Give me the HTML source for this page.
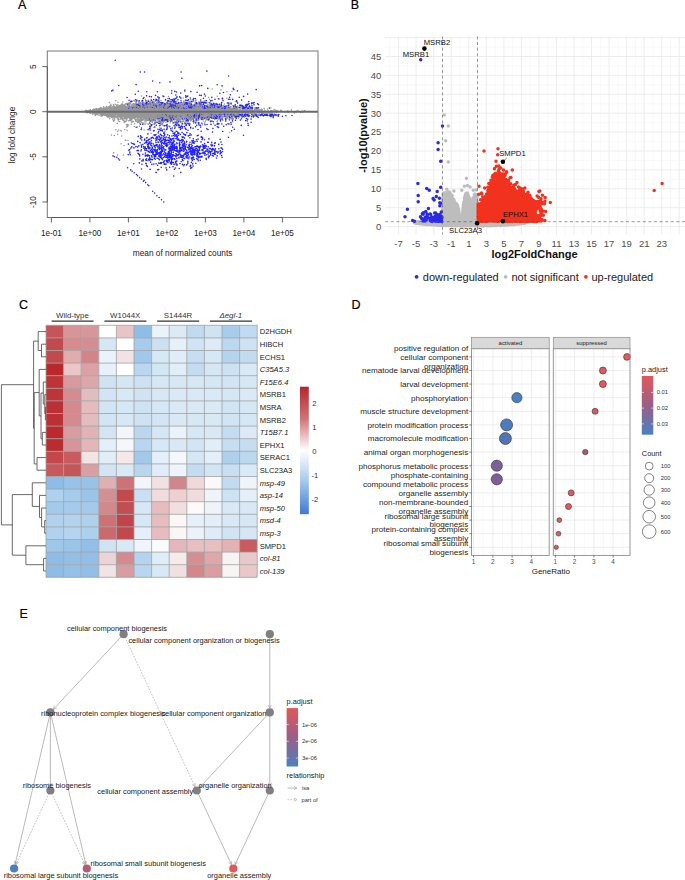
<!DOCTYPE html>
<html><head><meta charset="utf-8"><style>
html,body{margin:0;padding:0;background:#fff;}
svg{display:block;}
text{font-family:"Liberation Sans", sans-serif;}
</style></head><body>
<svg width="685" height="880" viewBox="0 0 685 880" font-family='"Liberation Sans", sans-serif'>
<rect width="685" height="880" fill="#fff"/>
<text x="18" y="9.4" font-size="12.5" fill="#000" stroke="#000" stroke-width="0.2">A</text>
<path d="M213.1 109.8h0M220.9 111.2h0M130.1 113.1h0M140.4 108.0h0M139.2 103.6h0M167.8 109.2h0M147.6 109.4h0M195.7 116.0h0M171.5 117.8h0M150.2 117.0h0M154.6 109.3h0M133.1 112.5h0M248.1 112.7h0M194.1 114.3h0M131.5 115.3h0M135.9 109.1h0M180.2 106.5h0M145.0 115.1h0M178.8 112.6h0M174.5 122.1h0M162.8 106.2h0M167.0 116.3h0M157.7 112.3h0M167.6 103.4h0M105.8 113.1h0M122.8 115.1h0M252.7 111.3h0M200.7 101.3h0M208.9 107.2h0M116.3 109.7h0M213.4 112.0h0M175.5 119.8h0M137.2 106.8h0M138.3 114.6h0M103.4 109.5h0M175.2 109.2h0M158.0 112.8h0M192.1 118.7h0M122.0 110.4h0M104.3 111.3h0M199.5 109.5h0M150.6 106.5h0M156.7 108.1h0M162.9 113.3h0M170.3 115.3h0M151.2 110.1h0M118.1 112.0h0M157.6 106.6h0M179.5 112.2h0M153.6 103.9h0M197.7 110.4h0M185.8 108.4h0M163.4 120.8h0M129.6 112.7h0M174.0 104.8h0M146.1 113.7h0M179.6 110.1h0M167.3 115.9h0M160.0 113.4h0M225.8 110.1h0M172.7 115.6h0M131.0 116.1h0M191.6 106.1h0M165.7 116.4h0M260.5 111.6h0M122.1 112.8h0M190.6 111.4h0M156.0 121.2h0M183.9 108.1h0M248.3 108.1h0M168.1 107.5h0M186.0 113.9h0M136.1 116.3h0M227.2 118.5h0M135.7 112.6h0M145.0 116.7h0M152.1 104.1h0M143.2 109.5h0M256.6 115.1h0M131.4 106.6h0M175.8 108.5h0M152.1 117.6h0M115.3 109.2h0M207.2 117.0h0M155.9 108.0h0M206.1 111.5h0M143.3 117.0h0M124.6 115.6h0M125.4 114.6h0M114.3 135.4h0M134.2 111.1h0M161.3 108.4h0M176.9 101.9h0M167.6 112.0h0M224.3 112.8h0M160.7 112.4h0M220.1 107.2h0M151.6 108.4h0M141.4 111.4h0M249.9 108.9h0M100.6 108.1h0M170.0 108.6h0M212.9 109.7h0M173.7 106.4h0M133.5 113.7h0M145.8 113.8h0M186.7 118.3h0M175.0 110.7h0M134.8 110.2h0M194.0 98.7h0M156.6 115.2h0M176.3 111.3h0M147.9 101.7h0M204.9 116.9h0M167.6 113.5h0M168.5 119.7h0M272.9 110.9h0M273.2 111.1h0M224.0 110.9h0M226.1 111.1h0M119.0 107.8h0M201.1 105.4h0M156.8 106.6h0M170.2 111.2h0M223.0 111.3h0M166.3 106.5h0M122.9 112.0h0M208.1 109.6h0M187.7 108.2h0M110.2 112.6h0M166.2 110.9h0M131.9 112.1h0M139.0 115.6h0M154.3 114.1h0M126.9 114.7h0M181.3 116.6h0M157.9 109.3h0M171.6 108.5h0M148.6 114.7h0M223.6 110.2h0M215.4 113.0h0M125.1 109.0h0M230.4 108.7h0M171.7 113.8h0M233.4 112.8h0M173.6 117.2h0M132.8 111.7h0M164.2 106.5h0M97.1 113.0h0M167.0 116.3h0M186.8 118.6h0M173.1 105.6h0M99.2 110.4h0M193.5 100.9h0M174.0 115.0h0M162.1 109.6h0M149.6 109.7h0M147.2 112.1h0M219.4 112.6h0M145.3 106.9h0M85.4 112.0h0M238.3 112.1h0M129.6 112.2h0M150.9 108.6h0M166.9 109.4h0M108.3 114.5h0M139.9 104.4h0M118.4 110.4h0M167.4 112.8h0M130.9 106.5h0M169.1 116.7h0M216.2 115.0h0M180.4 119.4h0M148.1 110.5h0M131.3 108.3h0M206.6 106.1h0M230.4 117.2h0M158.2 111.8h0M154.7 113.7h0M155.3 107.0h0M165.9 115.7h0M89.7 113.0h0M109.5 110.4h0M201.1 106.3h0M111.6 113.1h0M198.6 108.9h0M134.3 118.5h0M170.6 110.1h0M103.0 110.3h0M170.6 106.3h0M109.6 108.7h0M182.1 111.1h0M146.8 115.5h0M141.3 113.0h0M127.0 110.2h0M186.1 120.7h0M174.6 115.0h0M153.8 116.4h0M171.3 110.8h0M220.9 112.5h0M139.6 112.9h0M148.2 111.2h0M118.5 110.2h0M132.5 112.4h0M232.0 116.9h0M131.8 110.0h0M98.5 113.4h0M182.8 121.1h0M149.1 104.5h0M128.7 108.6h0M200.1 109.0h0M157.0 117.9h0M169.4 114.9h0M150.7 116.2h0M161.0 118.7h0M104.4 110.1h0M167.2 107.8h0M183.4 115.6h0M195.7 110.6h0M165.4 110.6h0M159.8 117.7h0M215.2 108.8h0M124.2 108.1h0M199.6 110.6h0M126.1 113.7h0M186.8 115.7h0M93.9 110.3h0M190.2 111.0h0M182.2 106.8h0M165.7 107.8h0M223.0 111.3h0M195.6 106.7h0M248.4 111.4h0M212.8 114.1h0M164.5 113.5h0M189.7 108.4h0M156.8 103.0h0M109.5 110.2h0M176.8 115.7h0M126.3 108.9h0M170.9 111.6h0M151.9 108.3h0M187.3 113.5h0M142.3 111.9h0M175.5 109.4h0M168.1 106.3h0M128.1 110.4h0M237.7 106.0h0M239.7 108.1h0M176.7 117.6h0M153.6 113.7h0M200.3 106.9h0M158.8 111.0h0M138.5 114.6h0M197.2 109.4h0M240.4 111.5h0M221.5 112.3h0M234.7 109.0h0M193.2 113.5h0M121.6 112.5h0M171.3 112.6h0M120.5 105.8h0M184.7 109.3h0M173.8 111.8h0M185.6 118.1h0M193.6 123.2h0M150.8 115.6h0M245.8 111.9h0M146.1 105.7h0M146.4 109.8h0M139.2 116.6h0M203.2 114.4h0M143.7 110.8h0M154.9 107.6h0M151.9 110.9h0M132.5 113.5h0M179.8 112.3h0M191.6 114.8h0M232.0 91.3h0M176.4 106.9h0M227.9 112.7h0M192.1 111.2h0M202.6 108.7h0M141.1 121.3h0M188.6 112.7h0M217.8 108.1h0M237.1 108.0h0M194.5 110.5h0M179.7 119.4h0M137.4 112.6h0M146.4 111.3h0M140.0 110.2h0M183.7 101.8h0M105.3 111.0h0M193.8 112.0h0M164.7 107.5h0M252.8 111.4h0M136.9 109.5h0M159.2 111.2h0M168.4 109.6h0M235.9 107.0h0M163.0 108.4h0M159.8 110.0h0M235.8 111.8h0M153.1 114.7h0M232.5 121.7h0M261.5 112.5h0M207.6 117.0h0M121.1 110.9h0M154.9 111.5h0M230.8 117.9h0M233.8 110.6h0M158.0 113.3h0M121.7 111.9h0M171.9 119.4h0M162.4 104.8h0M186.8 114.5h0M198.7 106.3h0M238.0 111.5h0M241.1 111.6h0M151.2 116.9h0M125.6 114.4h0M146.0 113.0h0M137.6 111.2h0M134.3 108.4h0M137.7 106.4h0M208.8 113.4h0M155.2 108.2h0M136.3 107.2h0M169.4 115.0h0M172.3 112.7h0M147.4 109.1h0M181.9 113.4h0M118.1 110.1h0M159.2 119.1h0M184.4 113.3h0M171.0 117.3h0M118.4 116.8h0M191.8 112.3h0M231.2 110.9h0M138.2 105.4h0M212.1 89.1h0M119.9 115.1h0M180.7 114.3h0M127.3 113.5h0M259.6 112.1h0M200.6 110.3h0M111.2 113.9h0M211.8 110.8h0M177.9 113.3h0M125.2 107.4h0M97.1 112.1h0M222.5 114.3h0M230.0 111.4h0M130.8 107.2h0M191.2 111.1h0M169.8 110.4h0M110.1 105.8h0M216.2 115.5h0M217.9 118.2h0M245.3 112.8h0M214.8 116.6h0M142.5 106.4h0M232.6 112.3h0M137.3 117.2h0M205.6 103.6h0M196.0 116.6h0M162.9 115.8h0M155.4 112.2h0M150.5 109.2h0M182.1 115.1h0M238.0 114.7h0M219.7 112.0h0M98.1 110.0h0M218.9 114.4h0M182.6 110.1h0M176.6 109.4h0M202.2 107.4h0M193.9 114.0h0M163.5 107.0h0M164.9 113.6h0M169.4 115.7h0M142.3 108.4h0M194.5 107.4h0M92.4 111.8h0M232.0 110.6h0M174.9 111.2h0M142.9 106.6h0M206.9 102.2h0M192.1 119.4h0M131.2 107.5h0M128.4 108.1h0M136.0 113.2h0M132.1 112.7h0M178.8 113.1h0M142.6 104.6h0M166.4 115.8h0M205.9 102.7h0M108.5 107.9h0M184.8 113.8h0M191.8 115.3h0M209.9 105.5h0M177.4 116.4h0M166.5 113.1h0M172.8 114.6h0M208.4 120.6h0M121.2 112.0h0M192.1 116.7h0M246.7 109.1h0M224.8 107.7h0M175.4 116.2h0M98.1 110.7h0M178.7 113.6h0M191.2 106.2h0M149.6 106.4h0M172.6 110.3h0M131.8 116.1h0M188.6 107.2h0M174.6 115.9h0M218.3 112.4h0M165.7 110.7h0M128.4 103.5h0M154.1 109.9h0M128.8 113.4h0M168.8 109.0h0M153.3 106.6h0M172.1 109.0h0M142.0 120.1h0M193.9 107.4h0M131.8 111.6h0M227.0 110.7h0M191.6 108.8h0M157.1 117.1h0M147.4 116.8h0M164.4 119.7h0M159.5 105.3h0M130.7 114.5h0M138.9 110.7h0M157.9 118.1h0M186.7 108.5h0M113.9 112.3h0M138.3 110.1h0M220.3 106.8h0M135.2 111.4h0M237.7 110.6h0M142.9 111.6h0M166.9 113.7h0M196.2 108.1h0M210.7 113.8h0M175.7 111.9h0M145.9 114.4h0M156.9 112.9h0M129.5 109.1h0M183.3 105.8h0M214.8 108.1h0M113.7 120.8h0M189.6 116.5h0M170.6 110.4h0M135.2 111.5h0M163.3 112.6h0M208.3 112.5h0M128.7 108.4h0M140.2 114.2h0M193.9 114.8h0M203.6 111.7h0M201.1 110.6h0M127.5 109.1h0M164.8 115.0h0M157.5 113.5h0M192.4 110.3h0M203.9 112.8h0M193.6 114.1h0M143.7 106.3h0M179.7 115.4h0M174.9 113.3h0M114.5 111.9h0M207.2 110.5h0M141.3 107.2h0M93.8 109.6h0M174.3 112.0h0M152.4 115.5h0M194.9 114.0h0M124.4 122.3h0M178.9 112.6h0M134.0 111.6h0M124.5 114.2h0M181.0 108.1h0M226.0 114.1h0M117.1 112.1h0M148.6 115.6h0M195.3 111.9h0M146.2 110.3h0M196.5 108.4h0M146.9 114.1h0M125.9 111.6h0M120.8 111.4h0M191.5 114.0h0M176.4 112.9h0M146.3 111.3h0M154.8 116.5h0M131.2 117.2h0M196.9 113.6h0M246.5 115.3h0M191.8 113.3h0M154.9 101.1h0M143.8 113.2h0M145.8 111.6h0M162.5 116.2h0M257.6 112.3h0M216.0 117.2h0M164.1 110.2h0M106.8 111.6h0M171.0 109.0h0M173.6 114.9h0M188.9 111.9h0M122.7 114.5h0M119.2 112.3h0M172.3 113.0h0M161.6 114.4h0M197.2 115.5h0M108.6 112.7h0M114.7 110.2h0M149.2 111.2h0M214.0 111.5h0M97.4 112.1h0M126.2 109.0h0M161.2 111.1h0M256.4 111.2h0M168.5 121.0h0M140.4 107.1h0M197.0 112.7h0M214.8 113.0h0M202.1 113.3h0M171.7 110.1h0M198.1 113.0h0M241.5 111.0h0M148.4 109.9h0M129.1 112.2h0M214.5 108.6h0M137.9 108.9h0M154.2 112.6h0M133.4 108.1h0M136.7 106.6h0M133.4 110.3h0M160.8 111.0h0M103.1 110.9h0M159.9 113.5h0M155.7 114.1h0M205.4 107.8h0M179.2 110.1h0M167.7 114.0h0M132.9 115.7h0M118.3 112.7h0M197.9 112.1h0M183.1 117.4h0M135.0 116.8h0M148.3 111.1h0M116.3 112.3h0M168.4 111.1h0M280.8 110.5h0M203.1 107.5h0M116.8 116.3h0M208.5 115.8h0M209.0 115.6h0M180.0 108.4h0M135.1 119.6h0M170.3 108.6h0M109.3 112.7h0M161.5 112.9h0M192.1 113.1h0M141.0 110.3h0M206.9 103.3h0M197.0 110.7h0M216.7 112.2h0M135.0 115.9h0M146.2 110.7h0M243.2 108.5h0M138.3 111.2h0M170.3 105.3h0M169.2 125.9h0M132.0 114.4h0M155.8 108.3h0M178.9 110.9h0M202.0 112.1h0M199.2 109.9h0M112.8 106.6h0M220.6 111.5h0M151.1 116.9h0M214.8 110.8h0M185.4 114.9h0M189.8 109.0h0M211.5 110.6h0M192.9 117.0h0M155.8 109.4h0M177.3 107.5h0M219.2 113.6h0M190.7 114.5h0M89.4 111.3h0M159.0 113.9h0M160.9 115.1h0M182.6 115.0h0M192.1 116.5h0M251.6 113.3h0M86.7 111.1h0M145.0 110.9h0M139.9 113.2h0M216.7 112.4h0M156.7 111.6h0M170.5 111.0h0M152.0 107.7h0M212.5 109.9h0M132.1 112.2h0M149.6 109.8h0M108.1 114.2h0M172.7 118.5h0M142.5 109.3h0M186.8 112.7h0M204.8 112.6h0M92.4 110.3h0M132.6 111.0h0M141.4 111.3h0M185.1 110.5h0M241.2 108.3h0M153.8 108.8h0M99.0 115.4h0M152.7 103.8h0M168.8 106.2h0M164.9 114.9h0M144.3 112.4h0M141.8 113.8h0M155.6 114.8h0M109.9 107.1h0M214.1 111.4h0M137.5 108.4h0M185.9 112.1h0M157.3 112.2h0M123.7 110.5h0M129.8 104.0h0M201.4 112.6h0M101.4 112.1h0M184.6 113.8h0M144.8 114.2h0M96.9 111.0h0M188.0 107.8h0M198.6 109.8h0M153.3 109.3h0M197.4 116.3h0M178.4 109.4h0M121.9 108.0h0M104.7 112.3h0M106.5 109.6h0M200.9 116.4h0M146.3 104.4h0M184.5 112.7h0M169.6 109.4h0M116.6 112.7h0M124.3 115.4h0M124.6 115.8h0M133.4 111.6h0M205.6 113.2h0M121.6 115.1h0M119.6 109.5h0M196.5 104.5h0M195.5 114.3h0M160.3 109.8h0M197.5 113.9h0M166.1 111.7h0M202.6 116.4h0M129.9 116.6h0M126.4 113.3h0M146.0 107.8h0M228.5 113.5h0M200.7 109.9h0M134.5 117.2h0M157.5 105.7h0M210.0 114.1h0M174.8 112.5h0M136.5 111.3h0M136.3 110.4h0M202.0 112.7h0M122.7 118.3h0M87.4 111.4h0M133.2 109.0h0M218.5 114.4h0M138.5 110.4h0M230.2 111.8h0M168.3 112.0h0M141.2 114.1h0M193.5 119.0h0M165.9 112.7h0M152.4 121.9h0M155.3 112.2h0M114.7 120.1h0M156.7 117.4h0M223.1 108.0h0M94.0 113.9h0M153.4 106.2h0M196.9 112.4h0M167.6 112.3h0M173.5 103.0h0M198.3 107.8h0M117.7 115.6h0M126.8 109.9h0M165.5 111.9h0M132.2 111.5h0M156.0 113.9h0M234.5 115.9h0M155.8 119.0h0M153.2 112.4h0M178.7 109.8h0M208.5 111.3h0M156.7 108.9h0M136.3 116.4h0M152.6 117.2h0M151.0 133.3h0M189.3 106.8h0M175.5 111.7h0M136.5 111.7h0M140.5 104.5h0M132.9 117.2h0M189.2 112.6h0M184.5 108.9h0M158.6 118.0h0M136.0 104.4h0M99.1 109.5h0M147.3 117.3h0M163.3 118.5h0M175.2 115.3h0M178.8 106.4h0M181.6 109.8h0M228.8 111.0h0M171.3 115.8h0M207.7 111.3h0M113.5 110.9h0M167.6 105.2h0M201.8 113.3h0M193.4 112.8h0M170.5 114.0h0M220.9 111.6h0M217.5 110.3h0M188.6 117.9h0M251.9 112.7h0M238.2 107.2h0M182.5 106.3h0M99.9 112.9h0M209.3 114.7h0M90.9 111.8h0M182.9 111.9h0M259.6 110.9h0M189.7 115.9h0M134.4 108.4h0M159.1 117.7h0M171.3 109.1h0M121.1 107.8h0M186.2 109.5h0M114.9 116.5h0M129.6 114.9h0M130.6 113.5h0M232.3 114.1h0M204.6 116.2h0M227.5 116.5h0M160.2 109.6h0M102.6 114.9h0M195.2 116.2h0M162.7 106.3h0M193.5 109.2h0M144.5 114.8h0M174.1 109.2h0M167.0 120.2h0M97.0 113.7h0M220.6 111.2h0M110.8 110.9h0M178.6 113.7h0M160.2 117.6h0M176.4 110.5h0M165.8 110.6h0M118.3 113.0h0M107.0 115.2h0M150.1 107.0h0M145.0 111.9h0M142.7 106.9h0M121.0 111.7h0M198.3 108.9h0M225.7 111.1h0M146.2 107.7h0M177.7 111.4h0M240.7 110.3h0M135.2 107.0h0M116.3 110.9h0M120.2 118.5h0M208.0 112.1h0M267.2 113.2h0M212.4 112.3h0M139.3 108.5h0M193.9 122.2h0M138.6 115.1h0M200.2 114.5h0M176.7 113.0h0M239.4 110.5h0M168.2 117.5h0M139.2 106.0h0M169.0 110.6h0M226.5 107.9h0M158.7 111.0h0M183.0 118.4h0M173.2 109.0h0M181.6 113.6h0M119.6 116.4h0M163.4 117.0h0M182.3 116.0h0M195.2 111.9h0M202.4 119.0h0M136.4 101.6h0M199.0 106.6h0M193.0 105.9h0M169.0 106.6h0M193.3 113.7h0M236.2 109.4h0M117.8 110.9h0M120.1 114.8h0M164.4 115.3h0M112.2 109.2h0M197.6 114.1h0M118.0 102.2h0M195.3 108.6h0M198.4 112.0h0M186.2 113.7h0M137.4 106.3h0M178.6 108.6h0M179.1 111.5h0M146.8 106.4h0M141.9 114.7h0M140.9 115.8h0M238.0 107.0h0M120.4 113.7h0M111.3 105.7h0M126.4 107.3h0M143.8 105.2h0M140.7 106.2h0M131.2 111.7h0M176.6 111.8h0M178.8 119.4h0M117.3 106.6h0M114.5 110.3h0M119.9 112.7h0M166.1 119.4h0M200.2 112.9h0M183.3 106.0h0M131.7 111.6h0M207.3 114.9h0M218.6 111.8h0M106.0 110.8h0M187.9 113.4h0M191.4 119.0h0M138.9 117.6h0M214.8 110.6h0M162.8 118.7h0M89.8 110.8h0M86.1 111.9h0M204.8 122.3h0M175.7 110.5h0M159.0 99.5h0M132.3 114.8h0M179.8 113.4h0M231.0 106.7h0M202.5 111.2h0M208.6 115.8h0M166.0 107.1h0M141.0 107.5h0M180.0 116.6h0M148.6 104.8h0M116.0 112.5h0M205.3 114.3h0M176.3 118.1h0M186.5 103.2h0M202.7 112.4h0M187.1 105.2h0M177.9 114.6h0M154.2 119.2h0M120.7 111.6h0M133.9 108.0h0M98.7 110.2h0M218.5 112.2h0M212.6 107.9h0M140.6 111.3h0M170.2 113.2h0M146.4 112.5h0M161.7 111.8h0M228.9 113.6h0M148.4 113.4h0M229.1 113.5h0M217.2 111.3h0M240.8 110.5h0M174.1 105.8h0M242.5 112.1h0M159.4 109.1h0M155.1 109.7h0M206.7 106.1h0M163.0 112.8h0M180.8 107.8h0M204.2 113.7h0M194.7 108.2h0M160.3 109.7h0M204.3 117.2h0M161.2 114.2h0M139.2 112.9h0M128.9 106.3h0M149.7 115.4h0M180.3 112.4h0M136.1 112.8h0M201.8 115.3h0M139.9 105.5h0M168.3 118.8h0M148.7 111.7h0M185.3 109.9h0M166.7 116.2h0M167.1 107.2h0M157.4 112.2h0M244.5 117.1h0M275.8 110.7h0M156.9 109.8h0M209.6 109.0h0M125.5 107.2h0M176.6 114.3h0M172.8 116.6h0M194.3 108.7h0M164.8 108.6h0M215.4 111.9h0M195.0 113.6h0M156.1 107.0h0M104.0 115.1h0M145.5 110.3h0M255.3 108.0h0M102.6 115.7h0M131.4 110.8h0M180.3 111.4h0M176.6 109.3h0M152.0 109.1h0M131.7 113.2h0M198.6 111.1h0M137.6 112.3h0M190.7 110.1h0M164.5 116.4h0M159.9 117.5h0M161.7 109.5h0M129.5 120.3h0M157.7 107.2h0M138.5 116.0h0M147.0 119.3h0M146.7 105.4h0M125.5 111.9h0M175.7 113.6h0M145.3 118.3h0M144.6 107.6h0M149.5 113.6h0M160.0 112.2h0M130.2 114.5h0M222.4 111.9h0M170.7 109.9h0M184.0 112.9h0M125.8 111.0h0M142.5 106.5h0M159.5 107.0h0M124.5 109.3h0M186.6 103.0h0M124.8 111.4h0M168.9 113.6h0M163.6 104.9h0M185.2 110.7h0M229.7 113.6h0M112.6 108.0h0M122.1 112.6h0M142.7 123.0h0M158.7 111.8h0M153.5 113.7h0M166.4 117.8h0M215.1 110.1h0M151.8 107.4h0M89.3 111.5h0M164.0 112.4h0M143.3 119.5h0M179.5 111.3h0M161.5 112.8h0M180.8 107.4h0M99.8 109.2h0M148.8 109.7h0M121.2 110.1h0M170.6 99.8h0M158.3 102.9h0M170.5 114.3h0M157.0 107.3h0M154.9 115.8h0M178.1 109.2h0M203.2 121.0h0M96.4 109.5h0M131.5 109.8h0M180.5 108.0h0M199.5 114.7h0M182.4 111.8h0M210.7 109.3h0M218.5 114.4h0M163.1 110.7h0M117.3 108.9h0M97.2 110.7h0M177.3 111.3h0M182.1 104.5h0M131.6 113.5h0M148.3 108.2h0M151.0 116.3h0M155.7 107.9h0M157.2 109.9h0M142.2 119.1h0M258.7 110.2h0M172.5 116.7h0M178.0 105.7h0M195.8 114.2h0M149.2 112.8h0M252.0 113.6h0M185.0 105.6h0M173.8 113.0h0M119.7 116.2h0M201.5 116.7h0M168.4 115.7h0M117.6 134.2h0M175.2 110.7h0M204.5 111.3h0M147.3 109.0h0M130.5 109.5h0M172.8 104.6h0M165.3 106.8h0M170.9 108.9h0M122.1 108.6h0M144.2 116.2h0M122.2 113.6h0M210.8 110.8h0M134.3 114.5h0M173.4 104.7h0M109.1 112.1h0M214.9 112.2h0M190.1 114.1h0M185.1 109.0h0M120.7 109.4h0M221.3 104.0h0M250.7 110.2h0M167.0 115.0h0M171.1 110.5h0M113.2 115.8h0M172.1 106.2h0M148.4 118.2h0M124.6 111.0h0M226.3 106.8h0M162.0 123.6h0M139.4 102.1h0M185.9 115.7h0M190.4 108.5h0M180.7 110.7h0M113.3 108.2h0M145.2 116.4h0M191.4 114.1h0M206.0 113.3h0M193.8 108.3h0M189.5 113.0h0M155.5 113.7h0M156.2 113.7h0M141.5 119.8h0M152.8 110.6h0M122.7 112.0h0M198.8 110.0h0M181.2 104.6h0M138.8 102.4h0M120.4 111.8h0M227.9 109.3h0M221.3 116.4h0M192.2 114.0h0M166.5 111.9h0M189.2 113.3h0M164.8 115.5h0M200.5 109.8h0M161.4 112.9h0M151.6 119.6h0M124.6 112.2h0M207.4 110.0h0M140.6 115.6h0M172.2 114.4h0M218.7 111.8h0M146.6 114.9h0M108.8 111.2h0M179.7 103.9h0M205.3 103.3h0M138.0 109.4h0M165.8 113.2h0M166.3 110.8h0M179.1 106.7h0M122.0 107.5h0M114.0 109.8h0M194.4 109.9h0M148.9 109.0h0M127.2 125.4h0M227.5 112.4h0M169.5 112.6h0M150.4 118.1h0M124.9 113.1h0M223.4 116.6h0M139.4 126.2h0M150.1 109.3h0M166.7 114.1h0M139.2 107.9h0M235.7 114.9h0M174.8 113.9h0M153.4 105.5h0M158.5 117.2h0M160.7 118.2h0M186.8 119.3h0M179.1 113.0h0M155.8 110.6h0M177.6 109.1h0M145.9 117.3h0M132.6 116.1h0M157.0 110.5h0M205.3 111.8h0M176.4 112.6h0M219.7 107.6h0M126.2 118.0h0M146.2 114.0h0M117.3 109.1h0M194.9 110.2h0M215.2 107.4h0M172.5 114.3h0M296.6 111.5h0M94.6 111.3h0M106.2 111.8h0M161.9 119.3h0M218.5 112.7h0M158.8 115.1h0M164.7 114.0h0M181.3 111.5h0M238.5 113.0h0M164.4 113.0h0M126.7 115.0h0M186.8 105.5h0M92.6 111.8h0M88.9 110.4h0M187.2 110.7h0M227.2 111.3h0M193.6 112.0h0M196.3 105.5h0M143.7 111.6h0M120.3 110.5h0M176.7 105.6h0M223.1 111.2h0M117.2 116.5h0M174.6 101.5h0M105.1 109.9h0M135.9 112.5h0M148.7 110.2h0M288.1 112.5h0M137.7 112.9h0M172.4 105.1h0M187.7 113.0h0M239.2 114.6h0M169.5 116.6h0M132.0 120.0h0M213.8 108.7h0M133.8 114.1h0M215.8 113.6h0M247.1 109.6h0M167.3 105.7h0M169.9 110.7h0M145.1 106.0h0M127.4 116.6h0M138.2 110.8h0M120.3 112.4h0M161.2 116.1h0M202.0 113.8h0M103.5 108.2h0M193.3 111.6h0M152.1 117.2h0M137.5 109.9h0M113.2 117.2h0M203.9 115.2h0M162.4 107.8h0M134.8 111.5h0M155.9 110.7h0M137.7 107.6h0M203.7 111.3h0M203.1 107.5h0M271.9 115.4h0M121.8 114.1h0M210.4 115.2h0M188.4 107.8h0M172.9 110.5h0M183.5 112.6h0M215.9 115.6h0M191.2 107.7h0M188.6 106.8h0M142.2 115.5h0M103.4 114.0h0M177.2 109.1h0M149.9 108.8h0M182.3 113.9h0M178.9 110.6h0M152.8 112.5h0M168.1 110.7h0M150.3 109.3h0M235.9 114.8h0M133.9 110.5h0M121.1 117.1h0M155.4 112.5h0M188.8 116.2h0M120.2 109.6h0M113.9 110.5h0M168.7 113.9h0M189.4 118.4h0M161.8 111.4h0M209.1 108.9h0M165.6 112.3h0M238.3 110.1h0M101.2 108.5h0M183.5 105.4h0M221.0 113.2h0M213.6 107.9h0M184.9 110.9h0M167.5 120.9h0M143.3 110.6h0M145.9 113.4h0M175.0 119.0h0M202.2 114.6h0M186.9 118.0h0M109.5 116.6h0M144.5 108.8h0M225.7 110.7h0M197.6 107.9h0M181.8 113.5h0M148.9 109.9h0M218.6 112.8h0M148.0 107.5h0M249.3 106.1h0M154.4 119.8h0M226.6 111.2h0M113.7 152.8h0M247.7 111.8h0M207.7 112.3h0M119.5 112.2h0M130.0 119.9h0M195.1 111.9h0M150.8 107.6h0M154.8 103.5h0M220.9 111.4h0M154.1 111.1h0M114.4 113.1h0M137.9 111.4h0M149.0 115.0h0M178.9 112.2h0M108.9 113.0h0M142.5 113.0h0M201.4 112.7h0M155.1 104.7h0M154.5 111.9h0M181.2 114.6h0M208.6 113.5h0M135.7 111.2h0M125.3 117.1h0M181.5 113.3h0M202.4 112.9h0M213.8 113.9h0M160.1 114.4h0M126.9 115.3h0M212.2 116.3h0M203.0 111.0h0M160.3 117.9h0M177.8 107.7h0M118.2 110.0h0M159.1 113.8h0M182.5 116.4h0M180.6 112.8h0M256.1 114.6h0M145.7 115.6h0M174.1 120.1h0M202.8 111.1h0M147.0 107.4h0M130.3 114.9h0M221.4 115.1h0M165.9 108.7h0M159.4 113.5h0M159.6 111.7h0M103.3 111.6h0M178.7 111.3h0M194.0 111.8h0M121.8 114.3h0M208.8 107.5h0M149.3 112.0h0M169.4 116.1h0M133.6 116.3h0M153.5 116.0h0M139.4 112.0h0M152.6 105.8h0M153.1 108.4h0M190.2 111.0h0M207.3 113.0h0M133.8 105.6h0M137.8 109.8h0M160.5 107.1h0M189.1 119.1h0M117.5 131.2h0M146.1 116.8h0M166.3 114.8h0M267.5 109.3h0M139.8 111.6h0M190.4 108.1h0M174.5 113.8h0M192.1 110.2h0M188.4 110.1h0M104.3 111.6h0M208.4 118.1h0M176.1 115.7h0M156.0 116.4h0M143.7 112.8h0M204.6 113.1h0M97.6 111.0h0M121.3 130.9h0M236.3 106.6h0M207.0 111.2h0M204.4 109.0h0M231.2 110.3h0M167.8 126.2h0M255.2 109.9h0M174.4 110.1h0M128.1 114.1h0M165.6 110.1h0M135.1 105.0h0M138.1 107.5h0M207.9 116.0h0M189.2 102.8h0M186.6 102.9h0M197.7 107.4h0M96.0 112.8h0M151.1 110.8h0M243.3 106.6h0M205.7 108.0h0M189.4 108.8h0M168.0 110.8h0M174.1 107.3h0M173.6 113.8h0M157.0 108.3h0M213.7 110.8h0M208.9 112.4h0M241.8 111.3h0M160.2 114.3h0M86.6 110.6h0M214.6 112.2h0M148.4 114.0h0M216.9 109.8h0M169.8 112.9h0M191.9 108.5h0M186.4 110.9h0M152.6 108.6h0M130.7 112.7h0M233.6 115.2h0M152.7 114.5h0M112.8 113.8h0M114.8 113.0h0M131.7 108.0h0M182.5 111.3h0M120.2 108.4h0M181.1 116.5h0M172.8 111.0h0M202.2 116.5h0M213.1 110.5h0M108.2 112.0h0M184.7 122.5h0M144.4 112.5h0M170.0 110.5h0M171.9 112.6h0M115.1 114.8h0M150.1 108.9h0M153.1 114.8h0M108.0 110.1h0M171.3 114.3h0M152.4 110.9h0M195.5 104.7h0M133.5 115.7h0M163.3 116.8h0M131.6 113.4h0M157.7 113.3h0M207.5 112.7h0M154.1 102.2h0M161.8 111.3h0M201.7 115.4h0M223.9 112.5h0M144.3 113.7h0M188.8 111.5h0M244.0 112.8h0M167.9 106.3h0M184.9 118.8h0M160.6 110.5h0M156.0 109.4h0M135.9 109.2h0M148.5 119.9h0M225.5 114.7h0M160.2 110.3h0M180.9 109.2h0M108.2 114.2h0M192.7 113.0h0M106.8 108.8h0M222.8 120.4h0M178.7 116.1h0M203.5 106.4h0M90.1 112.1h0M200.3 117.0h0M185.3 110.2h0M154.7 116.8h0M98.4 111.1h0M100.1 111.4h0M159.8 116.4h0M223.8 114.0h0M173.4 111.9h0M196.7 106.6h0M157.0 102.6h0M138.9 103.4h0M190.9 106.3h0M133.7 113.6h0M154.1 117.2h0M141.7 116.2h0M150.8 109.3h0M217.8 111.9h0M210.5 110.8h0M209.1 108.7h0M157.2 110.8h0M96.3 114.4h0M168.9 111.6h0M185.1 106.8h0M128.5 120.8h0M106.4 113.3h0M120.5 111.0h0M111.9 109.9h0M130.3 108.9h0M193.3 112.3h0M119.4 112.5h0M128.8 112.9h0M215.9 114.4h0M218.7 108.1h0M143.0 106.2h0M200.5 108.9h0M192.1 116.7h0M219.0 114.0h0M177.3 112.8h0M255.5 113.4h0M144.6 113.9h0M184.7 109.6h0M137.2 106.7h0M157.9 113.7h0M102.9 113.1h0M161.2 108.1h0M100.1 111.6h0M148.9 105.0h0M158.5 114.0h0M209.6 99.2h0M172.9 107.6h0M209.2 113.4h0M234.1 106.2h0M203.2 115.3h0M237.6 112.5h0M172.9 114.2h0M163.0 109.9h0M167.2 104.3h0M172.2 105.6h0M217.0 108.4h0M111.2 115.5h0M206.7 111.2h0M159.0 117.1h0M296.0 112.2h0M132.9 111.5h0M165.9 112.5h0M183.7 119.2h0M161.9 116.8h0M150.3 116.0h0M190.3 111.8h0M102.4 111.6h0M152.1 110.9h0M170.7 116.1h0M165.3 105.1h0M217.5 109.5h0M167.4 111.7h0M171.6 106.1h0M195.2 108.0h0M160.8 115.6h0M181.5 112.4h0M177.0 113.3h0M165.3 112.4h0M126.7 115.5h0M201.6 111.8h0M204.6 112.4h0M155.0 113.1h0M168.5 110.6h0M159.0 106.8h0M105.6 110.2h0M155.4 116.5h0M164.6 116.5h0M101.4 113.2h0M93.2 111.7h0M130.3 112.8h0M178.3 115.2h0M128.0 106.6h0M140.5 115.4h0M162.5 109.7h0M159.5 120.6h0M169.8 114.8h0M142.1 113.5h0M254.4 110.1h0M209.7 118.1h0M180.3 117.0h0M165.8 104.4h0M129.7 112.4h0M199.0 116.9h0M185.4 117.7h0M156.7 110.4h0M162.3 114.4h0M197.4 114.3h0M179.7 106.4h0M172.6 113.7h0M218.1 106.9h0M205.6 107.6h0M197.4 111.2h0M238.1 111.7h0M173.1 111.2h0M113.7 111.6h0M205.7 112.4h0M145.2 114.0h0M123.5 110.9h0M173.4 107.2h0M98.1 112.4h0M192.1 118.6h0M228.5 115.7h0M90.5 112.4h0M186.9 108.5h0M167.3 112.7h0M147.7 110.7h0M167.8 105.8h0M153.9 111.1h0M101.7 109.1h0M143.6 113.9h0M196.2 112.0h0M191.7 110.6h0M124.7 111.3h0M127.7 115.7h0M146.5 114.0h0M137.0 107.4h0M163.4 103.5h0M129.6 104.1h0M174.9 111.8h0M208.5 97.4h0M95.0 110.1h0M150.7 109.8h0M171.3 111.4h0M202.6 111.4h0M137.5 109.1h0M153.8 107.0h0M107.7 114.7h0M154.6 107.6h0M186.4 112.5h0M134.1 107.7h0M174.1 114.6h0M198.4 114.4h0M194.6 108.1h0M171.6 114.7h0M160.9 111.2h0M225.6 110.8h0M114.8 112.6h0M130.2 107.5h0M143.5 107.7h0M167.8 113.1h0M103.8 109.8h0M162.6 110.7h0M167.9 114.0h0M187.8 105.5h0M108.3 108.8h0M219.1 105.4h0M168.8 113.8h0M108.1 111.6h0M164.4 110.5h0M111.6 114.6h0M174.1 109.4h0M229.9 110.5h0M166.9 111.6h0M147.4 120.1h0M106.9 111.6h0M154.4 114.4h0M135.1 108.5h0M113.8 107.9h0M168.0 114.4h0M137.8 107.6h0M211.1 111.4h0M151.2 96.8h0M222.6 116.7h0M191.3 104.4h0M165.0 114.1h0M140.2 113.2h0M189.3 114.0h0M147.5 107.2h0M113.2 113.9h0M136.0 112.9h0M130.2 109.6h0M213.7 109.5h0M126.9 112.2h0M172.3 110.7h0M138.4 105.1h0M129.4 106.5h0M178.9 113.9h0M134.9 111.8h0M161.7 116.2h0M117.7 110.8h0M157.1 114.6h0M158.1 114.5h0M128.0 117.8h0M199.2 115.6h0M212.3 111.3h0M110.0 107.3h0M91.4 111.1h0M217.4 118.7h0M129.2 115.5h0M197.2 108.7h0M200.1 107.8h0M207.3 115.3h0M181.8 114.0h0M196.9 103.4h0M182.4 108.6h0M162.9 111.8h0M226.5 113.4h0M142.1 114.6h0M181.2 109.8h0M129.6 109.9h0M164.3 111.4h0M147.1 119.0h0M122.8 116.6h0M172.5 114.5h0M126.3 109.4h0M168.5 118.2h0M203.9 111.1h0M228.7 109.6h0M230.7 111.7h0M130.6 111.8h0M201.8 108.9h0M106.5 113.3h0M158.3 118.9h0M216.2 114.0h0M185.8 113.6h0M152.3 116.9h0M212.9 111.3h0M129.8 112.9h0M146.5 115.5h0M144.7 117.5h0M174.6 113.3h0M156.3 113.7h0M249.1 110.1h0M201.4 118.3h0M132.7 104.1h0M95.4 113.9h0M105.6 111.9h0M231.9 113.2h0M180.7 114.5h0M148.3 113.6h0M210.2 117.5h0M147.4 110.3h0M157.5 105.3h0M207.2 108.0h0M198.9 108.6h0M175.2 123.3h0M161.7 106.8h0M110.8 104.2h0M100.5 110.4h0M180.1 111.8h0M183.7 110.9h0M151.3 107.9h0M116.2 108.9h0M134.0 103.4h0M153.0 102.8h0M116.9 107.5h0M140.7 121.8h0M174.6 114.8h0M173.6 100.7h0M112.9 109.1h0M160.5 114.6h0M197.0 111.0h0M182.3 113.2h0M229.7 109.8h0M108.1 117.3h0M110.1 111.8h0M223.2 109.9h0M167.2 106.1h0M103.7 112.8h0M174.9 112.6h0M270.2 112.7h0M181.6 113.0h0M86.8 112.8h0M163.3 106.8h0M259.2 113.2h0M208.3 109.8h0M121.6 118.3h0M151.8 108.8h0M217.5 106.1h0M195.9 112.6h0M209.1 108.3h0M165.8 117.0h0M148.7 113.3h0M216.6 108.7h0M129.3 111.2h0M153.5 108.3h0M193.4 112.8h0M236.7 112.8h0M128.2 114.8h0M179.2 116.1h0M127.7 115.9h0M185.3 113.8h0M195.8 110.6h0M165.1 115.8h0M145.5 113.3h0M113.4 109.0h0M171.8 113.6h0M197.0 107.6h0M92.9 110.3h0M181.3 107.8h0M247.7 113.3h0M158.3 108.1h0M186.6 111.5h0M199.9 116.1h0M88.8 112.6h0M180.3 105.9h0M218.6 108.4h0M161.2 124.4h0M172.7 114.3h0M211.1 106.3h0M170.0 108.5h0M188.4 116.3h0M208.1 111.1h0M199.3 114.6h0M205.3 110.4h0M140.4 109.5h0M259.7 112.5h0M146.9 110.1h0M119.9 107.4h0M135.3 105.8h0M175.7 110.3h0M150.1 107.4h0M127.7 117.7h0M136.7 111.3h0M158.3 105.3h0M171.0 112.6h0M131.4 115.5h0M255.3 115.1h0M171.2 114.4h0M192.4 110.1h0M189.6 112.5h0M153.4 110.8h0M145.1 108.7h0M109.8 112.1h0M252.3 107.7h0M157.4 109.8h0M136.3 116.5h0M125.1 109.5h0M190.9 118.2h0M86.7 111.0h0M191.7 111.2h0M232.8 113.7h0M180.6 112.6h0M226.8 113.8h0M158.7 121.5h0M247.0 112.2h0M210.9 117.1h0M169.6 110.7h0M150.5 107.0h0M154.5 111.1h0M88.0 111.8h0M154.2 105.9h0M212.3 112.0h0M152.3 113.3h0M176.2 112.7h0M188.9 116.4h0M107.3 110.1h0M131.0 119.2h0M238.7 113.0h0M172.6 115.3h0M146.6 118.7h0M221.2 110.4h0M216.1 112.4h0M171.2 108.2h0M178.0 108.3h0M163.9 119.0h0M240.3 106.9h0M151.7 114.1h0M178.4 115.4h0M94.0 110.1h0M150.3 109.8h0M251.2 108.2h0M156.6 116.0h0M153.6 118.4h0M153.3 107.9h0M143.2 112.2h0M175.3 115.4h0M219.7 110.2h0M141.4 114.8h0M130.5 110.8h0M199.8 111.8h0M91.4 112.3h0M129.6 117.0h0M209.9 110.8h0M193.2 110.7h0M114.3 116.7h0M144.2 107.3h0M270.7 111.2h0M103.5 111.6h0M121.7 108.8h0M137.7 108.3h0M149.2 108.0h0M159.9 102.5h0M220.3 106.5h0M153.8 106.9h0M210.8 106.7h0M158.7 110.2h0M161.3 103.1h0M97.8 111.4h0M94.2 112.0h0M195.7 105.8h0M237.9 108.9h0M157.5 113.0h0M158.2 110.5h0M164.8 113.8h0M165.5 109.6h0M213.6 111.2h0M167.1 109.7h0M189.0 113.4h0M181.9 110.3h0M174.6 111.5h0M242.5 116.8h0M123.1 108.0h0M106.7 112.2h0M113.1 109.6h0M185.8 115.7h0M134.9 108.1h0M172.1 108.3h0M123.6 113.5h0M151.4 107.3h0M155.1 108.1h0M174.6 115.7h0M259.2 109.8h0M126.8 113.1h0M208.9 111.5h0M147.7 113.4h0M165.0 110.8h0M219.5 110.9h0M199.8 117.5h0M226.9 98.2h0M158.7 111.0h0M204.7 106.6h0M170.6 109.6h0M160.4 121.2h0M142.7 116.8h0M160.4 111.5h0M157.0 109.9h0M163.8 111.8h0M186.0 109.8h0M186.6 106.6h0M117.3 113.3h0M189.5 112.6h0M184.4 112.7h0M188.4 105.0h0M135.7 110.6h0M213.5 109.2h0M153.5 113.4h0M131.9 111.2h0M125.5 113.0h0M170.8 112.7h0M197.7 103.4h0M200.0 105.0h0M99.8 108.8h0M225.2 110.4h0M170.0 113.8h0M168.0 115.5h0M188.7 105.8h0M194.7 106.9h0M122.1 113.1h0M145.0 114.3h0M179.3 110.0h0M149.6 116.3h0M256.1 110.1h0M197.3 113.9h0M128.7 108.6h0M134.5 118.5h0M157.2 112.1h0M161.9 112.7h0M133.2 115.0h0M156.8 115.3h0M167.5 115.1h0M115.5 111.6h0M149.4 109.6h0M183.9 115.8h0M162.0 108.3h0M117.3 116.5h0M159.3 101.4h0M209.2 110.9h0M186.4 108.0h0M120.6 109.4h0M211.5 109.4h0M171.9 108.0h0M184.9 110.3h0M212.9 108.6h0M167.0 107.3h0M165.7 113.6h0M156.5 113.1h0M139.3 115.6h0M111.9 114.7h0M126.0 103.9h0M152.7 112.9h0M111.4 109.0h0M168.9 113.0h0M153.1 112.4h0M154.1 111.9h0M192.1 111.5h0M86.8 112.4h0M250.1 112.1h0M129.7 112.3h0M161.6 109.9h0M161.5 113.3h0M140.1 108.6h0M153.4 112.8h0M164.6 109.9h0M210.4 108.7h0M194.8 105.2h0M192.5 101.8h0M189.9 107.5h0M154.6 114.7h0M132.5 117.6h0M175.6 115.6h0M186.4 107.2h0M141.5 113.7h0M145.8 115.3h0M165.3 113.1h0M203.9 107.5h0M183.7 109.3h0M157.8 114.2h0M167.4 119.2h0M252.6 115.5h0M164.2 126.2h0M176.8 114.5h0M136.7 114.8h0M127.8 114.1h0M130.6 116.1h0M172.1 101.8h0M188.0 107.9h0M161.2 112.5h0M200.4 113.4h0M138.1 116.7h0M164.8 107.8h0M220.2 112.0h0M137.8 111.5h0M133.9 111.2h0M138.9 111.9h0M219.9 110.9h0M100.2 110.9h0M126.4 124.8h0M132.4 117.0h0M219.3 112.4h0M137.0 115.7h0M147.3 106.7h0M226.7 111.5h0M170.7 117.6h0M199.9 112.6h0M174.3 116.1h0M207.1 118.8h0M136.8 116.0h0M158.5 110.4h0M202.5 111.4h0M105.7 111.4h0M155.1 112.2h0M119.5 106.6h0M203.8 113.1h0M170.2 113.9h0M142.6 117.2h0M218.1 111.9h0M171.4 105.5h0M232.9 111.3h0M249.0 113.7h0M157.6 110.8h0M139.6 116.6h0M159.0 110.2h0M158.8 111.9h0M124.9 111.5h0M189.0 111.1h0M263.8 112.7h0M226.1 110.8h0M173.8 106.5h0M212.6 115.8h0M167.7 112.5h0M188.6 101.9h0M211.2 112.0h0M194.3 109.4h0M161.8 107.0h0M111.1 114.6h0M174.0 113.0h0M152.7 101.2h0M139.0 113.8h0M185.7 111.1h0M201.8 107.3h0M188.5 111.8h0M192.9 112.9h0M188.4 102.2h0M162.4 118.6h0M157.3 114.9h0M131.3 118.6h0M201.0 109.5h0M148.7 114.3h0M164.5 117.7h0M136.1 114.0h0M207.9 110.9h0M153.0 115.3h0M187.0 109.7h0M161.7 120.6h0M169.7 114.7h0M153.0 117.4h0M221.6 111.7h0M136.1 111.1h0M166.0 113.7h0M195.9 106.5h0M157.9 102.2h0M179.5 115.7h0M171.3 111.5h0M125.3 108.4h0M113.8 113.6h0M189.5 123.9h0M161.0 113.9h0M194.9 111.6h0M170.8 107.3h0M202.7 112.4h0M171.6 114.6h0M115.7 111.3h0M146.5 111.1h0M173.2 110.7h0M180.0 108.0h0M161.6 108.8h0M112.4 113.0h0M138.6 111.5h0M209.2 114.3h0M179.5 119.0h0M205.4 111.1h0M193.3 111.2h0M158.7 113.8h0M161.4 106.8h0M236.6 111.0h0M141.4 111.9h0M141.6 111.1h0M186.3 110.4h0M247.2 112.0h0M130.8 120.3h0M104.1 112.5h0M130.6 109.4h0M247.6 111.1h0M208.3 116.7h0M168.7 110.6h0M207.5 113.3h0M144.1 105.0h0M210.6 109.4h0M131.9 111.2h0M173.0 111.2h0M164.5 108.5h0M239.6 117.1h0M140.0 111.4h0M232.3 108.9h0M168.5 114.0h0M158.5 117.3h0M191.0 119.3h0M182.7 113.8h0M207.9 111.0h0M137.4 113.5h0M133.5 111.6h0M145.4 109.3h0M191.6 113.2h0M148.1 111.7h0M179.1 118.2h0M221.9 109.4h0M184.0 105.0h0M214.5 111.2h0M156.1 112.8h0M109.9 114.3h0M167.3 107.3h0M194.5 108.9h0M179.3 109.4h0M209.5 111.5h0M103.2 114.5h0M139.2 107.3h0M114.2 115.7h0M187.6 111.6h0M102.9 115.1h0M125.2 103.9h0M203.0 106.9h0M173.5 111.7h0M143.9 115.8h0M185.6 118.0h0M160.4 108.8h0M237.6 115.4h0M170.9 116.3h0M171.5 104.9h0M145.9 110.0h0M88.5 111.6h0M144.7 104.3h0M133.2 105.6h0M160.4 114.8h0M139.1 110.3h0M168.8 115.4h0M141.1 110.9h0M92.9 111.7h0M188.5 104.8h0M153.1 112.8h0M117.2 117.9h0M229.0 111.5h0M182.2 112.7h0M217.8 106.7h0M190.8 112.7h0M191.1 104.1h0M157.2 110.1h0M87.3 112.8h0M210.8 109.2h0M104.0 112.1h0M187.4 113.7h0M248.6 112.4h0M180.3 108.0h0M201.2 103.8h0M197.0 117.6h0M131.0 112.1h0M156.3 114.8h0M202.6 111.4h0M147.0 111.9h0M196.9 108.0h0M209.8 106.8h0M159.3 111.2h0M187.8 117.0h0M215.4 109.1h0M113.7 116.8h0M164.8 110.9h0M93.6 113.3h0M127.8 116.6h0M215.9 110.8h0M194.7 112.8h0M171.3 116.3h0M167.8 113.0h0M166.0 103.9h0M178.4 115.0h0M141.6 115.9h0M198.1 107.3h0M138.2 114.9h0M206.5 106.6h0M191.0 108.5h0M182.8 106.9h0M203.9 113.7h0M154.7 119.5h0M98.9 111.2h0M211.5 112.0h0M168.1 117.7h0M140.3 110.7h0M171.1 112.4h0M202.6 113.7h0M137.7 122.4h0M187.6 118.0h0M207.1 112.4h0M121.9 107.0h0M146.5 116.6h0M177.1 110.3h0M192.8 105.5h0M196.2 109.8h0M130.0 108.8h0M225.8 110.5h0M159.2 113.8h0M187.9 114.0h0M180.4 113.8h0M227.1 110.2h0M132.3 110.0h0M158.8 110.2h0M171.4 116.3h0M101.1 112.3h0M226.1 114.1h0M201.6 106.7h0M134.7 109.2h0M135.2 113.5h0M191.0 103.2h0M201.3 116.9h0M185.4 113.8h0M194.4 109.0h0M206.5 116.7h0M191.0 110.5h0M195.4 110.5h0M204.1 112.5h0M178.5 111.4h0M221.0 114.0h0M179.4 110.4h0M207.7 108.5h0M112.9 110.7h0M212.2 112.1h0M196.2 112.5h0M199.5 110.7h0M148.1 113.7h0M121.5 109.2h0M173.1 114.3h0M163.7 114.2h0M183.8 110.2h0M258.1 111.3h0M188.8 119.2h0M106.8 116.2h0M172.7 110.9h0M219.8 112.2h0M203.1 110.8h0M129.4 113.4h0M117.3 111.1h0M188.9 113.6h0M256.6 110.4h0M163.5 111.0h0M189.4 111.8h0M114.7 113.4h0M156.6 105.9h0M195.9 114.9h0M103.9 112.3h0M134.3 110.7h0M196.7 115.7h0M182.0 114.8h0M101.5 114.7h0M172.8 116.8h0M168.1 117.5h0M232.5 110.5h0M215.6 115.5h0M187.3 117.6h0M165.6 108.1h0M204.3 109.1h0M167.1 107.7h0M184.3 108.8h0M138.6 113.8h0M173.1 109.8h0M183.8 119.8h0M200.7 106.1h0M102.7 112.0h0M244.4 112.3h0M152.3 113.0h0M158.9 113.3h0M158.3 109.5h0M146.5 118.4h0M177.4 119.2h0M130.5 118.4h0M150.0 117.5h0M166.6 109.2h0M146.0 106.3h0M192.6 112.4h0M181.5 109.9h0M156.3 110.8h0M165.0 114.3h0M108.4 111.3h0M189.7 113.4h0M139.7 113.5h0M140.1 106.8h0M167.9 107.8h0M124.2 115.1h0M106.3 111.1h0M119.4 110.7h0M157.4 110.7h0M138.6 101.9h0M201.3 110.1h0M145.2 108.1h0M118.1 113.6h0M150.6 113.2h0M122.0 111.5h0M149.4 115.6h0M139.4 112.3h0M196.5 109.4h0M163.8 111.6h0M151.0 113.6h0M211.0 113.1h0M198.1 115.1h0M177.8 116.7h0M100.4 111.8h0M127.4 111.2h0M166.7 107.1h0M163.0 112.4h0M153.4 112.2h0M176.8 110.3h0M220.5 116.7h0M225.4 113.7h0M142.5 112.7h0M210.6 111.9h0M185.2 116.8h0M185.5 114.1h0M125.0 111.7h0M166.2 103.5h0M159.6 113.5h0M147.1 107.3h0M120.2 106.4h0M210.4 115.3h0M182.2 112.7h0M134.2 110.0h0M145.3 110.1h0M169.0 114.3h0M125.4 108.8h0M142.9 113.5h0M152.5 114.1h0M146.3 110.3h0M187.0 110.9h0M261.9 115.2h0M210.2 113.1h0M121.0 115.9h0M149.1 113.4h0M217.2 107.7h0M180.6 114.8h0M172.1 106.7h0M205.7 113.6h0M251.6 109.9h0M201.8 105.9h0M133.7 114.2h0M137.5 112.1h0M113.4 113.2h0M195.1 116.2h0M175.6 115.9h0M115.7 114.8h0M86.6 111.7h0M210.6 114.1h0M202.5 113.2h0M167.2 107.0h0M191.8 106.2h0M170.2 104.4h0M100.0 108.6h0M125.8 106.2h0M98.9 111.9h0M201.2 114.8h0M155.4 107.9h0M169.4 114.5h0M143.6 118.5h0M223.8 108.4h0M218.2 108.1h0M149.1 118.2h0M107.0 112.1h0M267.6 113.9h0M177.1 115.2h0M180.1 111.0h0M227.4 108.9h0M159.7 109.2h0M148.2 108.2h0M208.3 111.6h0M94.0 112.4h0M159.3 103.7h0M165.2 110.8h0M214.9 113.6h0M160.6 109.7h0M179.6 116.9h0M134.5 110.2h0M96.6 110.5h0M160.4 110.0h0M206.3 115.9h0M169.7 111.2h0M160.7 110.0h0M121.8 112.9h0M231.2 115.6h0M168.9 104.4h0M180.3 114.3h0M168.0 115.3h0M224.2 110.5h0M198.0 114.4h0M149.0 109.2h0M152.0 115.4h0M253.3 112.0h0M179.2 107.5h0M139.3 103.5h0M169.4 103.3h0M195.8 111.5h0M123.4 112.1h0M189.7 109.6h0M138.6 110.2h0M163.5 110.5h0M189.2 107.1h0M149.7 112.6h0M243.3 110.5h0M198.9 112.3h0M150.0 117.5h0M148.6 106.9h0M121.2 112.3h0M145.7 112.2h0M186.5 116.1h0M145.0 124.5h0M182.2 112.1h0M139.5 117.4h0M138.5 106.9h0M95.2 109.6h0M168.9 111.0h0M162.1 110.7h0M94.4 111.5h0M198.5 109.1h0M190.8 106.7h0M186.1 105.2h0M160.4 110.3h0M106.5 112.4h0M154.4 114.8h0M184.1 113.3h0M203.5 115.1h0M163.9 118.5h0M151.5 109.8h0M157.4 111.2h0M162.5 106.5h0M166.5 111.8h0M247.0 110.8h0M237.7 110.5h0M136.9 109.7h0M138.0 112.7h0M94.0 110.6h0M104.8 111.5h0M118.4 109.6h0M149.9 113.4h0M153.9 112.2h0M165.8 109.4h0M162.5 105.9h0M149.8 117.2h0M201.6 113.6h0M188.5 103.3h0M171.6 113.1h0M159.3 111.0h0M167.9 106.2h0M125.6 111.4h0M190.2 107.1h0M141.3 113.1h0M162.4 110.4h0M226.6 113.9h0M156.8 114.7h0M225.0 107.5h0M146.6 109.3h0M121.8 113.7h0M191.1 109.9h0M147.5 112.4h0M215.0 109.6h0M179.6 108.9h0M175.9 113.7h0M153.2 110.0h0M203.8 112.9h0M228.9 111.3h0M116.4 112.1h0M163.4 111.3h0M197.7 107.5h0M176.5 111.2h0M181.9 105.5h0M153.1 113.7h0M233.4 107.4h0M114.7 118.7h0M168.3 116.6h0M174.0 105.7h0M240.1 115.8h0M160.2 112.1h0M199.1 122.4h0M175.2 110.1h0M142.0 118.7h0M177.9 116.3h0M119.5 112.9h0M145.2 106.0h0M110.2 113.9h0M169.4 117.4h0M152.6 112.3h0M154.7 109.5h0M157.3 101.4h0M177.7 112.2h0M170.2 116.3h0M179.3 109.2h0M172.9 114.6h0M130.4 111.0h0M194.4 112.8h0M118.3 112.8h0M123.8 110.0h0M126.8 110.2h0M162.9 115.8h0M162.9 110.9h0M197.5 109.8h0M226.2 108.7h0M179.3 106.2h0M173.1 112.5h0M229.5 108.9h0M166.0 114.2h0M224.8 112.2h0M122.3 115.9h0M133.5 121.5h0M241.1 113.2h0M219.0 115.2h0M199.9 109.7h0M229.5 120.4h0M228.1 111.8h0M217.4 107.9h0M161.2 115.6h0M126.4 106.3h0M224.3 108.1h0M251.8 112.9h0M173.2 112.7h0M214.6 115.9h0M98.5 109.5h0M167.3 114.4h0M171.1 111.5h0M162.7 109.6h0M109.7 118.8h0M164.0 115.1h0M100.7 112.8h0M117.4 112.7h0M202.6 115.0h0M102.5 112.5h0M241.5 106.1h0M129.3 105.3h0M149.3 113.9h0M189.2 108.6h0M166.3 107.1h0M148.9 104.1h0M189.8 109.4h0M194.8 113.7h0M148.3 100.2h0M123.2 110.6h0M139.7 110.1h0M147.8 110.9h0M154.7 113.0h0M125.8 140.2h0M169.6 107.1h0M223.4 116.3h0M204.7 108.8h0M167.1 120.7h0M143.0 111.0h0M214.1 109.1h0M125.8 112.1h0M87.3 111.2h0M188.3 108.3h0M201.4 112.7h0M160.5 113.7h0M160.8 116.8h0M247.8 110.9h0M168.1 115.4h0M181.0 116.0h0M166.6 114.9h0M175.2 114.8h0M199.3 113.7h0M158.1 112.2h0M139.4 107.3h0M186.3 115.6h0M189.3 111.9h0M172.1 115.0h0M205.3 114.0h0M168.7 115.2h0M215.7 109.2h0M150.2 108.3h0M197.5 109.7h0M207.0 109.8h0M129.9 113.4h0M150.8 112.3h0M172.7 110.3h0M165.9 115.6h0M217.2 113.6h0M169.3 112.7h0M182.8 112.5h0M230.4 107.3h0M157.3 120.1h0M223.3 111.9h0M158.4 114.7h0M193.7 116.1h0M171.4 120.0h0M174.3 117.4h0M155.5 110.8h0M166.4 112.9h0M153.8 104.5h0M221.6 115.1h0M153.3 106.1h0M140.7 109.6h0M140.8 107.5h0M191.3 110.7h0M130.9 115.1h0M233.2 111.2h0M122.3 112.5h0M179.1 113.7h0M204.3 110.2h0M153.3 116.8h0M146.9 109.5h0M129.9 109.7h0M166.8 116.3h0M157.1 117.5h0M199.6 109.0h0M222.0 111.6h0M189.5 107.3h0M178.0 107.8h0M175.8 109.2h0M194.1 107.2h0M109.5 113.7h0M177.1 111.2h0M182.3 117.6h0M133.4 109.7h0M101.2 110.0h0M105.8 115.1h0M163.2 110.3h0M85.7 112.2h0M117.4 112.4h0M210.0 111.0h0M213.5 111.6h0M237.5 114.7h0M216.4 109.5h0M211.4 108.1h0M272.5 113.0h0M217.1 109.3h0M206.3 112.1h0M186.6 113.5h0M135.2 105.4h0M145.8 117.4h0M144.0 112.5h0M140.0 109.2h0M162.7 113.9h0M102.7 111.8h0M98.4 111.5h0M149.9 117.9h0M222.7 111.2h0M175.4 105.2h0M136.3 109.7h0M106.6 108.7h0M134.4 111.7h0M164.3 116.3h0M170.3 111.0h0M211.4 108.6h0M170.2 109.7h0M156.8 114.7h0M232.0 114.3h0M242.6 109.5h0M256.9 112.5h0M125.6 115.0h0M178.8 111.0h0M182.5 121.2h0M169.8 111.8h0M144.6 116.8h0M206.0 109.8h0M164.2 110.0h0M190.3 108.7h0M122.3 111.3h0M143.5 115.2h0M112.3 108.4h0M196.7 107.0h0M110.4 108.8h0M187.4 112.2h0M150.4 113.7h0M175.9 112.5h0M154.0 111.6h0M191.4 110.2h0M152.7 104.9h0M209.4 107.3h0M171.0 106.9h0M185.5 109.1h0M129.3 106.5h0M135.1 115.8h0M201.4 109.5h0M156.3 111.6h0M207.2 106.5h0M168.5 106.1h0M136.0 110.2h0M144.1 115.2h0M118.1 106.6h0M132.7 110.4h0M116.3 113.4h0M152.2 119.0h0M109.0 111.7h0M218.1 110.3h0M131.9 108.6h0M124.0 113.0h0M206.7 115.2h0M159.4 117.6h0M173.8 115.2h0M111.0 106.0h0M181.0 114.6h0M99.9 113.4h0M131.9 112.4h0M232.6 105.8h0M168.5 109.2h0M236.3 111.6h0M118.9 112.2h0M142.9 112.5h0M155.4 118.1h0M188.2 105.9h0M175.6 113.4h0M196.0 116.3h0M231.1 113.9h0M185.3 110.4h0M174.1 116.5h0M172.6 107.5h0M137.5 111.5h0M118.0 114.0h0M163.0 111.0h0M151.3 115.4h0M187.3 105.4h0M240.8 114.4h0M183.7 108.7h0M174.9 116.9h0M150.7 110.7h0M174.1 110.5h0M180.8 116.1h0M121.8 110.9h0M148.4 113.6h0M237.6 113.7h0M124.3 109.5h0M131.1 108.0h0M150.0 113.6h0M167.6 115.3h0M146.5 111.3h0M126.2 108.5h0M88.2 111.4h0M206.2 106.6h0M165.6 107.4h0M115.9 112.3h0M168.9 105.0h0M209.8 112.8h0M157.1 115.6h0M143.0 107.9h0M181.0 117.6h0M287.7 110.8h0M187.4 111.5h0M117.9 104.7h0M185.6 115.2h0M141.5 114.2h0M136.9 107.2h0M167.5 117.3h0M224.8 114.3h0M168.3 111.8h0M176.3 109.0h0M174.0 109.1h0M155.1 117.1h0M259.9 112.1h0M184.0 105.9h0M200.0 108.2h0M197.3 112.5h0M176.5 113.7h0M187.9 109.1h0M139.6 107.2h0M163.5 108.0h0M115.8 114.0h0M160.9 114.7h0M204.0 101.1h0M179.3 110.1h0M228.0 110.9h0M151.9 110.3h0M124.0 112.4h0M194.7 112.7h0M206.6 106.7h0M114.4 114.3h0M97.2 109.4h0M179.5 113.7h0M198.7 117.2h0M200.2 114.2h0M140.9 110.0h0M154.6 113.7h0M164.6 113.6h0M194.9 107.6h0M136.1 113.2h0M143.6 114.5h0M175.8 110.5h0M177.7 114.9h0M158.8 111.5h0M228.3 111.7h0M242.0 106.9h0M162.1 114.7h0M125.8 106.7h0M181.5 113.7h0M117.7 109.7h0M130.9 120.1h0M116.5 108.4h0M141.0 108.1h0M175.7 118.9h0M164.4 117.5h0M189.5 114.9h0M124.6 106.1h0M165.2 114.6h0M214.9 107.6h0M160.5 121.2h0M227.2 115.3h0M147.1 117.0h0M194.7 115.7h0M125.2 114.4h0M203.2 111.8h0M92.9 111.2h0M149.5 107.3h0M225.9 110.4h0M147.3 112.2h0M97.2 111.7h0M166.7 106.7h0M171.1 110.9h0M91.4 111.2h0M251.6 111.9h0M170.5 107.7h0M181.9 113.1h0M186.0 118.7h0M183.9 113.3h0M226.7 109.6h0M187.6 108.1h0M126.6 119.4h0M96.3 111.5h0M191.1 108.1h0M159.9 109.2h0M145.5 111.6h0M181.2 110.5h0M177.1 113.7h0M132.3 118.4h0M163.1 113.0h0M151.0 111.5h0M181.0 108.0h0M161.2 113.3h0M134.0 107.5h0M90.3 111.6h0M185.7 112.8h0M210.0 109.7h0M133.5 117.9h0M178.6 110.4h0M92.0 110.7h0M136.9 112.5h0M152.8 109.0h0M126.9 120.0h0M118.8 108.8h0M174.3 118.0h0M211.2 112.0h0M260.4 112.0h0M154.0 112.7h0M148.3 111.4h0M210.2 109.9h0M204.3 109.0h0M187.2 117.3h0M204.4 111.2h0M223.4 110.3h0M149.5 113.1h0M169.4 110.4h0M148.1 109.2h0M166.4 109.1h0M154.2 114.6h0M184.3 110.6h0M123.1 113.9h0M199.3 110.5h0M198.0 108.2h0M135.3 107.7h0M130.0 112.2h0M179.8 104.6h0M214.8 109.4h0M139.4 115.1h0M190.2 109.8h0M159.1 113.1h0M151.6 112.9h0M142.8 109.2h0M163.8 108.2h0M186.3 116.5h0M238.4 110.9h0M151.7 117.9h0M127.6 107.1h0M225.4 112.0h0M193.5 113.6h0M200.7 110.0h0M159.9 111.8h0M225.8 116.2h0M175.9 108.2h0M206.4 109.7h0M196.2 115.8h0M139.2 119.9h0M147.3 117.8h0M196.2 107.1h0M235.0 112.1h0M142.3 116.4h0M193.6 109.0h0M150.4 104.4h0M192.3 111.8h0M119.6 108.9h0M170.6 108.6h0M182.5 112.5h0M161.1 111.3h0M198.9 110.8h0M144.3 114.3h0M247.1 110.2h0M173.4 98.4h0M153.6 114.8h0M169.8 116.8h0M232.3 108.6h0M197.6 111.6h0M163.9 113.6h0M157.4 116.2h0M196.1 122.0h0M229.8 132.2h0M261.9 113.0h0M128.5 113.0h0M193.1 110.2h0M154.7 114.7h0M196.7 114.8h0M163.7 112.3h0M179.5 116.5h0M138.2 114.1h0M185.2 117.0h0M168.1 112.8h0M142.9 110.7h0M102.6 109.3h0M135.0 109.0h0M141.2 112.3h0M122.1 110.7h0M138.0 112.9h0M114.8 113.6h0M199.3 117.3h0M172.3 109.0h0M183.8 114.8h0M166.3 109.3h0M182.2 110.6h0M242.4 113.0h0M149.8 110.5h0M171.6 112.8h0M188.3 113.6h0M131.4 118.6h0M200.9 117.6h0M207.1 109.5h0M135.7 115.2h0M181.8 115.8h0M88.5 112.6h0M142.8 113.3h0M201.7 107.7h0M188.9 111.1h0M254.2 110.4h0M179.3 110.2h0M111.5 113.1h0M204.3 110.0h0M154.5 114.9h0M147.0 118.0h0M196.6 112.2h0M230.4 109.8h0M233.3 119.0h0M176.7 108.9h0M185.5 115.8h0M174.7 107.6h0M202.6 114.4h0M199.8 111.1h0M197.6 119.4h0M166.9 104.9h0M225.6 113.2h0M170.9 109.1h0M205.7 108.6h0M168.6 113.2h0M156.7 111.2h0M156.3 117.6h0M172.0 119.4h0M168.7 109.2h0M132.3 113.7h0M154.2 114.9h0M210.8 114.0h0M209.4 115.3h0M112.2 111.4h0M141.3 115.6h0M269.3 113.2h0M176.8 108.2h0M230.3 112.6h0M108.7 115.6h0M203.0 113.3h0M234.0 108.5h0M190.7 110.0h0M146.2 101.9h0M123.7 112.3h0M176.5 109.0h0M125.3 112.7h0M233.9 108.7h0M109.2 116.9h0M224.4 114.3h0M191.0 110.9h0M235.4 111.2h0M118.5 114.5h0M236.5 109.1h0M197.0 111.7h0M155.7 110.1h0M178.6 112.3h0M168.4 110.6h0M133.7 111.9h0M197.0 111.0h0M186.6 115.1h0M179.6 110.6h0M148.4 114.5h0M134.7 100.4h0M166.0 115.4h0M137.9 114.2h0M193.2 107.6h0M147.8 115.8h0M109.9 106.4h0M171.1 109.1h0M129.6 111.0h0M194.2 110.3h0M102.6 113.7h0M90.4 111.0h0M199.6 109.5h0M142.5 112.3h0M209.5 112.5h0M175.2 116.5h0M143.7 103.8h0M109.7 113.8h0M196.3 106.7h0M151.7 114.6h0M179.2 103.8h0M200.0 111.2h0M144.4 113.5h0M174.7 112.2h0M145.7 105.8h0M116.6 110.3h0M186.7 106.0h0M172.9 112.2h0M191.8 109.5h0M176.1 107.9h0M155.3 109.6h0M215.7 110.1h0M182.1 107.0h0M205.7 112.6h0M169.8 115.0h0M151.0 115.5h0M91.3 110.8h0M94.1 113.3h0M218.9 107.9h0M205.5 107.7h0M207.3 108.2h0M192.1 118.5h0M115.6 107.9h0M176.5 113.5h0M224.3 109.4h0M102.2 110.7h0M152.3 122.5h0M139.8 112.9h0M165.2 112.7h0M173.9 110.5h0M181.3 115.1h0M254.6 109.8h0M159.1 116.5h0M160.0 115.5h0M195.6 118.1h0M170.0 117.7h0M171.8 102.5h0M200.9 114.9h0M130.7 116.8h0M112.1 108.4h0M193.8 116.0h0M153.6 115.3h0M188.3 111.8h0M275.3 111.1h0M160.9 112.0h0M173.5 111.3h0M164.5 111.9h0M124.2 115.6h0M132.8 113.5h0M197.8 109.5h0M181.9 118.8h0M182.6 107.6h0M158.5 109.9h0M161.9 114.2h0M198.5 110.7h0M265.6 111.0h0M237.2 114.1h0M187.3 112.8h0M172.9 106.6h0M115.4 111.8h0M145.5 116.9h0M241.5 111.1h0M112.3 113.8h0M149.3 109.0h0M225.7 112.8h0M122.0 114.1h0M228.0 114.0h0M186.9 110.0h0M162.8 114.3h0M153.2 116.2h0M165.3 115.8h0M190.3 113.0h0M155.1 114.3h0M139.6 113.7h0M197.6 117.0h0M214.6 113.7h0M180.5 108.6h0M134.4 111.4h0M148.7 117.0h0M104.9 109.3h0M176.1 112.3h0M248.0 108.0h0M211.5 110.2h0M140.4 112.8h0M170.0 116.8h0M248.8 111.3h0M123.5 111.6h0M140.3 115.9h0M175.8 109.3h0M213.3 114.2h0M186.0 106.4h0M174.5 104.2h0M200.0 104.9h0M90.0 111.8h0M140.8 105.8h0M94.8 110.9h0M161.9 111.5h0M146.6 102.1h0M143.8 123.3h0M133.7 109.9h0M221.1 116.8h0M176.4 109.3h0M161.1 113.0h0M172.3 113.2h0M119.4 108.2h0M98.6 111.0h0M161.0 113.0h0M166.6 115.1h0M206.6 109.0h0M206.2 112.0h0M183.5 121.5h0M144.2 112.6h0M172.0 118.0h0M175.1 112.0h0M210.2 108.0h0M230.1 111.8h0M164.6 108.2h0M199.9 108.1h0M101.6 113.4h0M161.3 107.8h0M131.3 113.0h0M170.7 116.0h0M175.6 113.2h0M212.9 113.4h0M174.8 111.8h0M135.4 119.7h0M154.4 112.6h0M176.3 115.8h0M207.0 117.5h0M182.5 113.4h0M147.6 113.4h0M168.7 106.0h0M174.0 112.7h0M221.4 109.1h0M188.2 111.4h0M188.0 106.5h0M165.6 107.7h0M222.9 110.0h0M164.5 108.4h0M214.0 113.9h0M170.1 107.1h0M146.8 111.6h0M142.3 119.0h0M115.5 113.0h0M144.7 111.6h0M182.7 107.7h0M92.3 111.1h0M145.3 115.0h0M219.5 114.2h0M189.6 114.4h0M150.1 111.3h0M159.0 112.3h0M219.4 115.0h0M187.0 115.1h0M143.2 109.2h0M123.9 107.6h0M126.0 109.4h0M162.2 108.7h0M158.4 115.6h0M199.4 108.2h0M124.2 113.0h0M248.2 111.2h0M169.6 112.5h0M174.4 109.8h0M211.4 112.6h0M127.6 114.1h0M134.0 108.9h0M153.5 107.1h0M191.7 112.5h0M182.9 113.6h0M198.6 111.3h0M161.0 100.8h0M180.9 111.7h0M148.5 109.1h0M156.3 114.4h0M147.3 114.8h0M194.3 117.0h0M193.9 115.0h0M116.5 110.9h0M188.5 112.5h0M277.7 110.8h0M172.5 117.1h0M151.7 111.5h0M96.9 113.5h0M210.3 102.2h0M148.6 105.4h0M155.8 109.4h0M138.5 110.6h0M129.0 106.8h0M151.5 112.2h0M137.2 112.3h0M151.2 110.7h0M166.7 115.5h0M168.1 101.0h0M127.9 105.5h0M147.3 112.6h0M195.0 107.2h0M167.9 109.5h0M152.8 112.3h0M184.9 89.7h0M142.2 112.1h0M189.7 111.7h0M198.5 114.2h0M89.9 112.8h0M154.5 112.1h0M125.2 110.6h0M257.4 109.5h0M166.0 113.1h0M155.1 110.8h0M167.9 109.6h0M177.1 108.8h0M172.1 113.7h0M149.1 111.5h0M167.5 106.0h0M155.2 116.6h0M111.8 112.4h0M222.9 109.1h0M102.9 111.7h0M195.8 108.4h0M163.8 110.2h0M128.0 140.5h0M134.3 126.6h0M110.0 110.3h0M109.2 112.9h0M159.8 115.4h0M117.1 114.4h0M150.5 112.8h0M186.9 107.5h0M212.2 107.8h0M165.0 108.1h0M185.6 113.7h0M184.4 111.6h0M215.5 111.7h0M184.5 102.4h0M173.0 107.7h0M248.3 110.6h0M244.9 112.0h0M206.1 106.5h0M212.7 109.3h0M194.8 117.1h0M270.8 115.1h0M200.5 106.6h0M158.4 112.3h0M197.0 118.3h0M182.5 115.4h0M223.0 112.6h0M156.5 105.6h0M176.7 112.9h0M185.6 121.5h0M153.5 118.9h0M180.7 116.0h0M216.3 111.8h0M180.5 106.6h0M267.4 111.3h0M210.4 108.5h0M178.2 107.7h0M176.0 119.1h0M184.8 113.6h0M119.4 105.7h0M143.0 112.3h0M139.6 113.0h0M97.8 112.4h0M196.7 111.7h0M203.3 112.4h0M163.5 116.5h0M188.2 115.0h0M228.5 107.4h0M235.6 113.3h0M163.0 115.4h0M124.1 118.6h0M139.2 109.4h0M168.0 115.4h0M156.6 105.8h0M230.5 113.5h0M185.3 115.7h0M195.2 112.8h0M137.8 116.3h0M151.2 107.9h0M168.2 115.5h0M191.3 114.0h0M182.5 112.1h0M206.2 119.8h0M170.9 114.8h0M163.2 113.0h0M179.1 112.2h0M136.7 114.3h0M186.4 114.7h0M174.7 110.7h0M95.3 115.5h0M131.4 122.3h0M182.1 108.8h0M217.5 115.2h0M126.8 112.2h0M126.8 107.3h0M195.6 113.2h0M159.5 106.9h0M153.7 102.7h0M137.7 105.2h0M173.3 114.7h0M174.1 112.8h0M119.1 113.2h0M165.7 105.9h0M192.4 112.2h0M170.2 114.5h0M161.2 104.0h0M152.3 108.0h0M170.7 110.1h0M205.9 108.1h0M218.0 110.1h0M209.6 109.2h0M158.1 104.5h0M113.4 107.7h0M134.0 111.9h0M195.5 110.8h0M174.7 113.0h0M182.5 115.1h0M90.4 113.2h0M118.3 110.7h0M119.1 116.2h0M122.6 108.1h0M148.6 101.0h0M155.6 118.4h0M185.6 111.5h0M125.4 117.4h0M176.9 104.7h0M208.1 113.9h0M130.1 111.6h0M101.4 111.8h0M165.3 118.1h0M133.4 114.1h0M128.3 117.2h0M170.6 110.0h0M197.7 115.3h0M172.2 105.0h0M114.1 114.7h0M132.3 108.0h0M194.7 110.9h0M225.0 110.2h0M129.4 110.2h0M156.2 104.2h0M194.7 116.0h0M210.0 114.4h0M118.7 108.6h0M132.7 115.3h0M111.1 111.2h0M180.4 111.9h0M243.8 111.7h0M157.3 115.4h0M94.6 113.1h0M210.0 108.3h0M151.0 108.9h0M157.9 108.3h0M209.9 110.2h0M189.3 116.3h0M164.7 111.2h0M193.3 111.8h0M178.7 114.8h0M254.2 107.9h0M108.5 108.3h0M138.3 113.6h0M139.9 112.5h0M139.3 114.0h0M151.8 113.3h0M232.8 116.2h0M161.0 113.9h0M124.3 122.5h0M143.1 103.4h0M142.3 112.1h0M256.8 113.9h0M185.6 109.3h0M234.2 109.9h0M203.0 112.4h0M175.3 104.6h0M153.5 103.7h0M152.3 111.0h0M195.6 108.3h0M191.6 112.1h0M102.4 112.2h0M182.8 108.8h0M147.0 107.3h0M138.4 109.9h0M217.5 108.5h0M241.9 116.7h0M131.5 114.6h0M167.7 106.7h0M156.9 109.8h0M114.3 109.5h0M162.3 109.1h0M111.5 107.8h0M120.4 107.3h0M224.5 112.2h0M102.5 112.5h0M148.5 111.7h0M300.6 112.4h0M118.2 109.9h0M123.6 115.1h0M205.2 111.0h0M224.2 116.0h0M164.4 114.6h0M123.6 105.8h0M105.7 107.6h0M143.5 112.2h0M196.4 111.5h0M129.2 109.1h0M136.7 115.1h0M202.7 113.3h0M227.5 115.6h0M235.6 111.6h0M221.5 111.0h0M170.0 112.4h0M117.6 154.9h0M146.9 107.5h0M172.6 117.6h0M208.2 114.5h0M243.2 113.1h0M157.7 105.6h0M154.8 110.7h0M187.1 108.3h0M173.9 112.6h0M168.1 113.4h0M158.5 109.8h0M187.2 114.3h0M224.9 112.1h0M145.4 116.2h0M193.4 109.0h0M115.4 107.5h0M206.5 109.0h0M149.2 114.0h0M179.4 115.9h0M131.8 121.7h0M162.7 111.2h0M188.5 113.4h0M199.1 111.3h0M112.7 112.6h0M98.9 112.9h0M174.8 114.4h0M153.2 111.7h0M194.7 117.3h0M187.5 103.3h0M175.8 109.0h0M141.2 112.8h0M182.7 111.8h0M147.1 115.0h0M193.8 116.5h0M146.0 108.8h0M193.6 116.1h0M105.7 110.2h0M112.2 113.9h0M171.7 111.8h0M136.9 108.9h0M149.4 111.1h0M151.8 109.3h0M196.4 115.9h0M151.3 113.1h0M245.9 111.6h0M216.7 108.7h0M164.8 110.4h0M171.5 114.7h0M186.8 111.2h0M237.4 109.8h0M166.9 116.2h0M128.8 105.9h0M167.3 108.9h0M207.9 112.6h0M159.9 111.5h0M207.4 119.8h0M134.7 109.3h0M112.9 108.6h0M226.5 113.7h0M239.3 115.0h0M134.3 108.1h0M202.7 114.3h0M235.7 112.6h0M206.3 109.6h0M235.1 110.4h0M204.1 111.8h0M191.4 107.2h0M177.7 108.3h0M147.8 114.3h0M182.9 114.3h0M123.4 111.0h0M150.6 112.1h0M120.1 112.8h0M122.5 118.7h0M139.7 111.3h0M112.0 114.4h0M181.3 110.5h0M193.0 115.7h0M91.8 111.4h0M202.6 112.2h0M196.2 113.5h0M141.6 119.6h0M161.7 112.1h0M220.8 108.0h0M213.8 115.5h0M204.9 112.5h0M86.1 111.5h0M135.1 111.6h0M143.3 108.5h0M163.1 118.3h0M189.8 113.8h0M141.7 108.4h0M224.2 110.7h0M202.6 114.7h0M203.6 110.4h0M204.3 110.9h0M241.3 115.8h0M170.4 118.9h0M243.5 108.1h0M107.4 116.8h0M128.8 110.0h0M134.5 109.8h0M206.9 113.2h0M124.2 104.9h0M207.9 110.5h0M193.4 116.1h0M110.8 112.3h0M163.9 112.5h0M105.4 110.6h0M172.4 108.8h0M176.9 117.2h0M274.1 109.5h0M161.0 104.0h0M168.9 110.5h0M159.5 109.5h0M162.1 109.7h0M181.5 114.5h0M193.9 115.5h0M215.4 117.2h0M232.8 110.3h0M94.0 110.9h0M208.7 107.6h0M146.2 112.5h0M142.2 114.8h0M199.5 114.8h0M138.6 108.9h0M156.6 113.6h0M205.9 108.0h0M156.6 113.3h0M148.5 108.6h0M172.0 112.6h0M95.0 111.2h0M188.5 103.8h0M131.7 110.3h0M150.1 106.9h0M154.8 116.8h0M138.7 108.1h0M218.1 109.5h0M143.5 114.6h0M201.4 104.9h0M173.2 110.5h0M153.7 112.8h0M204.1 110.4h0M157.2 113.6h0M205.6 112.7h0M152.4 108.9h0M220.9 112.5h0M158.6 112.2h0M190.6 104.8h0M144.1 129.9h0M183.5 110.0h0M148.6 114.9h0M197.1 112.0h0M155.1 114.0h0M207.5 116.7h0M210.9 112.8h0M160.1 105.2h0M177.5 110.9h0M178.3 114.0h0M138.9 113.1h0M182.2 122.0h0M190.4 111.4h0M106.9 113.7h0M160.1 109.5h0M193.8 113.0h0M205.0 108.5h0M194.5 109.9h0M207.3 114.8h0M146.9 112.4h0M202.5 111.8h0M173.7 107.6h0M218.0 109.1h0M242.9 109.6h0M112.7 115.4h0M139.6 108.2h0M125.6 118.4h0M147.2 105.1h0M120.5 108.3h0M104.6 108.3h0M243.7 112.5h0M138.4 112.4h0M193.6 112.4h0M248.8 107.3h0M126.3 109.2h0M163.6 111.5h0M176.4 112.5h0M145.6 107.7h0M182.6 108.7h0M146.4 114.3h0M113.0 111.0h0M90.4 111.6h0M196.8 110.0h0M182.8 109.4h0M226.9 113.3h0M91.3 112.4h0M199.8 109.7h0M199.6 111.3h0M154.8 114.1h0M107.9 113.2h0M188.3 113.5h0M138.9 113.3h0M140.1 108.1h0M162.9 106.9h0M173.4 106.2h0M157.2 112.4h0M139.2 113.8h0M133.0 110.2h0M158.8 114.9h0M105.1 112.9h0M181.3 112.3h0M182.2 114.5h0M231.1 111.3h0M202.0 110.7h0M148.4 108.7h0M145.5 111.3h0M169.3 111.2h0M161.3 111.9h0M128.8 115.2h0M178.0 110.5h0M157.8 116.7h0M127.8 111.3h0M153.7 112.7h0M201.6 108.9h0M147.9 108.6h0M115.5 116.3h0M158.0 109.8h0M118.4 111.2h0M156.8 107.4h0M178.1 111.8h0M166.8 106.5h0M178.2 108.7h0M156.5 116.0h0M152.8 106.0h0M145.1 109.9h0M191.5 116.2h0M160.6 109.5h0M147.1 113.0h0M167.1 111.6h0M145.2 119.6h0M113.6 114.4h0M212.8 116.5h0M156.4 108.9h0M171.5 113.4h0M126.7 111.2h0M141.8 108.2h0M220.4 112.8h0M151.5 118.3h0M151.7 105.3h0M167.4 108.2h0M100.7 108.0h0M125.3 112.1h0M195.7 111.6h0M143.1 110.3h0M253.5 114.9h0M196.1 112.2h0M100.3 114.8h0M204.3 108.2h0M203.2 106.5h0M179.8 103.6h0M205.9 108.5h0M144.1 115.9h0M129.9 112.8h0M131.3 113.1h0M139.5 112.4h0M220.4 109.5h0M173.6 109.2h0M90.2 112.6h0M231.4 110.9h0M124.3 113.4h0M110.0 108.9h0M166.1 106.6h0M179.5 116.1h0M216.7 113.8h0M242.0 111.6h0M116.5 113.9h0M165.3 110.5h0M261.9 112.2h0M147.0 114.4h0M149.8 105.1h0M202.0 115.0h0M186.7 108.9h0M229.9 111.2h0M188.1 112.7h0M154.0 111.8h0M221.4 113.6h0M187.4 118.1h0M154.4 112.7h0M135.9 113.6h0M91.9 112.5h0M110.7 113.6h0M125.9 117.5h0M119.7 107.5h0M193.1 120.1h0M112.4 115.4h0M202.4 112.8h0M116.4 105.0h0M221.1 106.4h0M222.1 108.8h0M123.9 109.0h0M169.4 109.3h0M201.7 108.3h0M178.3 111.9h0M167.8 109.3h0M165.8 109.6h0M122.4 116.2h0M169.6 103.7h0M153.7 113.9h0M173.1 111.5h0M154.8 107.7h0M163.8 114.0h0M240.0 112.1h0M172.5 109.2h0M228.4 110.4h0M191.2 114.7h0M138.2 108.6h0M237.3 110.3h0M185.2 109.5h0M171.3 120.6h0M196.1 114.8h0M127.7 115.9h0M208.5 111.8h0M151.2 110.2h0M185.5 105.5h0M203.2 114.4h0M185.2 112.0h0M162.1 110.9h0M173.7 110.4h0M161.5 114.1h0M112.8 109.6h0M183.9 110.7h0M221.6 113.3h0M159.7 107.0h0M234.2 114.0h0M179.8 111.0h0M137.0 110.9h0M154.2 113.3h0M174.5 109.1h0M118.9 108.4h0M152.0 115.6h0M198.8 109.4h0M104.0 107.7h0M147.8 103.4h0M213.7 105.9h0M112.3 116.3h0M193.5 110.3h0M173.8 102.5h0M193.4 112.3h0M238.3 111.9h0M138.6 113.1h0M222.7 114.2h0M163.1 106.1h0M201.5 109.0h0M123.6 106.3h0M185.6 112.8h0M142.7 106.0h0M151.6 110.5h0M144.3 106.5h0M195.1 118.6h0M164.8 120.5h0M135.5 106.9h0M147.7 114.7h0M152.0 111.4h0M187.0 108.3h0M164.6 113.9h0M149.1 110.7h0M229.5 104.0h0M154.8 106.4h0M124.2 108.4h0M188.6 115.5h0M169.4 108.6h0M148.9 109.0h0M182.7 112.5h0M220.5 105.4h0M243.4 110.9h0M167.1 109.4h0M168.6 112.0h0M161.9 113.9h0M116.0 111.2h0M155.1 110.5h0M225.3 112.4h0M151.5 106.3h0M192.7 108.5h0M233.6 111.2h0M222.0 117.3h0M119.1 108.5h0M144.8 109.8h0M185.2 114.4h0M256.0 114.5h0M129.9 112.1h0M208.9 110.8h0M157.9 109.9h0M184.3 114.8h0M187.8 114.7h0M148.2 104.9h0M138.2 115.6h0M233.4 114.9h0M209.7 115.2h0M127.2 110.6h0M94.0 110.6h0M203.5 109.5h0M196.6 114.7h0M168.6 113.5h0M208.0 107.4h0M134.4 112.0h0M131.2 109.8h0M139.2 117.7h0M197.4 112.8h0M124.4 115.2h0M147.3 107.6h0M168.6 113.2h0M162.5 106.8h0M177.7 111.0h0M158.2 114.8h0M98.1 108.7h0M190.2 116.0h0M162.0 114.4h0M183.5 107.0h0M186.3 107.4h0M196.6 117.3h0M193.2 118.2h0M145.7 112.5h0M150.8 111.3h0M171.0 114.2h0M180.3 111.1h0M152.7 113.8h0M149.7 105.8h0M197.6 114.5h0M143.0 110.3h0M222.9 109.2h0M166.2 110.8h0M215.1 116.2h0M120.5 113.4h0M171.9 111.0h0M203.9 116.1h0M146.2 109.9h0M236.6 115.8h0M181.9 112.9h0M124.7 112.2h0M110.8 106.8h0M150.5 112.7h0M141.5 117.4h0M187.7 109.0h0M144.5 111.2h0M212.7 114.2h0M239.7 115.4h0M185.8 119.3h0M96.3 112.0h0M171.7 113.0h0M165.1 115.0h0M196.4 108.9h0M138.3 106.5h0M128.8 113.5h0M194.6 106.4h0M200.2 107.0h0M178.4 110.1h0M202.6 104.4h0M100.4 110.2h0M110.8 112.2h0M173.1 114.9h0M205.8 105.8h0M219.3 117.4h0M172.8 109.3h0M188.4 112.5h0M209.7 115.5h0M144.0 123.3h0M186.5 111.3h0M163.9 116.0h0M241.6 111.8h0M136.6 112.2h0M158.0 106.7h0M226.4 109.4h0M264.0 113.0h0M180.0 119.5h0M140.8 117.0h0M137.4 127.1h0M197.2 108.9h0M192.5 107.6h0M162.9 116.8h0M202.6 105.2h0M169.0 111.6h0M203.1 119.2h0M116.5 109.6h0M166.3 114.2h0M205.5 112.1h0M188.5 118.6h0M139.7 112.6h0M210.4 110.1h0M176.1 117.3h0M203.5 109.9h0M184.2 113.8h0M114.8 107.3h0M183.8 116.1h0M109.6 111.9h0M164.8 103.5h0M127.8 110.7h0M154.9 123.1h0M221.8 111.1h0M164.3 108.7h0M89.4 111.4h0M263.2 112.8h0M140.1 110.4h0M178.0 111.7h0M224.8 110.8h0M150.6 114.5h0M125.2 107.9h0M187.0 112.8h0M158.0 112.1h0M158.9 106.1h0M235.2 106.5h0M165.4 117.1h0M220.5 112.8h0M216.9 121.6h0M148.8 116.3h0M117.4 112.4h0M222.9 111.8h0M98.7 113.5h0M159.1 118.9h0M175.4 110.5h0M175.5 118.7h0M121.6 106.5h0M179.9 107.7h0M186.5 110.1h0M98.9 113.0h0M156.4 116.3h0M147.0 117.1h0M149.6 113.1h0M146.5 110.5h0M139.0 108.7h0M152.9 117.1h0M201.2 107.5h0M186.1 107.8h0M161.1 111.4h0M150.0 111.8h0M139.0 101.6h0M127.0 115.9h0M114.7 108.4h0M175.3 116.7h0M138.8 107.4h0M180.6 113.1h0M143.0 110.8h0M161.2 111.7h0M173.6 111.8h0M162.9 108.5h0M149.4 115.4h0M128.7 109.3h0M149.1 114.4h0M131.0 112.0h0M201.5 114.2h0M235.9 116.1h0M212.5 110.9h0M185.6 113.6h0M136.1 108.3h0M142.8 113.8h0M178.1 110.8h0M148.1 111.0h0M164.1 108.0h0M173.9 102.3h0M302.7 112.3h0M200.9 112.6h0M144.1 106.2h0M103.9 110.9h0M129.7 103.2h0M176.2 117.3h0M178.7 113.5h0M119.5 111.5h0M124.4 121.0h0M221.5 113.7h0M136.7 110.4h0M159.7 113.3h0M184.7 114.2h0M186.2 110.4h0M139.6 112.1h0M194.3 109.7h0M255.6 108.7h0M164.4 106.7h0M205.1 117.0h0M145.2 113.1h0M162.6 112.8h0M205.3 107.8h0M143.3 107.6h0M176.0 115.3h0M173.8 108.8h0M189.9 107.9h0M93.1 111.3h0M180.9 112.6h0M106.4 109.7h0M141.5 113.3h0M160.2 113.5h0M176.3 116.9h0M193.0 111.0h0M226.6 112.4h0M261.5 113.7h0M211.8 104.2h0M179.4 115.5h0M132.1 110.3h0M179.8 113.2h0M213.0 113.0h0M228.8 115.6h0M139.1 114.5h0M195.0 114.7h0M103.9 109.6h0M131.2 114.7h0M220.0 114.1h0M174.9 109.0h0M148.5 108.8h0M176.0 114.0h0M121.2 110.1h0M149.0 108.5h0M216.9 105.7h0M161.0 110.7h0M128.1 105.2h0M152.4 110.7h0M217.4 112.6h0M143.5 106.5h0M197.5 112.5h0M121.7 110.4h0M174.0 112.1h0M216.4 109.7h0M144.9 112.9h0M148.2 114.1h0M185.2 106.7h0M165.3 116.4h0M219.8 109.9h0M110.5 111.2h0M101.9 111.4h0M194.7 108.5h0M179.8 111.3h0M201.9 115.8h0M151.4 110.4h0M179.8 109.6h0M136.4 106.7h0M150.7 101.8h0M148.5 111.1h0M249.5 110.0h0M205.8 111.8h0M137.1 107.4h0M161.6 107.4h0M91.5 112.2h0M222.8 119.3h0M163.4 106.3h0M204.5 123.4h0M203.3 116.6h0M126.1 114.2h0M179.2 114.0h0M175.8 114.2h0M167.7 114.4h0M134.9 109.9h0M179.8 110.3h0M161.9 112.6h0M184.9 114.2h0M212.1 114.2h0M173.5 110.7h0M195.9 111.0h0M154.4 111.0h0M170.0 104.5h0M127.8 110.8h0M191.0 107.0h0M173.1 114.0h0M152.0 113.3h0M101.7 109.9h0M164.7 112.8h0M177.0 100.9h0M147.7 120.3h0M119.4 116.3h0M164.2 118.6h0M230.8 112.9h0M187.5 116.6h0M154.7 109.0h0M195.4 106.1h0M218.8 119.4h0M103.1 109.4h0M161.1 117.4h0M179.4 116.5h0M179.7 105.5h0M230.2 115.7h0M178.7 110.3h0M100.2 111.7h0M143.2 115.7h0M207.8 104.7h0M229.9 107.8h0M187.0 108.8h0M124.6 113.0h0M161.3 105.5h0M123.7 111.3h0M125.6 113.0h0M236.9 110.0h0M180.8 109.8h0M194.8 111.3h0M114.3 111.8h0M98.0 110.2h0M160.0 116.0h0M134.1 107.6h0M114.1 113.3h0M211.4 111.3h0M161.6 110.5h0M174.1 111.2h0M210.0 112.1h0M245.8 109.9h0M187.9 111.8h0M141.9 115.4h0M190.4 114.7h0M204.6 113.2h0M192.1 109.9h0M180.6 110.0h0M225.0 111.2h0M161.6 116.8h0M134.5 101.0h0M163.4 111.8h0M179.2 118.7h0M171.8 119.8h0M209.4 119.3h0M171.6 103.8h0M151.1 118.6h0M237.6 110.7h0M123.0 115.9h0M145.2 104.7h0M170.2 115.5h0M145.1 111.8h0M214.0 108.8h0M183.5 105.2h0M165.7 103.9h0M152.8 108.8h0M167.2 111.7h0M203.0 106.8h0M209.1 118.3h0M139.7 112.6h0M172.9 111.3h0M182.6 114.2h0M92.4 111.0h0M99.0 113.1h0M188.3 116.9h0M281.3 111.3h0M118.3 111.9h0M142.3 104.4h0M167.1 102.1h0M149.7 115.3h0M219.3 98.9h0M209.0 114.7h0M133.5 112.9h0M140.3 113.5h0M155.4 107.6h0M152.9 104.3h0M193.2 113.0h0M196.2 108.4h0M205.0 113.9h0M153.3 109.2h0M124.6 112.9h0M184.5 115.9h0M120.4 108.0h0M116.1 112.3h0M122.1 109.3h0M145.3 110.5h0M183.4 115.9h0M228.0 110.1h0M172.2 106.5h0M184.3 102.9h0M174.5 109.5h0M159.3 113.5h0M204.7 113.3h0M145.8 111.9h0M164.4 113.4h0M221.7 109.7h0M111.0 115.0h0M159.9 108.1h0M197.6 113.9h0M214.7 111.4h0M183.7 107.6h0M127.1 111.3h0M161.5 111.0h0M182.5 112.1h0M156.8 106.4h0M165.7 118.6h0M148.0 112.0h0M173.1 114.2h0M193.6 113.0h0M159.6 112.7h0M172.5 107.0h0M183.4 109.7h0M169.6 115.5h0M116.2 113.2h0M140.4 113.0h0M170.0 114.6h0M164.7 104.4h0M113.0 112.7h0M147.0 113.2h0M142.0 112.7h0M175.0 115.2h0M151.4 114.8h0M185.4 117.0h0M163.4 113.8h0M194.8 113.9h0M130.8 108.3h0M163.3 108.2h0M126.3 112.5h0M167.1 110.2h0M162.9 119.6h0M174.7 115.2h0M86.9 112.2h0M144.7 112.1h0M206.0 109.1h0M157.6 108.3h0M174.8 106.9h0M148.8 115.6h0M171.7 109.9h0M214.7 110.1h0M145.3 114.1h0M164.9 114.8h0M100.0 110.7h0M121.5 115.9h0M151.5 115.2h0M115.5 117.0h0M111.7 113.4h0M207.2 109.8h0M224.2 110.9h0M242.3 110.7h0M99.5 112.6h0M138.6 104.1h0M107.7 115.7h0M149.2 110.5h0M135.3 110.7h0M203.0 115.1h0M193.8 105.5h0M191.4 108.0h0M100.5 112.3h0M138.0 119.1h0M198.3 102.3h0M186.0 113.6h0M191.5 117.0h0M151.3 114.8h0M173.1 112.1h0M217.3 110.2h0M174.4 110.5h0M160.2 111.0h0M181.0 110.6h0M158.2 116.7h0M135.3 109.0h0M132.4 113.9h0M103.0 111.9h0M101.4 113.5h0M206.8 105.6h0M155.6 111.9h0M214.6 103.4h0M92.0 111.1h0M155.5 112.0h0M161.2 122.4h0M163.6 115.0h0M173.0 110.0h0M123.9 112.2h0M129.7 107.2h0M146.7 112.8h0M117.3 112.1h0M121.2 110.2h0M87.0 111.2h0M179.2 108.8h0M136.2 107.6h0M181.8 111.3h0M176.7 108.4h0M125.3 140.0h0M159.9 115.3h0M101.5 111.3h0M178.3 111.2h0M172.2 116.4h0M220.1 113.0h0M193.3 109.3h0M139.7 114.2h0M213.6 115.1h0M195.5 112.4h0M191.4 108.3h0M181.2 114.9h0M145.0 114.9h0M100.2 110.6h0M225.4 111.0h0M89.7 112.2h0M150.9 107.6h0M172.1 110.5h0M136.2 116.7h0M202.3 115.4h0M177.3 110.0h0M143.7 106.7h0M103.1 112.0h0M191.4 110.0h0M161.7 117.2h0M233.3 114.2h0M175.2 114.6h0M209.6 108.9h0M233.0 111.3h0M97.3 111.0h0M173.7 113.9h0M179.3 111.5h0M203.2 115.5h0M261.5 109.3h0M151.9 110.1h0M161.6 118.1h0M186.9 116.2h0M134.7 107.2h0M207.5 117.4h0M122.1 110.0h0M221.4 116.1h0M158.5 106.0h0M149.3 105.9h0M95.7 109.8h0M181.9 117.5h0M265.7 113.0h0M147.0 117.2h0M171.6 109.8h0M183.9 110.0h0M133.3 114.4h0M198.5 117.8h0M139.8 109.3h0M124.4 112.9h0M186.4 120.9h0M174.5 112.5h0M145.8 113.3h0M178.4 110.1h0M194.6 111.3h0M166.4 112.3h0M189.2 123.1h0M187.0 108.9h0M212.3 115.5h0M238.0 109.6h0M158.0 112.0h0M132.3 109.8h0M206.7 108.5h0M110.2 108.0h0M214.3 114.0h0M160.7 113.1h0M208.0 114.7h0M216.5 113.9h0M251.7 110.8h0M160.3 109.3h0M153.3 109.7h0M181.2 122.0h0M205.5 118.1h0M186.8 109.0h0M105.9 110.3h0M113.5 110.4h0M116.6 111.9h0M130.7 120.4h0M193.0 106.3h0M270.6 110.7h0M195.7 111.2h0M158.0 110.2h0M194.5 107.1h0M162.0 108.4h0M172.7 115.3h0M151.4 111.8h0M125.2 113.9h0M133.3 113.5h0M126.0 113.1h0M178.0 119.0h0M123.9 117.9h0M276.3 111.1h0M171.2 117.1h0M116.5 110.5h0M202.8 111.2h0M161.3 110.6h0M126.3 120.9h0M183.1 106.2h0M251.9 112.9h0M173.7 114.6h0M193.7 106.6h0M173.7 107.0h0M160.1 115.4h0M174.3 119.4h0M121.8 109.7h0M195.9 113.2h0M128.4 111.2h0M127.6 108.9h0M152.8 114.7h0M169.9 107.5h0M192.9 101.8h0M125.6 114.3h0M208.9 112.4h0M107.6 113.8h0M157.9 108.7h0M287.5 111.7h0M217.7 109.6h0M223.3 109.9h0M193.1 111.5h0M180.1 106.6h0M124.3 117.6h0M151.1 109.5h0M191.9 117.5h0M110.7 111.8h0M150.6 111.4h0M151.8 113.0h0M254.0 112.6h0M153.1 108.8h0M140.9 109.2h0M149.5 114.2h0M226.7 112.7h0M195.9 108.0h0M180.6 100.8h0M152.1 111.7h0M103.0 111.3h0M165.7 114.7h0M188.7 112.9h0M166.2 104.1h0M189.5 102.8h0M124.6 107.4h0M147.9 109.8h0M117.6 109.9h0M156.4 110.1h0M178.1 116.7h0M142.3 116.2h0M190.5 113.2h0M152.1 106.2h0M213.3 114.8h0M136.5 104.0h0M204.4 108.7h0M190.5 113.5h0M168.7 109.3h0M158.9 121.2h0M217.7 108.9h0M168.9 108.7h0M185.7 111.6h0M182.5 110.6h0M195.1 111.5h0M114.9 112.5h0M176.1 108.3h0M198.1 108.4h0M143.0 114.9h0M124.7 105.3h0M129.8 114.1h0M209.3 112.3h0M122.4 106.2h0M157.4 104.9h0M167.7 118.4h0M141.3 110.6h0M201.9 114.8h0M142.0 100.8h0M167.8 116.9h0M182.3 116.6h0M215.8 108.7h0M167.2 107.3h0M234.4 115.5h0M207.5 112.0h0M110.1 112.2h0M165.8 108.8h0M205.1 118.2h0M90.2 110.9h0M166.0 113.3h0M122.1 111.3h0M142.3 111.5h0M184.7 118.5h0M149.7 107.0h0M175.8 111.5h0M182.3 111.9h0M133.4 111.6h0M137.1 113.7h0M184.1 102.1h0M163.3 107.4h0M302.6 110.9h0M167.8 107.1h0M156.0 104.3h0M163.6 108.8h0M144.7 112.5h0M169.2 120.7h0M194.7 108.0h0M147.1 108.0h0M97.6 113.1h0M100.3 114.1h0M235.5 101.4h0M148.5 107.4h0M170.2 107.4h0M194.1 108.7h0M192.4 107.9h0M98.0 111.4h0M215.6 113.5h0M124.5 114.3h0M221.9 114.8h0M172.1 114.7h0M154.9 108.5h0M106.4 114.5h0M276.1 111.7h0M222.7 112.3h0M163.5 106.8h0M179.5 107.5h0M220.9 111.9h0M113.4 104.8h0M182.1 117.9h0M170.4 115.8h0M126.5 117.2h0M234.8 111.8h0M124.2 107.9h0M241.5 112.9h0M178.3 117.3h0M171.0 120.9h0M226.9 111.1h0M145.9 115.1h0M149.8 116.8h0M153.4 115.8h0M231.2 104.5h0M176.6 103.4h0M140.5 121.2h0M174.5 104.9h0M162.6 112.3h0M179.3 112.6h0M163.0 119.5h0M177.7 118.5h0M151.4 112.0h0M209.9 113.1h0M214.0 114.5h0M129.6 109.4h0M185.4 115.9h0M180.2 113.6h0M138.4 109.2h0M172.5 111.0h0M156.9 108.4h0M258.1 111.3h0M251.3 112.9h0M187.6 112.4h0M175.0 105.1h0M139.8 106.3h0M109.4 115.3h0M166.1 113.7h0M101.7 107.7h0M127.0 116.0h0M173.2 114.1h0M165.8 113.3h0M161.9 108.6h0M262.8 111.1h0M123.4 120.4h0M123.8 108.1h0M203.8 108.6h0M194.9 113.5h0M153.0 113.6h0M127.6 126.5h0M201.7 107.4h0M162.8 114.0h0M207.4 114.7h0M116.4 110.5h0M241.4 110.3h0M199.3 115.5h0M218.8 104.9h0M227.0 110.7h0M148.4 103.7h0M185.5 117.2h0M203.2 108.4h0M174.5 110.4h0M152.3 119.0h0M177.0 116.4h0M189.3 114.6h0M167.1 112.0h0M120.7 109.2h0M203.5 114.6h0M212.5 111.0h0M208.6 108.5h0M146.4 113.2h0M184.1 111.1h0M263.4 113.5h0M153.2 117.2h0M147.7 105.8h0M128.8 110.9h0M157.2 110.6h0M130.4 108.2h0M112.7 113.0h0M213.3 115.7h0M155.9 108.7h0M211.5 112.9h0M101.1 116.3h0M156.5 115.2h0M150.4 118.2h0M121.9 109.9h0M157.7 110.1h0M175.7 110.8h0M214.5 109.5h0M197.4 109.0h0M126.0 110.4h0M205.5 107.5h0M132.4 116.3h0M120.7 130.5h0M157.5 118.2h0M143.5 110.6h0M137.2 111.7h0M125.3 113.9h0M198.6 111.8h0M223.2 113.1h0M213.7 113.9h0M207.4 114.7h0M102.5 110.6h0M116.3 108.5h0M156.0 122.1h0M190.9 114.9h0M196.2 108.0h0M188.6 114.4h0M128.1 112.1h0M110.9 110.5h0M120.2 118.9h0M94.8 111.3h0M152.2 118.9h0M165.0 110.8h0M162.6 110.2h0M193.7 111.2h0M154.0 116.0h0M163.5 116.4h0M146.4 110.0h0M183.4 108.6h0M204.2 112.2h0M237.2 110.6h0M113.2 116.9h0M153.7 109.3h0M168.6 114.1h0M167.5 109.3h0M157.1 114.3h0M247.9 110.8h0M204.9 106.5h0M217.5 120.8h0M186.1 114.9h0M105.9 109.0h0M158.7 109.1h0M161.7 111.8h0M156.0 114.9h0M176.9 107.5h0M98.7 111.7h0M148.0 111.7h0M133.1 104.2h0M236.0 110.0h0M102.3 111.1h0M216.9 111.8h0M156.2 115.6h0M134.9 106.4h0M180.9 111.6h0M126.6 113.8h0M134.2 112.5h0M147.1 107.5h0M207.4 112.7h0M173.9 109.3h0M187.4 115.7h0M109.7 108.7h0M216.0 111.3h0M123.6 114.6h0M166.3 102.6h0M206.9 107.4h0M193.2 110.3h0M168.2 112.2h0M230.1 111.3h0M103.9 113.7h0M168.3 115.2h0M163.3 107.4h0M108.7 113.0h0M126.8 106.7h0M134.2 111.9h0M212.8 111.9h0M197.1 105.9h0M215.0 111.1h0M184.7 114.1h0M155.1 108.6h0M118.1 119.6h0M193.2 109.0h0M182.3 107.9h0M121.0 109.5h0M167.5 107.3h0M168.2 116.7h0M197.2 107.3h0M234.7 111.7h0M136.0 119.5h0M132.0 112.7h0M192.8 105.7h0M123.8 115.6h0M128.0 105.5h0M141.9 106.4h0M115.7 111.3h0M163.3 102.8h0M146.5 119.4h0M219.5 123.7h0M156.7 112.8h0M240.4 115.4h0M213.4 108.4h0M162.7 120.9h0M134.1 117.5h0M128.0 114.4h0M228.7 110.1h0M242.0 112.1h0M142.3 111.4h0M175.8 111.4h0M125.3 110.7h0M124.1 108.0h0M183.5 113.1h0M162.6 112.1h0M178.4 109.7h0M150.0 115.9h0M98.6 111.3h0M238.7 116.1h0M175.3 115.3h0M216.8 107.4h0M133.5 107.7h0M118.0 114.3h0M197.0 117.0h0M142.6 114.7h0M177.3 111.8h0M165.1 114.3h0M159.5 106.0h0M239.1 110.4h0M196.6 115.0h0M197.5 109.1h0M205.5 107.1h0M142.2 112.4h0M182.2 107.3h0M146.7 113.4h0M159.3 105.7h0M176.7 105.6h0M139.1 108.1h0M247.7 112.8h0M92.1 111.1h0M107.0 113.7h0M190.4 106.7h0M194.0 115.0h0M153.2 105.9h0M142.8 103.4h0M156.3 109.6h0M119.9 110.8h0M173.7 116.8h0M122.4 113.2h0M195.2 110.1h0M177.0 112.8h0M202.6 124.8h0M152.2 107.7h0M128.3 114.9h0M144.1 114.7h0M160.0 111.9h0M180.6 109.5h0M189.5 108.1h0M106.6 106.6h0M174.5 111.9h0M147.9 111.7h0M181.9 118.2h0M213.2 115.0h0M141.9 112.3h0M208.1 117.1h0M216.8 114.7h0M135.8 103.5h0M133.1 117.5h0M151.0 116.0h0M153.4 114.2h0M117.2 117.1h0M211.3 114.2h0M128.4 115.3h0M127.7 113.1h0M165.1 112.2h0M196.4 109.5h0M158.4 115.3h0M189.4 110.9h0M151.2 99.6h0M221.8 109.4h0M196.6 108.9h0M124.0 108.6h0M175.7 108.3h0M177.4 109.4h0M150.3 123.9h0M178.2 116.9h0M206.3 116.7h0M171.8 114.9h0M173.9 108.7h0M196.0 113.5h0M123.0 108.8h0M221.5 110.0h0M174.2 106.2h0M105.3 113.4h0M199.1 114.4h0M181.4 112.6h0M196.5 112.9h0M184.1 110.0h0M202.2 104.8h0M126.8 112.5h0M150.4 111.7h0M230.3 109.4h0M155.5 103.4h0M208.4 108.2h0M135.6 113.8h0M192.8 113.1h0M226.1 112.0h0M139.8 121.5h0M98.3 111.1h0M174.6 110.7h0M214.5 107.3h0M181.4 111.7h0M139.7 104.2h0M108.0 114.6h0M177.1 109.2h0M178.1 112.8h0M157.0 111.2h0M110.8 112.9h0M183.3 107.5h0M157.6 113.6h0M91.5 111.5h0M105.5 113.7h0M172.4 114.8h0M142.0 119.5h0M209.5 115.7h0M124.3 111.6h0M168.7 109.9h0M184.4 109.4h0M132.5 114.1h0M211.5 113.4h0M192.7 108.9h0M267.0 113.3h0M138.0 113.7h0M180.9 111.6h0M128.5 109.4h0M125.2 112.9h0M169.8 112.7h0M176.8 112.2h0M130.0 120.5h0M134.2 112.0h0M183.3 105.3h0M177.7 115.7h0M212.9 104.3h0M179.0 112.9h0M156.3 118.1h0M175.3 112.8h0M157.8 113.3h0M153.7 113.5h0M219.6 109.9h0M123.7 110.6h0M160.9 107.2h0M132.1 109.1h0M185.8 116.1h0M116.3 111.7h0M138.6 114.2h0M216.5 112.0h0M129.8 114.6h0M150.9 113.4h0M157.1 109.8h0M163.8 121.2h0M125.6 121.4h0M191.6 113.3h0M105.4 110.4h0M167.3 109.7h0M231.2 114.4h0M201.1 107.1h0M132.1 110.1h0M137.1 111.4h0M211.5 118.2h0M174.4 107.1h0M148.3 112.3h0M103.3 109.4h0M216.2 111.6h0M185.3 121.1h0M192.1 110.6h0M151.4 117.1h0M134.8 107.1h0M187.3 117.3h0M194.4 107.5h0M146.2 108.0h0M112.5 112.7h0M218.5 114.8h0M173.8 110.9h0M167.2 109.6h0M141.0 113.1h0M215.4 111.4h0M153.7 114.0h0M132.7 106.4h0M192.0 114.5h0M161.6 110.8h0M109.6 113.5h0M163.0 113.9h0M171.5 107.4h0M110.7 110.8h0M133.0 112.3h0M177.4 113.5h0M159.0 113.6h0M166.1 112.3h0M140.2 105.8h0M123.3 106.2h0M177.9 108.2h0M233.5 111.6h0M199.0 119.7h0M154.0 117.9h0M162.0 118.2h0M151.8 115.1h0M136.7 106.3h0M133.8 110.7h0M148.0 112.1h0M205.2 114.1h0M127.1 130.2h0M210.5 106.0h0M132.6 107.6h0M164.0 110.1h0M216.6 113.5h0M93.4 110.9h0M142.1 108.5h0M133.0 116.4h0M240.7 110.1h0M122.4 109.6h0M192.6 111.8h0M108.5 110.3h0M193.6 112.7h0M190.7 115.0h0M96.5 111.1h0M173.4 107.0h0M185.0 113.7h0M143.2 114.4h0M93.8 110.5h0M163.2 115.1h0M154.0 106.3h0M214.7 110.1h0M174.3 118.8h0M141.1 112.4h0M119.0 113.2h0M132.3 109.1h0M123.3 107.4h0M116.6 110.9h0M218.5 113.8h0M202.5 111.3h0M181.7 111.5h0M153.2 104.9h0M213.6 110.2h0M194.6 112.7h0M177.3 112.9h0M148.5 114.6h0M190.7 105.6h0M220.5 121.5h0M179.7 112.4h0M148.4 117.6h0M197.2 113.2h0M139.4 113.3h0M170.8 106.5h0M108.1 108.0h0M133.9 109.8h0M208.6 113.0h0M121.8 112.4h0M106.5 110.7h0M138.7 119.2h0M101.7 111.4h0M191.2 117.2h0M157.7 112.7h0M91.3 111.6h0M192.3 108.5h0M226.0 114.8h0M137.5 115.1h0M141.3 112.1h0M191.5 111.9h0M224.6 111.8h0M175.9 112.5h0M112.7 112.6h0M140.8 113.5h0M149.6 102.6h0M169.2 108.3h0M218.0 114.3h0M131.5 105.8h0M157.8 116.4h0M158.0 100.9h0M173.1 114.6h0M129.1 114.7h0M209.1 111.1h0M207.1 112.8h0M188.7 108.2h0M187.6 114.0h0M126.5 112.7h0M140.6 106.7h0M165.4 99.2h0M160.6 113.7h0M184.5 110.6h0M207.1 109.6h0M91.7 112.8h0M198.4 110.0h0M201.0 115.2h0M264.0 112.5h0M174.8 111.9h0M155.0 120.2h0M180.8 117.4h0M121.2 119.0h0M145.1 111.0h0M124.1 145.6h0M98.7 110.8h0M151.7 110.8h0M104.6 115.5h0M148.7 113.7h0M193.8 109.6h0M165.1 112.7h0M134.0 118.2h0M170.2 122.8h0M164.8 112.3h0M159.7 113.7h0M136.8 105.5h0M188.2 114.5h0M95.7 113.0h0M169.8 109.8h0M166.5 112.4h0M110.4 108.9h0M162.4 113.4h0M214.9 113.0h0M161.5 113.3h0M201.0 112.0h0M170.2 113.7h0M96.2 108.4h0M196.2 109.2h0M144.0 110.2h0M173.1 114.5h0M127.4 109.4h0M145.8 116.1h0M197.1 117.7h0M165.1 104.5h0M151.5 111.3h0M151.9 112.0h0M258.8 113.0h0M202.1 113.1h0M145.4 116.8h0M164.7 120.4h0M134.2 113.8h0M139.7 107.6h0M139.0 111.2h0M190.1 107.2h0M136.5 105.6h0M150.8 110.3h0M174.7 109.3h0M136.0 111.3h0M119.9 115.9h0M228.9 112.3h0M133.5 106.2h0M163.2 116.6h0M156.1 114.1h0M165.2 113.0h0M166.8 108.3h0M138.8 114.6h0M121.5 110.4h0M176.7 113.5h0M146.6 106.5h0M115.2 104.3h0M145.1 114.0h0M211.4 109.7h0M198.1 110.0h0M139.7 109.8h0M193.3 111.2h0M191.4 110.0h0M147.5 107.9h0M155.0 112.6h0M184.1 111.7h0M143.1 107.9h0M182.1 117.7h0M177.4 112.3h0M222.6 114.6h0M122.5 104.0h0M200.3 111.7h0M144.9 115.6h0M223.0 107.1h0M229.7 120.0h0M194.9 106.6h0M270.1 114.1h0M238.2 111.7h0M133.7 107.0h0M281.0 110.6h0M160.6 109.1h0M122.0 116.5h0M168.3 117.3h0M170.5 110.1h0M142.2 106.4h0M224.2 110.2h0M167.8 121.8h0M217.2 96.2h0M217.0 109.6h0M152.3 109.3h0M154.9 108.5h0M195.2 109.8h0M126.7 112.9h0M140.3 116.8h0M124.0 116.5h0M172.6 110.6h0M170.3 115.3h0M184.5 116.9h0M184.8 115.1h0M152.2 110.8h0M159.7 104.0h0M98.9 115.3h0M162.4 110.2h0M202.4 114.4h0M137.4 118.7h0M258.0 114.2h0M112.6 116.8h0M114.7 110.1h0M226.4 109.4h0M171.5 110.2h0M124.4 108.5h0M174.3 115.4h0M172.6 107.2h0M199.6 111.0h0M138.4 110.9h0M182.6 113.6h0M204.7 116.0h0M129.1 110.9h0M166.2 116.5h0M223.8 111.1h0M201.0 112.1h0M132.7 110.4h0M212.3 113.1h0M196.8 114.4h0M111.0 112.3h0M182.5 112.6h0M169.4 109.1h0M140.1 119.8h0M199.6 114.8h0M223.0 114.0h0M189.8 108.3h0M105.0 109.2h0M140.3 115.5h0M117.8 112.2h0M187.9 109.8h0M178.5 109.4h0M131.1 112.2h0M185.5 112.5h0M202.6 107.5h0M124.7 110.5h0M168.8 108.2h0M121.1 116.3h0M195.3 110.3h0M266.1 111.5h0M257.6 109.9h0M191.7 112.5h0M119.7 111.1h0M94.4 111.6h0M222.1 110.7h0M183.8 110.8h0M176.2 113.7h0M176.0 107.0h0M155.4 114.3h0M110.2 116.4h0M207.7 109.9h0M163.1 109.4h0M178.8 115.1h0M156.0 107.6h0M185.5 115.2h0M162.1 115.2h0M176.3 117.6h0M194.7 114.1h0M186.7 104.1h0M212.5 111.3h0M188.5 112.4h0M137.1 116.5h0M149.7 121.1h0M183.3 108.4h0M189.7 119.2h0M178.9 115.8h0M145.9 113.6h0M146.6 112.3h0M130.0 108.6h0M107.1 109.3h0M127.0 111.0h0M173.4 114.0h0M170.8 108.8h0M158.1 113.0h0M187.0 108.0h0M242.0 115.2h0M140.0 115.0h0M154.5 116.7h0M149.8 108.7h0M228.2 106.7h0M171.5 115.1h0M102.6 109.2h0M110.9 114.0h0M200.1 113.1h0M164.7 105.9h0M137.8 115.7h0M224.9 111.0h0M198.3 113.4h0M92.7 113.0h0M108.5 116.8h0M121.9 107.0h0M140.3 117.2h0M123.9 106.0h0M191.7 109.5h0M178.6 110.9h0M163.2 113.6h0M137.3 110.1h0M219.3 104.4h0M134.3 115.7h0M204.6 114.7h0M110.9 112.1h0M214.2 110.0h0M195.1 102.3h0M183.5 105.1h0M160.4 121.1h0M178.0 111.8h0M115.5 110.1h0M151.0 114.4h0M173.9 113.9h0M165.3 117.4h0M150.8 124.6h0M87.9 111.3h0M173.6 114.7h0M188.1 115.9h0M162.3 109.7h0M127.8 115.2h0M156.1 107.3h0M227.3 115.6h0M248.9 116.0h0M154.7 115.3h0M137.7 109.2h0M176.5 104.8h0M229.1 111.4h0M112.7 109.4h0M207.6 109.8h0M142.5 113.3h0M182.1 110.1h0M219.1 112.1h0M197.9 110.1h0M127.6 124.6h0M172.3 117.7h0M164.8 109.4h0M139.7 108.7h0M164.4 110.0h0M158.6 111.3h0M186.8 112.5h0M123.1 113.0h0M202.0 112.8h0M168.6 113.8h0M223.8 109.3h0M114.4 106.5h0M112.9 110.3h0M211.6 113.0h0M164.9 111.7h0M231.3 114.1h0M177.8 110.5h0M171.6 111.1h0M166.1 119.7h0M141.7 113.8h0M98.7 111.8h0M208.5 115.7h0M150.6 115.4h0M212.9 106.4h0M187.3 118.4h0M200.8 110.0h0M215.2 114.8h0M121.1 108.7h0M161.7 115.7h0M189.9 112.9h0M187.9 109.0h0M158.0 113.6h0M191.0 103.5h0M195.6 110.0h0M126.9 111.5h0M169.5 108.2h0M213.2 109.2h0M154.6 111.2h0M166.9 106.9h0M120.3 114.5h0M87.6 111.2h0M202.4 116.0h0M124.3 119.0h0M216.6 115.6h0M141.2 118.0h0M162.1 104.9h0M183.4 109.0h0M154.7 114.0h0M119.6 113.1h0M201.9 116.0h0M125.0 107.7h0M225.4 116.8h0M120.2 111.0h0M101.9 113.9h0M187.1 106.7h0M141.3 115.0h0M162.9 111.6h0M159.2 103.3h0M213.1 108.3h0M204.4 115.0h0M176.7 110.8h0M188.2 108.5h0M156.5 107.5h0M164.2 113.7h0M115.4 111.2h0M146.5 115.4h0M176.4 109.7h0M184.5 112.4h0M162.3 123.4h0M125.3 109.4h0M160.5 116.7h0M127.4 111.8h0M187.3 120.1h0M112.8 119.7h0M143.9 111.2h0M160.3 110.0h0M192.2 112.1h0M150.8 114.3h0M168.1 107.6h0M179.9 111.5h0M121.5 115.0h0M130.7 111.9h0M147.6 113.2h0M152.3 112.3h0M162.8 114.7h0M174.6 102.9h0M132.0 109.6h0M106.2 109.1h0M214.9 110.7h0M177.4 107.3h0M185.9 113.6h0M142.5 112.9h0M220.1 111.8h0M164.9 105.0h0M134.5 111.0h0M146.0 114.5h0M244.4 113.0h0M184.9 109.7h0M176.9 112.3h0M132.2 106.5h0M149.6 107.0h0M165.0 114.0h0M144.5 108.7h0M145.8 107.6h0M194.3 107.5h0M133.0 106.9h0M174.5 111.2h0M109.2 110.5h0M194.5 113.8h0M181.7 108.8h0M151.6 117.9h0M221.3 104.8h0M118.3 106.3h0M167.8 109.3h0M219.4 112.8h0M198.3 113.0h0M203.6 106.6h0M251.6 111.8h0M90.0 112.5h0M225.2 108.5h0M191.5 105.0h0M201.0 114.5h0M262.0 111.9h0M153.0 112.4h0M116.4 109.0h0M165.8 111.8h0M112.8 108.5h0M195.4 110.6h0M134.2 111.5h0M99.2 111.2h0M191.7 111.0h0M201.7 112.0h0M201.5 105.1h0M150.8 112.2h0M113.3 111.4h0M143.7 119.0h0M92.8 109.8h0M217.5 108.2h0M223.0 113.0h0M111.1 108.3h0M200.1 110.6h0M175.1 114.4h0M158.0 118.6h0M169.5 108.4h0M170.4 109.7h0M142.1 113.3h0M170.9 106.9h0M172.7 107.9h0M194.9 109.6h0M202.8 117.3h0M294.3 113.0h0M177.9 111.7h0M172.9 108.9h0M155.9 109.8h0M172.4 113.1h0M151.7 118.7h0M141.0 112.6h0M119.9 116.2h0M165.8 110.5h0M169.0 117.3h0M120.5 115.8h0M125.1 107.0h0M214.2 107.8h0M164.3 113.8h0M133.1 116.0h0M212.7 111.6h0M150.7 107.4h0M221.0 114.3h0M184.9 106.8h0M85.5 112.3h0M187.4 110.8h0M190.8 108.8h0M175.3 111.6h0M192.1 111.9h0M161.6 107.5h0M185.3 110.8h0M205.6 102.0h0M212.0 110.4h0M207.4 117.2h0M160.1 103.0h0M118.9 130.0h0M210.1 112.7h0M108.9 107.3h0M122.3 110.1h0M181.5 110.8h0M209.5 108.7h0M126.0 110.7h0M148.2 110.9h0M141.2 110.7h0M179.0 114.2h0M205.9 111.7h0M155.5 115.7h0M128.9 114.4h0M130.1 104.1h0M208.8 111.8h0M209.4 114.1h0M150.3 104.9h0M167.5 114.7h0M248.0 108.1h0M250.5 113.3h0M176.0 103.6h0M210.7 109.7h0M145.0 108.8h0M227.3 110.8h0M162.2 106.3h0M163.3 104.8h0M225.9 115.0h0M127.4 112.6h0M138.7 116.9h0M110.6 112.4h0M118.7 107.5h0M215.9 114.0h0M196.5 114.3h0M124.8 111.7h0M213.2 115.9h0M192.4 112.5h0M169.6 112.9h0M156.9 112.3h0M254.7 110.6h0M185.5 109.7h0M194.2 107.8h0M145.7 105.2h0M106.8 112.1h0M187.4 106.4h0M208.1 112.6h0M191.8 115.7h0M190.2 110.8h0M170.6 113.4h0M138.6 121.2h0M182.0 113.4h0M104.9 110.1h0M174.0 99.4h0M189.5 110.3h0M119.7 109.7h0M162.4 108.4h0M191.9 109.3h0M152.1 120.6h0M178.2 111.4h0M204.6 108.8h0M134.2 114.9h0M173.4 119.3h0M186.7 111.0h0M177.8 119.3h0M131.0 113.2h0M142.4 103.8h0M129.1 112.2h0M158.0 113.2h0M168.3 120.6h0M225.3 113.8h0M164.0 106.2h0M162.5 114.3h0M150.2 113.7h0M123.2 113.2h0M186.6 112.0h0M195.4 100.8h0M120.0 108.6h0M163.1 116.1h0M117.3 113.8h0M117.9 115.9h0M168.0 107.4h0M146.7 113.8h0M109.4 102.4h0M238.7 114.3h0M144.9 108.3h0M131.3 110.2h0M228.3 113.2h0M195.1 108.8h0M201.0 108.0h0M103.7 112.5h0M160.5 121.4h0M164.5 105.9h0M159.3 115.0h0M197.6 111.5h0M184.5 113.3h0M116.7 106.2h0M162.7 108.3h0M206.1 114.5h0M217.8 114.1h0M248.5 114.8h0M167.4 113.1h0M130.0 108.5h0M94.1 111.1h0M171.2 111.5h0M170.6 110.7h0M147.5 115.2h0M216.1 106.1h0M233.2 109.6h0M169.2 107.1h0M167.6 113.2h0M224.4 104.0h0M165.4 105.7h0M161.1 113.1h0M160.2 114.5h0M176.5 113.1h0M113.3 108.9h0M129.6 117.9h0M225.4 110.1h0M169.4 108.6h0M153.3 111.8h0M214.5 109.3h0M163.0 110.1h0M96.6 111.9h0M243.0 110.6h0M146.7 108.1h0M134.8 110.8h0M227.1 112.9h0M180.2 108.8h0M246.9 110.9h0M165.4 108.5h0M137.4 112.2h0M186.4 114.0h0M166.6 114.7h0M129.1 112.1h0M125.3 111.8h0M189.5 105.8h0M119.1 111.7h0M117.7 115.6h0M161.7 112.2h0M117.3 111.8h0M248.3 107.1h0M105.5 110.2h0M191.0 108.8h0M188.9 111.1h0M172.1 111.9h0M186.9 109.2h0M148.5 109.3h0M154.2 106.8h0M195.8 114.5h0M158.8 103.9h0M225.3 118.3h0M156.9 107.4h0M172.2 103.5h0M180.2 112.9h0M173.6 114.1h0M127.0 117.2h0M161.2 109.9h0M148.4 112.2h0M240.7 109.7h0M157.3 115.5h0M145.1 107.6h0M200.4 114.7h0M140.6 114.9h0M138.8 116.6h0M206.9 110.2h0M164.2 112.0h0M106.9 112.1h0M200.8 112.0h0M173.8 112.5h0M115.3 115.5h0M148.0 112.3h0M109.9 107.9h0M174.1 106.7h0M111.0 109.8h0M159.4 115.9h0M121.9 110.6h0M184.5 107.6h0M205.6 120.9h0M218.6 105.9h0M174.6 119.6h0M188.7 110.3h0M187.5 111.1h0M176.4 113.3h0M125.7 114.1h0M197.4 110.9h0M186.3 112.1h0M145.1 116.8h0M171.2 114.7h0M151.7 109.0h0M127.7 108.6h0M184.5 112.4h0M199.9 116.4h0M215.0 114.9h0M200.1 109.9h0M145.7 114.7h0M179.7 105.9h0M171.6 119.8h0M179.5 112.0h0M179.4 110.5h0M158.1 119.6h0M150.7 105.1h0M127.3 112.3h0M191.1 107.2h0M157.0 108.9h0M135.9 111.3h0M227.1 106.0h0M138.3 109.0h0M170.2 109.2h0M188.1 116.3h0M130.2 106.8h0M147.5 110.4h0M208.7 109.3h0M192.3 113.5h0M156.5 109.4h0M218.3 112.4h0M102.2 109.5h0M149.4 118.8h0M178.7 110.3h0M198.6 114.4h0M179.4 111.1h0M124.9 121.7h0M150.1 108.5h0M166.2 121.1h0M107.2 111.9h0M132.8 108.9h0M160.6 115.2h0M141.7 119.9h0M225.2 112.1h0M226.9 107.8h0M160.4 112.8h0M132.2 111.8h0M165.1 118.4h0M218.5 113.7h0M122.7 113.1h0M181.3 108.2h0M257.5 110.6h0M114.2 106.0h0M111.4 111.8h0M130.7 110.9h0M191.2 119.6h0M168.6 114.6h0M185.1 118.1h0M169.1 108.9h0M139.2 110.3h0M153.1 110.7h0M130.3 108.4h0M113.9 112.0h0M187.8 120.2h0M110.6 113.8h0M99.7 112.6h0M104.4 109.0h0M129.6 112.7h0M146.2 106.8h0M235.3 114.8h0M154.1 110.0h0M195.1 113.4h0M180.9 114.4h0M191.9 108.5h0M165.3 114.9h0M165.2 111.2h0M186.9 106.8h0M128.8 112.7h0M202.7 115.7h0M162.9 108.8h0M145.1 116.5h0M178.5 119.6h0M169.9 111.8h0M165.6 105.9h0M126.4 111.6h0M165.2 111.8h0M167.3 110.3h0M221.9 113.5h0M208.2 114.2h0M153.9 109.7h0M133.3 106.8h0M250.5 107.7h0M97.1 112.4h0M179.3 116.4h0M194.2 111.0h0M223.2 108.5h0M204.8 111.3h0M179.3 110.9h0M108.8 116.6h0M110.9 114.1h0M205.1 113.8h0M141.3 109.2h0M123.5 109.0h0M97.3 110.1h0M209.0 108.7h0M184.0 113.4h0M135.1 110.4h0M110.6 111.6h0M193.5 105.3h0M180.9 114.0h0M246.6 111.4h0M154.8 112.5h0M218.5 109.1h0M175.3 110.5h0M104.3 111.5h0M191.2 109.7h0M102.6 112.7h0M189.6 115.8h0M107.2 115.4h0M183.0 109.2h0M198.1 112.2h0M196.9 111.2h0M103.7 110.2h0M161.8 108.8h0M214.7 113.1h0M177.1 111.9h0M218.8 109.5h0M141.2 114.4h0M232.9 109.2h0M183.4 102.5h0M153.8 127.6h0M153.0 101.7h0M136.6 111.5h0M157.9 112.5h0M197.3 116.8h0M221.2 114.8h0M113.8 111.1h0M189.6 102.6h0M186.1 106.3h0M212.8 115.9h0M152.1 112.4h0M217.0 115.9h0M156.6 105.9h0M128.9 112.7h0M128.7 113.7h0M191.1 105.2h0M150.2 124.0h0M227.1 91.7h0M194.0 106.5h0M124.9 106.1h0M158.5 110.4h0M184.4 112.4h0M183.4 111.3h0M135.1 108.8h0M172.5 114.6h0M153.2 110.5h0M227.5 114.0h0M194.3 104.8h0M164.4 118.3h0M121.4 113.0h0M129.0 113.0h0M161.8 112.7h0M134.8 107.0h0M181.5 118.6h0M177.9 111.0h0M118.3 114.6h0M149.7 113.6h0M187.9 115.8h0M183.3 112.7h0M202.6 109.6h0M175.3 114.3h0M104.2 110.7h0M148.8 113.3h0M143.3 111.5h0M168.5 112.7h0M153.1 115.9h0M109.5 111.8h0M195.6 109.6h0M187.5 111.6h0M158.4 111.7h0M137.0 115.2h0M149.1 106.2h0M166.2 109.2h0M226.1 117.6h0M181.2 106.5h0M191.5 114.7h0M164.4 111.4h0M154.1 111.1h0M163.4 113.5h0M108.2 115.6h0M147.6 102.7h0M146.7 111.7h0M186.1 114.6h0M144.4 105.7h0M191.8 116.5h0M195.3 105.9h0M104.6 112.5h0M211.6 118.0h0M148.0 115.0h0M95.6 111.7h0M117.8 110.6h0M162.7 110.0h0M168.6 116.1h0M122.2 108.2h0M103.3 114.5h0M207.8 105.5h0M228.6 108.6h0M155.9 112.5h0M151.7 118.3h0M194.7 114.9h0M166.3 102.5h0M162.2 109.9h0M188.2 118.6h0M167.5 102.4h0M193.1 106.2h0M170.2 104.5h0M126.0 113.9h0M186.6 108.1h0M152.8 109.0h0M153.1 119.1h0M195.4 104.9h0M95.8 112.6h0M110.7 110.5h0M166.0 109.4h0M217.3 117.2h0M115.9 110.8h0M215.4 116.2h0M211.6 112.5h0M187.5 114.1h0M155.3 108.6h0M132.2 107.3h0M133.5 108.6h0M236.0 108.5h0M110.3 116.8h0M212.8 118.4h0M162.4 111.5h0M207.5 113.4h0M192.9 107.9h0M143.3 111.0h0M112.5 108.8h0M223.3 111.1h0M202.6 113.1h0M138.0 106.5h0M261.4 110.2h0M164.5 114.7h0M129.7 111.1h0M113.8 115.9h0M151.2 102.4h0M181.7 108.2h0M190.5 113.6h0M248.4 113.0h0M106.7 113.3h0M155.1 114.2h0M204.2 117.0h0M208.6 107.3h0M203.5 111.7h0M159.3 102.1h0M151.9 106.1h0M242.6 107.0h0M108.3 113.1h0M127.1 117.0h0M173.6 113.5h0M182.1 107.0h0M152.7 105.6h0M208.6 112.1h0M140.7 115.6h0M238.8 111.1h0M188.8 112.1h0M155.3 106.0h0M149.2 112.5h0M165.0 112.7h0M122.0 111.0h0M117.7 113.6h0M209.3 106.5h0M230.3 111.3h0M258.2 115.4h0M183.6 112.2h0M182.6 111.2h0M199.7 109.9h0M204.8 118.8h0M124.9 109.7h0M201.3 111.1h0M190.8 109.8h0M177.2 112.1h0M166.2 113.9h0M156.4 113.7h0M184.3 119.4h0M152.6 111.2h0M153.3 108.0h0M156.1 113.3h0M189.6 108.9h0M198.0 120.4h0M136.7 121.5h0M264.5 110.1h0M207.2 112.6h0M196.8 111.2h0M188.8 115.6h0M170.5 107.3h0M172.2 112.3h0M192.5 110.7h0M137.9 113.7h0M237.6 108.4h0M192.8 107.9h0M204.8 101.0h0M176.9 103.9h0M145.2 110.6h0M109.1 110.6h0M184.3 106.1h0M199.2 113.1h0M208.2 109.8h0M192.4 118.8h0M113.1 118.8h0M175.1 111.2h0M183.9 101.1h0M127.9 117.5h0M174.7 114.7h0M181.0 111.9h0M165.6 113.3h0M128.7 112.7h0M188.6 116.9h0M176.0 113.5h0M234.7 113.4h0M163.5 118.1h0M147.7 116.6h0M224.7 109.0h0M181.5 110.6h0M147.9 110.2h0M174.9 115.4h0M154.3 118.1h0M177.9 109.3h0M157.2 110.9h0M229.4 116.9h0M196.9 115.2h0M134.7 109.0h0M140.4 112.4h0M225.1 116.0h0M173.9 116.1h0M137.6 106.2h0M216.3 110.0h0M184.3 108.3h0M140.4 115.9h0M121.2 112.4h0M223.5 116.6h0M198.3 112.2h0M204.1 114.9h0M231.6 117.1h0M122.1 111.0h0M117.6 108.9h0M150.2 113.5h0M184.5 114.6h0M198.3 111.1h0M135.2 116.4h0M106.5 111.0h0M174.5 109.8h0M234.2 110.5h0M157.8 112.0h0M206.9 115.4h0M168.0 108.0h0M115.1 110.8h0M133.3 108.3h0M167.5 107.0h0M128.4 116.6h0M119.7 121.5h0M123.1 107.5h0M166.1 113.7h0M214.3 114.7h0M177.3 111.8h0M205.3 109.1h0M196.7 120.1h0M118.0 114.8h0M181.5 111.7h0M151.0 116.5h0M186.9 107.9h0M177.5 111.7h0M152.2 114.1h0M178.7 113.9h0M159.1 107.4h0M181.6 118.3h0M215.0 113.4h0M172.4 108.1h0M137.1 114.9h0M187.8 111.9h0M187.3 113.2h0M91.0 112.9h0M204.5 113.6h0M117.0 109.2h0M245.9 110.7h0M109.0 113.5h0M155.2 115.4h0M291.5 111.4h0M168.1 109.3h0M148.4 108.4h0M256.6 111.0h0M139.5 109.3h0M154.9 109.5h0M190.3 120.5h0M163.7 118.0h0M226.1 110.4h0M111.8 111.9h0M133.7 109.3h0M96.9 111.9h0M169.4 112.9h0M154.0 102.8h0M158.1 112.9h0M209.0 114.0h0M193.3 118.2h0M160.2 115.8h0M181.0 110.5h0M246.4 115.8h0M228.2 116.6h0M187.3 111.3h0M186.4 113.7h0M169.6 110.4h0M160.5 115.2h0M152.6 112.1h0M148.7 117.2h0M155.2 104.3h0M166.2 114.3h0M214.9 110.6h0M149.2 113.1h0M145.4 108.1h0M137.6 113.5h0M147.8 108.4h0M193.9 112.2h0M266.3 114.3h0M167.9 112.3h0M117.9 116.2h0M188.2 115.5h0M120.1 110.2h0M154.3 124.4h0M183.6 107.6h0M207.0 114.5h0M207.4 109.6h0M151.4 110.2h0M197.8 108.4h0M183.4 104.6h0M117.5 111.4h0M212.4 111.3h0M175.6 113.3h0M218.5 112.8h0M175.8 114.2h0M175.6 118.7h0M161.9 112.1h0M237.0 115.2h0M194.9 121.7h0M174.6 110.5h0M145.1 118.9h0M218.5 112.6h0M125.8 117.3h0M160.8 112.6h0M234.3 108.4h0M141.1 111.9h0M146.1 114.0h0M240.4 114.7h0M198.3 118.5h0M137.4 115.5h0M180.7 111.0h0M154.4 107.5h0M144.5 106.4h0M183.4 106.3h0M144.6 115.8h0M124.6 114.1h0M150.3 109.9h0M119.3 114.1h0M185.8 111.0h0M176.7 108.1h0M187.6 111.0h0M147.3 110.4h0M259.1 109.2h0M172.3 110.5h0M145.2 117.3h0M132.4 104.8h0M220.8 109.0h0M259.1 112.3h0M134.4 104.5h0M150.1 111.5h0M119.6 114.9h0M182.6 107.7h0M138.9 111.5h0M119.1 116.1h0M175.9 107.8h0M127.4 114.0h0M153.8 113.9h0M199.6 113.8h0M159.5 117.3h0M170.1 109.7h0M165.5 105.6h0M187.2 111.2h0M204.4 106.4h0M111.2 116.5h0M183.2 115.8h0M206.7 115.9h0M133.4 110.9h0M175.9 105.5h0M139.5 109.5h0M167.5 108.9h0M135.4 107.2h0M245.8 113.7h0M132.4 112.7h0M189.2 112.3h0M233.0 115.5h0M185.4 115.3h0M138.6 103.4h0M154.7 109.1h0M198.1 113.0h0M179.6 108.8h0M183.8 113.3h0M163.4 107.0h0M137.9 114.6h0M188.1 107.2h0M183.3 112.1h0M135.3 113.1h0M138.9 113.9h0M195.0 109.2h0M146.8 115.2h0M219.0 118.1h0M227.5 112.9h0M215.4 110.9h0M146.6 113.2h0M220.2 110.8h0M156.5 110.2h0M196.7 111.6h0M181.9 110.8h0M202.5 105.7h0M175.8 114.8h0M193.0 109.9h0M191.3 120.2h0M140.1 114.3h0M114.4 110.9h0M142.9 116.5h0M169.1 110.5h0M143.5 114.6h0M197.6 104.6h0M178.9 105.6h0M147.8 113.8h0M224.9 109.4h0M178.2 109.5h0M161.5 113.5h0M143.0 112.3h0M196.9 116.5h0M151.0 106.0h0M171.9 111.2h0M158.0 113.4h0M202.3 108.2h0M184.6 114.5h0M148.2 116.1h0M166.1 113.7h0M130.1 108.3h0M154.5 110.7h0M162.0 109.3h0M209.4 106.8h0M206.1 105.8h0M236.1 107.5h0M178.2 114.8h0M154.2 108.5h0M160.0 111.8h0M214.7 111.2h0M135.6 121.1h0M114.7 114.9h0M193.6 108.2h0M163.8 107.2h0M192.9 99.7h0M209.0 119.0h0M150.5 116.3h0M189.8 113.7h0M197.0 108.5h0M189.2 110.5h0M91.7 112.7h0M187.7 121.6h0M172.6 117.7h0M199.8 113.9h0M133.7 113.1h0M142.6 112.8h0M209.7 112.7h0M140.2 114.3h0M229.7 116.4h0M156.5 106.2h0M171.3 112.2h0M214.0 116.0h0M128.9 109.6h0M115.7 113.7h0M97.0 109.6h0M200.2 110.2h0M148.8 104.7h0M204.8 115.0h0M112.0 111.4h0M176.5 111.3h0M198.6 107.2h0M204.3 107.7h0M188.2 111.3h0M225.1 113.9h0M209.5 111.2h0M227.3 113.3h0M234.4 110.1h0M184.4 113.1h0M181.5 112.1h0M166.7 112.7h0M161.8 115.4h0M121.8 104.1h0M168.5 109.8h0M156.1 111.3h0M122.9 106.6h0M206.7 113.9h0M227.6 112.6h0M162.0 112.2h0M194.3 111.6h0M185.8 116.2h0M147.9 113.2h0M126.8 104.0h0M99.6 111.1h0M179.4 103.0h0M178.3 110.9h0M133.3 108.7h0M150.4 109.8h0M247.3 109.8h0M205.4 115.1h0M135.7 113.5h0M148.9 114.3h0M207.3 111.0h0M180.5 114.9h0M183.0 115.7h0M126.2 113.0h0M213.7 114.9h0M142.9 109.9h0M204.5 107.4h0M131.2 113.5h0M162.7 115.9h0M124.9 115.8h0M105.0 112.5h0M101.2 111.7h0M184.0 114.6h0M133.4 114.8h0M158.8 115.6h0M134.8 112.1h0M142.7 116.0h0M143.1 108.4h0M196.5 106.2h0M123.0 104.8h0M144.2 107.4h0M100.8 110.1h0M219.0 115.5h0M240.4 110.0h0M121.0 113.8h0M211.0 105.3h0M139.4 115.4h0M127.0 116.5h0M184.2 110.2h0M132.4 117.1h0M224.8 109.5h0M174.0 104.5h0M172.2 108.4h0M159.0 117.6h0M194.4 111.5h0M101.8 110.4h0M207.0 114.4h0M177.3 114.8h0M165.8 111.1h0M136.6 111.1h0M180.9 110.2h0M197.8 110.0h0M169.5 110.5h0M124.8 129.5h0M148.2 112.6h0M145.0 106.5h0M87.0 111.6h0M137.4 104.3h0M252.3 109.8h0M219.8 111.9h0M177.7 108.4h0M235.2 114.8h0M170.7 113.3h0M162.7 115.8h0M202.4 109.3h0M253.9 110.3h0M169.3 111.8h0M90.2 111.5h0M210.6 112.4h0M109.5 106.4h0M124.3 115.3h0M212.1 116.8h0M146.7 111.1h0M182.3 108.3h0M206.7 108.8h0M168.3 116.4h0M155.1 109.9h0M206.6 113.7h0M104.1 113.9h0M168.6 111.9h0M155.2 111.1h0M179.3 110.8h0M175.8 115.5h0M134.0 111.4h0M121.3 114.5h0M181.5 111.5h0M96.2 111.2h0M164.9 113.5h0M136.1 106.3h0M138.5 120.0h0M153.5 117.8h0M141.8 122.7h0M176.3 110.0h0M134.1 111.6h0M151.5 111.8h0M201.8 111.6h0M231.1 106.9h0M98.7 110.2h0M146.6 113.3h0M124.1 110.7h0M100.1 110.2h0M188.1 108.6h0M99.4 108.7h0M162.5 109.8h0M197.7 109.2h0M184.5 110.1h0M220.8 117.3h0M171.9 111.0h0M193.2 110.9h0M141.6 109.8h0M169.0 104.8h0M173.7 114.6h0M97.9 112.2h0M195.8 114.9h0M189.4 110.6h0M146.8 110.5h0M173.3 110.4h0M164.0 112.9h0M178.1 118.2h0M144.9 111.2h0M225.4 109.8h0M163.7 112.7h0M163.7 109.3h0M119.2 112.7h0M215.8 112.9h0M105.7 113.4h0M186.3 103.4h0M215.1 114.4h0M166.6 106.9h0M137.7 113.9h0M150.2 117.7h0M276.2 112.7h0M202.3 115.8h0M144.0 102.7h0M149.7 117.0h0M98.7 109.7h0M204.0 109.5h0M205.7 115.3h0M206.2 105.5h0M223.6 111.2h0M95.3 114.0h0M178.6 112.7h0M148.0 117.0h0M173.5 112.4h0M125.3 112.8h0M145.4 108.0h0M194.2 108.3h0M222.5 109.5h0M131.4 114.3h0M151.8 117.4h0M203.8 114.7h0M203.8 106.5h0M252.9 111.5h0M188.6 113.9h0M152.3 108.6h0M144.9 114.2h0M130.8 116.7h0M201.6 111.9h0M137.3 110.9h0M209.3 113.5h0M134.1 107.8h0M138.3 111.4h0M139.7 117.5h0M123.9 109.2h0M231.1 114.6h0M137.3 110.7h0M142.3 113.5h0M130.7 103.1h0M188.1 105.3h0M166.8 116.5h0M151.3 111.9h0M143.2 105.8h0M170.1 111.4h0M248.5 112.0h0M166.3 110.8h0M126.5 127.0h0M146.8 106.7h0M94.1 111.9h0M121.6 114.4h0M164.8 110.8h0M213.9 113.3h0M169.3 110.0h0M237.5 111.9h0M136.6 113.8h0M181.7 108.7h0M161.9 105.8h0M217.4 107.0h0M209.7 112.4h0M110.7 112.7h0M169.6 101.4h0M211.4 111.6h0M244.7 110.7h0M181.1 111.6h0M111.4 135.1h0M197.5 110.7h0M191.6 111.1h0M175.2 114.2h0M241.6 112.4h0M176.5 110.2h0M185.4 116.2h0M113.4 116.5h0M202.1 110.4h0M143.7 112.4h0M162.6 111.9h0M164.5 104.6h0M117.7 114.8h0M142.0 111.2h0M157.6 114.5h0M208.1 107.9h0M163.9 116.8h0M213.0 117.4h0M230.4 103.3h0M209.3 109.3h0M179.0 105.9h0M160.0 104.5h0M164.6 115.4h0M199.4 114.3h0M178.4 116.7h0M112.7 112.6h0M131.6 111.4h0M185.2 115.2h0M150.5 107.4h0M145.0 106.1h0M213.8 109.4h0M153.6 108.4h0M138.6 109.9h0M173.1 99.6h0M196.3 114.8h0M139.8 123.2h0M220.6 114.8h0M196.4 105.1h0M148.7 111.2h0M149.6 107.6h0M163.3 122.6h0M168.8 105.6h0M184.0 108.5h0M184.6 111.0h0M195.9 108.2h0M244.3 109.7h0M214.2 111.7h0M159.8 114.4h0M145.5 108.7h0M205.4 108.4h0M159.4 113.0h0M186.1 111.1h0M190.7 121.1h0M180.2 107.9h0M91.3 112.0h0M103.7 106.7h0M169.1 117.4h0M182.0 113.0h0M160.4 112.1h0M168.7 114.9h0M134.9 110.9h0M157.2 114.2h0M181.4 115.3h0M157.7 114.0h0M160.3 104.0h0M291.4 110.0h0M163.5 114.4h0M220.5 115.7h0M225.8 117.2h0M198.3 114.3h0M177.0 111.7h0M151.5 119.1h0M171.4 104.6h0M222.1 111.9h0M235.3 115.5h0M208.5 112.3h0M148.9 101.0h0M149.6 117.3h0M123.2 107.7h0M205.4 111.9h0M121.0 143.8h0M133.1 109.6h0M114.3 115.5h0M175.6 110.2h0M212.6 115.2h0M94.1 108.9h0M200.7 106.5h0M136.2 106.9h0M117.0 114.1h0M151.1 108.9h0M178.1 111.5h0M167.1 109.6h0M190.3 115.5h0M175.2 112.8h0M186.8 114.3h0M150.1 112.0h0M160.7 120.5h0M253.9 112.3h0M200.7 112.6h0M99.2 110.0h0M244.6 109.0h0M223.9 116.8h0M167.4 109.9h0M122.4 108.9h0M176.3 116.4h0M169.1 112.3h0M189.7 111.6h0M121.7 107.1h0M194.7 112.0h0M185.2 109.8h0M259.0 110.4h0M165.3 103.8h0M214.9 106.6h0M180.5 112.2h0M189.0 113.0h0M181.5 100.2h0M208.9 115.4h0M157.7 119.1h0M191.4 112.6h0M200.2 111.0h0M146.9 105.7h0M216.1 112.6h0M249.6 110.7h0M172.4 115.9h0M176.1 113.5h0M145.4 110.8h0M183.3 105.5h0M168.0 114.2h0M183.4 110.3h0M144.7 118.2h0M213.9 116.6h0M202.9 109.5h0M239.1 111.9h0M151.8 111.1h0M236.0 110.1h0M163.4 113.2h0M149.1 107.6h0M206.6 109.9h0M181.4 113.0h0M240.2 112.3h0M154.0 109.7h0M182.9 103.5h0M155.1 109.6h0M199.7 110.3h0M179.3 113.4h0M111.9 117.6h0M150.8 104.5h0M93.9 112.9h0M160.6 111.0h0M110.9 110.0h0M153.4 112.1h0M116.0 110.4h0M192.3 106.3h0M165.5 111.6h0M121.2 115.0h0M224.2 109.7h0M251.3 109.4h0M246.0 113.0h0M238.1 115.2h0M174.5 105.5h0M147.2 112.0h0M195.5 107.2h0M182.9 113.2h0M231.1 108.9h0M194.7 116.1h0M153.0 113.6h0M248.2 108.7h0M141.7 101.7h0M192.2 111.6h0M219.1 107.9h0M125.1 109.8h0M108.2 111.2h0M156.0 116.4h0M207.5 112.1h0M188.6 104.8h0M191.9 114.1h0M193.3 110.2h0M138.9 112.0h0M131.0 116.3h0M243.9 110.1h0M134.7 123.7h0M164.0 104.2h0M193.8 113.5h0M129.7 107.7h0M142.3 107.1h0M129.0 115.7h0M173.9 110.5h0M155.8 115.5h0M189.3 114.0h0M140.8 118.8h0M170.8 104.2h0M208.0 106.5h0M171.4 113.6h0M175.3 105.8h0M126.4 108.5h0M204.4 112.2h0M174.9 102.5h0M158.5 117.7h0M125.0 111.1h0M126.7 110.6h0M184.3 112.5h0M126.0 113.3h0M161.3 107.0h0M133.3 117.0h0M136.7 114.6h0M146.6 113.6h0M146.1 114.3h0M115.9 107.3h0M127.3 112.5h0M180.5 108.0h0M173.5 112.1h0M164.0 110.4h0M242.5 109.3h0M166.0 110.4h0M184.1 110.9h0M193.2 116.2h0M132.9 113.8h0M157.1 119.3h0M158.2 117.0h0M162.7 114.8h0M172.9 113.5h0M192.9 115.8h0M194.6 106.8h0M153.0 111.0h0M141.3 107.0h0M149.3 112.6h0M182.7 118.6h0M196.6 109.8h0M148.2 113.0h0M170.0 113.6h0M157.6 112.6h0M243.1 109.6h0M110.0 111.9h0M174.6 113.8h0M205.3 112.2h0M142.2 112.7h0M176.2 114.6h0M184.5 111.9h0M232.3 113.6h0M130.2 112.1h0M222.1 111.8h0M112.5 110.3h0M167.6 116.1h0M236.8 112.6h0M156.8 113.7h0M190.5 112.6h0M171.3 109.5h0M176.9 113.5h0M155.1 116.8h0M179.9 113.4h0M118.6 114.9h0M225.6 114.1h0M110.8 115.1h0M160.2 112.9h0M170.1 117.0h0M126.6 119.1h0M209.7 114.7h0M153.7 109.6h0M102.0 115.5h0M210.2 106.4h0M147.5 117.0h0M189.6 117.9h0M203.2 102.6h0M95.2 112.1h0M172.6 114.7h0M143.6 116.9h0M146.9 107.1h0M167.7 109.6h0M124.9 106.0h0M203.3 110.1h0M155.7 112.5h0M132.5 111.1h0M99.6 111.7h0M171.0 109.6h0M108.3 113.4h0M153.4 117.1h0M169.4 114.4h0M190.1 117.7h0M212.6 112.3h0M135.4 115.1h0M99.2 110.7h0M111.5 109.3h0M140.6 110.4h0M192.2 109.7h0M155.5 108.7h0M202.3 112.7h0M175.7 114.3h0M169.0 112.5h0M114.9 108.2h0M241.9 113.4h0M166.4 110.8h0M171.1 115.4h0M190.7 107.4h0M237.5 114.2h0M249.4 111.2h0M136.4 111.6h0M176.3 111.3h0M111.8 114.2h0M133.3 115.0h0M129.6 106.7h0M149.3 115.5h0M121.4 116.8h0M146.7 114.5h0M118.8 119.4h0M135.5 117.7h0M116.2 116.5h0M175.3 112.2h0M226.9 115.9h0M163.1 110.6h0M151.5 116.9h0M175.2 102.6h0M146.8 111.7h0M193.8 109.1h0M156.8 109.9h0M230.5 112.3h0M154.1 115.6h0M262.4 113.4h0M105.7 110.3h0M151.3 117.7h0M132.7 118.1h0M142.2 111.5h0M165.4 114.2h0M122.4 113.7h0M152.9 119.5h0M132.4 111.1h0M142.6 113.5h0M211.7 111.4h0M178.3 117.3h0M141.2 110.7h0M186.0 118.0h0M165.2 115.6h0M156.9 111.8h0M199.2 107.3h0M129.0 110.3h0M138.0 105.3h0M136.4 119.7h0M151.4 119.1h0M178.3 116.9h0M239.9 114.6h0M166.4 111.6h0M168.9 112.7h0M111.2 115.7h0M114.0 110.0h0M86.8 112.0h0M116.1 112.4h0M86.7 112.4h0M180.9 110.2h0M223.7 114.2h0M113.5 110.8h0M173.4 111.6h0M156.2 112.6h0M205.1 114.6h0M91.0 113.0h0M201.4 112.0h0M175.5 112.1h0M187.7 113.2h0M183.8 109.8h0M129.3 103.9h0M132.4 108.8h0M149.1 110.8h0M139.3 113.2h0M128.6 110.4h0M208.1 119.8h0M143.5 111.7h0M222.3 107.3h0M185.7 107.7h0M157.6 109.8h0M116.2 107.5h0M139.8 107.5h0M112.5 115.0h0M148.0 114.8h0M156.7 107.3h0M154.7 116.1h0M216.4 111.4h0M259.1 111.4h0M153.1 120.8h0M156.4 104.1h0M294.2 111.8h0M180.7 106.2h0M171.0 108.0h0M167.1 106.3h0M122.5 113.9h0M167.3 113.4h0M208.3 114.9h0M120.4 105.4h0M222.2 111.6h0M167.0 106.0h0M150.2 113.7h0M225.6 113.7h0M229.9 106.6h0M201.3 114.8h0M215.7 111.4h0M122.0 110.7h0M147.0 116.7h0M140.6 106.3h0M104.9 113.8h0M251.9 114.1h0M130.3 103.9h0M170.8 105.5h0M197.6 110.2h0M151.7 120.3h0M153.7 107.8h0M122.6 119.3h0M163.4 111.4h0M233.8 113.2h0M202.2 111.4h0M243.2 112.8h0M180.7 117.4h0M272.9 111.6h0M169.3 111.5h0M191.2 117.4h0M208.4 108.0h0M237.0 110.1h0M214.3 115.5h0M202.4 112.5h0M203.8 114.4h0M165.7 108.2h0M121.2 108.1h0M156.4 112.0h0M158.8 108.4h0M119.0 110.6h0M137.6 110.4h0M175.0 113.3h0M151.7 115.8h0M155.8 115.7h0M203.6 113.5h0M120.4 107.3h0M161.9 116.3h0M128.1 109.3h0M188.8 109.8h0M162.4 112.6h0M275.3 110.2h0M173.1 110.4h0M149.1 108.5h0M193.5 109.6h0M198.3 113.1h0M188.3 104.4h0M108.7 110.4h0M106.0 115.5h0M191.5 110.2h0M228.1 107.6h0M149.8 110.0h0M133.8 100.7h0M114.9 112.0h0M260.2 112.6h0M207.9 106.5h0M190.0 112.0h0M206.5 115.3h0M140.3 113.9h0M193.4 114.0h0M196.8 113.4h0M208.2 112.1h0M124.6 117.1h0M179.0 112.6h0M225.2 110.0h0M250.5 111.7h0M155.7 109.2h0M121.7 136.0h0M218.7 115.2h0M176.2 107.6h0M201.9 111.8h0M222.1 112.1h0M141.7 113.0h0M228.1 106.0h0M191.8 117.9h0M171.0 112.1h0M155.8 111.9h0M191.6 111.6h0M175.9 113.2h0M239.4 111.7h0M140.5 113.7h0M139.4 106.8h0M135.3 108.7h0M163.1 108.4h0M154.5 108.1h0M104.5 111.7h0M165.8 117.0h0M158.6 107.5h0M164.1 114.3h0M175.2 103.5h0M103.5 111.7h0M209.0 111.7h0M178.1 112.4h0M201.7 109.7h0M150.9 111.8h0M195.8 110.6h0M177.0 114.5h0M131.3 110.7h0M128.1 116.9h0M137.7 110.0h0M178.7 109.4h0M213.6 123.8h0M98.6 112.0h0M140.9 114.8h0M143.5 108.2h0M129.3 114.8h0M148.7 107.9h0M223.3 105.6h0M155.5 109.5h0M207.7 114.1h0M130.4 108.2h0M169.9 115.7h0M178.4 112.3h0M146.4 108.8h0M193.0 115.5h0M163.6 116.0h0M179.1 110.4h0M219.5 104.4h0M272.4 113.3h0M179.4 109.5h0M114.2 110.9h0M221.1 107.8h0M175.1 106.7h0M176.2 122.0h0M182.8 104.6h0M145.0 110.8h0M110.7 110.9h0M127.3 111.6h0M141.8 114.6h0M168.9 113.6h0M159.0 114.0h0M201.2 114.5h0M142.3 114.4h0M175.7 110.3h0M151.2 114.1h0M262.1 111.3h0M192.4 111.2h0M151.5 112.1h0M264.1 108.3h0M187.0 117.3h0M145.4 99.3h0M174.8 106.7h0M173.2 111.4h0M180.8 114.1h0M108.4 113.0h0M202.6 112.2h0M153.2 119.6h0M96.5 110.8h0M166.4 111.2h0M269.0 111.7h0M271.7 110.8h0M201.0 111.8h0M166.3 116.3h0M206.3 115.5h0M184.0 108.2h0M163.0 120.4h0M204.6 109.7h0M127.8 116.4h0M167.6 106.1h0M131.5 110.1h0M128.2 112.7h0M163.7 110.0h0M131.6 105.0h0M145.8 111.8h0M126.6 110.4h0M168.9 106.8h0M156.3 103.1h0M167.7 112.1h0M254.6 114.0h0M209.9 111.8h0M140.4 112.7h0M127.4 110.9h0M135.1 110.2h0M163.1 114.2h0M155.0 106.9h0M208.0 114.5h0M221.2 113.9h0M141.6 109.2h0M173.6 109.7h0M199.4 114.0h0M158.2 111.3h0M170.8 110.3h0M196.6 114.6h0M215.4 106.3h0M173.9 114.0h0M148.6 110.3h0M139.5 109.4h0M176.1 109.2h0M173.5 112.5h0M209.3 119.1h0M117.8 107.5h0M140.1 110.8h0M190.5 112.2h0M189.9 114.8h0M97.6 111.6h0M193.8 108.4h0M146.4 120.7h0M123.5 111.1h0M169.7 105.6h0M169.9 116.0h0M162.4 111.5h0M164.9 107.8h0M152.2 109.9h0M162.7 115.3h0M91.3 111.6h0M114.0 111.3h0M161.6 113.6h0M147.2 113.6h0M187.4 108.1h0M131.6 117.1h0M241.0 109.9h0M165.1 108.6h0M129.8 106.7h0M145.9 111.6h0M113.4 108.8h0M117.2 113.3h0M111.0 112.0h0M178.4 117.9h0M192.5 109.2h0M145.9 120.3h0M192.0 115.9h0M186.3 106.1h0M138.1 112.7h0M120.2 117.4h0M195.4 112.2h0M151.5 109.7h0M276.4 111.7h0M213.7 114.4h0M209.8 110.1h0M133.0 117.9h0M188.4 109.8h0M172.3 114.0h0M185.4 100.8h0M210.7 107.4h0M209.8 112.4h0M191.5 107.2h0M210.2 109.8h0M148.1 107.4h0M122.7 112.4h0M181.7 113.6h0M170.4 104.5h0M192.5 108.9h0M143.2 115.2h0M171.4 113.6h0M129.0 114.6h0M196.1 112.2h0M192.6 117.2h0M152.7 105.3h0M132.1 111.4h0M135.5 115.7h0M151.8 118.0h0M124.6 114.6h0M140.1 108.5h0M138.1 110.2h0M240.3 110.1h0M171.7 114.1h0M164.0 109.3h0M248.4 114.9h0M125.6 116.3h0M198.7 113.8h0M155.1 115.0h0M218.1 114.6h0M192.2 104.9h0M152.9 121.2h0M222.9 112.2h0M182.0 113.1h0M218.4 112.0h0M223.4 109.6h0M234.2 113.8h0M180.2 107.6h0M134.3 118.4h0M141.7 116.2h0M191.4 103.9h0M140.8 103.3h0M243.7 112.6h0M142.4 107.2h0M98.5 111.0h0M167.5 118.0h0M162.5 117.0h0M188.9 113.0h0M184.0 107.3h0M186.8 110.0h0M132.9 108.3h0M223.5 111.3h0M141.0 113.2h0M186.5 112.1h0M108.7 112.5h0M176.7 106.4h0M215.2 110.7h0M104.8 115.6h0M161.7 120.5h0M187.3 119.2h0M157.0 111.3h0M162.6 109.9h0M253.2 114.1h0M180.5 111.7h0M229.7 109.6h0M209.9 106.7h0M111.3 112.0h0M160.9 112.5h0M164.5 106.7h0M110.5 112.5h0M104.7 109.3h0M170.0 111.3h0M204.9 113.5h0M150.3 115.4h0M124.0 113.9h0M131.4 124.3h0M177.9 108.9h0M176.6 113.0h0M165.3 106.4h0M182.5 104.6h0M139.8 120.4h0M208.9 107.2h0M139.9 110.5h0M204.6 111.3h0M189.8 107.8h0M188.4 115.8h0M121.6 110.7h0M212.3 115.1h0M119.7 111.6h0M177.0 112.9h0M162.2 104.4h0M193.3 112.6h0M171.0 113.7h0M97.8 110.3h0M194.2 118.0h0M180.0 114.5h0M219.2 106.8h0M214.3 110.5h0M153.2 113.2h0M177.6 117.1h0M179.6 111.8h0M133.6 117.6h0M126.8 113.6h0M126.4 118.2h0M158.6 105.6h0M186.5 110.4h0M131.3 112.6h0M231.0 108.9h0M194.0 104.6h0M140.4 115.7h0M173.3 114.3h0M154.6 115.9h0M184.0 115.1h0M138.4 111.2h0M204.2 111.8h0M142.4 111.2h0M210.3 112.0h0M243.9 109.8h0M158.0 109.6h0M187.4 110.6h0M153.6 114.0h0M155.9 116.7h0M190.2 109.0h0M175.2 116.0h0M124.3 113.3h0M141.0 107.7h0M205.5 107.3h0M221.6 111.4h0M140.7 110.5h0M198.6 111.5h0M107.8 111.5h0M180.8 114.1h0M151.9 111.6h0M131.0 108.7h0M134.8 118.0h0M189.4 107.9h0M150.5 110.0h0M133.5 109.6h0M226.3 112.4h0M177.5 110.4h0M252.7 114.8h0M181.0 109.2h0M150.8 117.0h0M128.6 125.1h0M125.9 114.3h0M182.5 113.7h0M230.6 107.5h0M181.2 105.0h0M135.0 109.7h0M160.2 114.9h0M166.9 109.0h0M185.2 104.0h0M151.5 110.2h0M126.4 111.1h0M184.5 103.4h0M228.6 114.7h0M180.5 112.4h0M171.9 112.1h0M166.8 108.9h0M169.0 111.0h0M174.5 113.6h0M217.8 115.3h0M108.0 113.8h0M144.5 115.9h0M180.0 116.2h0M167.8 105.1h0M205.7 117.1h0M134.3 114.1h0M187.7 105.3h0M161.1 114.2h0M185.5 110.8h0M171.7 118.0h0M201.3 103.8h0M172.6 107.9h0M155.0 116.6h0M213.2 112.5h0M154.4 115.6h0M228.2 111.2h0M138.3 110.8h0M94.1 112.6h0M111.6 117.6h0M135.6 107.5h0M183.8 113.0h0M200.2 116.5h0M184.1 105.7h0M109.7 110.9h0M181.4 111.0h0M178.5 110.4h0M113.9 110.8h0M176.3 119.1h0M109.5 112.1h0M149.8 113.4h0M118.3 118.8h0M137.7 112.5h0M100.9 112.0h0M135.6 107.0h0M168.6 114.8h0M196.7 115.6h0M304.5 110.6h0M218.4 118.1h0M147.3 114.7h0M166.7 109.1h0M153.1 101.4h0M196.2 99.9h0M225.9 118.5h0M152.9 113.3h0M108.2 112.1h0M170.3 112.7h0M204.2 112.9h0M153.6 114.5h0M230.3 108.3h0M173.6 114.3h0M147.7 115.1h0M243.2 109.4h0M149.8 106.4h0M135.2 115.5h0M190.0 113.7h0M189.6 115.1h0M192.7 113.3h0M185.1 109.6h0M144.0 110.5h0M231.6 109.1h0M179.8 115.1h0M141.4 106.1h0M151.7 117.0h0M99.3 111.7h0M195.0 114.1h0M122.1 105.6h0M124.3 107.9h0M202.2 113.2h0M240.2 109.2h0M194.6 104.9h0M166.3 115.1h0M168.8 106.5h0M172.5 109.9h0M209.8 110.2h0M199.7 115.4h0M201.7 112.8h0M170.0 116.0h0M131.2 110.2h0M135.0 107.9h0M240.6 109.8h0M129.8 114.7h0M159.5 112.9h0M175.9 106.2h0M170.7 109.7h0M177.9 113.9h0M97.7 113.3h0M155.7 108.8h0M160.6 118.2h0M149.9 115.3h0M240.3 115.0h0M204.1 110.1h0M152.9 115.2h0M159.5 109.0h0M144.7 108.3h0M176.5 109.5h0M112.6 112.1h0M132.3 114.3h0M128.8 107.9h0M134.4 106.6h0M171.2 112.2h0M105.2 113.1h0M113.0 112.3h0M233.3 108.5h0M165.7 110.7h0M110.1 111.8h0M162.4 124.9h0M209.2 107.7h0M123.5 110.4h0M163.5 106.9h0M132.1 116.4h0M132.5 114.5h0M140.8 112.5h0M190.4 111.4h0M122.1 117.4h0M160.4 111.9h0M133.4 115.3h0M136.3 111.7h0M182.0 113.5h0M204.5 114.8h0M139.1 114.6h0M124.0 107.1h0M172.8 110.7h0M206.1 115.2h0M105.7 113.9h0M224.1 108.6h0M117.8 105.0h0M156.2 115.3h0M108.0 111.2h0M166.9 117.4h0M254.9 114.1h0M199.9 105.9h0M133.3 111.1h0M173.3 115.5h0M196.3 107.5h0M146.0 122.9h0M147.4 113.5h0M172.6 116.7h0M124.2 105.4h0M144.5 115.2h0M191.8 114.2h0M107.7 108.8h0M141.7 111.5h0M182.4 110.4h0M262.2 109.5h0M135.6 112.7h0M113.2 116.8h0M174.0 110.8h0M250.9 112.0h0M149.8 109.7h0M166.5 117.0h0M113.6 121.2h0M164.3 109.9h0M166.4 108.7h0M171.6 118.3h0M208.3 114.0h0M171.2 106.4h0M151.1 115.7h0M216.4 111.7h0M168.3 110.0h0M159.4 115.6h0M176.9 120.9h0M169.9 109.5h0M117.4 109.7h0M164.7 112.8h0M208.9 111.3h0M156.9 115.1h0M147.7 113.3h0M137.5 117.6h0M160.2 108.3h0M138.9 105.9h0M185.7 112.3h0M208.5 109.8h0M163.8 108.0h0M205.3 107.4h0M181.7 110.9h0M109.8 110.0h0M163.9 110.3h0M157.2 111.0h0M212.2 108.5h0M171.2 116.4h0M91.3 111.1h0M130.0 108.8h0M160.5 103.7h0M152.9 114.0h0M164.2 112.3h0M113.3 106.3h0M176.1 117.5h0M160.8 112.4h0M224.7 113.3h0M158.9 114.8h0M169.9 105.8h0M245.8 110.8h0M194.2 107.8h0M189.4 111.0h0M145.6 112.6h0M138.6 107.3h0M116.2 106.4h0M158.8 106.5h0M180.7 104.8h0M204.0 110.6h0M142.2 115.5h0M182.9 114.1h0M137.3 113.0h0M157.6 109.5h0M90.1 109.9h0M172.5 120.9h0M156.2 111.0h0M131.9 113.4h0M136.4 108.7h0M199.8 116.3h0M150.1 106.4h0M195.1 106.3h0M136.1 113.6h0M180.4 122.5h0M171.2 112.2h0M159.1 119.7h0M222.0 111.9h0M136.3 113.5h0M167.7 110.3h0M196.2 108.2h0M159.5 107.3h0M167.7 103.3h0M161.9 104.2h0M169.7 109.6h0M112.0 108.7h0M158.5 107.5h0M213.6 110.8h0M187.1 109.0h0M94.6 111.7h0M182.2 106.6h0M85.7 110.6h0M132.6 115.9h0M203.7 111.7h0M155.8 108.3h0M135.0 106.7h0M187.6 110.5h0M195.6 108.0h0M222.5 118.1h0M128.2 114.9h0M206.0 108.9h0M114.8 109.9h0M153.3 103.7h0M111.9 109.2h0M162.4 110.5h0M230.0 113.6h0M109.1 107.3h0M191.7 104.8h0M218.5 114.4h0M186.5 111.8h0M232.8 112.6h0M171.8 118.0h0M182.6 111.0h0M162.5 123.6h0M150.7 107.7h0M119.5 114.5h0M178.3 110.7h0M165.5 108.0h0M198.9 113.1h0M229.7 113.9h0M174.2 108.8h0M126.9 103.9h0M195.5 111.5h0M208.0 115.7h0M173.5 114.7h0M97.3 110.0h0M186.9 112.0h0M197.9 114.9h0M143.1 107.6h0M163.3 110.9h0M126.2 111.4h0M157.3 115.1h0M128.2 113.2h0M171.0 111.1h0M196.3 122.0h0M218.3 111.8h0M153.0 105.7h0M179.4 111.4h0M132.6 109.0h0M183.8 109.7h0M174.8 109.1h0M208.7 117.8h0M122.2 111.8h0M225.7 114.0h0M151.0 109.1h0M148.8 111.8h0M205.5 112.3h0M167.6 98.6h0M184.0 111.3h0M139.1 110.9h0M175.8 109.9h0M167.3 107.4h0M177.1 114.4h0M192.6 110.9h0M199.5 115.5h0M219.6 112.9h0M88.3 111.4h0M122.0 108.8h0M169.3 114.7h0M143.3 112.0h0M199.6 106.0h0M166.1 113.4h0M128.6 112.6h0M203.1 107.0h0M158.2 108.9h0M162.7 125.1h0M189.0 113.1h0M233.2 109.0h0M179.0 113.2h0M139.7 109.6h0M182.2 113.4h0M248.6 111.1h0M156.5 114.4h0M202.3 107.4h0M166.0 122.5h0M138.8 112.7h0M219.7 111.0h0M144.1 106.9h0M221.0 110.0h0M122.9 110.6h0M168.3 110.7h0M170.6 102.5h0M103.9 108.2h0M190.9 114.1h0M138.9 121.7h0M145.1 108.0h0M168.0 107.1h0M159.7 111.8h0M154.0 111.2h0M111.2 111.9h0M128.3 111.0h0M270.9 108.0h0M186.2 107.9h0M187.0 105.5h0M115.6 111.6h0M133.2 116.0h0M150.2 117.6h0M157.0 106.4h0M240.9 112.9h0M145.5 103.8h0M189.6 114.6h0M121.6 107.6h0M135.3 104.7h0M164.2 114.9h0M174.8 114.1h0M143.5 117.6h0M217.5 111.3h0M121.3 104.7h0M209.9 113.4h0M190.4 115.5h0M145.2 114.7h0M206.7 110.4h0M135.4 116.8h0M187.9 116.1h0M158.5 108.0h0M162.2 114.2h0M126.5 108.7h0M163.8 111.0h0M185.0 112.4h0M198.4 110.8h0M138.1 110.0h0M183.2 97.9h0M219.4 113.6h0M169.5 118.4h0M187.3 109.8h0M200.5 114.0h0M134.2 112.7h0M215.8 110.9h0M237.1 113.6h0M174.6 108.9h0M132.8 104.2h0M187.7 110.8h0M147.4 117.4h0M171.0 105.8h0M234.2 117.2h0M160.2 118.3h0M228.9 112.4h0M195.8 110.5h0M170.7 121.5h0M149.9 112.1h0M210.1 107.5h0M160.3 112.4h0M227.4 110.7h0M127.6 115.0h0M164.8 105.6h0M151.8 118.6h0M202.6 116.1h0M171.4 108.8h0M153.7 110.2h0M147.3 117.1h0M200.5 110.1h0M118.0 108.8h0M145.8 116.3h0M229.9 110.6h0M121.8 114.0h0M174.0 108.3h0M168.7 111.6h0M215.1 112.8h0M270.7 110.4h0M117.8 118.9h0M108.1 112.6h0M197.1 112.7h0M204.7 116.2h0M119.1 110.3h0M171.1 120.6h0M163.5 114.2h0M179.7 120.0h0M136.5 113.1h0M190.8 113.1h0M210.4 111.2h0M155.0 111.0h0M206.5 113.3h0M171.3 109.4h0M124.9 106.5h0M206.8 109.5h0M175.6 109.1h0M158.9 112.1h0M109.7 113.1h0M153.9 114.5h0M196.0 111.3h0M132.8 108.4h0M101.7 109.7h0M182.4 106.0h0M116.6 111.5h0M125.5 107.1h0M241.5 114.6h0M162.8 113.6h0M110.1 114.0h0M143.3 108.2h0M173.9 111.1h0M209.9 102.7h0M129.3 112.8h0M138.8 119.1h0M185.0 111.0h0M165.9 107.6h0M105.4 109.7h0M152.3 111.4h0M173.6 111.8h0M211.7 114.3h0M160.0 108.9h0M149.7 112.7h0M163.8 116.3h0M179.8 111.1h0M141.0 120.6h0M202.5 113.8h0M147.5 103.6h0M149.1 107.1h0M202.7 117.9h0M136.9 114.2h0M191.8 113.4h0M161.3 113.0h0M130.0 107.5h0M149.1 114.9h0M176.2 110.2h0M187.6 110.0h0M156.0 113.3h0M120.8 112.9h0M140.2 105.2h0M173.8 112.1h0M209.6 109.4h0M179.0 110.9h0M178.0 112.2h0M170.6 114.3h0M269.5 114.2h0M189.2 113.6h0M188.0 106.3h0M150.3 117.9h0M192.4 108.1h0M180.7 104.1h0M122.9 114.9h0M155.0 117.8h0M226.3 105.8h0M120.7 109.5h0M252.9 110.4h0M200.5 105.6h0M143.9 118.4h0M187.0 105.0h0M109.6 109.0h0M127.0 116.5h0M130.9 112.9h0M134.3 111.4h0M195.0 106.2h0M131.0 115.6h0M171.9 112.1h0M143.1 108.7h0M160.5 110.9h0M119.2 110.9h0M168.7 109.8h0M164.2 112.4h0M151.2 117.8h0M195.0 118.3h0M212.7 115.4h0M145.1 106.8h0M169.9 108.5h0M118.9 111.3h0M185.5 108.2h0M125.4 114.5h0M118.3 120.9h0M268.3 110.7h0M180.3 110.1h0M259.0 110.9h0M182.4 111.2h0M142.6 103.5h0M168.2 113.9h0M87.2 111.8h0M96.8 110.9h0M152.0 109.4h0M137.9 112.4h0M153.2 105.4h0M204.7 113.0h0M151.7 119.1h0M189.5 105.0h0M174.9 108.5h0M195.4 109.2h0M162.2 112.2h0M109.0 111.5h0M215.1 110.8h0M284.9 112.0h0M130.5 110.9h0M219.1 112.5h0M141.3 117.8h0M140.3 102.6h0M251.8 108.2h0M209.1 106.6h0M135.8 113.4h0M116.8 108.7h0M198.7 102.2h0M220.9 112.0h0M192.2 119.1h0M148.5 105.8h0M92.1 110.9h0M168.6 107.0h0M197.1 106.3h0M173.7 115.2h0M220.8 112.4h0M216.5 113.7h0M161.8 111.7h0M222.6 110.8h0M187.6 108.5h0M169.0 109.5h0" stroke="#979797" stroke-width="1.5" stroke-linecap="round" fill="none"/>
<path d="M169.2 156.1h0M188.3 135.9h0M179.4 145.2h0M148.3 145.0h0M148.7 155.8h0M193.0 158.9h0M168.1 137.8h0M180.0 163.6h0M169.4 150.9h0M154.1 130.6h0M172.5 148.4h0M191.2 147.3h0M146.4 148.7h0M179.7 147.3h0M191.9 140.9h0M181.6 150.1h0M172.6 131.4h0M140.5 138.6h0M180.5 154.8h0M171.8 143.2h0M145.3 147.1h0M183.1 156.5h0M174.6 136.1h0M175.9 156.2h0M141.9 164.3h0M190.8 150.3h0M170.3 150.4h0M158.2 132.9h0M185.4 135.3h0M149.4 143.2h0M184.6 158.6h0M155.6 155.8h0M191.5 146.5h0M158.7 142.3h0M159.7 147.4h0M170.8 156.1h0M190.2 148.0h0M128.8 150.2h0M189.4 146.5h0M149.0 148.7h0M150.6 162.1h0M179.5 146.0h0M138.0 153.3h0M172.7 162.5h0M192.6 155.1h0M179.6 142.8h0M154.3 145.5h0M174.3 144.9h0M163.9 139.9h0M185.7 134.9h0M192.3 160.6h0M161.4 144.7h0M191.0 154.7h0M172.4 145.8h0M170.1 139.6h0M153.4 144.0h0M157.1 144.7h0M154.6 151.0h0M189.7 157.0h0M173.5 142.9h0M170.0 150.9h0M172.3 156.4h0M186.4 142.1h0M204.9 146.0h0M192.7 152.9h0M181.2 156.6h0M176.7 151.3h0M190.2 166.5h0M169.0 151.2h0M184.6 154.8h0M164.1 137.4h0M160.3 151.9h0M179.7 145.5h0M177.0 164.2h0M145.5 155.8h0M156.0 142.6h0M163.8 136.0h0M171.7 143.1h0M159.7 153.8h0M180.3 140.8h0M159.8 137.2h0M167.6 134.7h0M149.1 151.6h0M184.3 149.1h0M161.3 142.8h0M189.9 152.0h0M186.5 152.3h0M157.3 137.2h0M161.6 152.8h0M186.5 157.1h0M154.5 150.8h0M173.8 140.3h0M168.6 154.2h0M148.1 151.4h0M163.4 138.8h0M141.9 164.2h0M137.1 150.7h0M180.2 134.4h0M141.6 147.2h0M160.4 134.4h0M178.4 135.2h0M171.5 139.2h0M178.7 154.2h0M189.6 151.3h0M129.6 149.6h0M148.8 144.0h0M200.8 146.0h0M182.3 159.5h0M157.0 153.9h0M208.7 152.4h0M177.0 164.9h0M162.3 147.6h0M169.2 151.3h0M180.0 144.4h0M149.0 160.5h0M182.2 141.6h0M146.1 142.7h0M145.3 150.2h0M195.8 163.2h0M171.6 150.7h0M150.2 142.0h0M153.9 154.7h0M150.7 144.9h0M182.1 136.7h0M166.9 156.2h0M199.7 154.3h0M184.3 134.5h0M186.5 165.0h0M151.6 155.9h0M187.3 155.8h0M185.9 147.0h0M174.4 149.1h0M157.0 136.8h0M173.6 135.5h0M153.9 164.1h0M197.8 159.4h0M173.3 152.4h0M168.1 152.0h0M150.1 159.8h0M174.9 155.5h0M203.6 148.4h0M197.5 153.4h0M186.0 154.5h0M152.8 151.3h0M166.9 126.0h0M145.3 155.1h0M184.2 150.7h0M173.4 142.3h0M168.0 155.6h0M144.7 149.9h0M180.9 147.4h0M192.9 153.0h0M175.9 156.8h0M133.9 144.1h0M161.6 143.5h0M158.7 163.1h0M153.1 152.0h0M157.3 151.9h0M180.9 149.5h0M179.3 150.7h0M157.3 158.2h0M128.4 144.1h0M191.3 158.3h0M152.1 157.1h0M176.7 148.6h0M165.8 149.9h0M138.4 150.6h0M166.6 145.1h0M156.5 154.2h0M174.2 125.5h0M158.7 131.2h0M152.6 148.9h0M152.4 137.2h0M172.8 147.6h0M189.9 137.7h0M157.8 147.1h0M161.0 139.0h0M166.1 167.9h0M175.8 156.8h0M171.1 148.2h0M190.8 165.7h0M178.0 139.0h0M145.7 142.6h0M186.0 154.1h0M133.9 147.9h0M161.4 135.3h0M166.0 143.0h0M177.2 147.6h0M146.9 155.8h0M172.5 150.0h0M168.5 142.4h0M171.4 142.9h0M172.2 145.9h0M160.6 162.7h0M186.7 141.5h0M182.9 156.5h0M191.5 148.4h0M173.8 155.3h0M161.2 154.9h0M177.5 155.4h0M170.0 154.2h0M146.1 148.8h0M173.0 148.6h0M170.4 157.8h0M206.9 149.1h0M184.6 148.1h0M148.8 139.6h0M168.1 157.0h0M151.3 149.0h0M149.6 142.9h0M160.4 153.3h0M208.3 142.3h0M158.2 146.0h0M139.7 156.0h0M167.1 155.9h0M151.3 143.6h0M159.0 156.6h0M159.0 155.2h0M185.4 146.7h0M141.9 137.4h0M190.9 151.9h0M151.6 149.2h0M159.5 144.8h0M169.6 138.1h0M139.6 154.8h0M175.7 153.8h0M162.4 159.6h0M206.5 151.0h0M183.5 156.3h0M161.5 150.0h0M201.3 137.2h0M198.4 151.3h0M157.2 137.8h0M156.8 144.7h0M158.7 158.7h0M171.5 157.3h0M164.5 141.6h0M166.7 140.5h0M161.9 146.3h0M151.3 137.7h0M131.9 146.9h0M180.8 172.4h0M139.4 162.9h0M168.7 151.7h0M163.9 144.0h0M177.0 149.0h0M190.7 168.2h0M139.8 158.9h0M149.8 147.3h0M161.2 167.2h0M156.1 163.7h0M155.8 151.2h0M155.3 138.7h0M212.5 145.1h0M141.0 136.9h0M209.5 151.1h0M177.2 139.8h0M173.9 138.4h0M180.6 154.9h0M160.9 151.7h0M157.2 137.9h0M176.2 151.2h0M185.3 148.8h0M189.7 135.2h0M173.3 154.7h0M147.9 133.9h0M177.3 154.8h0M168.2 159.5h0M195.3 146.8h0M163.2 162.5h0M209.9 148.4h0M128.2 154.6h0M169.5 148.2h0M149.5 139.3h0M181.0 149.1h0M157.6 165.2h0M161.4 151.4h0M147.7 146.9h0M185.0 153.7h0M162.3 149.7h0M201.3 136.9h0M138.7 153.9h0M218.0 152.4h0M203.0 145.1h0M193.8 152.7h0M171.7 144.7h0M169.8 150.0h0M197.0 150.9h0M195.0 154.8h0M164.2 143.1h0M179.8 140.9h0M170.9 149.7h0M161.3 163.4h0M162.4 140.3h0M168.9 147.7h0M193.6 157.5h0M176.8 154.4h0M191.4 162.4h0M163.6 153.9h0M163.9 154.3h0M205.4 151.4h0M167.4 162.1h0M145.3 156.1h0M147.4 144.9h0M159.2 153.4h0M167.6 157.4h0M146.5 155.4h0M174.0 150.4h0M154.3 135.5h0M177.1 143.6h0M198.9 157.5h0M188.1 147.2h0M175.7 162.8h0M155.1 149.4h0M169.4 135.9h0M163.2 147.3h0M164.5 160.8h0M163.8 148.5h0M202.7 138.5h0M160.3 157.2h0M169.8 154.3h0M169.4 154.0h0M150.4 150.2h0M161.9 136.0h0M137.7 141.4h0M164.1 142.5h0M156.7 145.7h0M155.5 150.4h0M168.6 154.4h0M168.8 149.0h0M164.2 164.3h0M175.5 161.9h0M168.9 140.5h0M146.8 150.4h0M174.2 149.7h0M161.9 149.1h0M183.2 158.1h0M167.5 143.0h0M159.5 159.7h0M184.8 143.2h0M188.4 149.3h0M158.6 136.0h0M193.7 142.3h0M161.4 148.2h0M154.3 158.3h0M172.4 146.4h0M181.1 148.3h0M208.6 157.7h0M195.1 152.7h0M188.1 157.2h0M141.1 137.8h0M174.3 141.2h0M170.9 150.3h0M145.4 153.1h0M170.6 163.6h0M152.8 149.0h0M179.4 153.0h0M197.1 153.5h0M182.6 137.6h0M156.6 138.9h0M168.7 156.3h0M165.6 139.5h0M189.8 149.0h0M212.3 149.8h0M159.3 148.6h0M169.5 152.6h0M166.3 160.4h0M183.0 160.6h0M192.2 142.7h0M164.4 152.1h0M159.5 148.7h0M204.4 145.8h0M163.8 133.4h0M164.3 151.8h0M211.7 142.8h0M194.1 143.2h0M181.8 142.7h0M186.1 129.4h0M150.1 169.4h0M166.6 161.6h0M174.8 159.1h0M172.5 139.0h0M162.3 155.1h0M186.6 155.2h0M170.3 149.9h0M147.9 140.4h0M151.5 140.8h0M178.9 158.0h0M165.3 141.2h0M166.5 129.4h0M153.3 138.2h0M140.9 151.0h0M190.4 165.4h0M176.8 158.4h0M146.9 155.2h0M161.4 153.1h0M160.4 156.3h0M211.1 144.8h0M166.2 157.5h0M176.7 146.4h0M154.6 150.4h0M185.4 146.3h0M170.5 147.7h0M157.8 149.3h0M172.8 155.4h0M169.2 140.8h0M190.9 168.1h0M144.5 140.1h0M179.4 145.0h0M145.2 148.2h0M182.3 145.1h0M157.8 153.9h0M177.2 147.3h0M160.2 138.0h0M149.8 147.9h0M198.3 157.8h0M177.6 132.0h0M147.4 166.4h0M191.2 153.2h0M170.4 148.3h0M194.6 151.5h0M190.0 142.2h0M171.2 139.6h0M177.0 149.7h0M149.6 157.9h0M163.3 147.4h0M167.1 128.9h0M161.5 158.5h0M171.5 152.8h0M162.0 140.8h0M177.1 139.0h0M151.1 143.6h0M171.4 154.5h0M141.4 149.7h0M149.2 142.6h0M179.7 144.8h0M132.9 143.8h0M175.0 147.1h0M161.6 140.9h0M182.7 147.4h0M188.3 152.4h0M160.9 142.1h0M174.1 164.4h0M188.8 158.7h0M187.7 147.4h0M181.9 140.0h0M151.8 143.3h0M169.8 151.3h0M171.1 153.6h0M171.7 146.9h0M158.8 139.4h0M172.8 158.9h0M179.6 144.5h0M143.8 146.5h0M163.8 146.8h0M167.7 145.6h0M174.4 169.3h0M172.4 144.2h0M184.6 138.1h0M177.4 137.4h0M187.2 153.3h0M157.8 137.7h0M184.3 164.6h0M151.0 138.7h0M174.0 164.4h0M179.3 140.3h0M183.3 149.5h0M167.2 153.8h0M161.2 146.7h0M167.8 162.3h0M169.2 151.6h0M166.2 164.0h0M169.6 154.9h0M171.8 162.9h0M171.6 159.9h0M155.1 154.9h0M160.5 154.0h0M160.2 154.6h0M157.5 154.2h0M164.2 132.3h0M188.3 154.4h0M144.8 139.0h0M170.6 146.0h0M193.0 166.1h0M159.3 147.4h0M197.4 149.9h0M172.4 149.4h0M170.1 147.8h0M160.0 155.5h0M163.7 143.5h0M193.1 147.9h0M165.7 138.1h0M181.5 142.5h0M168.6 152.8h0M180.2 150.5h0M193.2 157.0h0M177.2 148.9h0M151.6 152.2h0M151.0 152.2h0M165.9 125.5h0M151.2 143.3h0M162.2 145.8h0M164.5 156.2h0M198.1 139.1h0M137.9 150.4h0M164.2 163.3h0M174.1 144.6h0M171.9 145.0h0M204.5 153.1h0M196.7 146.0h0M159.4 136.3h0M187.9 163.3h0M186.7 150.6h0M174.9 159.5h0M181.4 147.5h0M153.2 152.0h0M198.2 135.3h0M142.8 144.5h0M165.5 153.5h0M175.9 135.4h0M181.7 157.5h0M172.3 145.0h0M192.4 149.5h0M173.9 146.8h0M183.7 165.7h0M197.7 146.0h0M171.5 158.6h0M176.3 131.3h0M160.0 163.4h0M179.7 148.6h0M170.4 162.5h0M179.3 143.2h0M185.9 156.9h0M130.8 148.1h0M212.1 145.7h0M214.3 145.9h0M167.2 155.8h0M198.3 160.8h0M159.7 152.6h0M177.0 148.5h0M143.1 159.4h0M204.1 148.1h0M171.4 152.0h0M176.8 155.6h0M192.7 141.2h0M171.2 140.6h0M168.3 152.6h0M190.3 149.7h0M155.9 134.6h0M167.9 144.8h0M200.3 160.2h0M165.6 140.2h0M165.8 152.8h0M168.7 151.5h0M165.5 145.2h0M173.2 133.4h0M177.7 133.8h0M174.2 133.2h0M169.1 137.8h0M174.7 134.3h0M156.7 152.9h0M179.1 157.3h0M199.6 150.3h0M181.8 139.6h0M183.2 155.3h0M146.4 163.7h0M154.5 155.4h0M156.5 144.7h0M145.8 163.2h0M175.0 132.8h0M154.0 149.8h0M170.6 139.1h0M188.0 152.8h0M189.1 148.2h0M186.9 132.6h0M145.7 159.9h0M173.5 147.8h0M176.9 150.0h0M184.1 145.1h0M162.4 142.7h0M161.7 149.7h0M168.4 154.2h0M159.0 148.3h0M168.9 159.9h0M202.5 138.5h0M169.4 157.4h0M151.9 164.4h0M165.0 164.3h0M173.2 146.6h0M160.9 153.8h0M169.8 144.0h0M164.6 134.0h0M154.1 154.5h0M161.9 150.9h0M175.0 144.3h0M164.7 135.0h0M135.8 146.8h0M171.7 161.2h0M143.8 148.2h0M192.4 145.7h0M169.1 152.0h0M161.3 152.8h0M182.5 139.8h0M180.7 155.4h0M181.2 140.2h0M136.0 146.5h0M160.3 148.3h0M146.5 158.7h0M168.2 154.2h0M161.1 157.1h0M178.5 140.0h0M152.2 147.1h0M161.9 147.2h0M191.1 147.2h0M167.9 158.6h0M191.2 135.0h0M134.4 144.4h0M166.9 160.6h0M202.5 144.8h0M209.2 156.4h0M161.4 162.6h0M171.5 164.2h0M164.2 139.4h0M180.1 141.0h0M172.6 142.8h0M167.9 160.6h0M179.1 150.0h0M155.2 159.2h0M192.7 163.9h0M154.5 146.3h0M181.4 147.4h0M141.8 140.0h0M168.0 162.4h0M190.3 150.4h0M167.0 155.1h0M175.1 148.2h0M155.4 145.8h0M174.2 158.8h0M184.7 147.8h0M166.6 146.5h0M154.9 156.5h0M168.0 157.8h0M198.4 147.3h0M183.6 133.8h0M154.2 134.9h0M162.6 151.2h0M174.3 148.6h0M170.1 146.6h0M143.3 160.7h0M176.2 148.3h0M177.9 132.6h0M171.3 161.7h0M178.8 133.3h0M207.8 149.7h0M173.6 146.3h0M182.0 150.4h0M161.9 135.5h0M199.5 149.0h0M159.8 154.6h0M149.3 160.0h0M165.6 155.5h0M176.0 153.7h0M153.5 152.6h0M166.2 137.1h0M162.3 150.5h0M153.6 130.9h0M175.9 138.5h0M164.4 144.0h0M153.0 154.6h0M165.0 157.0h0M184.2 141.9h0M192.8 157.3h0M159.7 149.7h0M182.7 160.4h0M165.5 140.3h0M172.3 150.3h0M149.3 152.3h0M183.4 140.4h0M138.9 145.9h0M163.4 157.6h0M204.6 143.6h0M150.0 158.4h0M173.4 162.5h0M166.2 145.2h0M145.3 148.0h0M178.0 155.3h0M176.8 143.8h0M177.8 155.5h0M185.7 152.5h0M173.7 149.1h0M169.7 167.3h0M189.2 145.5h0M172.1 144.3h0M161.9 150.9h0M179.2 168.5h0M155.9 154.9h0M164.0 154.4h0M155.2 147.6h0M184.3 145.7h0M188.7 145.2h0M197.2 135.8h0M161.1 156.8h0M158.6 152.7h0M183.2 145.1h0M173.7 155.5h0M161.9 151.4h0M173.8 176.0h0M174.4 145.4h0M156.2 137.2h0M184.1 143.5h0M140.1 142.7h0M172.6 147.9h0M164.0 161.4h0M194.2 159.5h0M183.6 146.5h0M222.6 149.2h0M197.6 153.5h0M148.4 146.5h0M193.7 154.3h0M189.3 144.4h0M170.2 147.7h0M172.5 154.9h0M172.7 145.8h0M156.2 172.5h0M182.0 155.5h0M180.5 157.1h0M177.2 151.5h0M164.0 150.0h0M176.7 165.0h0M193.3 140.6h0M176.1 163.9h0M185.8 149.5h0M200.9 153.6h0M166.4 140.8h0M129.8 153.0h0M166.7 169.9h0M152.3 147.5h0M176.4 134.9h0M187.9 161.3h0M184.9 146.1h0M172.1 159.5h0M175.8 156.7h0M148.7 159.4h0M186.9 164.5h0M191.6 151.0h0M176.8 142.7h0M215.3 142.9h0M167.1 146.1h0M172.9 149.1h0M172.2 158.2h0M176.2 161.4h0M191.6 152.7h0M148.3 143.6h0M183.1 148.4h0M141.9 160.9h0M180.5 129.4h0M175.2 146.8h0M181.4 157.0h0M191.3 154.9h0M171.2 156.5h0M147.6 156.1h0M152.9 152.9h0M199.5 146.7h0M159.9 145.7h0M159.7 139.3h0M185.5 152.4h0M169.6 148.6h0M151.4 159.4h0M168.0 157.2h0M170.1 141.7h0M166.4 144.1h0M203.7 153.0h0M197.7 156.5h0M149.1 147.6h0M167.7 162.2h0M195.0 141.6h0M152.4 150.9h0M169.2 160.1h0M176.9 161.1h0M138.2 136.4h0M158.9 155.9h0M166.5 155.5h0M211.1 145.1h0M186.5 141.3h0M185.4 147.6h0M172.3 138.8h0M182.5 164.4h0M175.5 150.6h0M191.8 167.6h0M182.8 147.9h0M183.2 145.7h0M131.4 143.0h0M170.1 156.2h0M188.6 149.6h0M202.0 139.6h0M149.8 142.2h0M170.7 149.4h0M167.9 140.1h0M155.6 145.3h0M141.7 146.3h0M146.9 160.5h0M169.9 159.1h0M191.6 158.9h0M201.0 141.9h0M172.6 143.6h0M174.7 128.2h0M180.3 154.4h0M178.1 152.2h0M169.5 154.4h0M160.7 141.7h0M170.0 142.3h0M165.0 149.9h0M161.9 137.7h0M201.9 149.9h0M187.8 161.9h0M146.9 142.6h0M190.1 133.7h0M169.3 161.1h0M154.2 156.8h0M187.1 158.3h0M155.6 135.1h0M148.0 154.7h0M157.8 147.1h0M170.3 154.0h0M146.6 141.4h0M161.3 154.9h0M171.9 136.0h0M174.6 125.8h0M165.0 143.5h0M130.2 154.8h0M170.7 155.2h0M156.2 154.0h0M152.6 153.8h0M172.7 145.6h0M150.6 150.8h0M155.8 140.7h0M204.6 147.1h0M179.3 151.3h0M180.8 150.7h0M147.1 137.7h0M214.6 143.2h0M171.4 144.5h0M203.8 153.0h0M185.7 147.2h0M129.8 152.0h0M182.5 145.6h0M169.4 160.0h0M176.5 147.1h0M182.1 132.5h0M172.6 138.8h0M152.6 159.6h0M181.2 149.9h0M197.2 141.2h0M188.0 155.6h0M171.7 140.8h0M161.4 148.3h0M195.8 148.8h0M177.0 137.3h0M181.2 161.6h0M174.9 148.1h0M179.1 127.6h0M194.7 147.0h0M159.8 140.6h0M176.3 136.4h0M178.8 139.2h0M157.1 149.9h0M173.6 155.7h0M180.1 151.7h0M165.5 154.6h0M170.8 163.2h0M189.8 144.6h0M183.5 137.0h0M177.8 151.1h0M198.1 151.9h0M175.5 168.0h0M161.9 148.7h0M184.8 143.7h0M190.8 153.6h0M161.3 146.7h0M156.7 152.2h0M173.0 166.7h0M141.3 145.0h0M157.9 142.0h0M162.2 158.2h0M183.4 151.2h0M178.5 154.9h0M155.9 151.9h0M156.2 150.6h0M151.8 145.8h0M186.2 144.8h0M146.8 137.9h0M137.6 147.1h0M173.1 142.1h0M158.2 153.6h0M193.3 138.8h0M151.5 151.6h0M156.0 172.4h0M192.8 155.0h0M172.2 146.8h0M146.3 140.9h0M217.2 155.9h0M195.4 150.4h0M192.3 151.1h0M196.8 148.5h0M198.3 152.2h0M218.1 152.4h0M197.9 146.7h0M206.1 158.4h0M212.5 155.6h0M213.6 153.5h0M211.7 145.3h0M210.6 152.9h0M215.1 150.3h0M200.9 146.5h0M213.4 156.0h0M218.7 144.4h0M204.9 147.2h0M203.4 152.9h0M191.6 146.2h0M196.1 150.7h0M192.0 147.8h0M190.2 147.9h0M204.6 148.2h0M220.0 151.4h0M209.2 151.8h0M208.0 154.1h0M192.1 157.6h0M205.3 148.0h0M194.9 153.5h0M209.0 155.7h0M203.8 147.3h0M190.2 148.2h0M194.3 150.9h0M193.0 149.2h0M198.8 150.1h0M196.3 146.8h0M218.9 148.8h0M196.9 156.6h0M220.5 153.1h0M214.5 154.3h0M203.3 146.3h0M215.3 151.9h0M207.2 149.0h0M198.4 157.1h0M212.5 153.6h0M210.4 153.3h0M212.0 151.1h0M207.6 142.3h0M203.2 147.4h0M214.6 152.1h0M207.5 149.7h0M215.4 154.2h0M220.2 139.2h0M215.4 148.7h0M208.9 138.9h0M204.7 152.9h0M209.8 148.5h0M211.4 149.4h0M214.6 145.5h0M208.2 146.8h0M196.9 154.0h0M198.9 147.8h0M205.8 145.4h0M203.9 145.3h0M196.8 153.5h0M217.7 153.0h0M200.1 156.9h0M212.7 149.0h0M216.5 158.0h0M196.6 158.8h0M204.9 155.3h0M212.1 149.3h0M193.1 149.8h0M206.3 146.4h0M222.0 148.2h0M210.4 151.8h0M204.5 153.6h0M199.5 153.1h0M199.7 150.2h0M199.3 146.9h0M202.4 152.9h0M196.8 155.4h0M194.6 153.9h0M202.6 149.7h0M197.2 152.5h0M197.9 154.9h0M220.4 150.9h0M192.4 153.3h0M209.2 148.8h0M192.8 150.5h0M222.1 157.3h0M194.3 153.0h0M202.0 157.1h0M202.9 150.6h0M194.7 152.6h0M212.7 148.5h0M207.6 149.7h0M203.0 146.9h0M192.7 148.6h0M199.9 147.5h0M213.6 149.6h0M218.0 151.5h0M204.1 152.1h0M206.3 151.0h0M221.4 152.6h0M222.5 151.5h0M210.4 148.5h0M206.4 154.8h0M191.5 144.2h0M201.9 156.4h0M199.9 146.6h0M220.1 153.9h0M194.7 151.7h0M221.9 144.5h0M194.9 153.8h0M208.3 157.0h0M198.8 156.4h0M193.9 151.8h0M212.0 146.0h0M221.1 147.9h0M194.5 150.1h0M210.6 154.9h0M195.4 146.9h0M194.0 150.7h0M214.8 152.0h0M216.3 151.7h0M199.0 146.9h0M204.4 152.4h0M204.2 153.8h0M191.7 146.2h0M211.7 142.4h0M206.2 159.4h0M221.6 155.5h0M213.9 149.5h0M192.5 151.8h0M221.0 142.0h0M198.4 150.2h0M208.0 150.3h0M214.7 154.1h0M214.7 150.4h0M206.0 150.8h0M200.8 156.9h0M194.4 149.3h0M214.4 153.0h0M192.1 154.2h0M193.3 151.5h0M207.8 151.7h0M205.2 153.3h0M192.8 148.9h0M203.0 149.3h0M167.1 124.5h0M141.5 128.0h0M180.9 128.1h0M193.2 121.6h0M149.5 128.6h0M169.8 126.7h0M179.3 125.2h0M160.0 123.5h0M170.7 128.7h0M181.2 126.3h0M182.2 123.9h0M178.5 121.4h0M150.3 128.0h0M142.8 124.3h0M164.1 129.3h0M170.9 120.9h0M176.1 122.7h0M149.9 126.4h0M164.2 125.6h0M188.6 124.0h0M165.3 119.9h0M190.6 127.9h0M159.7 129.7h0M175.1 127.1h0M150.6 120.9h0M185.1 128.1h0M140.5 124.3h0M196.3 119.7h0M186.5 124.8h0M188.2 120.7h0M149.4 119.3h0M196.1 120.2h0M196.7 125.2h0M195.6 126.8h0M188.0 130.3h0M175.5 122.7h0M193.8 120.3h0M155.0 123.1h0M151.9 124.7h0M172.3 128.0h0M163.8 121.0h0M160.8 130.4h0M190.7 127.2h0M185.9 123.9h0M148.1 129.6h0M180.1 127.1h0M195.5 122.7h0M141.2 129.5h0M185.0 123.8h0M154.8 127.0h0M142.9 154.2h0M144.4 143.2h0M133.8 163.8h0M153.1 137.8h0M157.7 169.8h0M132.8 143.5h0M136.2 127.3h0M148.3 148.2h0M149.2 142.0h0M204.5 139.7h0M155.9 153.1h0M202.4 137.2h0M146.5 165.5h0M157.0 139.9h0M175.5 124.6h0M181.2 149.0h0M155.8 156.7h0M197.1 155.6h0M140.5 135.8h0M158.7 169.6h0M222.8 131.5h0M228.4 137.2h0M162.4 131.0h0M211.1 151.6h0M184.2 154.0h0M193.1 142.9h0M141.5 169.0h0M176.9 147.2h0M187.4 152.3h0M196.5 139.7h0M175.5 147.2h0M177.2 136.2h0M151.2 125.7h0M212.5 132.0h0M149.7 155.9h0M144.1 147.8h0M157.5 150.2h0M182.9 144.1h0M216.3 151.5h0M154.0 146.1h0M224.4 106.4h0M182.7 108.4h0M176.6 107.0h0M206.2 108.3h0M177.2 108.0h0M167.2 103.4h0M159.1 106.5h0M127.6 104.1h0M190.9 91.6h0M171.1 103.8h0M194.3 108.2h0M236.1 108.0h0M175.4 105.8h0M220.4 106.9h0M209.2 102.7h0M145.9 103.6h0M162.4 103.2h0M228.6 99.2h0M252.2 108.4h0M219.8 107.7h0M246.9 104.4h0M239.2 97.2h0M155.4 106.5h0M206.6 107.1h0M187.9 100.3h0M139.3 100.8h0M178.6 107.0h0M203.8 107.8h0M187.3 106.5h0M159.2 97.9h0M204.5 106.8h0M174.8 91.4h0M163.7 106.9h0M211.6 106.6h0M153.7 99.6h0M218.4 98.8h0M203.6 103.0h0M187.3 104.2h0M214.4 105.1h0M185.7 95.7h0M190.6 108.4h0M170.7 107.6h0M219.9 93.3h0M172.3 106.9h0M199.4 106.7h0M205.4 106.8h0M213.6 106.9h0M146.9 106.2h0M167.1 103.2h0M172.7 99.9h0M143.7 105.5h0M167.7 107.6h0M174.5 99.5h0M175.4 101.9h0M193.7 107.9h0M165.6 99.9h0M203.8 102.5h0M146.8 91.7h0M191.4 107.7h0M193.6 98.6h0M158.9 102.0h0M128.4 105.6h0M191.6 101.6h0M197.7 107.6h0M168.8 100.9h0M199.3 106.0h0M177.5 106.5h0M215.0 104.8h0M224.2 108.5h0M181.4 102.3h0M157.4 91.7h0M172.7 100.4h0M225.3 108.0h0M183.4 108.3h0M205.9 102.8h0M189.8 106.9h0M197.1 92.2h0M157.9 96.9h0M230.0 99.2h0M187.6 96.2h0M151.4 96.8h0M219.3 104.3h0M186.8 102.8h0M169.4 106.8h0M233.2 88.4h0M129.0 107.0h0M156.9 100.0h0M175.8 95.0h0M159.0 98.3h0M176.9 97.6h0M217.2 84.8h0M176.1 105.7h0M184.3 107.9h0M176.5 92.0h0M208.4 106.7h0M187.8 103.3h0M215.7 103.8h0M212.6 104.9h0M171.7 90.7h0M252.0 105.9h0M160.6 106.9h0M160.6 103.4h0M179.7 96.9h0M177.0 96.7h0M195.4 98.6h0M207.8 88.4h0M176.9 105.1h0M200.0 104.3h0M196.3 107.1h0M215.0 99.2h0M206.3 100.5h0M204.9 102.5h0M214.3 106.8h0M206.2 106.4h0M192.1 107.7h0M146.3 102.5h0M217.3 107.0h0M128.7 108.2h0M223.5 92.5h0M187.9 107.5h0M184.4 108.0h0M236.9 101.8h0M229.6 97.3h0M181.5 102.5h0M130.8 101.4h0M253.1 103.2h0M221.4 105.3h0M139.8 106.1h0M173.1 106.8h0M168.9 104.1h0M178.7 107.9h0M222.3 98.4h0M233.6 89.2h0M169.4 98.6h0M127.1 97.5h0M201.6 105.2h0M174.0 107.6h0M164.4 105.1h0M230.4 94.7h0M199.6 104.2h0M236.6 100.9h0M218.1 107.6h0M186.5 96.6h0M153.9 105.3h0M161.5 106.5h0M188.0 104.6h0M176.1 106.6h0M169.8 103.7h0M169.8 107.6h0M131.9 101.4h0M142.5 105.7h0M210.3 107.8h0M190.3 98.0h0M190.5 106.0h0M187.2 106.0h0M191.4 104.2h0M167.8 100.9h0M172.9 107.0h0M135.3 94.2h0M155.9 105.3h0M220.7 107.4h0M171.0 101.5h0M217.3 104.4h0M210.6 100.8h0M222.6 99.0h0M205.3 96.0h0M174.5 99.0h0M211.1 103.5h0M228.6 103.1h0M199.6 95.3h0M186.1 103.0h0M143.9 97.5h0M213.0 107.3h0M244.2 107.6h0M186.8 107.7h0M156.0 99.3h0M188.4 108.0h0M132.5 107.9h0M149.4 96.5h0M244.0 107.4h0M159.4 108.2h0M217.7 106.9h0M169.1 98.6h0M147.2 107.8h0M185.4 102.9h0M143.2 98.5h0M136.8 100.4h0M162.9 96.0h0M133.5 107.7h0M204.4 94.1h0M187.9 107.8h0M199.4 106.8h0M184.5 104.2h0M241.6 100.1h0M135.6 99.7h0M186.4 104.1h0M129.1 100.2h0M194.7 108.1h0M187.7 107.3h0M186.9 104.4h0M191.1 101.3h0M194.6 106.6h0M151.4 100.4h0M214.8 108.2h0M180.7 93.1h0M223.0 100.7h0M249.1 103.7h0M159.8 82.8h0M185.8 100.0h0M185.8 97.3h0M176.1 105.1h0M217.2 105.4h0M200.7 100.0h0M252.3 107.8h0M199.4 103.4h0M155.8 100.8h0M222.1 85.9h0M157.2 106.4h0M164.8 103.5h0M164.3 106.4h0M212.0 100.6h0M203.4 98.3h0M167.5 108.2h0M175.9 108.0h0M166.3 107.4h0M180.1 105.2h0M194.9 105.3h0M184.8 90.9h0M138.3 91.2h0M196.3 102.6h0M115.3 60.2h0M140.3 72.0h0M144.6 72.0h0M152.7 81.0h0M136.1 84.6h0M181.1 72.0h0M181.9 78.3h0M206.9 71.1h0M228.5 76.0h0M170.0 81.9h0M199.6 85.9h0M201.6 85.5h0M256.2 89.6h0M233.9 89.6h0M111.8 90.9h0M118.8 85.5h0M113.0 90.0h0M271.2 115.6h0M233.9 115.5h0M200.9 114.6h0M198.2 115.2h0M219.1 114.8h0M278.1 115.4h0M251.8 114.8h0M238.5 116.4h0M274.8 114.6h0M168.6 116.0h0M245.6 116.3h0M157.5 115.4h0M213.3 121.8h0M217.6 116.8h0M244.3 115.3h0M212.1 114.4h0M249.7 115.7h0M173.4 115.6h0M269.5 115.8h0M227.4 116.0h0M182.8 114.5h0M265.4 115.1h0M216.3 115.4h0M247.8 115.5h0M170.5 119.6h0M239.0 114.6h0M200.1 114.4h0M267.1 114.9h0M237.3 116.5h0M248.0 123.5h0M278.1 114.9h0M234.0 115.1h0M215.1 115.0h0M172.9 117.3h0M194.4 115.5h0M164.9 116.4h0M198.5 114.5h0M255.2 114.6h0M199.6 114.9h0M196.5 115.8h0M187.2 114.8h0M199.5 114.3h0M209.8 115.8h0M246.4 118.5h0M260.4 115.4h0M273.6 115.7h0M267.8 115.4h0M273.0 115.0h0M247.3 114.8h0M165.5 119.9h0M192.5 116.8h0M169.5 117.3h0M270.9 116.5h0M162.6 119.5h0M173.7 117.7h0M262.3 114.9h0M175.8 115.8h0M171.7 119.2h0M185.6 114.5h0M240.4 120.1h0M266.0 115.3h0M241.9 114.9h0M264.7 114.5h0M196.3 114.4h0M201.2 118.9h0M192.7 118.0h0M224.8 116.2h0M214.9 118.8h0M273.1 116.8h0M251.1 122.3h0M199.1 116.7h0M192.9 116.2h0M216.5 116.4h0M228.0 123.8h0M165.4 114.4h0M276.3 115.1h0M236.2 118.5h0M246.9 114.6h0M251.1 119.1h0M225.8 120.9h0M203.3 114.5h0M256.2 116.1h0M224.0 116.3h0M199.2 114.3h0M186.9 115.9h0M227.6 115.0h0M258.2 117.5h0M198.6 118.4h0M209.6 114.4h0M211.8 115.8h0M172.1 114.4h0M189.9 115.7h0M247.3 121.0h0M190.4 117.8h0M222.2 114.6h0M188.2 114.5h0M261.7 114.6h0M263.4 115.9h0M186.6 120.6h0M267.0 115.0h0M261.8 114.6h0M208.5 119.4h0M173.4 115.8h0M235.2 116.8h0M206.7 114.3h0M186.0 115.0h0M195.7 123.0h0M257.5 116.3h0M251.6 116.8h0M278.8 114.6h0M240.8 114.7h0M243.4 116.4h0M181.4 116.0h0M219.7 114.4h0M241.3 125.4h0M219.8 116.5h0M162.6 115.0h0M182.3 114.4h0M253.4 116.7h0M212.0 115.8h0M169.6 116.0h0M209.7 114.3h0M243.7 116.5h0M253.5 116.9h0M208.4 114.5h0M173.3 115.1h0M241.5 118.7h0M248.2 116.4h0M225.0 114.3h0M259.2 114.7h0M278.3 114.7h0M260.5 115.0h0M236.0 117.4h0M245.5 114.3h0M242.5 114.5h0M180.9 116.0h0M245.7 120.6h0M215.5 117.5h0M229.9 117.5h0M270.8 115.1h0M264.9 114.8h0M187.7 115.7h0M212.5 114.5h0M209.6 114.5h0M253.4 114.6h0M171.2 114.4h0M271.3 114.5h0M194.6 117.0h0M270.5 114.5h0M200.5 114.4h0M222.0 119.3h0M247.7 119.2h0M188.6 114.8h0M202.4 117.1h0M201.8 119.5h0M194.3 114.3h0M213.7 114.3h0M162.4 118.5h0M242.3 116.6h0M188.7 115.5h0M190.0 114.3h0M209.2 116.5h0M199.2 115.4h0M248.0 114.6h0M160.0 118.5h0M209.9 117.4h0M253.7 116.4h0M214.4 116.7h0M181.9 115.6h0M264.4 114.5h0M166.7 115.5h0M213.4 118.3h0M200.1 114.4h0M180.6 115.7h0M252.3 114.5h0M198.8 123.7h0M259.7 115.0h0M218.8 114.8h0M225.8 119.5h0M254.5 114.7h0M271.6 115.8h0M166.9 119.6h0M240.1 114.6h0M278.2 116.2h0M201.0 114.5h0M180.2 121.1h0M260.8 114.8h0M200.0 115.8h0M159.1 116.2h0M173.5 116.5h0M233.4 115.0h0M275.0 114.7h0M210.4 120.7h0M254.4 114.8h0M236.1 116.4h0M161.1 116.9h0M231.0 114.4h0M244.4 114.6h0M159.2 121.1h0M276.1 115.1h0M232.7 118.7h0M186.9 114.7h0M227.9 115.8h0M199.5 115.9h0M177.5 119.9h0M219.8 117.8h0M243.0 116.5h0M209.7 116.2h0M198.2 117.0h0M219.2 116.9h0M270.9 116.6h0M273.1 114.9h0M205.3 118.2h0M243.5 135.2h0M228.7 115.0h0M161.3 116.0h0M171.5 119.5h0M167.1 120.2h0M267.3 115.4h0M181.2 114.7h0M266.8 114.8h0M230.5 114.6h0M191.7 116.9h0M260.9 114.8h0M213.8 114.5h0M247.1 115.0h0M163.3 117.1h0M211.4 117.8h0M193.1 115.9h0M264.5 114.9h0M273.2 117.6h0M182.4 119.0h0M248.2 125.4h0M264.5 115.1h0M196.1 118.6h0M232.4 118.3h0M271.9 114.5h0M173.3 119.3h0M239.2 114.4h0M175.6 117.8h0M171.0 117.3h0M202.3 117.6h0M212.4 114.7h0M219.8 117.9h0M248.5 115.9h0M224.4 114.4h0M162.2 117.2h0M255.7 114.7h0M220.8 116.2h0M158.5 116.4h0M172.8 116.4h0M244.8 115.2h0M270.6 115.2h0M189.9 114.6h0M173.5 122.8h0M231.8 116.3h0M256.4 115.2h0M201.7 118.2h0M158.0 118.3h0M275.0 115.1h0M285.9 115.8h0M292.0 115.5h0M269.3 108.1h0M282.4 116.2h0M210.0 108.4h0M206.3 107.3h0M194.0 107.8h0M141.4 107.8h0M155.6 107.7h0M235.3 104.7h0M154.7 108.4h0M208.4 107.7h0M205.0 108.3h0M138.8 108.1h0M178.0 99.8h0M257.5 103.8h0M172.0 105.2h0M136.8 104.8h0M136.4 108.2h0M228.7 108.4h0M182.0 104.7h0M170.5 105.3h0M177.1 103.9h0M142.7 102.0h0M237.4 90.9h0M165.3 104.9h0M174.9 108.0h0M233.8 106.1h0M204.7 105.8h0M164.6 107.7h0M204.6 108.0h0M233.8 106.8h0M188.6 105.7h0M211.8 106.9h0M146.8 103.9h0M136.9 108.3h0M169.1 108.5h0M216.3 106.0h0M194.0 107.8h0M206.0 107.4h0M154.6 106.5h0M194.2 105.4h0M200.1 102.3h0M203.6 104.4h0M161.1 102.7h0M163.8 96.5h0M204.4 107.6h0M239.3 107.5h0M210.8 104.9h0M146.0 100.7h0M227.4 103.0h0M171.3 107.7h0M222.4 108.1h0M172.1 106.5h0M145.0 108.4h0M244.9 107.6h0M161.0 102.6h0M250.4 107.3h0M198.5 106.9h0M251.5 103.8h0M202.8 107.0h0M254.1 102.5h0M243.8 108.5h0M212.2 107.3h0M172.2 104.8h0M168.0 108.5h0M169.5 107.4h0M175.8 98.6h0M159.0 107.8h0M254.0 104.8h0M189.9 108.1h0M170.3 107.7h0M195.8 103.4h0M171.2 99.8h0M240.9 105.1h0M228.5 107.9h0M256.3 107.7h0M142.2 107.2h0M194.9 106.6h0M221.6 108.0h0M248.3 104.3h0M178.7 102.6h0M228.7 105.1h0M258.5 104.6h0M207.8 106.9h0M152.4 102.4h0M200.3 104.0h0M242.6 108.1h0M143.5 107.3h0M236.3 107.3h0M156.3 108.0h0M228.3 105.3h0M212.2 106.0h0M212.7 107.6h0M180.8 98.1h0M136.5 101.8h0M250.0 106.9h0M258.5 107.8h0M160.7 106.1h0M222.9 108.0h0M247.1 105.4h0M145.1 107.6h0M212.3 104.6h0M190.6 107.7h0M196.5 108.2h0M189.8 102.7h0M174.3 101.9h0M146.7 102.5h0M172.0 105.0h0M202.6 102.2h0M187.8 106.7h0M167.7 107.8h0M245.2 108.1h0M201.7 102.4h0M205.4 107.7h0M235.3 106.2h0M252.0 102.7h0M187.0 100.6h0M249.5 106.1h0M214.0 107.8h0M136.1 107.2h0M221.4 104.1h0M251.3 107.7h0M162.3 102.8h0M170.0 107.0h0M148.6 101.5h0M151.9 108.0h0M229.1 108.3h0M143.1 107.8h0M172.6 107.2h0M213.6 103.4h0M173.4 102.0h0M257.9 107.9h0M180.8 103.0h0M199.0 107.3h0M243.8 106.6h0M248.8 101.6h0M178.6 103.8h0M150.5 107.2h0M211.8 97.4h0M171.5 107.0h0M160.3 107.1h0M154.7 107.2h0M221.6 105.8h0M162.4 102.7h0M189.2 107.1h0M138.7 105.6h0M214.8 105.9h0M171.6 93.3h0M219.4 106.8h0M209.8 107.6h0M162.5 102.9h0M175.9 103.4h0M140.8 107.6h0M188.6 99.7h0M152.7 107.6h0M186.5 108.2h0M171.2 108.5h0M158.6 100.2h0M237.7 103.1h0M188.4 104.6h0M200.6 106.0h0M138.2 104.2h0M173.7 106.8h0M198.3 107.8h0M191.2 108.0h0M161.4 104.5h0M239.7 105.3h0M216.8 104.9h0M196.0 107.6h0M180.6 105.8h0M195.9 107.9h0M159.4 104.7h0M170.7 107.9h0M166.2 107.0h0M142.4 104.1h0M173.9 106.1h0M173.1 105.0h0M194.2 108.3h0M202.9 108.0h0M193.2 100.0h0M138.9 108.2h0M221.6 102.6h0M156.5 105.7h0M183.3 105.6h0M241.0 105.5h0M246.3 107.1h0M171.5 103.9h0M138.8 105.3h0M147.8 104.1h0M143.1 107.7h0M172.9 100.9h0M187.8 96.0h0M169.8 107.0h0M199.4 104.7h0M216.4 103.5h0M156.5 107.4h0M150.1 103.6h0M206.6 108.0h0M189.7 103.4h0M213.3 105.1h0M225.9 106.4h0M187.4 107.2h0M250.6 108.1h0M228.6 105.6h0M218.9 107.2h0M196.6 103.5h0M176.3 103.4h0M183.3 107.1h0M148.4 108.0h0M192.0 107.0h0M189.0 105.3h0M205.8 107.7h0M163.9 108.1h0M170.9 108.0h0M220.0 106.5h0M209.3 107.7h0M232.7 99.4h0M243.6 96.4h0M155.6 95.4h0M231.2 103.3h0M202.7 106.8h0M256.7 108.5h0M143.5 104.3h0M191.4 104.6h0M146.5 95.8h0M233.6 107.7h0M245.5 105.9h0M173.7 105.0h0M184.2 108.1h0M201.2 95.4h0M192.9 107.4h0M239.8 107.2h0M167.4 108.0h0M245.6 107.5h0M168.6 104.0h0M181.2 105.1h0M233.9 108.2h0M203.7 108.5h0M245.9 104.9h0M182.3 108.4h0M219.6 106.8h0M223.4 108.0h0M206.3 107.9h0M211.3 105.5h0M174.2 107.4h0M242.2 105.6h0M170.1 107.9h0M247.7 108.3h0M177.2 108.4h0M242.8 106.4h0M197.5 108.2h0M150.9 106.7h0M247.7 94.1h0M246.6 107.0h0M174.6 108.2h0M248.7 108.3h0M137.2 108.2h0M179.4 106.6h0M207.2 106.6h0M142.6 100.5h0M242.7 108.2h0M233.8 108.2h0M174.6 101.1h0M160.1 125.2h0M205.0 124.7h0M189.4 125.5h0M174.0 118.5h0M161.6 119.8h0M171.2 130.6h0M217.1 124.3h0M207.0 124.5h0M220.4 119.1h0M187.6 119.4h0M221.8 124.0h0M231.6 130.8h0M189.9 124.0h0M162.2 130.1h0M201.2 131.2h0M229.4 117.1h0M158.0 129.2h0M221.9 119.1h0M201.9 123.3h0M217.3 126.7h0M212.9 128.5h0M186.9 118.6h0M182.6 123.8h0M182.4 126.6h0M150.3 120.8h0M229.2 119.1h0M182.5 128.0h0M211.0 124.4h0M199.1 125.1h0M218.3 123.9h0M156.3 125.2h0M204.6 118.2h0M176.1 122.0h0M178.4 124.7h0M229.0 124.0h0M176.7 125.5h0M187.8 123.2h0M232.1 118.9h0M158.7 123.3h0M232.5 120.7h0M150.2 130.0h0M203.6 118.5h0M220.5 120.6h0M215.1 125.2h0M184.4 126.5h0M232.7 127.3h0M157.1 122.5h0M231.2 124.3h0M198.4 122.9h0M206.8 128.7h0M151.8 124.9h0M160.0 123.1h0M217.6 123.4h0M161.0 128.4h0M170.4 119.0h0M208.0 129.6h0M153.6 119.8h0M198.0 129.5h0M185.9 129.2h0M211.9 121.0h0M230.9 122.6h0M177.6 123.8h0M215.6 117.9h0M185.0 118.2h0M200.7 127.1h0M207.6 117.3h0M225.5 119.1h0M210.5 121.6h0M177.9 122.2h0M200.6 125.3h0M234.3 129.2h0M167.7 121.5h0M149.7 123.0h0M159.8 125.7h0M226.2 124.8h0M176.2 124.1h0M186.1 125.5h0M152.0 119.8h0M162.1 120.9h0M181.0 128.2h0M167.3 127.3h0M155.0 120.8h0M223.7 126.2h0M181.3 126.1h0M207.3 118.2h0M235.5 120.3h0M218.5 127.4h0M178.6 125.8h0M216.6 118.4h0M193.0 128.3h0M116.8 157.3h0M118.4 158.7h0M119.5 160.0h0M127.6 167.7h0M130.7 169.9h0M134.2 172.7h0M137.6 175.8h0M139.6 177.6h0M141.5 179.0h0M143.4 181.2h0M145.7 182.6h0M147.7 184.8h0M148.8 185.7h0M152.7 191.2h0M154.6 193.0h0M156.9 195.7h0M159.2 197.5h0M161.5 199.7h0M163.8 202.0h0M144.2 180.3h0M136.5 174.5h0M132.2 171.3h0M113.0 155.9h0M114.5 156.8h0" stroke="#2323ff" stroke-width="1.6" stroke-linecap="round" fill="none"/>
<path d="M219.1 111.3h0M112.2 113.1h0M225.1 111.6h0M154.4 118.7h0M135.2 110.2h0M176.5 120.7h0M87.4 111.1h0M151.9 110.4h0M185.1 112.7h0M169.9 109.9h0M192.7 115.5h0M201.3 112.1h0M135.6 102.9h0M125.7 112.4h0M199.0 106.2h0M142.8 108.4h0M203.0 115.5h0M157.9 112.9h0M209.4 111.1h0M184.6 110.2h0M152.2 108.4h0M197.2 112.3h0M121.7 112.4h0M165.6 112.7h0M127.1 114.6h0M156.1 113.8h0M128.4 115.4h0M176.7 120.3h0M231.0 110.0h0M133.3 113.0h0M196.1 111.7h0M148.1 107.9h0M185.8 110.0h0M177.4 107.3h0M156.4 112.3h0M180.9 119.1h0M200.1 111.6h0M193.0 107.5h0M198.2 108.0h0M120.4 115.6h0M164.5 110.7h0M178.2 114.7h0M190.9 114.1h0M143.6 103.7h0M157.7 113.8h0M142.9 112.6h0M151.5 113.3h0M205.1 113.8h0M110.4 108.2h0M156.6 113.7h0M162.4 116.1h0M181.5 110.2h0M151.1 117.2h0M153.8 110.8h0M220.7 111.5h0M149.4 112.2h0M164.9 110.5h0M174.2 125.9h0M193.8 106.3h0M220.9 108.9h0M145.7 111.6h0M163.6 113.9h0M153.7 107.3h0M189.7 115.7h0M158.6 111.1h0M225.4 113.8h0M169.2 113.9h0M170.3 110.9h0M153.9 114.7h0M135.5 109.4h0M188.7 110.7h0M197.1 110.6h0M153.2 108.4h0M183.2 110.3h0M116.7 116.8h0M133.7 115.9h0M123.6 110.5h0M130.0 119.3h0M192.7 117.3h0M169.3 117.2h0M153.3 111.3h0M252.6 110.6h0M155.0 120.0h0M161.5 110.4h0M200.5 110.6h0M142.6 119.4h0M212.8 115.1h0M132.0 112.6h0M155.7 107.3h0M192.6 114.6h0M158.3 115.5h0M136.1 113.8h0M194.5 113.2h0M204.4 112.1h0M154.6 110.4h0M110.9 113.7h0M179.6 118.8h0M124.4 116.0h0M159.3 116.5h0M164.8 112.3h0M122.7 111.5h0M136.9 113.5h0M227.1 109.9h0M175.7 118.7h0M121.4 106.8h0M178.6 118.7h0M172.1 128.9h0M165.3 118.1h0M298.0 110.7h0M195.9 108.5h0M223.1 108.8h0M238.0 112.4h0M250.7 109.0h0M137.5 110.2h0M196.3 108.5h0M197.3 117.9h0M149.1 113.2h0M218.9 113.8h0M205.9 113.8h0M144.8 109.5h0M201.2 106.0h0M194.6 109.0h0M214.9 115.8h0M193.8 113.2h0M145.6 108.9h0M97.3 113.8h0M220.3 117.8h0M102.5 114.8h0M191.8 112.9h0M110.0 116.3h0M144.5 110.8h0M212.6 115.9h0M168.3 114.6h0M169.8 110.7h0M173.2 116.6h0M131.2 111.8h0M163.7 121.6h0M158.5 107.1h0M194.5 107.8h0M172.6 123.1h0M124.7 115.9h0M173.1 108.8h0M157.0 112.8h0M119.0 110.2h0M142.3 110.7h0M186.8 115.6h0M166.8 103.6h0M181.8 117.3h0M220.4 108.1h0M144.4 109.9h0M154.6 117.3h0M126.3 108.4h0M163.6 114.5h0M136.2 109.0h0M127.0 118.0h0M94.6 112.3h0M135.4 105.6h0M182.7 105.2h0M159.7 127.9h0M120.6 111.2h0M163.9 108.9h0M118.0 110.1h0M294.3 112.6h0M172.1 108.7h0M89.9 111.6h0M119.5 114.0h0M242.1 111.2h0M198.1 114.3h0M136.9 111.8h0M158.3 108.3h0M89.9 110.6h0M231.7 109.4h0M167.0 110.0h0M114.8 117.4h0M203.8 109.8h0M170.5 120.0h0M217.7 110.0h0M166.9 112.4h0M130.3 107.8h0M168.8 114.2h0M115.7 110.6h0M178.7 113.2h0M111.5 113.1h0M162.5 111.2h0M149.5 111.5h0M150.9 114.1h0M152.0 117.2h0M157.6 111.6h0M137.5 111.0h0M147.4 101.2h0M136.8 115.2h0M143.0 106.0h0M274.2 113.8h0M127.0 103.2h0M145.3 108.1h0M234.4 110.3h0M146.6 108.7h0M151.1 112.8h0M154.8 120.7h0M144.4 117.8h0M194.0 107.0h0M158.1 110.7h0M152.6 120.6h0M130.1 115.7h0M187.2 107.9h0M178.6 114.9h0M258.3 111.3h0M197.7 108.6h0M234.0 110.6h0M170.9 114.6h0M134.7 118.2h0M127.5 107.8h0M142.7 110.8h0M126.0 117.6h0M146.4 117.2h0M166.7 106.8h0M154.4 110.1h0M153.2 114.7h0M222.9 112.9h0M124.0 112.0h0M167.0 107.5h0M247.5 113.0h0M179.0 113.7h0M252.9 114.3h0M157.3 112.3h0M163.6 114.9h0M173.4 109.3h0M176.6 105.5h0M220.8 112.4h0M139.0 108.9h0M191.1 113.8h0M177.8 119.7h0M200.1 108.6h0M135.6 111.4h0M200.8 107.8h0M197.0 110.9h0M170.8 111.6h0M153.7 115.9h0M216.0 111.3h0M206.6 113.6h0M197.4 113.4h0M139.3 108.5h0M158.1 117.1h0M178.4 106.3h0M192.8 110.7h0M130.9 113.1h0M198.3 108.5h0M188.6 111.8h0M188.8 112.8h0M119.3 105.5h0M216.0 109.7h0M149.0 114.1h0M109.3 112.7h0M237.2 112.1h0M110.7 109.2h0M223.1 110.4h0M153.9 119.1h0M213.1 110.6h0M211.9 109.4h0M171.0 116.7h0M164.5 109.2h0M202.4 113.0h0M171.1 111.4h0M165.2 107.7h0M181.5 109.7h0M147.2 116.6h0M119.1 108.8h0M173.0 114.7h0M251.6 110.1h0M209.7 113.9h0M160.4 111.9h0M144.1 120.3h0M241.7 117.0h0M98.7 113.6h0M213.4 106.0h0M140.1 118.8h0M207.5 118.6h0M228.1 108.2h0M97.7 111.0h0M183.0 106.4h0M123.4 113.8h0M190.6 109.0h0M177.1 106.7h0M141.7 109.7h0M238.2 110.9h0M182.7 114.7h0M159.7 114.0h0M122.7 107.2h0M147.1 108.8h0M201.5 113.1h0M201.7 116.2h0M180.5 115.2h0M143.7 107.9h0M151.3 112.6h0M181.8 103.3h0M157.0 110.6h0M185.3 112.0h0M192.4 116.5h0M113.4 110.6h0M174.9 111.3h0M199.9 106.3h0M126.4 114.7h0M110.6 110.0h0M213.0 109.8h0M209.1 109.0h0M138.9 113.5h0M146.6 112.5h0M184.1 112.3h0M205.9 106.9h0M86.0 112.3h0M182.9 109.1h0M198.9 114.0h0M128.3 113.0h0M211.1 109.7h0M157.9 114.5h0M154.7 107.0h0M156.9 116.1h0M188.8 115.5h0M218.7 110.7h0M132.8 109.9h0M228.0 115.3h0M215.1 111.1h0M178.7 112.8h0M89.5 111.3h0M154.5 110.5h0M102.1 110.9h0M162.3 123.6h0M141.7 101.4h0M210.6 110.8h0M143.7 109.3h0M100.6 110.3h0M149.1 109.9h0M131.0 116.8h0M165.0 113.7h0M225.6 110.0h0M145.2 110.6h0M185.4 119.0h0M233.7 108.1h0M261.4 111.8h0M184.5 102.9h0M165.2 130.9h0M121.5 104.8h0M165.4 112.1h0M187.5 106.2h0M116.0 108.2h0M185.6 113.7h0M132.1 110.3h0M160.2 116.9h0M211.7 112.6h0M136.0 115.6h0M219.4 115.4h0M142.4 111.5h0M103.3 114.2h0M208.7 111.6h0M104.5 113.2h0M157.3 112.9h0M159.4 116.5h0M154.1 110.3h0M211.9 111.1h0M167.8 114.9h0M158.9 117.0h0M138.9 122.3h0M175.8 113.3h0M194.7 109.7h0M211.1 112.5h0M119.5 113.4h0M204.2 111.5h0M199.0 110.1h0M140.9 115.0h0M163.1 110.7h0M197.3 107.2h0M190.5 113.1h0M121.0 111.6h0M188.3 112.4h0M195.2 112.3h0M149.4 112.8h0M141.6 106.3h0M117.1 112.5h0M150.8 102.9h0M120.9 116.9h0M158.5 116.5h0M131.4 108.1h0M112.3 114.2h0M177.6 109.2h0M180.4 108.4h0M100.4 113.1h0M107.8 111.9h0M177.0 106.9h0M221.1 113.7h0M243.9 111.7h0M143.2 109.6h0M104.8 112.7h0M151.4 111.3h0M121.1 108.4h0M146.4 113.2h0M169.9 108.2h0M141.3 115.3h0M212.3 108.6h0M160.5 108.3h0M163.3 113.1h0M136.5 112.6h0M246.2 109.2h0M212.7 113.6h0M195.4 118.5h0M186.1 111.9h0M169.1 111.9h0M180.1 106.2h0M115.0 113.4h0M138.4 114.1h0M162.7 109.3h0M184.3 110.2h0M227.7 117.3h0M202.5 116.3h0M202.1 112.4h0M185.2 115.2h0M151.7 109.3h0M213.9 114.2h0M215.2 113.5h0M168.7 113.0h0M230.0 111.1h0M190.8 114.6h0M212.3 112.6h0M176.4 112.9h0M127.7 105.6h0M156.1 114.9h0M155.0 108.5h0M163.0 106.5h0M143.6 114.5h0M179.6 118.6h0M193.2 114.2h0M121.3 112.6h0M178.2 112.0h0M232.3 118.2h0M119.2 109.4h0M206.7 112.9h0M172.2 112.6h0M146.1 113.2h0M162.3 107.6h0M237.8 114.4h0M129.8 110.1h0M168.5 96.4h0M157.8 109.6h0M112.1 109.6h0M168.0 105.1h0M189.4 111.7h0M137.4 120.8h0M182.4 110.2h0M169.6 113.7h0M120.7 115.2h0M158.7 111.7h0M210.1 109.0h0M168.6 111.0h0M158.3 104.0h0M153.6 111.7h0M231.0 118.5h0M133.4 113.3h0M157.2 103.6h0M156.3 108.2h0M159.1 108.6h0M119.4 110.8h0M127.6 109.0h0M200.7 114.0h0M183.1 113.3h0M193.0 108.2h0M228.5 109.3h0M207.4 114.0h0M151.6 112.4h0M117.7 109.5h0M208.9 105.1h0M201.2 105.3h0M119.0 113.1h0M215.7 115.9h0M112.0 115.8h0M217.6 110.8h0M169.0 112.5h0M168.3 109.6h0M141.6 115.8h0M216.9 113.8h0M132.3 121.8h0M162.7 106.5h0M148.2 124.6h0M165.6 111.4h0M141.9 107.4h0M176.7 104.4h0M180.1 111.5h0M233.1 108.2h0M135.9 113.5h0M174.9 113.2h0M175.5 131.6h0M109.3 113.4h0M216.7 107.0h0M197.3 116.7h0M145.3 110.8h0M118.7 117.1h0M193.7 110.4h0M125.5 115.4h0M184.4 116.7h0M136.7 108.6h0M164.8 112.7h0M107.7 112.7h0M213.3 109.4h0M200.8 116.1h0M222.6 114.1h0M179.3 112.8h0M137.4 112.7h0M108.0 112.1h0M120.2 111.8h0M177.0 110.3h0M138.0 107.4h0M195.4 107.4h0M141.1 103.5h0M181.3 115.9h0M212.6 108.9h0M162.9 111.4h0M220.7 113.3h0M216.1 109.0h0M209.2 108.1h0M219.3 113.0h0M136.7 108.5h0M190.2 114.1h0M202.2 111.9h0M215.1 109.1h0M175.4 115.6h0M171.7 114.5h0M152.1 108.8h0M115.7 113.2h0M203.4 110.8h0M197.9 112.5h0M186.8 116.5h0M156.9 104.6h0M169.0 102.9h0M163.9 110.8h0M166.7 113.9h0M188.6 111.4h0M173.6 113.7h0M179.1 113.2h0M168.1 109.1h0M123.0 120.3h0M157.3 111.1h0M153.2 124.1h0M227.6 112.1h0M127.1 117.0h0M123.0 111.8h0M197.7 114.9h0M196.3 107.8h0M137.9 107.7h0M155.3 109.8h0M165.3 116.7h0M214.5 109.7h0M110.9 109.6h0M169.2 108.5h0M213.3 112.9h0M163.8 112.9h0M188.8 109.6h0M178.9 111.0h0M127.5 111.1h0M107.2 109.6h0M225.5 113.5h0M135.3 104.5h0M177.9 115.9h0M159.6 112.9h0M238.6 112.1h0M128.2 114.8h0M207.4 109.2h0M183.4 112.8h0M170.4 112.7h0M141.2 108.9h0M155.7 112.9h0M149.9 110.1h0M207.1 115.1h0M110.6 112.1h0M175.5 108.7h0M146.4 108.1h0M190.8 99.6h0M161.8 116.2h0M139.6 114.2h0M150.4 109.5h0M120.3 115.0h0M207.9 111.3h0M170.0 111.5h0M140.8 107.2h0M229.0 108.5h0M163.5 115.2h0M103.7 109.6h0M169.8 111.6h0M124.1 108.2h0M185.2 109.4h0M186.6 105.5h0M182.2 104.9h0M145.1 117.7h0M182.2 111.8h0M276.3 110.4h0M163.7 116.1h0M133.4 108.4h0M258.3 108.8h0M214.2 110.8h0M187.6 118.2h0M150.7 119.8h0M181.9 112.6h0M221.3 116.6h0M135.5 109.4h0M169.1 114.2h0M214.7 119.5h0M204.7 113.1h0M102.2 112.5h0M158.1 110.8h0M171.6 115.0h0M126.1 110.9h0M146.6 113.4h0M164.1 112.5h0M173.9 103.9h0M174.3 110.7h0M116.2 110.4h0M91.2 110.7h0M175.5 114.2h0M226.8 107.3h0M176.0 108.2h0M93.5 110.0h0M131.1 112.3h0M213.4 108.7h0M99.3 108.2h0M164.8 116.5h0M157.0 110.5h0M188.3 104.7h0M156.5 104.8h0M154.1 114.2h0M144.8 110.9h0M152.0 111.1h0M189.2 113.1h0M209.9 115.3h0M179.8 108.0h0M100.0 110.8h0M159.1 107.1h0M85.7 110.9h0M151.3 105.3h0M177.1 112.3h0M203.6 110.5h0M189.0 114.7h0M182.3 109.4h0M164.7 112.2h0M149.6 112.8h0M185.3 118.0h0M200.8 118.4h0M254.0 114.2h0M260.1 112.5h0M93.8 113.1h0M156.7 115.1h0M105.6 113.3h0M137.6 117.6h0M156.6 112.7h0M203.0 107.0h0M102.1 115.5h0M121.9 110.5h0M219.6 111.2h0M183.7 114.4h0M217.1 108.8h0M147.0 116.2h0M170.0 109.7h0M138.8 103.8h0M97.3 114.4h0M97.9 112.8h0M167.4 115.9h0M206.7 107.7h0M194.8 111.5h0M125.4 118.6h0M168.9 104.2h0M150.9 109.0h0M221.7 107.2h0M281.3 110.6h0M124.7 112.4h0M189.2 115.0h0M108.1 112.2h0M186.4 112.9h0M136.4 102.1h0M152.1 113.9h0M167.8 112.7h0M167.6 109.6h0M149.2 110.8h0M107.8 114.3h0M171.8 112.6h0M184.7 107.5h0M142.0 120.5h0M129.3 102.6h0M196.6 107.2h0M109.7 112.9h0M137.9 106.5h0M209.4 112.3h0M129.5 109.5h0M158.8 110.8h0M110.6 115.3h0M179.0 113.5h0M122.7 119.1h0M145.9 110.3h0M141.5 96.0h0M211.9 111.8h0M179.7 114.3h0M155.6 115.8h0M104.1 113.1h0M152.5 114.0h0M170.6 107.4h0M151.2 121.6h0M180.7 120.4h0M174.1 113.0h0M126.1 114.1h0M211.2 106.2h0M160.3 116.8h0M150.6 109.3h0M106.3 113.5h0M233.6 116.1h0M175.7 113.0h0M188.6 114.7h0M183.9 112.5h0M122.2 111.6h0M170.0 110.4h0M216.1 113.2h0M178.3 111.9h0M207.5 111.2h0M175.4 108.8h0M139.1 114.5h0M94.7 110.4h0M213.0 105.9h0M161.0 118.2h0M163.9 110.5h0M125.1 112.3h0M205.5 118.6h0M160.5 103.6h0M230.0 112.6h0M176.8 104.9h0M117.0 113.9h0M134.3 113.2h0M123.8 109.4h0M179.2 113.4h0M189.6 101.6h0M112.3 112.4h0M236.6 108.4h0M155.0 106.4h0M177.0 108.9h0M196.9 107.2h0M171.1 113.4h0M175.3 117.8h0M143.6 112.8h0M142.9 112.3h0M114.3 108.6h0M195.2 103.5h0M256.2 109.3h0M180.8 114.0h0M141.3 113.4h0M250.1 110.3h0M161.2 106.1h0M97.4 112.5h0M151.7 112.5h0M186.7 113.3h0M168.8 116.0h0M153.4 109.3h0M186.5 110.7h0M236.2 114.3h0M145.0 113.0h0M160.6 110.2h0M172.9 112.9h0M157.7 113.1h0M206.2 108.9h0M233.0 110.3h0M198.7 104.0h0M156.6 115.7h0M112.4 115.6h0M189.4 102.6h0M108.6 114.2h0M121.9 112.4h0M151.5 110.8h0M174.7 107.0h0M178.2 114.1h0M170.9 110.8h0M96.7 112.5h0M149.2 112.1h0M187.7 116.5h0M187.6 105.7h0M199.1 112.0h0M147.6 105.9h0M180.4 111.7h0M123.3 154.9h0M147.6 103.9h0M230.4 113.5h0M157.5 110.8h0M182.4 105.2h0M213.5 107.0h0M172.5 108.1h0M116.7 112.8h0M140.8 114.1h0M162.9 111.5h0M117.4 110.6h0M159.0 103.9h0M164.2 114.2h0M236.2 111.7h0M109.8 110.3h0M116.1 109.0h0M234.9 114.3h0M128.6 105.4h0M160.9 111.3h0M183.5 106.4h0M138.4 113.3h0M144.3 111.2h0M159.4 120.6h0M157.6 106.2h0M236.3 113.5h0M85.4 110.6h0M235.7 108.7h0M179.3 105.0h0M118.5 108.3h0M142.4 113.3h0M128.2 113.0h0M151.9 105.3h0M235.1 110.4h0M250.8 112.1h0M195.0 111.9h0M131.6 112.9h0M146.1 109.7h0M115.6 111.5h0M154.0 113.0h0M111.5 112.4h0M203.0 109.0h0M99.6 112.0h0M118.1 110.5h0M183.8 117.4h0M122.8 101.9h0M114.8 109.5h0M92.4 114.0h0M189.8 106.0h0M171.4 114.5h0M130.9 112.5h0M150.2 113.7h0M194.2 111.5h0M152.2 119.4h0M225.6 115.2h0M189.1 110.2h0M238.4 118.2h0M137.0 121.6h0M180.0 114.1h0M155.6 113.3h0M220.4 108.4h0M96.8 109.5h0M244.9 106.3h0M108.5 112.2h0M137.5 106.5h0M164.5 117.6h0M239.1 111.3h0M199.3 107.3h0M148.3 105.8h0M138.6 100.7h0M217.2 112.9h0M208.3 115.4h0M187.2 112.3h0M199.0 104.5h0M205.0 100.7h0M203.6 112.3h0M209.7 111.6h0M209.2 113.0h0M174.0 113.1h0M146.5 100.9h0M183.9 110.8h0M148.3 119.5h0M145.6 109.7h0M134.1 114.1h0M136.5 109.8h0M203.1 107.8h0M193.1 110.5h0M128.6 107.1h0M174.7 115.4h0M207.6 109.4h0M138.0 109.6h0M182.9 108.3h0M123.0 109.7h0M151.9 112.7h0M176.1 102.3h0M92.8 112.6h0M125.5 108.9h0M220.9 89.9h0M96.8 110.9h0M183.0 110.6h0M187.4 108.3h0M147.6 112.4h0M92.4 110.7h0M167.4 111.9h0M161.1 110.4h0M210.0 104.1h0M173.7 110.6h0M203.7 119.3h0M135.2 113.2h0M220.1 107.4h0M224.0 110.5h0M228.5 115.5h0M159.7 107.1h0M189.0 103.3h0M165.5 115.8h0M223.3 108.0h0M149.7 112.0h0M181.6 114.3h0M171.6 103.5h0M183.7 113.2h0M166.7 113.9h0M148.2 111.2h0M130.2 107.5h0M187.5 116.3h0M136.0 110.7h0M127.4 108.8h0M188.5 113.6h0M86.4 111.6h0M179.5 102.9h0M164.7 115.1h0M172.6 109.6h0M178.9 112.0h0M142.7 109.7h0M170.7 113.2h0M103.9 109.5h0M156.6 112.1h0M162.1 111.2h0M163.8 111.7h0M157.2 112.4h0M177.3 114.7h0M182.9 110.3h0M259.5 114.2h0M209.0 117.2h0M197.0 112.5h0M155.5 108.7h0M164.2 110.6h0M149.0 110.9h0M165.8 110.0h0M180.4 114.5h0M144.6 110.4h0M281.1 110.2h0M198.3 113.3h0M190.3 119.3h0M163.0 116.9h0M174.6 111.4h0M158.0 113.7h0M172.6 120.4h0M167.5 110.9h0M192.2 109.3h0M168.8 114.5h0M125.1 108.8h0M212.5 108.3h0M181.3 107.2h0M210.4 110.6h0M240.8 111.7h0M164.1 114.2h0M255.0 113.7h0M132.9 110.8h0M162.0 105.0h0M152.1 115.6h0M216.1 113.7h0M173.0 106.2h0M145.2 115.5h0M191.8 117.2h0M100.0 109.1h0M199.0 107.0h0M173.0 109.9h0M103.8 111.8h0M230.1 118.6h0M227.1 110.8h0M183.4 115.6h0M204.1 110.0h0M204.0 116.3h0M195.7 105.8h0M194.2 113.3h0M161.9 115.9h0M194.1 112.2h0M127.0 112.6h0M157.8 108.3h0M179.5 109.4h0M161.8 115.5h0M224.6 111.2h0M182.4 115.6h0M158.8 113.6h0M169.5 108.0h0M186.5 114.4h0M200.9 107.7h0M211.2 110.7h0M214.1 111.8h0M119.4 107.7h0M137.7 111.0h0M136.4 116.8h0M173.7 117.5h0M127.0 113.2h0M151.7 110.6h0M135.2 108.3h0M182.4 107.9h0M245.0 109.8h0M165.0 111.6h0M228.7 109.2h0M125.1 121.5h0M169.7 110.6h0M119.9 112.9h0M197.8 108.0h0M160.0 106.7h0M146.2 112.7h0M155.6 112.7h0M181.3 104.9h0M197.4 108.8h0M151.3 120.0h0M133.8 109.8h0M210.2 115.5h0M176.8 110.6h0M165.2 105.5h0M186.9 114.8h0M199.2 107.6h0M165.7 113.1h0M125.9 113.0h0M188.4 108.2h0M246.0 108.9h0M170.8 112.5h0M181.0 104.5h0M168.3 115.3h0M146.2 106.8h0M164.6 107.0h0M150.8 113.2h0M166.1 116.8h0M189.7 113.2h0M199.4 106.1h0M146.3 109.0h0M212.3 111.3h0M150.9 111.6h0M209.3 116.0h0M199.6 109.6h0M151.8 109.6h0M202.3 112.9h0M177.5 124.0h0M154.5 105.8h0M219.9 106.9h0M209.2 111.3h0M197.1 112.6h0M203.2 118.5h0M192.7 113.7h0M125.2 116.0h0M223.7 116.6h0M174.0 115.0h0M207.9 111.8h0M114.8 110.7h0M234.5 106.9h0M157.6 111.6h0M199.2 109.7h0M127.5 112.2h0M175.7 123.3h0M98.3 110.4h0M222.9 111.0h0M207.0 111.2h0M207.8 112.1h0M149.6 113.7h0M207.3 112.6h0M167.1 110.7h0M203.8 117.1h0M205.4 109.5h0M108.6 115.0h0M174.8 117.5h0M152.2 105.7h0M130.2 117.8h0M195.7 117.7h0M112.5 110.7h0M162.5 111.7h0M138.9 107.0h0M125.8 111.2h0M214.0 112.9h0M215.7 112.4h0M185.6 110.3h0M169.6 119.9h0M160.7 113.6h0M177.4 113.0h0M229.7 109.7h0M111.9 114.4h0M129.3 109.3h0M167.1 104.6h0M142.5 106.1h0M241.5 110.8h0M200.5 115.0h0M89.2 111.5h0M165.7 107.0h0M180.7 103.8h0M149.4 113.3h0M157.7 107.6h0M215.4 106.9h0M135.8 106.8h0M180.4 114.3h0M186.1 116.3h0M206.8 109.8h0M131.2 118.9h0M103.2 108.4h0M184.1 111.1h0M115.7 100.8h0M230.3 111.2h0M147.2 111.8h0M152.4 120.2h0M249.1 114.0h0M166.7 108.0h0M214.7 115.5h0M148.9 114.4h0M151.6 103.1h0M126.5 115.8h0M114.5 107.2h0M163.6 104.0h0M85.6 111.5h0M217.1 105.8h0M148.5 120.0h0M198.0 111.6h0M156.4 116.3h0M196.0 110.3h0M164.4 116.2h0M210.7 111.7h0M164.6 114.5h0M108.3 107.1h0M160.8 119.3h0M139.8 113.1h0M157.3 113.2h0M149.1 109.0h0M215.9 105.3h0M176.4 113.8h0M149.3 113.9h0M136.4 103.4h0M174.3 110.8h0M237.1 107.9h0M234.2 110.0h0M193.7 112.5h0M125.5 108.4h0M157.6 113.9h0M170.6 110.6h0M174.3 118.3h0M170.6 109.0h0M197.2 116.0h0M260.2 110.4h0M223.8 111.2h0M144.8 109.7h0M142.8 117.1h0M180.0 108.2h0M175.8 107.9h0M127.2 109.0h0M180.0 104.7h0M167.1 105.2h0M167.8 111.4h0M173.9 110.3h0M178.3 105.0h0M170.7 109.1h0M194.5 112.4h0M139.8 113.2h0M190.7 111.9h0M203.5 110.9h0M199.5 110.4h0M227.5 115.8h0M206.0 114.3h0M145.5 107.9h0M213.7 109.1h0M162.8 110.9h0M156.7 112.7h0M187.9 108.9h0M148.2 108.4h0M153.1 112.7h0M160.3 109.4h0M215.7 103.4h0M133.1 107.9h0M157.8 105.1h0M185.3 110.8h0M197.0 106.5h0M156.6 109.1h0M149.7 108.8h0M206.8 113.1h0M148.0 123.8h0M221.6 112.1h0M115.3 109.4h0M175.2 108.2h0M137.8 112.4h0M192.2 118.4h0M149.0 110.4h0M196.3 107.2h0M105.1 108.7h0M160.9 115.7h0M145.0 109.8h0M183.5 104.8h0M160.3 111.6h0M95.9 111.8h0M202.7 112.6h0M132.5 110.8h0M181.5 106.0h0M183.5 113.2h0M206.6 115.3h0M214.5 113.8h0M208.4 114.4h0M144.4 113.8h0M208.5 106.7h0M100.4 112.5h0M198.4 111.9h0M151.5 106.0h0M117.4 123.4h0M160.6 106.5h0M122.3 114.0h0M115.6 110.3h0M150.1 107.1h0M145.7 116.5h0M92.4 110.7h0M228.3 111.4h0M207.9 112.0h0M206.9 114.9h0M237.0 112.0h0M212.5 115.5h0M178.6 109.9h0M119.7 109.1h0M210.5 109.0h0M145.0 121.8h0M124.1 109.3h0M268.3 112.6h0M160.9 106.9h0M226.6 116.9h0M194.6 110.8h0M105.4 114.5h0M147.3 116.2h0M188.5 104.2h0M147.5 109.9h0M177.7 111.4h0M168.6 112.1h0M211.2 111.6h0M187.1 106.9h0M204.8 110.5h0M175.5 112.8h0M166.8 111.0h0M197.3 105.2h0M107.6 110.7h0M172.6 111.9h0M171.9 103.7h0M172.4 119.4h0M165.7 112.8h0M201.9 112.2h0M226.8 115.7h0M201.8 112.3h0M185.9 122.6h0M115.3 111.4h0M97.8 113.1h0M242.4 112.2h0M214.5 108.7h0M186.4 116.2h0M141.4 108.6h0M181.5 107.3h0M120.5 112.0h0M119.1 105.8h0M160.1 112.6h0M182.8 110.4h0M204.9 113.2h0M168.6 110.3h0M171.4 115.1h0M109.1 111.4h0M151.4 108.4h0M238.1 114.3h0M129.1 117.7h0M177.4 114.0h0M271.6 113.2h0M189.7 109.2h0M158.1 117.8h0M194.0 110.2h0M115.9 129.8h0M136.5 113.4h0M186.7 107.3h0M215.3 112.2h0M177.9 110.3h0M128.8 117.3h0M176.5 109.6h0M99.0 109.4h0M143.9 110.9h0M90.4 109.7h0M196.1 114.5h0M163.1 109.6h0M117.7 110.2h0M151.2 107.0h0M178.6 116.7h0M142.6 115.3h0M173.1 110.7h0M199.4 110.0h0M104.1 112.5h0M136.4 109.8h0M212.7 110.2h0M161.4 108.7h0M148.4 108.7h0M148.5 108.6h0M155.8 112.4h0M219.3 111.0h0M185.0 114.8h0M260.6 110.1h0M208.6 117.5h0M184.4 115.1h0M171.7 109.1h0M153.9 113.9h0M135.9 106.4h0M116.9 113.5h0M134.9 115.6h0M188.1 110.8h0M218.0 113.9h0M155.5 108.0h0M204.3 113.4h0M140.1 108.7h0M187.4 113.3h0M172.0 109.3h0M177.5 112.5h0M107.8 116.4h0M123.8 108.4h0M131.8 110.3h0M163.2 114.4h0M190.4 116.9h0M128.4 114.3h0M229.1 111.4h0M145.9 120.4h0M153.0 112.4h0M166.7 117.9h0M111.1 111.1h0M158.0 114.7h0M111.0 114.1h0M131.0 106.0h0M214.8 109.2h0M158.9 110.4h0M164.7 113.9h0M148.9 107.5h0M141.3 117.8h0M158.0 113.2h0M149.9 119.9h0M152.5 106.2h0M147.5 112.3h0M141.9 108.4h0M179.9 106.4h0M211.6 107.8h0M229.4 114.6h0M219.5 110.0h0M218.3 116.8h0M178.9 109.6h0M154.7 112.4h0M199.8 106.4h0M101.1 109.0h0M128.4 115.8h0M162.6 111.0h0M106.9 107.3h0M210.6 120.5h0M164.1 114.0h0M116.7 117.3h0M142.4 116.0h0M203.3 114.2h0M240.1 109.4h0M96.2 110.0h0M130.1 115.1h0M160.3 116.1h0M205.6 106.7h0M120.3 106.0h0M137.4 118.8h0M172.6 113.8h0M296.8 111.2h0M239.2 112.6h0M168.2 115.5h0M173.4 113.9h0M133.9 110.5h0M167.9 117.9h0M107.9 113.7h0M162.4 112.4h0M180.9 113.5h0M236.7 110.1h0M158.1 121.3h0" stroke="#979797" stroke-width="1.5" stroke-linecap="round" fill="none"/>
<line x1="47.3" y1="111.7" x2="318" y2="111.7" stroke="#6a6a6a" stroke-width="1.9"/>
<rect x="47.3" y="51.0" width="270.7" height="166.5" fill="none" stroke="#777" stroke-width="1"/>
<line x1="42.3" y1="66.6" x2="47.3" y2="66.6" stroke="#555" stroke-width="0.9"/>
<text x="36.2" y="66.6" font-size="8.2" text-anchor="middle" fill="#222" transform="rotate(-90 36.2 66.6)">5</text>
<line x1="42.3" y1="111.7" x2="47.3" y2="111.7" stroke="#555" stroke-width="0.9"/>
<text x="36.2" y="111.7" font-size="8.2" text-anchor="middle" fill="#222" transform="rotate(-90 36.2 111.7)">0</text>
<line x1="42.3" y1="156.8" x2="47.3" y2="156.8" stroke="#555" stroke-width="0.9"/>
<text x="36.2" y="156.8" font-size="8.2" text-anchor="middle" fill="#222" transform="rotate(-90 36.2 156.8)">-5</text>
<line x1="42.3" y1="202" x2="47.3" y2="202" stroke="#555" stroke-width="0.9"/>
<text x="36.2" y="202" font-size="8.2" text-anchor="middle" fill="#222" transform="rotate(-90 36.2 202)">-10</text>
<line x1="51.4" y1="217.5" x2="51.4" y2="222.5" stroke="#555" stroke-width="0.9"/>
<text x="51.4" y="235.6" font-size="8.2" text-anchor="middle" fill="#222">1e-01</text>
<line x1="89.9" y1="217.5" x2="89.9" y2="222.5" stroke="#555" stroke-width="0.9"/>
<text x="89.9" y="235.6" font-size="8.2" text-anchor="middle" fill="#222">1e+00</text>
<line x1="128.4" y1="217.5" x2="128.4" y2="222.5" stroke="#555" stroke-width="0.9"/>
<text x="128.4" y="235.6" font-size="8.2" text-anchor="middle" fill="#222">1e+01</text>
<line x1="166.9" y1="217.5" x2="166.9" y2="222.5" stroke="#555" stroke-width="0.9"/>
<text x="166.9" y="235.6" font-size="8.2" text-anchor="middle" fill="#222">1e+02</text>
<line x1="205.4" y1="217.5" x2="205.4" y2="222.5" stroke="#555" stroke-width="0.9"/>
<text x="205.4" y="235.6" font-size="8.2" text-anchor="middle" fill="#222">1e+03</text>
<line x1="243.9" y1="217.5" x2="243.9" y2="222.5" stroke="#555" stroke-width="0.9"/>
<text x="243.9" y="235.6" font-size="8.2" text-anchor="middle" fill="#222">1e+04</text>
<line x1="282.4" y1="217.5" x2="282.4" y2="222.5" stroke="#555" stroke-width="0.9"/>
<text x="282.4" y="235.6" font-size="8.2" text-anchor="middle" fill="#222">1e+05</text>
<line x1="51.4" y1="217.5" x2="282.4" y2="217.5" stroke="#555" stroke-width="0.9"/>
<line x1="47.3" y1="66.6" x2="47.3" y2="202" stroke="#555" stroke-width="0.9"/>
<text x="182.6" y="255.9" font-size="8.3" text-anchor="middle" fill="#222">mean of normalized counts</text>
<text x="15.3" y="135" font-size="8.4" text-anchor="middle" fill="#222" transform="rotate(-90 15.3 135)">log fold change</text>
<text x="350.8" y="9.4" font-size="12.5" fill="#000" stroke="#000" stroke-width="0.2">B</text>
<line x1="389.8" y1="36.4" x2="389.8" y2="234.6" stroke="#f3f3f3" stroke-width="0.6"/>
<line x1="398.6" y1="36.4" x2="398.6" y2="234.6" stroke="#ebebeb" stroke-width="0.9"/>
<line x1="407.4" y1="36.4" x2="407.4" y2="234.6" stroke="#f3f3f3" stroke-width="0.6"/>
<line x1="416.1" y1="36.4" x2="416.1" y2="234.6" stroke="#ebebeb" stroke-width="0.9"/>
<line x1="424.9" y1="36.4" x2="424.9" y2="234.6" stroke="#f3f3f3" stroke-width="0.6"/>
<line x1="433.7" y1="36.4" x2="433.7" y2="234.6" stroke="#ebebeb" stroke-width="0.9"/>
<line x1="442.5" y1="36.4" x2="442.5" y2="234.6" stroke="#f3f3f3" stroke-width="0.6"/>
<line x1="451.2" y1="36.4" x2="451.2" y2="234.6" stroke="#ebebeb" stroke-width="0.9"/>
<line x1="460" y1="36.4" x2="460" y2="234.6" stroke="#f3f3f3" stroke-width="0.6"/>
<line x1="468.8" y1="36.4" x2="468.8" y2="234.6" stroke="#ebebeb" stroke-width="0.9"/>
<line x1="477.5" y1="36.4" x2="477.5" y2="234.6" stroke="#f3f3f3" stroke-width="0.6"/>
<line x1="486.3" y1="36.4" x2="486.3" y2="234.6" stroke="#ebebeb" stroke-width="0.9"/>
<line x1="495.1" y1="36.4" x2="495.1" y2="234.6" stroke="#f3f3f3" stroke-width="0.6"/>
<line x1="503.9" y1="36.4" x2="503.9" y2="234.6" stroke="#ebebeb" stroke-width="0.9"/>
<line x1="512.6" y1="36.4" x2="512.6" y2="234.6" stroke="#f3f3f3" stroke-width="0.6"/>
<line x1="521.4" y1="36.4" x2="521.4" y2="234.6" stroke="#ebebeb" stroke-width="0.9"/>
<line x1="530.2" y1="36.4" x2="530.2" y2="234.6" stroke="#f3f3f3" stroke-width="0.6"/>
<line x1="538.9" y1="36.4" x2="538.9" y2="234.6" stroke="#ebebeb" stroke-width="0.9"/>
<line x1="547.7" y1="36.4" x2="547.7" y2="234.6" stroke="#f3f3f3" stroke-width="0.6"/>
<line x1="556.5" y1="36.4" x2="556.5" y2="234.6" stroke="#ebebeb" stroke-width="0.9"/>
<line x1="565.2" y1="36.4" x2="565.2" y2="234.6" stroke="#f3f3f3" stroke-width="0.6"/>
<line x1="574" y1="36.4" x2="574" y2="234.6" stroke="#ebebeb" stroke-width="0.9"/>
<line x1="582.8" y1="36.4" x2="582.8" y2="234.6" stroke="#f3f3f3" stroke-width="0.6"/>
<line x1="591.5" y1="36.4" x2="591.5" y2="234.6" stroke="#ebebeb" stroke-width="0.9"/>
<line x1="600.3" y1="36.4" x2="600.3" y2="234.6" stroke="#f3f3f3" stroke-width="0.6"/>
<line x1="609.1" y1="36.4" x2="609.1" y2="234.6" stroke="#ebebeb" stroke-width="0.9"/>
<line x1="617.9" y1="36.4" x2="617.9" y2="234.6" stroke="#f3f3f3" stroke-width="0.6"/>
<line x1="626.6" y1="36.4" x2="626.6" y2="234.6" stroke="#ebebeb" stroke-width="0.9"/>
<line x1="635.4" y1="36.4" x2="635.4" y2="234.6" stroke="#f3f3f3" stroke-width="0.6"/>
<line x1="644.2" y1="36.4" x2="644.2" y2="234.6" stroke="#ebebeb" stroke-width="0.9"/>
<line x1="652.9" y1="36.4" x2="652.9" y2="234.6" stroke="#f3f3f3" stroke-width="0.6"/>
<line x1="661.7" y1="36.4" x2="661.7" y2="234.6" stroke="#ebebeb" stroke-width="0.9"/>
<line x1="670.5" y1="36.4" x2="670.5" y2="234.6" stroke="#f3f3f3" stroke-width="0.6"/>
<line x1="679.2" y1="36.4" x2="679.2" y2="234.6" stroke="#ebebeb" stroke-width="0.9"/>
<line x1="385.2" y1="226.6" x2="685" y2="226.6" stroke="#ebebeb" stroke-width="0.9"/>
<line x1="385.2" y1="217.2" x2="685" y2="217.2" stroke="#f3f3f3" stroke-width="0.6"/>
<line x1="385.2" y1="207.7" x2="685" y2="207.7" stroke="#ebebeb" stroke-width="0.9"/>
<line x1="385.2" y1="198.2" x2="685" y2="198.2" stroke="#f3f3f3" stroke-width="0.6"/>
<line x1="385.2" y1="188.8" x2="685" y2="188.8" stroke="#ebebeb" stroke-width="0.9"/>
<line x1="385.2" y1="179.3" x2="685" y2="179.3" stroke="#f3f3f3" stroke-width="0.6"/>
<line x1="385.2" y1="169.9" x2="685" y2="169.9" stroke="#ebebeb" stroke-width="0.9"/>
<line x1="385.2" y1="160.4" x2="685" y2="160.4" stroke="#f3f3f3" stroke-width="0.6"/>
<line x1="385.2" y1="151" x2="685" y2="151" stroke="#ebebeb" stroke-width="0.9"/>
<line x1="385.2" y1="141.6" x2="685" y2="141.6" stroke="#f3f3f3" stroke-width="0.6"/>
<line x1="385.2" y1="132.1" x2="685" y2="132.1" stroke="#ebebeb" stroke-width="0.9"/>
<line x1="385.2" y1="122.7" x2="685" y2="122.7" stroke="#f3f3f3" stroke-width="0.6"/>
<line x1="385.2" y1="113.2" x2="685" y2="113.2" stroke="#ebebeb" stroke-width="0.9"/>
<line x1="385.2" y1="103.8" x2="685" y2="103.8" stroke="#f3f3f3" stroke-width="0.6"/>
<line x1="385.2" y1="94.3" x2="685" y2="94.3" stroke="#ebebeb" stroke-width="0.9"/>
<line x1="385.2" y1="84.8" x2="685" y2="84.8" stroke="#f3f3f3" stroke-width="0.6"/>
<line x1="385.2" y1="75.4" x2="685" y2="75.4" stroke="#ebebeb" stroke-width="0.9"/>
<line x1="385.2" y1="65.9" x2="685" y2="65.9" stroke="#f3f3f3" stroke-width="0.6"/>
<line x1="385.2" y1="56.5" x2="685" y2="56.5" stroke="#ebebeb" stroke-width="0.9"/>
<line x1="385.2" y1="47.1" x2="685" y2="47.1" stroke="#f3f3f3" stroke-width="0.6"/>
<line x1="385.2" y1="37.6" x2="685" y2="37.6" stroke="#ebebeb" stroke-width="0.9"/>
<path d="M460.0 225.5h0M493.2 222.4h0M497.0 221.9h0M419.2 222.3h0M516.0 223.7h0M489.1 221.9h0M494.0 224.3h0M494.5 222.6h0M501.1 222.8h0M439.6 224.3h0M418.6 223.2h0M523.5 222.1h0M482.1 222.6h0M501.4 224.1h0M481.5 224.3h0M507.0 223.0h0M447.3 223.8h0M432.5 224.2h0M441.8 224.0h0M514.5 224.2h0M511.9 221.7h0M511.0 223.7h0M440.0 223.2h0M525.1 223.1h0M474.7 225.3h0M426.3 223.1h0M420.8 222.1h0M437.1 222.0h0M507.8 222.0h0M484.6 222.3h0M497.5 222.6h0M434.1 223.8h0M480.6 224.2h0M501.9 224.3h0M508.9 223.6h0M417.4 222.4h0M454.6 223.8h0M502.0 224.0h0M498.6 222.1h0M516.1 222.6h0M479.0 225.7h0M503.8 224.1h0M521.1 222.8h0M465.3 224.2h0M479.1 223.5h0M504.5 223.2h0M504.3 223.3h0M460.5 225.9h0M454.2 222.7h0M463.3 223.3h0M450.5 223.1h0M483.6 224.9h0M505.1 223.5h0M479.3 224.1h0M497.4 224.5h0M443.3 225.1h0M462.4 224.8h0M495.1 224.8h0M493.6 225.5h0M473.5 225.6h0M470.9 222.9h0M508.4 224.8h0M426.4 224.3h0M452.7 222.8h0M426.5 224.1h0M469.0 223.2h0M449.2 225.5h0M441.8 224.4h0M479.2 223.7h0M432.4 222.7h0M482.1 223.6h0M511.4 222.4h0M447.1 223.3h0M459.5 225.5h0M438.2 222.1h0M477.9 222.5h0M503.9 224.1h0M444.5 224.6h0M522.3 221.8h0M483.5 222.2h0M504.1 223.3h0M475.2 223.1h0M485.7 221.9h0M423.4 222.7h0M467.6 221.8h0M457.9 221.8h0M523.9 222.4h0M499.4 222.3h0M444.1 224.4h0M457.5 224.0h0M511.4 223.4h0M516.2 222.5h0M486.8 222.3h0M429.3 223.0h0M493.7 223.7h0M429.7 223.6h0M524.0 223.2h0M429.1 222.7h0M450.8 223.3h0M493.1 225.1h0M431.5 224.0h0M522.1 223.5h0M475.3 222.5h0M495.1 224.9h0M433.5 222.6h0M513.2 223.5h0M424.3 224.1h0M467.7 224.6h0M489.1 222.5h0M462.4 223.3h0M481.1 225.2h0M483.4 223.9h0M442.8 223.9h0M525.9 221.7h0M480.6 223.1h0M430.9 222.8h0M418.0 221.7h0M481.1 223.2h0M475.0 225.6h0M459.9 223.4h0M526.3 222.3h0M415.2 221.7h0M460.3 222.7h0M450.2 224.0h0M489.7 222.8h0M479.4 225.2h0M455.5 225.8h0M466.6 221.9h0M486.3 221.9h0M445.3 223.8h0M458.8 223.5h0M502.7 223.6h0M515.2 223.0h0M452.7 222.6h0M462.0 223.1h0M459.7 222.5h0M500.2 223.4h0M445.3 222.8h0M503.7 222.0h0M457.3 223.6h0M493.9 225.3h0M426.4 223.3h0M520.4 221.7h0M420.2 222.3h0M493.4 225.6h0M478.6 224.3h0M485.8 224.1h0M416.0 223.1h0M427.4 221.9h0M496.1 224.2h0M485.8 222.8h0M486.9 222.1h0M459.3 224.7h0M415.6 222.1h0M451.5 223.1h0M522.3 221.7h0M445.5 225.6h0M449.1 223.8h0M494.5 225.1h0M502.6 223.0h0M493.5 223.0h0M494.5 225.2h0M501.8 224.3h0M494.4 224.7h0M516.4 222.4h0M440.3 225.3h0M445.1 223.0h0M449.5 224.9h0M492.5 221.7h0M449.5 222.5h0M494.2 223.1h0M504.5 224.3h0M509.0 222.4h0M441.7 222.3h0M425.6 224.4h0M519.4 223.6h0M470.5 224.0h0M440.7 221.8h0M452.2 223.8h0M437.9 224.7h0M420.1 222.1h0M441.8 225.1h0M509.4 222.3h0M464.7 222.9h0M518.7 223.5h0M419.1 222.4h0M417.4 222.6h0M446.9 225.6h0M499.9 223.1h0M501.4 224.9h0M520.5 222.5h0M457.3 224.0h0M451.6 222.2h0M513.1 223.3h0M448.0 221.8h0M521.0 222.0h0M462.7 225.9h0M430.1 223.0h0M451.9 222.5h0M475.9 225.6h0M431.7 222.7h0M514.8 222.9h0M418.7 222.3h0M517.9 223.1h0M523.2 221.8h0M428.7 224.3h0M438.4 222.5h0M464.3 224.6h0M416.9 222.3h0M449.1 223.8h0M510.1 222.5h0M417.1 222.0h0M510.7 223.1h0M439.3 221.8h0M498.1 223.3h0M498.6 222.7h0M482.2 224.9h0M500.1 225.4h0M415.2 222.5h0M448.0 225.3h0M424.4 222.5h0M426.5 224.3h0M508.6 223.4h0M469.7 225.8h0M483.5 222.7h0M440.7 222.8h0M422.5 223.1h0M441.1 223.0h0M460.9 224.4h0M479.0 223.7h0M496.0 224.1h0M463.0 225.8h0M490.7 222.1h0M477.0 222.6h0M468.0 223.3h0M417.7 222.3h0M505.9 222.5h0M435.7 221.8h0M456.8 222.0h0M524.0 223.0h0M470.4 225.2h0M421.8 222.1h0M501.5 223.4h0M418.0 222.2h0M522.2 222.9h0M463.8 222.7h0M524.3 222.4h0M417.8 223.1h0M498.6 222.3h0M479.4 223.1h0M445.6 224.9h0M419.8 223.3h0M451.6 222.8h0M510.8 223.4h0M450.5 225.3h0M462.8 222.3h0M475.1 222.4h0M438.4 224.6h0M451.7 224.8h0M419.7 222.9h0M421.3 222.0h0M446.9 221.7h0M467.5 221.8h0M494.5 221.7h0M451.6 224.6h0M474.2 223.9h0M505.0 224.6h0M492.8 222.3h0M506.5 222.9h0M523.9 222.2h0M514.2 222.9h0M516.0 223.8h0M505.0 221.8h0M510.0 222.8h0M447.5 222.9h0M517.9 224.1h0M418.3 222.9h0M502.1 224.5h0M414.6 222.1h0M481.5 222.7h0M420.0 222.8h0M419.3 222.2h0M425.7 223.4h0M423.8 224.1h0M449.4 224.9h0M439.0 221.8h0M493.6 223.8h0M525.0 222.0h0M511.2 222.4h0M473.5 222.5h0M521.1 222.9h0M463.1 224.0h0M512.1 223.8h0M468.1 224.7h0M425.9 222.9h0M450.7 223.0h0M516.8 223.1h0M526.3 222.0h0M466.0 225.4h0M516.5 223.4h0M453.6 224.6h0M504.1 223.8h0M499.6 224.4h0M438.5 222.6h0M420.3 223.8h0M421.4 223.4h0M470.4 225.7h0M443.4 225.4h0M429.5 222.1h0M473.5 222.5h0M449.1 223.6h0M482.1 224.0h0M510.0 221.7h0M508.2 222.0h0M434.3 222.0h0M458.0 224.6h0M417.1 222.1h0M436.5 222.0h0M489.3 224.2h0M420.9 222.4h0M440.0 223.3h0M419.7 223.7h0M502.2 223.1h0M470.2 225.3h0M449.2 225.5h0M507.6 223.5h0M416.4 223.2h0M449.2 222.3h0M451.4 221.7h0M430.2 223.2h0M423.4 222.6h0M497.3 224.4h0M492.3 225.1h0M457.8 224.1h0M457.4 224.1h0M470.5 222.2h0M491.6 223.3h0M417.1 223.2h0M445.8 222.0h0M456.3 223.0h0M474.3 224.9h0M454.9 224.4h0M520.8 223.8h0M457.1 225.4h0M493.9 223.3h0M446.4 223.0h0M429.9 222.2h0M418.3 221.8h0M477.0 222.0h0M507.4 224.4h0M516.4 224.0h0M484.4 222.2h0M464.9 224.6h0M510.2 224.3h0M522.9 221.8h0M525.2 222.2h0M432.5 222.4h0M508.8 224.0h0M431.5 223.9h0M523.9 222.7h0M451.1 222.9h0M440.3 223.5h0M497.7 224.8h0M442.7 224.8h0M503.8 222.8h0M480.2 223.5h0M515.8 221.8h0M458.5 224.1h0M524.8 223.1h0M479.3 225.3h0M452.5 222.1h0M457.7 222.6h0M448.8 223.9h0M451.6 223.7h0M496.5 225.1h0M479.4 225.3h0M491.6 224.9h0M499.7 224.6h0M420.5 223.0h0M447.7 222.2h0M511.6 223.7h0M484.0 225.8h0M451.0 221.9h0M428.9 224.0h0M482.6 222.4h0M424.4 223.3h0M467.8 222.6h0M465.6 224.9h0M433.9 223.4h0M524.4 221.7h0M525.8 221.9h0M472.1 225.3h0M434.6 224.5h0M449.0 223.6h0M494.3 225.1h0M428.2 221.9h0M481.0 222.7h0M434.3 223.5h0M516.0 224.0h0M519.6 223.2h0M470.7 222.5h0M499.7 223.9h0M514.4 223.1h0M463.1 225.0h0M416.0 223.0h0M490.4 222.7h0M513.7 221.9h0M524.6 222.3h0M462.2 223.3h0M418.9 222.7h0M443.1 224.5h0M423.6 221.8h0M468.2 225.6h0M435.9 221.8h0M488.9 224.6h0M524.3 222.9h0M517.3 223.5h0M478.4 225.3h0M482.3 224.6h0M495.1 224.4h0M518.2 223.2h0M449.3 222.7h0M505.9 224.9h0M428.6 224.5h0M470.4 222.4h0M505.7 225.1h0M448.6 225.6h0M481.9 224.5h0M465.0 224.3h0M458.3 222.6h0M510.5 223.4h0M485.5 222.1h0M513.7 223.2h0M461.4 223.1h0M517.5 222.4h0M516.4 222.4h0M436.7 223.6h0M511.1 224.5h0M431.1 224.0h0M493.7 222.7h0M520.5 221.7h0M495.3 224.3h0M456.5 225.7h0M421.1 222.2h0M480.4 224.6h0M483.6 225.9h0M456.6 225.3h0M475.1 224.8h0M478.8 223.1h0M440.7 223.2h0M414.5 222.5h0M464.8 222.2h0M422.9 224.1h0M457.3 223.9h0M503.8 224.5h0M497.8 221.9h0M488.2 224.9h0M424.6 222.4h0M494.4 223.5h0M473.0 225.2h0M454.8 222.2h0M505.2 221.8h0M507.8 223.1h0M416.7 222.9h0M459.0 223.4h0M414.6 222.8h0M510.0 222.8h0M429.4 224.5h0M469.1 225.2h0M426.1 223.5h0M454.8 222.9h0M508.4 222.0h0M467.3 224.4h0M427.6 224.5h0M510.3 224.8h0M513.3 223.8h0M462.4 223.4h0M423.4 222.2h0M425.5 222.3h0M431.6 223.3h0M464.3 221.8h0M511.3 221.9h0M467.7 224.5h0M514.8 223.5h0M524.5 222.6h0M478.2 225.8h0M486.8 225.4h0M422.2 222.5h0M457.6 222.6h0M482.7 225.6h0M483.9 225.7h0M479.2 224.7h0M505.3 224.4h0M459.8 224.0h0M460.5 222.1h0M498.5 222.6h0M500.9 223.1h0M442.1 223.3h0M462.3 222.6h0M502.2 223.3h0M489.2 223.6h0M452.7 224.2h0M517.2 222.4h0M496.4 221.7h0M511.6 223.8h0M466.7 222.7h0M499.5 222.5h0M447.9 222.6h0M418.2 222.4h0M470.0 224.2h0M518.2 222.0h0M478.2 223.7h0M418.4 222.8h0M424.4 223.6h0M493.8 224.6h0M447.5 225.2h0M415.0 222.8h0M478.7 225.0h0M450.9 223.6h0M429.1 222.0h0M427.4 222.7h0M495.3 223.8h0M429.6 223.1h0M515.4 221.9h0M509.2 223.7h0M489.0 225.4h0M449.7 223.5h0M494.6 225.4h0M492.5 225.0h0M437.5 221.7h0M504.1 224.4h0M507.0 224.0h0M472.5 224.0h0M465.3 221.9h0M521.0 222.7h0M425.6 222.3h0M523.7 222.7h0M477.9 223.3h0M459.3 225.3h0M484.5 222.7h0M477.3 224.1h0M414.5 222.4h0M455.2 225.6h0M445.2 223.2h0M500.8 225.1h0M515.5 221.8h0M520.8 221.9h0M487.6 222.3h0M498.2 223.3h0M498.4 224.3h0M415.2 221.9h0M431.9 223.8h0M451.7 225.7h0M520.1 222.8h0M504.7 224.1h0M442.0 222.3h0M483.9 223.4h0M501.1 224.0h0M517.8 221.9h0M453.7 225.1h0M444.5 222.1h0M453.2 222.3h0M484.6 221.9h0M431.0 222.4h0M513.2 222.8h0M495.7 224.1h0M439.3 222.0h0M425.7 224.0h0M453.1 223.8h0M440.2 221.7h0M478.2 224.1h0M487.8 222.0h0M507.9 223.7h0M452.4 224.5h0M508.8 222.0h0M418.8 223.6h0M499.8 225.1h0M496.2 222.1h0M523.1 223.3h0M429.6 223.7h0M486.8 221.8h0M458.8 223.5h0M425.5 222.3h0M444.0 222.1h0M422.1 222.7h0M446.8 221.9h0M421.5 223.8h0M485.4 222.3h0M478.2 222.5h0M445.5 223.0h0M432.7 223.7h0M477.1 223.8h0M455.3 222.8h0M455.5 224.5h0M446.1 223.7h0M462.7 225.6h0M521.7 223.0h0M418.5 223.4h0M452.6 224.8h0M469.5 222.9h0M446.5 221.7h0M469.5 223.3h0M432.0 224.4h0M481.3 224.9h0M500.0 224.3h0M496.2 225.5h0M466.3 225.6h0M463.3 225.0h0M447.5 225.0h0M450.0 222.8h0M444.8 223.5h0M442.2 222.2h0M452.6 223.8h0M517.7 223.2h0M475.1 225.0h0M456.7 222.0h0M427.7 224.2h0M430.9 221.9h0M423.4 222.7h0M482.6 222.1h0M436.6 223.9h0M484.1 221.8h0M482.4 224.2h0M493.8 223.5h0M462.7 224.5h0M497.5 223.5h0M445.0 225.2h0M478.5 224.9h0M479.3 225.9h0M436.3 223.8h0M425.8 223.3h0M451.9 224.4h0M445.5 223.9h0M501.6 222.4h0M499.7 221.8h0M519.7 222.9h0M524.1 222.5h0M444.6 224.3h0M465.9 222.9h0M460.0 225.3h0M437.9 222.1h0M417.2 222.9h0M435.6 222.6h0M497.0 221.8h0M508.0 223.0h0M498.8 224.8h0M453.8 224.8h0M481.5 223.1h0M505.6 223.0h0M425.4 222.8h0M437.3 223.5h0M476.0 224.7h0M518.7 223.2h0M421.4 222.0h0M494.1 222.1h0M509.5 222.2h0M499.5 223.2h0M483.4 222.4h0M485.9 223.7h0M492.5 222.8h0M460.7 224.9h0M498.4 224.5h0M424.3 224.3h0M467.4 223.4h0M456.8 224.4h0M507.2 221.8h0M497.4 224.0h0M455.9 223.0h0M419.1 223.5h0M466.7 225.0h0M421.8 223.1h0M439.2 224.7h0M499.1 224.8h0M438.1 224.2h0M437.6 225.0h0M453.5 222.6h0M476.4 224.6h0M502.1 224.5h0M481.4 222.9h0M487.6 223.0h0M460.1 222.3h0M511.4 224.5h0M479.8 222.8h0M504.5 225.1h0M481.0 224.8h0M514.1 222.2h0M504.3 222.1h0M484.1 225.7h0M463.4 224.8h0M441.7 222.3h0M439.8 221.8h0M446.5 224.9h0M424.2 223.5h0M479.8 222.5h0M457.6 225.4h0M459.9 224.7h0M503.7 224.6h0M472.9 223.5h0M443.8 223.2h0M429.3 223.1h0M515.5 223.7h0M520.1 222.9h0M418.3 222.4h0M516.3 223.6h0M440.3 225.3h0M478.5 223.2h0M441.2 222.1h0M504.9 223.1h0M474.6 223.0h0M418.4 223.2h0M467.7 224.3h0M520.9 222.4h0M439.3 222.1h0M517.4 222.0h0M516.2 224.1h0M452.0 224.5h0M492.0 222.0h0M509.7 222.3h0M414.6 222.6h0M422.5 223.3h0M505.8 223.5h0M417.1 222.3h0M509.7 223.9h0M505.1 222.9h0M524.3 222.3h0M470.1 224.1h0M492.9 224.7h0M450.3 222.4h0M509.5 222.5h0M443.3 221.8h0M417.4 221.9h0M451.1 222.3h0M506.1 223.2h0M526.5 221.8h0M477.2 226.0h0M512.2 222.9h0M513.8 224.6h0M431.1 223.3h0M417.8 222.0h0M460.4 221.8h0M494.0 224.9h0M474.5 222.2h0M497.1 225.0h0M482.4 221.9h0M425.8 223.7h0M499.6 222.8h0M470.3 224.4h0M524.1 223.1h0M509.3 224.1h0M490.3 223.7h0M524.9 221.9h0M492.7 224.2h0M417.5 223.2h0M477.4 225.3h0M499.5 222.1h0M459.7 225.6h0M521.6 222.7h0M436.7 223.6h0M486.6 225.3h0M496.5 221.9h0M459.5 225.5h0M430.7 222.1h0M501.5 222.2h0M442.0 224.8h0M426.7 224.0h0M436.8 225.0h0M515.4 223.0h0M512.8 223.6h0M440.6 225.0h0M494.5 221.8h0M435.7 222.6h0M526.5 222.6h0M472.3 225.6h0M489.1 224.9h0M523.3 223.1h0M439.5 224.5h0M499.9 221.8h0M456.0 222.6h0M472.6 221.8h0M432.8 223.9h0M485.9 223.0h0M492.5 223.1h0M447.2 224.4h0M425.8 222.7h0M447.9 223.2h0M446.5 224.8h0M417.1 222.5h0M454.0 222.5h0M501.2 225.3h0M521.2 222.7h0M512.9 224.2h0M511.7 223.2h0M525.3 222.8h0M516.3 223.3h0M473.2 224.5h0M445.2 222.0h0M508.8 222.0h0M435.9 221.7h0M489.6 223.7h0M427.5 222.5h0M459.4 224.9h0M431.7 224.4h0M482.6 225.2h0M414.5 222.7h0M434.3 224.4h0M460.8 224.5h0M512.3 223.5h0M524.9 223.0h0M507.7 224.6h0M417.1 222.5h0M521.8 223.3h0M486.2 223.6h0M421.9 222.7h0M513.7 223.5h0M433.7 224.7h0M415.4 221.9h0M499.7 224.4h0M440.7 223.5h0M445.3 221.9h0M512.7 224.2h0M478.3 224.1h0M472.3 224.2h0M479.7 225.9h0M514.5 223.1h0M512.6 222.1h0M479.2 222.4h0M483.7 222.5h0M499.4 225.0h0M521.1 222.8h0M510.4 222.6h0M453.1 225.6h0M508.8 222.8h0M486.7 222.3h0M484.4 222.9h0M419.6 222.4h0M466.4 222.4h0M525.5 221.9h0M518.6 221.8h0M415.7 222.0h0M436.9 224.6h0M488.0 222.2h0M477.6 222.5h0M500.7 222.3h0M466.0 225.6h0M455.9 222.3h0M493.1 224.1h0M464.8 222.4h0M488.9 225.5h0M523.7 222.0h0M504.3 225.0h0M461.8 222.8h0M521.9 222.4h0M441.5 222.6h0M464.9 224.7h0M464.7 223.5h0M437.1 223.0h0M523.2 222.1h0M425.7 222.1h0M480.7 225.5h0M418.1 222.2h0M512.8 222.0h0M480.6 223.8h0M440.6 224.4h0M434.1 222.1h0M421.4 223.8h0M436.5 222.2h0M454.7 222.5h0M466.0 222.0h0M438.2 224.2h0M477.6 225.5h0M425.2 223.4h0M467.8 223.0h0M459.1 225.3h0M525.1 222.6h0M485.4 222.0h0M418.0 222.7h0M422.4 224.1h0M427.6 222.0h0M480.2 223.7h0M488.2 224.6h0M452.5 222.6h0M470.6 222.4h0M471.2 225.2h0M426.2 223.4h0M418.0 223.1h0M492.9 224.9h0M502.1 224.2h0M484.7 223.1h0M432.3 224.7h0M519.4 222.5h0M519.2 223.1h0M435.4 222.2h0M459.1 223.4h0M445.3 223.2h0M445.9 225.6h0M424.1 223.7h0M434.0 223.2h0M444.6 224.2h0M496.0 223.4h0M479.6 224.8h0M439.1 225.2h0M524.0 222.5h0M425.6 223.5h0M486.0 223.4h0M420.4 222.1h0M427.5 222.9h0M436.6 223.4h0M495.4 224.5h0M523.7 223.2h0M443.2 222.9h0M469.5 224.5h0M493.4 222.4h0M485.2 224.8h0M485.1 225.3h0M431.7 222.1h0M433.5 222.5h0M505.8 222.3h0M422.8 223.2h0M420.9 223.6h0M491.6 222.3h0M481.0 224.9h0M466.6 224.1h0M525.8 222.4h0M512.7 221.9h0M465.4 222.6h0M507.7 224.8h0M442.5 225.4h0M503.7 222.8h0M435.0 224.8h0M490.0 224.5h0M524.3 223.1h0M477.7 224.6h0M487.0 221.7h0M428.6 221.9h0M487.9 225.7h0M493.7 223.2h0M428.5 224.0h0M448.0 224.3h0M418.7 223.1h0M443.4 225.0h0M480.0 222.7h0M512.6 223.5h0M496.6 225.5h0M469.6 224.8h0M516.0 222.4h0M452.3 225.4h0M435.5 223.6h0M498.3 224.4h0M439.5 223.5h0M468.0 223.7h0M486.5 222.0h0M437.8 222.8h0M466.3 224.3h0M434.9 221.9h0M460.4 225.4h0M450.1 224.5h0M422.6 223.1h0M426.2 222.6h0M453.6 222.7h0M429.3 223.7h0M455.6 225.4h0M436.7 224.2h0M445.8 222.1h0M454.0 225.3h0M501.3 222.3h0M418.7 222.2h0M439.9 224.6h0M461.2 224.0h0M491.6 225.4h0M422.3 222.5h0M420.5 223.1h0M461.5 223.1h0M478.4 223.4h0M486.0 222.9h0M415.4 222.9h0M422.3 223.6h0M464.3 223.1h0M492.8 222.7h0M440.8 225.2h0M434.0 224.8h0M453.2 224.3h0M492.2 222.5h0M444.7 224.2h0M429.9 221.9h0M416.3 223.1h0M505.1 225.1h0M445.2 224.0h0M456.0 225.1h0M454.2 225.3h0M490.1 222.7h0M424.4 223.0h0M521.0 223.6h0M492.5 223.4h0M474.1 225.2h0M502.2 223.0h0M497.6 224.5h0M449.9 223.2h0M498.8 223.0h0M509.8 223.7h0M469.4 224.4h0M433.7 222.7h0M493.2 223.9h0M517.3 223.7h0M435.2 222.9h0M475.7 223.3h0M417.0 222.4h0M441.1 223.4h0M463.1 223.9h0M434.3 224.2h0M515.7 223.2h0M415.1 222.3h0M476.8 223.1h0M494.8 221.8h0M490.2 222.9h0M459.8 222.1h0M424.8 223.3h0M463.1 223.7h0M449.6 224.1h0M454.7 223.7h0M521.8 221.8h0M484.8 225.3h0M524.3 222.5h0M474.0 224.8h0M445.5 223.8h0M505.5 224.0h0M420.3 223.3h0M421.8 223.7h0M444.0 223.7h0M471.7 224.7h0M467.1 223.8h0M520.0 222.5h0M483.2 225.3h0M508.9 222.5h0M523.4 221.7h0M465.0 224.8h0M491.4 223.3h0M467.9 221.8h0M517.9 223.5h0M481.5 224.7h0M481.0 221.9h0M449.2 225.0h0M494.4 223.2h0M509.7 222.8h0M518.0 223.8h0M428.0 222.6h0M439.0 225.1h0M510.8 222.4h0M414.7 222.4h0M443.9 222.3h0M512.5 222.4h0M424.4 223.8h0M466.2 222.5h0M414.4 222.2h0M446.0 222.1h0M494.5 225.1h0M486.2 225.4h0M493.8 223.5h0M418.4 222.2h0M453.1 224.2h0M467.1 223.0h0M471.1 224.1h0M517.5 223.7h0M508.9 222.6h0M471.8 225.5h0M434.1 222.1h0M484.4 222.9h0M456.6 224.2h0M510.5 222.8h0M435.3 222.5h0M508.9 222.0h0M500.9 225.4h0M476.2 224.9h0M494.9 225.0h0M516.5 223.7h0M486.4 223.2h0M428.6 222.0h0M458.5 225.2h0M460.5 224.1h0M498.2 223.3h0M516.5 224.0h0M483.7 223.6h0M519.4 222.8h0M473.9 222.0h0M477.3 224.8h0M483.5 224.2h0M526.0 222.0h0M520.7 223.8h0M457.6 223.9h0M441.5 223.6h0M511.7 224.5h0M492.3 225.6h0M433.6 224.0h0M469.8 221.8h0M421.5 222.9h0M420.7 223.3h0M431.9 223.4h0M454.4 222.3h0M483.8 222.9h0M508.0 224.4h0M461.4 224.5h0M520.3 222.9h0M499.9 222.2h0M467.8 224.6h0M497.0 224.7h0M513.0 223.9h0M482.8 225.6h0M482.0 225.7h0M465.5 223.5h0M458.7 222.3h0M420.3 221.9h0M422.6 223.6h0M503.3 224.9h0M474.6 226.0h0M512.0 224.4h0M512.3 224.6h0M433.4 222.4h0M481.5 223.9h0M453.8 224.6h0M470.4 223.9h0M472.1 222.4h0M509.0 221.8h0M447.5 224.4h0M464.9 223.3h0M437.0 224.3h0M523.5 223.4h0M494.0 223.4h0M523.5 223.3h0M463.1 225.7h0M501.8 221.9h0M503.2 224.9h0M446.7 225.2h0M431.5 224.1h0M483.7 221.9h0M498.3 225.0h0M522.9 222.0h0M462.5 224.8h0M483.3 225.0h0M431.3 224.8h0M426.9 224.4h0M479.9 222.3h0M417.4 222.9h0M493.2 224.5h0M429.2 222.6h0M429.5 224.2h0M508.3 223.6h0M461.7 225.9h0M454.7 221.8h0M488.7 223.8h0M427.0 222.9h0M517.1 223.4h0M465.6 224.2h0M475.5 223.1h0M429.7 222.6h0M444.8 225.2h0M470.2 223.6h0M414.6 222.5h0M443.0 224.7h0M480.6 225.6h0M470.9 225.7h0M460.7 222.6h0M524.6 222.0h0M433.9 222.4h0M462.2 223.8h0M437.6 223.8h0M519.0 223.0h0M483.6 223.1h0M454.8 223.4h0M495.4 224.5h0M508.5 223.6h0M468.7 224.2h0M525.3 222.3h0M500.8 224.8h0M467.4 222.3h0M518.2 222.8h0M414.9 222.8h0M468.5 221.7h0M511.9 224.1h0M423.0 222.9h0M504.4 224.6h0M449.4 223.2h0M501.3 223.8h0M517.6 223.8h0M434.8 224.9h0M483.7 224.8h0M463.8 221.7h0M420.7 222.1h0M499.6 222.2h0M488.2 221.8h0M498.2 222.0h0M425.7 221.7h0M416.8 222.4h0M440.1 223.2h0M432.7 221.9h0M499.7 222.3h0M467.7 222.9h0M423.7 222.8h0M526.2 222.5h0M498.1 224.3h0M436.5 224.9h0M425.6 224.1h0M482.3 222.0h0M442.2 223.4h0M440.1 224.0h0M491.4 225.6h0M501.0 222.0h0M462.6 222.0h0M415.7 223.0h0M478.4 221.8h0M440.2 225.1h0M490.7 225.7h0M425.3 223.7h0M448.9 223.1h0M449.7 224.7h0M417.4 222.8h0M491.4 224.7h0M480.5 225.6h0M484.5 223.3h0M514.7 223.7h0M499.0 222.0h0M512.5 224.6h0M424.8 222.1h0M460.7 225.8h0M486.9 223.5h0M474.9 222.2h0M514.4 222.4h0M492.0 223.8h0M442.6 224.9h0M512.9 222.9h0M490.6 223.2h0M421.1 223.1h0M449.5 224.1h0M490.9 223.3h0M506.8 222.6h0M457.7 224.5h0M424.9 223.4h0M476.8 225.3h0M492.1 224.5h0M503.6 224.2h0M455.6 222.2h0M514.1 224.3h0M459.4 224.3h0M520.8 221.9h0M520.0 223.9h0M421.0 222.0h0M442.1 222.0h0M433.3 224.3h0M488.5 222.1h0M461.2 225.1h0M446.7 223.9h0M457.7 222.5h0M517.6 222.2h0M478.9 224.2h0M492.9 224.2h0M489.7 225.7h0M526.1 222.5h0M455.8 225.4h0M496.7 225.3h0M450.7 221.9h0M463.1 223.6h0M474.5 225.8h0M506.6 224.5h0M493.5 222.5h0M441.7 223.6h0M452.7 224.4h0M452.2 222.3h0M426.0 222.1h0M434.7 223.6h0M495.0 223.8h0M460.5 223.8h0M448.6 223.8h0M464.1 225.8h0M514.6 222.7h0M456.5 223.3h0M473.7 222.5h0M512.8 222.6h0M423.1 223.9h0M478.5 222.1h0M476.6 224.3h0M456.9 222.4h0M499.6 221.7h0M487.2 225.5h0M512.7 224.4h0M441.7 223.3h0M466.8 223.8h0M459.6 224.4h0M489.5 224.9h0M444.2 223.4h0M417.5 221.7h0M437.7 222.4h0M456.4 222.8h0M414.9 222.6h0M437.6 225.2h0M446.5 223.8h0M420.2 222.5h0M505.2 224.3h0M509.2 223.0h0M448.3 221.8h0M420.8 223.2h0M461.4 224.5h0M444.0 223.1h0M455.2 223.8h0M454.7 222.7h0M465.9 223.3h0M459.8 225.1h0M501.1 222.8h0M512.3 223.4h0M487.9 222.7h0M470.4 222.6h0M477.3 224.5h0M482.0 223.1h0M425.6 224.0h0M504.6 222.6h0M524.6 221.9h0M490.6 224.6h0M426.8 222.7h0M491.0 222.1h0M415.3 221.7h0M424.4 223.4h0M457.4 224.8h0M475.1 224.5h0M454.4 225.7h0M438.5 222.1h0M508.8 224.5h0M419.1 223.2h0M496.4 222.5h0M456.3 224.7h0M505.2 224.0h0M421.7 221.8h0M451.1 222.8h0M489.8 223.1h0M497.8 223.8h0M476.5 225.7h0M451.6 222.1h0M484.2 225.3h0M460.4 225.0h0M460.1 223.7h0M482.1 224.5h0M461.3 225.6h0M469.4 225.0h0M418.4 223.6h0M507.5 222.5h0M492.8 223.2h0M421.5 222.9h0M466.6 224.7h0M479.1 225.7h0M469.8 222.2h0M428.6 224.5h0M488.2 224.9h0M452.0 223.1h0M431.6 223.1h0M502.2 224.1h0M500.1 221.7h0M500.9 224.4h0M467.3 222.3h0M481.4 223.5h0M488.2 224.9h0M467.1 222.9h0M498.3 223.8h0M433.1 222.3h0M499.7 221.7h0M510.6 223.4h0M496.9 224.0h0M452.7 221.8h0M433.6 223.4h0M466.2 223.9h0M461.3 221.9h0M469.4 225.5h0M469.9 223.0h0M455.0 225.6h0M418.5 222.5h0M480.1 225.6h0M491.0 222.2h0M423.5 221.9h0M468.1 224.7h0M496.8 224.1h0M453.6 223.9h0M424.2 222.0h0M418.6 221.8h0M503.8 222.7h0M504.1 223.8h0M428.2 221.8h0M415.1 222.9h0M454.4 223.0h0M490.8 223.4h0M492.3 222.9h0M466.7 225.4h0M434.1 222.4h0M431.5 222.0h0M521.9 223.0h0M420.6 222.1h0M470.5 223.6h0M507.9 221.8h0M433.2 223.2h0M430.7 222.2h0M451.3 222.2h0M430.3 221.7h0M423.0 222.8h0M441.9 224.5h0M480.3 225.2h0M492.1 225.1h0M439.1 222.7h0M496.4 223.6h0M430.6 221.7h0M437.7 224.3h0M490.8 224.6h0M427.5 223.3h0M419.9 223.6h0M502.6 224.1h0M425.8 222.7h0M455.7 221.9h0M454.0 224.7h0M465.1 225.9h0M488.7 224.2h0M437.3 224.3h0M482.0 224.0h0M523.4 222.7h0M517.2 222.0h0M447.7 224.2h0M493.2 225.2h0M490.3 221.8h0M509.3 224.6h0M483.9 224.0h0M462.4 222.5h0M486.6 225.6h0M454.4 224.6h0M420.7 221.9h0M422.8 222.9h0M437.4 222.3h0M463.8 223.3h0M479.0 223.2h0M422.6 223.5h0M431.9 224.6h0M455.4 224.6h0M478.7 222.0h0M489.0 224.8h0M485.6 225.3h0M514.7 224.3h0M446.8 223.7h0M524.4 222.9h0M462.0 225.1h0M468.3 224.9h0M502.6 224.3h0M448.4 223.1h0M470.9 225.6h0M492.0 225.5h0M417.7 223.2h0M417.3 222.8h0M500.3 224.7h0M523.1 222.3h0M422.5 222.6h0M472.0 221.9h0M516.7 224.0h0M456.9 223.6h0M477.9 223.9h0M518.4 223.0h0M420.5 222.2h0M451.2 223.2h0M484.9 223.2h0M433.2 223.8h0M429.7 223.5h0M449.7 225.3h0M518.2 222.6h0M435.6 224.4h0M521.7 223.2h0M515.0 223.2h0M518.1 224.0h0M456.8 222.1h0M433.6 222.8h0M499.9 224.5h0M467.6 223.5h0M456.8 225.6h0M451.2 224.7h0M488.2 222.4h0M497.1 221.8h0M456.1 224.2h0M480.6 224.5h0M504.8 221.8h0M501.7 223.0h0M448.4 223.0h0M428.0 222.4h0M432.3 223.0h0M476.4 222.4h0M522.0 222.7h0M500.1 224.1h0M439.8 225.2h0M462.3 223.6h0M514.4 224.4h0M427.7 221.9h0M518.2 222.5h0M420.2 221.9h0M471.4 224.8h0M491.7 225.6h0M497.0 223.0h0M464.2 223.9h0M526.1 222.5h0M452.1 224.2h0M489.5 222.4h0M454.9 223.2h0M440.9 223.5h0M510.4 222.3h0M471.8 219.0h0M448.4 217.8h0M445.9 212.3h0M458.1 217.2h0M446.3 212.5h0M457.0 207.2h0M471.6 221.4h0M462.4 221.1h0M459.6 217.0h0M452.9 213.1h0M457.9 214.3h0M470.9 210.9h0M450.6 202.2h0M471.9 206.3h0M464.9 215.3h0M454.6 204.1h0M453.6 202.0h0M453.2 207.3h0M466.6 214.1h0M469.3 219.9h0M468.4 208.0h0M445.0 220.2h0M476.7 201.4h0M463.4 211.0h0M449.5 202.8h0M462.7 211.1h0M449.6 221.1h0M451.9 220.4h0M464.6 198.4h0M460.7 220.7h0M460.9 220.5h0M458.4 217.8h0M457.0 215.1h0M454.9 208.1h0M473.6 207.4h0M448.3 203.6h0M444.2 205.4h0M459.6 219.8h0M465.5 210.6h0M455.3 208.1h0M475.8 207.5h0M449.9 197.0h0M460.2 221.4h0M466.9 209.0h0M466.0 205.9h0M464.4 203.0h0M467.8 201.1h0M475.8 204.5h0M449.8 213.0h0M460.6 220.5h0M453.4 205.6h0M445.0 201.1h0M459.9 220.6h0M447.9 196.8h0M468.2 202.7h0M449.7 208.0h0M442.8 214.7h0M467.2 193.1h0M453.0 204.3h0M476.8 206.7h0M460.2 221.5h0M456.8 206.7h0M466.8 212.3h0M465.4 197.8h0M473.1 200.5h0M463.9 212.6h0M448.5 204.5h0M451.8 208.0h0M460.1 220.3h0M472.8 213.4h0M458.0 218.4h0M475.6 202.0h0M462.7 214.0h0M463.0 214.1h0M477.4 218.7h0M463.6 215.4h0M462.5 214.0h0M468.4 204.5h0M456.7 214.4h0M467.8 205.9h0M465.9 193.4h0M470.1 208.9h0M446.7 200.8h0M476.8 216.3h0M457.9 212.4h0M476.1 197.8h0M474.5 197.7h0M471.2 206.4h0M463.2 213.7h0M449.8 217.0h0M469.8 204.4h0M473.1 199.0h0M461.6 220.4h0M454.6 212.6h0M447.1 194.3h0M461.3 220.7h0M458.0 219.5h0M469.7 203.6h0M470.5 212.6h0M468.5 202.8h0M444.8 221.2h0M461.3 221.5h0M475.2 219.3h0M452.3 221.3h0M459.2 220.8h0M467.6 220.6h0M458.1 213.1h0M477.2 201.1h0M465.5 214.1h0M452.5 201.0h0M458.1 220.6h0M455.6 220.6h0M452.7 215.9h0M474.2 217.5h0M469.0 212.7h0M446.7 201.5h0M465.0 215.6h0M443.1 193.8h0M448.7 220.1h0M446.0 194.3h0M459.2 215.1h0M459.7 220.6h0M465.8 217.6h0M451.9 213.3h0M450.6 210.9h0M443.4 204.1h0M445.0 206.7h0M450.1 202.1h0M453.3 210.6h0M449.2 206.0h0M477.1 211.9h0M466.4 203.6h0M442.7 198.3h0M471.9 221.4h0M453.3 221.6h0M455.8 216.7h0M463.7 208.8h0M451.2 196.8h0M461.8 220.7h0M460.1 221.1h0M459.4 217.8h0M465.0 206.3h0M457.1 219.1h0M473.2 203.5h0M448.5 193.7h0M467.8 216.8h0M465.7 211.4h0M476.4 195.6h0M454.2 221.0h0M463.4 216.9h0M458.2 213.9h0M456.9 215.2h0M467.4 211.4h0M473.5 214.8h0M451.0 210.6h0M454.4 203.3h0M447.7 201.8h0M449.9 211.3h0M454.8 218.7h0M448.5 205.3h0M462.7 213.5h0M460.9 219.9h0M469.2 202.8h0M473.1 216.5h0M468.6 201.1h0M457.9 219.0h0M460.9 220.6h0M454.7 212.0h0M468.4 199.8h0M448.3 201.5h0M453.6 204.9h0M472.5 201.9h0M469.5 221.0h0M474.0 204.3h0M472.4 200.7h0M448.9 196.2h0M473.6 214.4h0M477.5 220.0h0M444.1 210.1h0M454.8 220.0h0M451.0 219.7h0M449.4 209.7h0M450.9 196.4h0M447.6 201.5h0M444.2 202.7h0M464.6 205.2h0M462.4 215.3h0M473.1 206.6h0M445.5 193.6h0M462.4 219.6h0M477.1 218.5h0M461.2 220.3h0M454.9 209.9h0M473.0 218.6h0M475.1 209.6h0M472.7 215.5h0M476.0 209.6h0M443.2 201.8h0M455.7 208.4h0M458.8 213.9h0M459.0 215.7h0M443.2 208.0h0M449.4 200.9h0M451.8 204.1h0M452.1 208.0h0M463.5 207.1h0M466.6 215.3h0M449.3 192.0h0M460.4 220.1h0M449.0 204.6h0M448.9 196.5h0M457.4 208.4h0M472.4 216.2h0M453.2 216.4h0M467.8 205.1h0M445.0 197.0h0M468.9 204.0h0M476.3 200.9h0M447.9 210.4h0M456.7 207.5h0M449.9 204.9h0M444.7 204.9h0M463.8 221.0h0M472.7 209.2h0M471.0 215.6h0M453.8 216.0h0M472.1 220.2h0M455.8 219.0h0M457.4 207.9h0M454.5 215.6h0M443.4 220.9h0M475.5 206.9h0M459.0 212.6h0M448.7 196.5h0M450.9 219.4h0M458.4 209.3h0M459.3 219.9h0M460.8 221.1h0M472.6 208.1h0M465.7 219.7h0M468.3 206.0h0M477.3 216.0h0M457.1 205.4h0M454.3 221.3h0M465.2 215.2h0M466.4 210.0h0M468.4 203.8h0M459.0 220.0h0M454.2 218.2h0M465.9 210.8h0M452.3 201.3h0M443.8 219.3h0M449.9 203.2h0M452.7 218.2h0M465.8 197.5h0M476.6 197.4h0M476.2 211.1h0M445.1 212.9h0M470.4 214.9h0M467.2 195.7h0M462.6 221.1h0M444.7 199.3h0M473.0 198.9h0M463.4 205.9h0M456.7 206.0h0M475.4 218.3h0M451.2 197.9h0M468.5 202.5h0M468.2 217.8h0M459.8 218.9h0M463.7 209.0h0M445.5 200.0h0M453.8 211.3h0M462.4 215.1h0M448.6 207.2h0M442.8 202.0h0M462.9 210.7h0M456.4 204.2h0M446.2 221.1h0M464.4 217.8h0M452.9 218.9h0M443.6 211.4h0M465.6 203.5h0M453.8 212.3h0M445.2 204.4h0M458.1 217.4h0M463.9 201.7h0M453.1 217.3h0M453.5 207.1h0M462.2 216.2h0M458.0 210.7h0M469.6 215.9h0M455.6 217.5h0M462.8 218.8h0M474.4 215.7h0M451.2 211.4h0M446.3 219.6h0M473.8 216.5h0M446.2 199.7h0M475.8 194.8h0M467.8 200.1h0M470.9 202.3h0M472.5 201.0h0M472.8 208.9h0M476.8 203.5h0M456.2 206.8h0M452.6 205.0h0M454.1 212.8h0M458.8 215.2h0M475.9 202.0h0M457.7 213.0h0M443.0 221.0h0M448.9 206.1h0M444.1 220.7h0M445.5 192.8h0M464.2 217.4h0M463.0 219.5h0M464.2 209.0h0M464.3 217.3h0M446.4 204.8h0M463.3 217.6h0M451.9 198.7h0M469.9 221.3h0M465.2 215.6h0M454.7 215.6h0M468.0 203.1h0M463.7 216.2h0M461.3 220.9h0M450.1 207.5h0M470.7 212.4h0M449.5 211.2h0M447.0 209.3h0M454.6 208.0h0M463.2 211.6h0M443.5 217.1h0M463.1 213.2h0M476.3 197.8h0M469.5 201.8h0M445.6 216.1h0M471.9 211.7h0M454.0 210.5h0M462.6 216.2h0M476.8 212.1h0M466.2 196.2h0M465.3 203.5h0M465.7 221.2h0M471.7 208.5h0M470.6 218.4h0M456.8 205.6h0M457.4 214.1h0M466.4 196.5h0M442.8 199.2h0M459.4 217.4h0M461.4 219.9h0M445.4 194.0h0M468.4 214.8h0M445.6 205.8h0M470.8 209.1h0M462.0 218.7h0M467.2 220.2h0M473.4 221.7h0M456.3 204.3h0M455.3 214.7h0M463.1 219.6h0M476.1 205.2h0M452.6 204.3h0M454.7 220.4h0M459.1 219.7h0M458.3 220.5h0M453.5 221.1h0M457.5 213.7h0M443.6 201.6h0M477.1 217.3h0M473.7 216.2h0M453.6 201.0h0M461.4 221.0h0M451.6 218.4h0M453.2 214.6h0M466.8 210.1h0M461.7 221.1h0M451.1 207.1h0M477.3 202.9h0M453.9 217.9h0M471.7 216.6h0M447.0 213.5h0M456.6 208.0h0M473.0 217.3h0M474.0 211.3h0M465.2 198.4h0M458.5 213.1h0M454.8 208.6h0M456.0 220.3h0M454.8 220.0h0M475.7 208.8h0M443.9 221.4h0M470.4 208.4h0M458.9 213.2h0M470.4 218.4h0M456.4 203.7h0M459.8 217.9h0M463.3 208.1h0M460.0 221.4h0M468.2 212.4h0M443.6 217.7h0M468.5 209.6h0M476.1 199.8h0M460.8 220.0h0M453.7 221.4h0M467.5 208.9h0M471.5 205.2h0M453.0 209.1h0M459.7 218.6h0M464.5 213.8h0M454.8 210.8h0M450.4 215.0h0M451.6 196.5h0M472.2 220.8h0M455.4 208.8h0M458.8 215.6h0M454.5 213.1h0M459.8 220.6h0M458.6 218.8h0M471.8 213.7h0M466.9 221.6h0M454.3 214.5h0M471.5 206.3h0M447.8 211.3h0M469.5 208.4h0M475.9 221.5h0M463.6 209.3h0M476.1 213.9h0M472.7 219.9h0M443.3 193.2h0M461.5 220.4h0M449.9 201.1h0M474.3 208.7h0M469.4 207.7h0M475.8 209.7h0M450.0 214.0h0M474.0 201.3h0M463.6 204.4h0M446.8 212.0h0M460.8 221.1h0M461.9 221.5h0M467.6 218.1h0M463.9 212.6h0M462.2 216.4h0M465.6 217.2h0M457.1 212.5h0M452.0 202.0h0M450.6 195.3h0M468.7 207.5h0M470.7 207.9h0M447.2 218.3h0M455.2 217.5h0M459.3 214.9h0M455.5 213.9h0M467.3 194.6h0M474.8 205.6h0M469.2 198.9h0M469.5 214.3h0M455.7 217.1h0M460.3 220.9h0M442.8 204.4h0M447.2 199.4h0M477.0 215.2h0M453.0 218.3h0M471.5 211.6h0M473.9 214.4h0M458.0 212.2h0M477.2 196.2h0M454.9 205.9h0M471.9 220.7h0M469.9 211.5h0M476.4 221.4h0M474.9 215.5h0M471.4 208.1h0M450.8 202.8h0M453.1 201.2h0M457.5 213.0h0M473.7 219.7h0M463.1 210.7h0M445.0 198.5h0M464.6 217.4h0M466.4 218.5h0M456.0 204.2h0M471.8 211.0h0M475.0 196.6h0M468.2 205.2h0M445.9 216.3h0M456.4 208.5h0M444.4 198.9h0M450.3 205.9h0M467.9 208.6h0M464.1 202.2h0M476.1 208.2h0M453.7 220.9h0M456.6 221.1h0M451.9 219.5h0M458.1 217.7h0M471.7 204.5h0M469.9 205.3h0M452.8 202.6h0M467.5 213.8h0M453.1 204.9h0M445.7 201.6h0M471.7 214.2h0M459.9 219.9h0M457.9 215.5h0M461.8 219.8h0M445.8 215.6h0M474.0 219.9h0M446.0 215.2h0M472.6 214.4h0M476.7 205.6h0M443.8 217.1h0M461.8 220.4h0M477.3 220.4h0M471.7 206.6h0M449.7 195.2h0M471.8 219.8h0M464.0 210.5h0M466.6 221.6h0M444.5 195.4h0M450.0 202.8h0M462.5 214.7h0M476.4 220.6h0M475.2 199.3h0M458.9 217.1h0M458.8 212.0h0M448.8 195.4h0M445.6 201.2h0M477.1 216.4h0M450.8 214.8h0M474.3 194.6h0M472.8 209.5h0M447.5 202.1h0M461.4 220.5h0M447.6 199.5h0M453.8 200.6h0M443.5 197.0h0M449.8 209.4h0M460.8 220.5h0M464.5 197.6h0M471.5 214.0h0M472.7 217.2h0M471.7 208.0h0M448.5 219.0h0M472.6 205.7h0M460.8 221.0h0M448.1 196.0h0M442.6 218.5h0M455.4 210.7h0M464.2 213.4h0M459.9 221.0h0M447.6 205.4h0M454.7 219.0h0M461.3 221.1h0M449.3 214.7h0M454.7 203.8h0M452.5 208.1h0M456.2 207.7h0M444.8 214.0h0M447.0 214.4h0M445.3 219.8h0M465.1 210.6h0M466.0 194.9h0M462.2 219.6h0M467.0 195.1h0M468.8 219.6h0M445.4 198.7h0M464.8 204.4h0M465.1 214.7h0M447.2 217.1h0M451.8 211.2h0M448.0 217.2h0M450.3 204.8h0M470.3 205.6h0M469.9 213.2h0M458.6 210.0h0M447.3 200.6h0M451.3 201.8h0M469.5 204.3h0M460.1 220.3h0M448.3 220.6h0M473.5 203.3h0M455.5 204.1h0M464.9 202.5h0M467.4 211.2h0M466.6 209.4h0M447.7 209.8h0M447.7 218.6h0M458.3 214.7h0M454.2 213.7h0M466.6 211.5h0M448.0 213.3h0M449.7 196.6h0M455.1 204.2h0M462.0 220.6h0M447.1 214.3h0M460.4 220.5h0M456.1 219.3h0M464.0 221.7h0M475.2 206.2h0M475.9 214.1h0M468.7 214.6h0M466.1 221.6h0M461.6 221.6h0M452.2 199.3h0M452.8 210.1h0M474.3 197.3h0M452.4 211.6h0M450.6 219.9h0M472.2 217.7h0M471.0 216.5h0M446.4 212.7h0M461.2 221.5h0M457.1 204.7h0M459.5 217.1h0M443.1 219.6h0M456.5 205.6h0M453.7 203.8h0M465.3 216.7h0M449.1 208.7h0M451.0 207.4h0M454.6 219.2h0M465.3 216.1h0M454.9 204.2h0M465.9 218.9h0M453.0 207.1h0M448.0 205.3h0M461.8 220.8h0M446.1 211.6h0M476.8 205.3h0M446.3 220.3h0M448.6 206.4h0M442.7 213.8h0M454.0 200.2h0M454.7 206.2h0M460.3 220.3h0M465.5 211.0h0M453.8 209.4h0M447.8 210.2h0M464.7 199.6h0M456.4 205.5h0M454.5 208.5h0M456.7 214.5h0M477.0 214.6h0M459.1 215.3h0M464.0 210.5h0M447.8 214.1h0M468.1 204.2h0M443.6 210.2h0M463.0 208.8h0M472.4 208.1h0M476.0 208.0h0M463.5 217.8h0M443.2 220.2h0M454.2 214.8h0M470.6 215.1h0M477.3 215.9h0M459.4 216.2h0M444.5 197.6h0M449.0 206.4h0M477.1 205.1h0M444.6 194.8h0M451.2 211.1h0M448.0 208.5h0M472.1 219.9h0M446.5 213.0h0M476.7 220.5h0M475.1 208.3h0M475.2 203.0h0M466.4 196.7h0M477.3 204.7h0M464.8 220.6h0M455.9 218.6h0M468.2 221.7h0M446.9 214.0h0M448.9 221.4h0M446.0 219.0h0M448.3 219.6h0M461.7 220.7h0M476.2 215.7h0M467.9 208.9h0M447.2 207.1h0M459.1 213.6h0M473.1 197.7h0M445.3 212.7h0M455.4 211.1h0M455.8 211.4h0M476.1 204.1h0M474.2 207.9h0M444.3 219.1h0M462.3 216.5h0M462.6 213.5h0M471.2 216.2h0M445.3 202.8h0M446.1 201.2h0M458.3 216.5h0M449.7 220.9h0M452.6 213.4h0M465.3 194.9h0M456.6 218.7h0M450.7 196.3h0M443.7 197.3h0M452.2 200.2h0M471.9 209.5h0M462.0 219.3h0M462.7 214.8h0M468.9 218.7h0M465.9 211.4h0M468.9 209.1h0M470.5 211.8h0M463.0 213.2h0M466.0 196.0h0M454.7 205.1h0M449.7 193.8h0M459.1 216.5h0M467.4 216.4h0M448.2 192.1h0M468.8 207.2h0M453.5 220.3h0M465.2 209.9h0M447.1 195.8h0M461.1 220.8h0M456.7 214.9h0M464.2 203.8h0M476.8 206.8h0M468.6 212.6h0M473.3 200.8h0M466.5 210.7h0M462.3 217.0h0M466.3 203.0h0M457.6 218.3h0M471.2 207.4h0M443.3 195.3h0M458.8 220.0h0M462.4 217.2h0M464.9 202.5h0M452.3 218.4h0M449.4 220.3h0M476.4 203.6h0M455.8 221.0h0M468.1 212.5h0M465.7 202.8h0M466.0 205.2h0M455.6 209.4h0M465.1 196.3h0M458.5 215.2h0M474.0 198.3h0M455.2 209.5h0M464.1 210.4h0M467.5 206.7h0M449.0 213.7h0M457.6 206.8h0M463.0 221.1h0M452.3 198.0h0M451.2 202.0h0M463.4 221.5h0M463.6 218.0h0M442.9 208.7h0M450.1 209.2h0M447.8 213.1h0M471.7 216.5h0M448.4 205.7h0M473.9 209.1h0M452.5 202.3h0M469.8 205.6h0M468.8 218.0h0M445.4 207.2h0M471.1 213.8h0M459.4 215.1h0M463.3 218.9h0M449.7 200.8h0M464.2 203.2h0M452.2 198.7h0M452.2 217.0h0M453.0 200.4h0M471.7 212.1h0M457.9 209.4h0M463.1 214.2h0M466.7 200.6h0M455.0 207.8h0M468.9 211.9h0M474.5 215.0h0M463.5 215.2h0M448.3 194.7h0M453.8 212.0h0M462.9 214.9h0M469.0 212.2h0M450.9 210.4h0M453.3 220.9h0M461.5 220.4h0M468.5 206.0h0M458.7 209.5h0M465.0 205.5h0M464.7 199.3h0M455.3 204.4h0M458.2 221.7h0M460.1 221.5h0M446.8 213.0h0M463.4 204.6h0M445.8 194.7h0M468.5 206.2h0M466.9 215.8h0M477.1 214.2h0M452.5 199.6h0M473.8 213.2h0M471.2 212.0h0M445.0 211.2h0M472.1 217.6h0M463.1 212.7h0M448.2 206.6h0M464.3 209.7h0M445.5 218.2h0M475.0 212.6h0M442.7 213.1h0M457.9 209.3h0M472.5 213.6h0M452.8 209.9h0M462.0 218.2h0M451.5 203.7h0M456.3 220.9h0M466.7 214.2h0M453.4 202.0h0M445.0 198.2h0M458.6 219.1h0M467.1 207.7h0M466.9 218.5h0M476.2 197.8h0M474.4 208.9h0M463.6 205.5h0M458.5 209.9h0M456.7 213.6h0M448.4 197.8h0M457.3 210.2h0M474.4 217.4h0M453.6 212.1h0M470.6 216.8h0M461.5 221.1h0M474.2 203.6h0M472.7 202.8h0M467.9 214.3h0M449.5 205.7h0M446.1 214.8h0M463.5 214.0h0M467.5 212.7h0M449.0 218.0h0M455.9 206.5h0M475.4 210.2h0M448.2 192.8h0M470.8 220.0h0M471.2 206.0h0M469.4 218.3h0M447.7 203.8h0M475.1 205.3h0M459.5 217.0h0M451.2 195.3h0M450.3 220.2h0M445.8 218.2h0M467.8 202.3h0M476.1 202.0h0M470.6 205.9h0M466.2 211.7h0M469.9 221.3h0M452.4 221.1h0M460.3 221.7h0M457.1 214.7h0M446.4 218.7h0M466.7 203.4h0M446.9 205.7h0M458.6 220.1h0M445.1 209.2h0M470.1 203.1h0M469.0 217.6h0M460.9 220.5h0M472.9 201.9h0M468.3 214.5h0M460.1 219.9h0M443.7 201.6h0M454.9 206.4h0M445.7 214.0h0M466.1 195.1h0M452.0 199.5h0M455.3 208.1h0M474.8 209.3h0M475.7 208.3h0M455.2 217.4h0M459.2 218.4h0M470.9 219.6h0M451.6 200.6h0M463.4 217.7h0M447.6 200.7h0M473.4 205.8h0M470.4 220.5h0M459.8 219.8h0M443.0 194.2h0M473.7 218.3h0M444.7 202.6h0M448.2 212.9h0M470.8 205.4h0M450.6 214.2h0M446.8 209.8h0M476.5 219.7h0M448.0 201.6h0M445.9 202.3h0M443.1 207.1h0M477.2 205.3h0M453.2 214.6h0M445.3 211.7h0M470.8 205.8h0M448.7 201.8h0M446.7 215.3h0M466.7 200.6h0M445.8 204.3h0M475.0 202.2h0M472.0 206.8h0M467.3 210.4h0M460.7 220.4h0M464.3 219.0h0M477.0 195.1h0M465.0 214.0h0M464.3 201.6h0M464.3 212.7h0M460.4 221.3h0M465.6 214.1h0M448.1 220.9h0M456.4 215.3h0M470.0 205.0h0M454.7 202.0h0M454.9 217.2h0M444.4 212.8h0M454.2 211.1h0M443.3 216.2h0M447.6 210.2h0M444.3 193.7h0M471.2 211.8h0M451.2 213.6h0M475.9 209.3h0M452.0 221.5h0M467.7 220.8h0M473.9 211.7h0M450.5 219.3h0M472.1 216.2h0M472.2 200.2h0M449.6 212.2h0M464.1 215.7h0M470.6 217.8h0M476.6 205.2h0M474.9 197.7h0M446.3 195.9h0M466.5 200.7h0M453.4 219.8h0M470.4 213.0h0M442.6 210.0h0M465.6 200.0h0M463.3 206.6h0M472.7 216.7h0M442.8 213.3h0M463.6 207.2h0M459.7 219.4h0M448.4 204.4h0M442.7 210.8h0M443.8 208.4h0M464.1 208.2h0M471.2 203.6h0M470.3 202.2h0M453.2 209.0h0M450.8 207.1h0M459.6 217.5h0M471.8 218.7h0M471.8 211.7h0M453.2 203.1h0M472.4 205.8h0M449.3 220.7h0M465.3 195.0h0M454.3 217.4h0M452.8 214.5h0M451.1 218.2h0M442.6 204.4h0M451.4 203.5h0M452.7 201.2h0M471.0 212.1h0M456.3 215.4h0M470.3 218.9h0M448.7 199.8h0M454.8 210.9h0M474.0 219.6h0M464.5 218.9h0M468.3 219.9h0M462.8 218.0h0M451.1 213.4h0M470.1 207.8h0M468.1 216.7h0M455.1 215.6h0M462.9 211.1h0M476.2 203.0h0M473.2 220.5h0M455.3 221.1h0M462.8 218.6h0M466.7 198.8h0M472.6 211.0h0M464.9 204.9h0M449.0 198.6h0M442.5 221.2h0M454.1 201.9h0M469.2 203.4h0M470.4 219.1h0M470.7 215.4h0M458.6 209.4h0M465.5 208.7h0M467.0 210.6h0M458.2 215.7h0M475.0 194.0h0M459.5 215.6h0M456.2 203.7h0M458.9 212.9h0M445.6 201.3h0M451.0 208.1h0M452.5 215.5h0M460.6 221.2h0M468.6 219.3h0M471.2 218.7h0M445.7 220.1h0M462.8 212.6h0M475.6 202.4h0M447.4 205.7h0M473.8 221.5h0M474.8 205.8h0M457.1 216.4h0M474.3 208.2h0M456.8 208.9h0M443.3 212.9h0M442.9 199.0h0M464.7 216.1h0M472.9 219.9h0M466.4 211.3h0M453.8 207.6h0M468.2 197.3h0M449.1 221.2h0M468.2 217.3h0M450.1 218.0h0M473.3 213.4h0M457.1 205.0h0M452.1 198.0h0M466.7 218.1h0M444.3 199.1h0M448.7 198.7h0M472.4 214.4h0M475.6 206.9h0M451.1 213.9h0M446.6 205.2h0M444.7 193.0h0M456.5 216.3h0M466.2 212.9h0M469.6 211.2h0M469.9 201.2h0M445.8 212.5h0M456.1 221.4h0M452.4 204.7h0M445.6 211.4h0M469.4 221.0h0M447.2 197.9h0M466.2 218.2h0M462.8 218.8h0M462.0 221.6h0M466.8 214.4h0M469.4 201.3h0M468.1 215.2h0M462.2 218.4h0M466.9 217.6h0M463.5 220.9h0M452.9 199.1h0M448.7 197.9h0M457.2 208.4h0M462.7 212.6h0M477.1 197.7h0M447.7 221.2h0M444.0 203.3h0M443.2 215.9h0M471.3 209.5h0M445.5 216.3h0M461.7 220.6h0M461.2 220.7h0M463.1 210.2h0M449.0 214.1h0M465.6 210.4h0M448.8 216.4h0M469.0 215.2h0M446.7 213.0h0M477.2 211.1h0M456.4 219.5h0M462.4 221.2h0M457.3 221.0h0M459.9 220.5h0M460.9 219.9h0M461.0 221.0h0M443.4 200.0h0M458.8 220.1h0M474.1 211.9h0M447.8 199.5h0M465.4 195.7h0M461.8 221.2h0M464.9 207.3h0M475.7 200.5h0M450.9 221.6h0M453.8 202.8h0M465.2 209.5h0M476.9 209.9h0M443.5 219.5h0M451.2 199.5h0M455.0 220.8h0M473.2 219.2h0M471.3 213.0h0M471.3 209.5h0M444.5 195.1h0M472.3 213.3h0M456.3 216.0h0M444.5 220.7h0M470.3 218.9h0M444.7 200.9h0M476.6 196.9h0M449.1 211.1h0M455.1 212.4h0M460.1 221.4h0M476.5 208.2h0M454.7 217.4h0M451.6 200.7h0M445.3 200.6h0M445.4 204.1h0M473.6 201.3h0M453.3 212.2h0M446.0 215.0h0M469.2 205.1h0M468.8 216.5h0M444.3 214.2h0M464.2 220.8h0M446.3 217.8h0M463.0 211.9h0M465.1 205.8h0M473.1 211.9h0M462.5 220.3h0M466.9 214.9h0M444.0 204.2h0M469.4 211.7h0M453.1 220.7h0M443.9 199.5h0M445.2 216.0h0M468.3 213.6h0M465.2 211.9h0M452.4 200.7h0M454.8 215.8h0M471.5 212.8h0M469.4 198.5h0M457.2 215.1h0M459.8 221.0h0M468.3 206.3h0M457.8 212.2h0M459.0 216.1h0M461.5 220.4h0M472.8 205.7h0M472.5 216.3h0M473.9 198.5h0M454.8 206.7h0M453.8 220.5h0M455.3 218.7h0M450.0 209.5h0M467.8 207.4h0M449.3 195.6h0M453.0 204.1h0M474.1 215.2h0M446.4 213.2h0M449.8 215.0h0M461.4 221.4h0M464.3 203.1h0M473.4 199.2h0M467.4 216.9h0M461.2 219.9h0M450.3 211.0h0M472.4 212.9h0M462.4 220.7h0M462.1 221.2h0M448.9 201.4h0M472.1 206.8h0M463.0 212.7h0M448.5 216.6h0M457.7 212.5h0M460.5 220.9h0M465.1 221.0h0M477.2 215.9h0M457.4 214.5h0M451.5 208.5h0M468.0 216.4h0M467.4 221.6h0M474.8 206.8h0M443.5 193.6h0M474.8 208.7h0M456.1 206.7h0M461.2 220.6h0M460.0 219.8h0M450.3 206.8h0M444.5 211.0h0M471.2 208.7h0M468.1 205.2h0M443.5 208.9h0M460.2 220.8h0M475.3 202.8h0M457.7 217.2h0M461.3 220.6h0M457.8 209.6h0M449.7 192.7h0M459.7 218.2h0M472.9 218.4h0M467.8 201.0h0M456.0 211.1h0M470.6 204.2h0M453.6 220.2h0M461.1 221.5h0M443.6 206.7h0M443.1 215.1h0M465.1 206.7h0M472.0 218.2h0M476.0 197.9h0M471.9 220.7h0M476.3 196.4h0M457.6 205.7h0M456.6 214.8h0M449.9 201.4h0M460.0 219.5h0M466.1 200.5h0M465.6 221.6h0M459.5 219.7h0M444.6 221.3h0M447.3 209.1h0M464.2 218.0h0M461.4 221.5h0M472.9 215.6h0M454.9 202.7h0M444.4 215.9h0M471.6 207.9h0M446.7 203.0h0M466.6 195.3h0M470.1 204.0h0M471.3 208.6h0M456.5 204.1h0M466.3 197.6h0M462.9 213.8h0M459.8 219.7h0M459.8 220.1h0M474.7 217.7h0M442.9 199.5h0M462.1 216.2h0M453.1 206.6h0M448.6 213.3h0M475.7 199.9h0M450.5 205.5h0M448.2 199.1h0M463.3 213.6h0M445.9 218.7h0M459.9 220.8h0M459.8 221.2h0M465.8 217.8h0M470.0 210.9h0M475.8 216.8h0M464.8 213.1h0M457.4 205.9h0M450.0 220.0h0M469.7 206.4h0M443.4 206.9h0M453.0 211.5h0M467.3 208.5h0M451.9 206.8h0M466.1 203.4h0M453.4 219.1h0M474.1 211.7h0M449.4 202.7h0M451.9 205.3h0M469.5 211.7h0M459.0 219.9h0M467.5 207.5h0M469.3 197.8h0M447.5 200.6h0M455.2 214.1h0M476.4 203.6h0M448.4 203.0h0M472.1 215.8h0M458.1 214.9h0M447.0 214.5h0M457.8 221.6h0M443.9 205.3h0M468.1 200.5h0M448.9 215.7h0M473.1 198.7h0M474.7 215.0h0M459.8 218.8h0M472.3 199.8h0M470.8 203.3h0M462.6 213.7h0M457.3 220.7h0M477.1 203.0h0M444.1 208.9h0M475.8 220.8h0M460.0 221.3h0M471.4 204.1h0M456.7 215.8h0M455.9 213.3h0M465.1 206.6h0M452.8 209.2h0M445.1 203.3h0M452.7 210.0h0M449.4 204.6h0M447.5 203.7h0M467.6 205.7h0M443.0 213.8h0M443.0 212.7h0M455.6 213.0h0M464.8 205.9h0M453.1 208.4h0M462.6 219.0h0M472.7 206.4h0M475.8 217.4h0M465.9 217.7h0M462.9 221.5h0M449.9 219.9h0M476.0 196.9h0M444.6 220.0h0M464.1 206.8h0M475.2 219.4h0M448.9 209.2h0M451.8 217.4h0M456.3 208.5h0M449.7 202.5h0M468.4 207.5h0M466.3 202.6h0M469.9 211.2h0M463.6 212.0h0M458.0 208.2h0M442.9 213.3h0M443.1 200.7h0M467.7 198.7h0M469.7 218.9h0M464.0 202.7h0M476.9 219.5h0M452.4 198.2h0M455.2 212.0h0M465.4 221.4h0M447.0 212.5h0M454.6 205.4h0M465.2 204.8h0M451.2 198.0h0M459.9 220.4h0M469.9 200.2h0M453.4 218.6h0M466.5 220.4h0M476.2 198.7h0M466.0 209.8h0M470.7 220.9h0M458.7 211.8h0M456.6 208.6h0M443.3 203.5h0M447.9 213.0h0M446.8 210.2h0M467.6 218.6h0M442.8 217.9h0M464.7 201.5h0M466.6 207.3h0M453.8 199.4h0M476.0 209.5h0M466.5 203.1h0M454.0 206.6h0M472.4 207.6h0M449.6 197.8h0M467.8 218.4h0M463.8 202.9h0M454.3 210.4h0M456.8 216.8h0M458.7 215.5h0M469.8 208.6h0M447.0 214.7h0M460.9 221.1h0M476.0 211.1h0M477.2 201.9h0M465.5 220.2h0M444.1 220.4h0M463.2 215.4h0M469.4 215.7h0M476.2 213.4h0M447.3 210.5h0M477.4 221.5h0M477.3 208.4h0M445.6 208.0h0M463.7 203.2h0M460.3 220.7h0M455.2 218.6h0M452.5 221.5h0M446.7 213.5h0M461.0 221.2h0M455.3 204.6h0M449.4 215.2h0M462.7 217.0h0M444.8 216.7h0M476.3 221.1h0M454.9 215.8h0M466.0 220.4h0M450.3 205.2h0M474.4 212.6h0M471.9 202.2h0M453.3 214.7h0M453.7 220.7h0M450.1 198.6h0M450.8 213.8h0M461.4 220.7h0M444.5 205.1h0M459.4 216.6h0M454.4 209.4h0M470.0 213.9h0M469.7 202.4h0M446.2 207.7h0M460.5 220.9h0M459.3 216.0h0M465.2 207.2h0M455.8 217.1h0M444.5 203.3h0M460.5 219.9h0M476.2 205.7h0M473.8 208.0h0M455.4 212.4h0M473.9 211.5h0M467.6 196.6h0M445.0 197.1h0M444.0 213.9h0M461.5 221.2h0M470.2 209.1h0M470.0 202.3h0M460.9 220.3h0M474.5 206.9h0M449.5 203.8h0M476.4 216.3h0M448.4 216.1h0M442.7 207.5h0M449.7 213.5h0M452.4 217.6h0M458.5 221.1h0M443.5 198.6h0M471.0 210.4h0M468.4 195.9h0M451.3 215.3h0M446.8 195.2h0M475.1 197.0h0M462.6 218.9h0M472.3 218.9h0M466.7 211.5h0M474.2 220.7h0M465.1 217.9h0M445.2 221.0h0M461.8 221.1h0M445.2 212.4h0M452.0 208.6h0M449.1 197.1h0M442.9 204.5h0M446.8 204.6h0M448.1 200.0h0M472.5 205.3h0M452.2 215.0h0M455.9 220.1h0M471.8 206.2h0M475.5 219.6h0M445.1 221.4h0M471.2 209.5h0M470.0 205.3h0M471.5 202.9h0M442.7 199.4h0M463.3 220.7h0M477.4 212.9h0M450.8 194.6h0M447.2 201.9h0M444.9 212.3h0M445.3 217.1h0M454.3 213.4h0M465.0 219.5h0M463.9 211.4h0M466.5 197.9h0M445.0 214.0h0M450.8 213.4h0M459.7 220.9h0M473.4 219.6h0M477.5 217.3h0M467.6 194.1h0M470.8 212.3h0M471.6 217.0h0M464.8 197.4h0M447.2 198.7h0M472.0 208.1h0M451.9 197.1h0M468.6 215.8h0M453.9 201.5h0M452.3 221.4h0M468.9 199.6h0M444.7 200.1h0M444.2 115.1h0M448.3 126.1h0M445.6 140.8h0M448.2 162.0h0M466.4 178.2h0M464.4 186.2h0M467.5 185.4h0M470.1 186.9h0M446.8 189.2h0M453.9 191.1h0M452.1 195.2h0M473.2 190.3h0M476.2 189.9h0M461.8 190.3h0M442.9 197.1h0" stroke="#bdbdbd" stroke-width="3.5" stroke-linecap="round" fill="none"/>
<path d="M519.2 204.4h0M504.7 183.7h0M505.9 216.4h0M530.2 208.3h0M503.1 197.9h0M491.3 220.3h0M486.6 207.1h0M498.4 220.6h0M483.8 214.5h0M479.9 213.0h0M518.0 216.5h0M531.7 214.1h0M510.4 194.8h0M521.3 211.1h0M502.5 194.3h0M486.8 199.6h0M503.8 208.0h0M507.1 199.3h0M529.9 216.1h0M532.0 213.5h0M530.9 210.7h0M525.9 220.6h0M503.3 214.9h0M487.7 206.8h0M478.5 221.4h0M515.2 216.9h0M517.3 209.5h0M530.8 209.1h0M508.9 214.7h0M531.1 214.7h0M536.4 221.0h0M500.4 193.0h0M488.4 220.8h0M509.2 214.5h0M527.0 207.4h0M491.1 204.4h0M531.6 213.1h0M508.5 220.9h0M516.3 207.1h0M516.9 213.5h0M534.4 214.7h0M494.6 205.0h0M510.9 199.7h0M486.9 201.1h0M535.1 220.0h0M487.0 209.8h0M517.7 194.0h0M504.3 183.4h0M486.1 217.2h0M533.6 212.3h0M478.1 213.0h0M520.7 201.2h0M513.4 209.9h0M500.1 213.2h0M503.3 205.1h0M486.0 198.6h0M501.3 217.1h0M518.1 201.9h0M530.2 214.3h0M533.1 211.5h0M529.1 212.0h0M533.9 214.1h0M523.6 217.2h0M507.3 210.3h0M533.3 221.4h0M521.4 211.0h0M530.3 207.7h0M478.2 219.9h0M482.2 211.5h0M498.8 186.3h0M524.9 213.0h0M525.7 201.8h0M523.6 218.3h0M523.1 203.1h0M515.1 210.1h0M528.4 208.9h0M496.2 191.3h0M484.0 210.7h0M497.2 198.6h0M528.1 217.6h0M532.7 211.4h0M480.3 219.6h0M484.4 204.7h0M519.6 196.6h0M520.5 197.4h0M505.7 203.7h0M510.8 213.6h0M489.1 206.6h0M536.9 221.3h0M523.8 206.6h0M534.2 216.8h0M486.2 201.4h0M495.1 194.3h0M483.7 213.3h0M517.4 209.0h0M500.8 200.6h0M499.5 181.1h0M519.8 196.7h0M527.4 199.8h0M533.3 213.6h0M485.6 202.7h0M520.2 197.8h0M533.1 221.4h0M514.8 218.0h0M483.4 210.9h0M480.0 218.0h0M509.7 195.4h0M489.2 203.4h0M514.5 220.9h0M500.4 218.2h0M488.7 217.0h0M483.4 216.5h0M495.0 194.2h0M504.7 198.4h0M523.3 218.3h0M490.3 216.9h0M481.1 212.2h0M534.3 215.5h0M532.2 220.5h0M524.0 219.9h0M525.1 218.2h0M493.4 196.6h0M492.3 211.1h0M480.3 205.7h0M484.7 207.9h0M514.0 201.4h0M485.4 206.1h0M515.9 207.7h0M497.2 180.9h0M494.1 208.6h0M484.0 217.7h0M498.2 210.2h0M499.7 216.4h0M515.8 200.8h0M479.8 212.6h0M529.5 220.2h0M490.2 204.0h0M485.8 215.6h0M498.7 193.4h0M517.4 215.7h0M524.0 208.1h0M500.7 184.3h0M487.0 217.9h0M519.9 217.2h0M488.0 209.9h0M484.2 208.4h0M514.6 218.4h0M483.2 216.5h0M483.4 200.9h0M518.4 203.1h0M529.3 206.8h0M515.0 216.9h0M518.2 200.4h0M487.7 219.2h0M487.4 204.1h0M504.5 199.8h0M523.4 197.6h0M519.3 208.6h0M511.2 214.1h0M512.1 198.1h0M526.6 207.1h0M534.6 217.7h0M530.1 219.3h0M519.1 207.0h0M491.3 214.1h0M523.6 209.3h0M486.7 198.5h0M496.2 205.0h0M492.8 204.0h0M495.1 185.1h0M533.2 212.9h0M505.9 200.3h0M518.3 201.5h0M504.6 199.9h0M512.0 201.8h0M488.5 196.4h0M500.4 196.3h0M521.0 209.7h0M493.6 200.3h0M482.6 215.5h0M506.9 188.3h0M502.2 189.3h0M495.8 197.2h0M527.9 202.1h0M530.4 205.4h0M490.8 203.0h0M486.2 200.7h0M506.4 215.1h0M528.4 211.7h0M524.9 217.2h0M515.9 207.1h0M514.7 206.2h0M504.9 210.8h0M491.9 192.8h0M520.8 215.2h0M503.4 196.5h0M490.5 198.9h0M519.2 202.4h0M493.6 195.7h0M486.8 218.9h0M511.8 213.6h0M497.4 220.2h0M493.2 195.2h0M509.4 188.6h0M506.6 188.7h0M497.7 209.8h0M479.5 213.1h0M517.4 217.1h0M484.2 218.8h0M521.4 200.7h0M513.1 212.6h0M488.1 209.6h0M514.7 197.4h0M495.7 195.4h0M521.0 204.8h0M512.7 191.6h0M479.5 211.5h0M480.9 219.5h0M502.0 213.2h0M526.8 200.0h0M533.8 219.3h0M503.9 182.2h0M528.1 216.7h0M481.8 207.7h0M510.7 194.1h0M505.5 206.9h0M486.7 201.0h0M524.1 198.0h0M519.6 208.4h0M534.7 220.0h0M536.5 221.5h0M496.3 198.0h0M492.6 206.9h0M535.0 220.2h0M485.7 205.2h0M518.7 215.8h0M499.8 209.9h0M528.7 205.1h0M481.6 217.6h0M535.9 220.8h0M531.1 215.1h0M494.4 184.7h0M489.0 199.5h0M509.2 202.9h0M486.0 215.7h0M486.2 210.2h0M522.2 205.0h0M525.7 213.3h0M533.4 219.0h0M495.2 193.3h0M517.7 213.2h0M487.5 197.8h0M531.6 209.8h0M519.8 199.4h0M533.3 211.8h0M506.6 203.1h0M528.4 200.9h0M479.6 221.0h0M535.3 219.6h0M532.6 211.9h0M533.5 219.7h0M517.4 217.9h0M526.2 216.5h0M482.5 206.5h0M519.8 200.1h0M494.2 198.5h0M490.6 213.7h0M508.4 201.9h0M499.8 204.9h0M532.1 219.2h0M514.5 191.8h0M511.1 215.5h0M489.9 211.8h0M506.5 203.4h0M517.7 221.1h0M509.5 221.5h0M536.8 221.2h0M516.7 209.1h0M536.2 219.7h0M498.3 212.1h0M486.5 211.4h0M527.6 220.0h0M498.7 191.2h0M500.7 195.9h0M522.0 208.7h0M512.1 219.1h0M488.5 217.5h0M480.3 203.7h0M506.0 202.2h0M512.7 196.4h0M532.1 215.5h0M484.7 211.6h0M521.7 196.3h0M484.9 212.7h0M518.1 213.4h0M518.9 201.8h0M521.1 213.4h0M512.6 221.5h0M510.2 211.8h0M515.1 217.8h0M514.4 191.8h0M487.9 207.8h0M488.4 204.4h0M525.9 214.8h0M493.4 189.3h0M511.4 209.9h0M513.3 209.2h0M513.7 208.4h0M533.4 220.2h0M495.1 210.6h0M519.0 212.6h0M495.8 190.8h0M503.4 202.7h0M478.7 210.9h0M536.1 220.2h0M535.3 217.3h0M532.3 218.3h0M507.2 185.1h0M502.9 221.4h0M498.9 203.7h0M484.5 211.6h0M495.7 193.2h0M493.1 188.1h0M499.5 186.2h0M500.2 200.8h0M483.0 210.5h0M485.3 200.5h0M493.1 199.6h0M525.1 210.9h0M519.8 195.0h0M488.9 207.4h0M507.8 210.1h0M520.6 207.7h0M512.5 210.3h0M519.7 209.1h0M491.2 205.4h0M507.0 195.0h0M526.3 212.7h0M493.2 185.9h0M525.3 204.9h0M522.2 217.9h0M490.0 203.6h0M483.8 201.6h0M500.7 219.8h0M510.4 210.9h0M504.8 200.9h0M517.9 194.0h0M485.8 211.0h0M483.1 210.7h0M480.8 220.5h0M521.7 202.4h0M502.6 216.4h0M491.6 191.1h0M510.3 206.6h0M529.7 209.8h0M535.2 221.4h0M524.4 208.6h0M516.3 218.8h0M480.4 214.3h0M519.1 217.5h0M494.7 185.1h0M479.2 207.2h0M498.5 182.6h0M486.1 212.2h0M497.3 182.1h0M503.5 216.4h0M490.5 195.6h0M510.8 215.3h0M509.6 194.8h0M517.9 215.1h0M535.7 220.8h0M495.3 190.3h0M494.6 195.7h0M488.6 220.2h0M510.9 220.9h0M490.2 192.0h0M515.7 206.1h0M518.3 205.6h0M518.5 210.8h0M529.0 218.4h0M516.5 220.8h0M500.5 218.9h0M498.6 204.1h0M493.8 193.0h0M517.0 205.2h0M478.4 218.5h0M500.1 212.8h0M520.7 215.9h0M511.9 210.9h0M517.1 197.4h0M506.5 205.8h0M507.1 208.6h0M526.0 217.8h0M495.9 211.1h0M521.3 216.4h0M523.9 199.3h0M497.7 181.5h0M492.2 199.5h0M496.5 213.1h0M517.8 203.1h0M526.0 199.6h0M489.2 219.5h0M480.6 217.8h0M494.2 197.6h0M491.9 199.6h0M515.6 215.8h0M512.1 205.6h0M521.9 219.9h0M496.8 185.1h0M482.8 216.8h0M517.1 221.3h0M480.4 216.0h0M521.5 201.6h0M527.7 216.8h0M514.6 221.0h0M482.1 220.2h0M491.7 192.3h0M494.4 214.0h0M489.6 219.5h0M532.1 220.1h0M500.6 189.9h0M505.2 198.0h0M516.1 221.3h0M510.3 218.6h0M505.5 208.9h0M531.7 209.0h0M519.1 194.0h0M534.4 216.5h0M533.5 212.3h0M513.2 207.8h0M484.0 203.8h0M523.9 205.9h0M536.7 221.2h0M528.2 206.5h0M508.7 193.4h0M482.5 202.1h0M529.1 216.4h0M522.2 215.4h0M522.7 217.9h0M510.1 217.0h0M526.8 220.7h0M533.5 214.9h0M496.3 191.4h0M494.0 204.0h0M501.8 205.7h0M524.2 207.0h0M503.1 187.4h0M531.4 219.0h0M526.1 207.2h0M495.3 185.4h0M534.4 217.0h0M498.2 214.3h0M511.4 193.7h0M506.4 216.6h0M492.3 190.0h0M497.4 219.6h0M510.2 204.6h0M500.9 217.4h0M493.0 206.0h0M518.0 200.8h0M478.3 215.5h0M491.3 202.3h0M521.3 201.9h0M512.9 210.2h0M486.6 214.5h0M497.9 210.0h0M522.5 208.2h0M521.5 219.3h0M530.7 220.8h0M515.8 193.8h0M496.6 209.8h0M493.9 188.9h0M514.9 194.3h0M491.3 198.8h0M516.7 195.7h0M524.6 201.0h0M492.0 194.4h0M481.8 211.1h0M478.1 208.8h0M483.2 204.4h0M493.1 198.9h0M485.4 210.5h0M531.5 213.2h0M529.0 205.1h0M481.9 210.0h0M507.6 217.2h0M511.8 196.0h0M509.2 206.7h0M519.4 197.7h0M506.7 189.9h0M512.5 216.6h0M486.3 201.0h0M501.2 215.1h0M479.6 210.0h0M517.2 212.4h0M499.5 195.7h0M528.9 220.2h0M489.9 220.3h0M520.6 196.8h0M502.9 219.3h0M518.3 220.9h0M528.1 208.4h0M506.3 184.7h0M508.8 195.1h0M510.2 188.1h0M521.1 209.0h0M483.2 216.8h0M533.2 212.7h0M525.8 201.7h0M513.8 200.0h0M521.3 215.9h0M522.0 216.9h0M533.2 220.8h0M481.2 212.4h0M502.5 210.0h0M494.2 186.9h0M499.6 188.7h0M489.4 196.0h0M497.3 184.1h0M494.8 184.8h0M479.3 212.0h0M505.5 201.1h0M531.7 212.4h0M521.6 215.8h0M532.4 214.1h0M525.1 197.1h0M522.2 215.9h0M487.0 215.5h0M506.5 185.0h0M509.1 216.6h0M494.0 191.4h0M488.9 218.8h0M527.7 215.8h0M533.6 213.7h0M529.8 211.9h0M494.3 204.6h0M514.7 215.4h0M493.6 214.7h0M491.6 195.9h0M492.1 215.3h0M494.2 192.4h0M492.5 194.0h0M487.1 212.7h0M488.7 201.0h0M480.8 204.1h0M505.9 215.1h0M516.7 216.9h0M488.6 212.4h0M509.7 207.3h0M484.6 219.4h0M487.9 213.7h0M502.5 205.1h0M512.5 216.5h0M490.2 214.8h0M491.4 220.6h0M519.5 217.8h0M514.1 194.1h0M484.6 213.6h0M526.1 213.3h0M531.8 219.3h0M486.1 217.1h0M536.5 220.7h0M493.8 193.7h0M521.8 198.2h0M497.9 183.4h0M494.5 201.9h0M533.2 218.4h0M485.3 215.5h0M498.8 183.1h0M517.6 201.7h0M530.1 217.1h0M491.1 218.9h0M518.0 194.3h0M508.5 197.8h0M486.5 200.0h0M495.6 202.6h0M511.7 218.3h0M503.0 210.7h0M529.0 205.6h0M513.8 217.2h0M522.7 198.4h0M503.9 219.5h0M517.3 208.1h0M479.9 215.6h0M521.8 208.4h0M532.7 212.4h0M518.7 199.8h0M515.4 206.7h0M506.7 209.7h0M514.5 192.8h0M480.5 205.8h0M492.2 207.5h0M532.9 216.3h0M479.3 213.8h0M506.1 209.2h0M510.4 203.5h0M502.5 211.4h0M515.0 198.7h0M513.7 198.8h0M485.9 218.2h0M502.3 207.8h0M495.5 210.5h0M491.8 187.1h0M523.8 212.5h0M478.1 218.1h0M479.6 208.3h0M500.9 206.3h0M518.2 197.8h0M537.0 221.3h0M509.5 188.9h0M493.6 203.1h0M527.9 203.3h0M519.1 200.5h0M533.6 220.5h0M526.8 198.7h0M502.1 195.6h0M513.5 197.6h0M530.0 211.4h0M523.5 209.3h0M534.3 219.6h0M496.4 207.9h0M508.3 214.7h0M506.7 209.1h0M496.9 216.0h0M529.7 204.6h0M493.6 193.5h0M518.6 210.1h0M482.9 218.1h0M494.7 184.4h0M500.9 208.4h0M507.2 207.9h0M525.4 201.9h0M517.5 219.0h0M496.5 206.6h0M520.8 205.3h0M499.3 179.7h0M521.3 204.8h0M483.3 218.6h0M515.1 203.5h0M496.0 206.3h0M480.3 207.5h0M490.2 215.7h0M498.3 212.6h0M532.7 209.7h0M516.4 196.7h0M500.3 220.3h0M533.7 219.3h0M485.1 219.0h0M479.7 217.2h0M504.3 207.1h0M523.1 208.0h0M508.5 211.1h0M520.2 213.4h0M521.2 214.9h0M493.6 192.9h0M518.3 207.0h0M534.1 213.6h0M487.2 209.8h0M500.7 186.9h0M501.5 220.4h0M530.3 221.3h0M501.3 217.4h0M511.4 191.7h0M507.7 190.5h0M507.0 190.1h0M531.9 213.2h0M524.0 214.3h0M504.8 196.4h0M492.9 199.3h0M533.0 212.7h0M519.5 221.0h0M483.0 219.9h0M525.4 203.5h0M522.5 213.6h0M521.4 219.9h0M515.8 193.1h0M479.0 212.8h0M536.3 219.6h0M517.3 210.0h0M489.5 216.3h0M492.1 205.8h0M522.4 204.7h0M507.2 188.0h0M509.0 196.7h0M513.3 198.4h0M535.1 217.2h0M497.0 190.6h0M482.5 220.3h0M536.8 220.8h0M526.2 221.2h0M529.7 208.9h0M510.0 197.0h0M515.0 195.7h0M530.2 204.1h0M489.8 194.6h0M492.4 216.8h0M501.9 215.0h0M504.4 201.9h0M483.8 220.8h0M523.8 207.5h0M504.4 190.6h0M491.9 216.7h0M521.8 220.1h0M528.9 213.0h0M522.9 202.6h0M511.2 213.2h0M511.5 213.3h0M489.6 204.0h0M493.5 184.3h0M489.5 210.4h0M507.1 212.1h0M516.5 218.1h0M534.7 218.4h0M518.6 212.5h0M536.4 221.3h0M503.9 183.5h0M492.2 203.4h0M523.6 207.5h0M493.9 219.9h0M489.0 206.1h0M530.0 208.7h0M509.0 205.0h0M522.4 198.7h0M505.4 184.3h0M501.5 193.9h0M535.8 221.4h0M491.6 197.1h0M499.4 209.9h0M484.6 221.2h0M499.7 187.4h0M505.6 211.1h0M520.5 212.9h0M502.5 210.2h0M488.1 221.0h0M535.1 221.3h0M488.0 206.2h0M493.6 189.9h0M534.8 219.9h0M535.9 219.0h0M534.7 216.2h0M536.4 219.8h0M536.5 221.1h0M507.5 211.9h0M495.2 211.0h0M525.6 220.9h0M482.2 206.1h0M487.5 200.1h0M496.5 219.6h0M487.1 208.3h0M479.7 215.7h0M496.2 184.5h0M534.1 216.7h0M490.7 196.5h0M506.3 197.3h0M504.3 206.7h0M511.5 214.7h0M483.0 220.2h0M500.8 187.7h0M533.0 212.1h0M499.7 187.0h0M530.4 210.8h0M509.8 205.5h0M500.1 183.4h0M485.3 208.8h0M516.6 206.6h0M527.0 214.2h0M516.6 198.5h0M508.6 207.7h0M498.4 198.0h0M485.5 200.5h0M506.5 183.9h0M535.5 219.6h0M492.6 189.3h0M534.7 217.7h0M517.2 200.7h0M508.3 218.9h0M530.9 216.2h0M536.4 220.4h0M503.8 193.1h0M512.6 218.3h0M525.1 199.9h0M489.6 205.0h0M479.1 218.5h0M529.9 207.1h0M512.8 192.5h0M502.5 186.2h0M487.9 204.3h0M514.6 216.8h0M512.3 206.2h0M531.2 218.4h0M491.3 205.4h0M490.7 202.7h0M535.5 217.8h0M521.3 195.0h0M531.5 209.9h0M487.0 213.0h0M500.3 210.7h0M514.8 216.7h0M498.4 204.6h0M525.8 198.3h0M487.0 212.6h0M533.6 220.5h0M529.9 209.4h0M489.5 207.7h0M511.2 197.3h0M495.5 192.1h0M499.2 213.0h0M498.9 187.2h0M493.0 203.9h0M532.6 211.8h0M519.1 209.3h0M480.4 208.5h0M490.6 209.0h0M518.4 202.3h0M522.7 217.6h0M526.4 205.2h0M505.9 217.9h0M491.6 212.6h0M534.6 221.0h0M519.6 194.8h0M507.5 192.3h0M496.6 195.4h0M480.5 219.0h0M487.4 203.5h0M483.1 213.4h0M491.5 220.5h0M537.0 221.5h0M537.2 221.3h0M498.8 196.7h0M533.2 219.7h0M507.7 201.6h0M521.0 212.9h0M481.7 211.9h0M517.4 204.2h0M486.7 208.9h0M506.8 188.7h0M485.5 204.8h0M523.1 197.6h0M510.8 197.7h0M484.4 213.9h0M493.4 214.2h0M504.3 193.3h0M532.0 209.5h0M513.4 215.6h0M535.5 219.7h0M497.0 214.3h0M532.3 218.4h0M491.2 214.8h0M510.8 206.3h0M493.0 191.1h0M513.4 206.5h0M486.9 209.7h0M479.0 209.7h0M490.7 217.8h0M518.0 219.1h0M508.1 200.2h0M514.9 203.9h0M495.3 195.8h0M489.3 191.8h0M536.2 219.2h0M484.4 220.6h0M518.6 198.7h0M503.5 193.8h0M518.5 215.4h0M502.3 207.7h0M522.5 207.9h0M483.8 203.4h0M479.8 211.1h0M502.0 185.7h0M507.0 192.9h0M505.6 206.4h0M529.2 204.2h0M479.2 214.2h0M498.6 208.5h0M492.7 205.2h0M490.8 204.9h0M517.5 214.2h0M511.2 212.0h0M518.3 199.1h0M488.1 207.4h0M503.1 194.3h0M503.6 198.1h0M483.1 211.1h0M526.4 208.6h0M512.7 203.9h0M488.7 196.5h0M531.2 215.0h0M531.1 210.5h0M478.8 219.0h0M491.4 218.3h0M479.6 212.6h0M480.4 214.0h0M527.5 211.3h0M513.8 215.7h0M507.7 211.2h0M489.9 200.3h0M478.4 206.8h0M510.0 200.0h0M518.9 216.9h0M478.4 216.3h0M499.7 203.5h0M529.7 215.3h0M479.4 218.2h0M478.1 214.8h0M498.7 207.6h0M501.1 182.4h0M528.4 211.0h0M520.9 213.6h0M508.9 195.2h0M506.6 202.5h0M526.6 214.7h0M486.4 204.6h0M523.3 213.7h0M515.1 210.0h0M531.2 214.8h0M528.0 210.9h0M486.7 210.7h0M524.6 221.5h0M513.7 210.3h0M508.5 188.9h0M499.0 196.0h0M496.8 190.7h0M519.2 197.4h0M521.4 195.5h0M527.7 221.2h0M513.4 197.7h0M527.5 207.3h0M526.8 218.3h0M486.4 205.8h0M527.8 214.5h0M495.9 204.6h0M493.7 216.5h0M518.0 203.4h0M489.3 219.0h0M500.2 213.8h0M535.1 219.1h0M501.5 212.6h0M479.1 208.5h0M493.7 217.3h0M530.1 214.5h0M511.1 212.3h0M494.6 189.1h0M532.7 220.0h0M514.9 216.1h0M526.8 212.7h0M490.0 209.0h0M492.2 191.9h0M484.0 210.7h0M505.8 213.2h0M493.9 200.9h0M511.1 216.5h0M534.3 214.7h0M514.8 198.2h0M525.0 215.9h0M492.1 194.4h0M508.6 187.5h0M488.6 207.5h0M528.5 212.7h0M510.1 201.4h0M480.2 217.8h0M513.7 202.1h0M499.9 182.0h0M501.8 184.1h0M500.9 185.2h0M519.0 195.4h0M494.9 196.9h0M494.3 220.1h0M531.8 207.3h0M510.8 218.3h0M534.7 220.9h0M480.1 218.4h0M492.9 188.6h0M533.0 212.0h0M525.6 215.1h0M510.5 208.7h0M482.8 204.7h0M501.9 210.1h0M488.1 201.0h0M511.3 213.0h0M505.4 214.5h0M523.7 220.1h0M487.7 214.8h0M499.7 191.0h0M496.9 204.6h0M483.0 216.5h0M506.2 205.7h0M486.4 199.6h0M492.6 211.5h0M532.2 211.3h0M513.5 210.8h0M481.2 207.4h0M529.0 205.6h0M527.7 203.7h0M529.3 205.5h0M536.3 219.7h0M486.8 201.9h0M499.7 181.3h0M497.4 214.4h0M534.9 218.6h0M517.5 197.9h0M521.3 216.6h0M534.3 220.4h0M498.0 214.0h0M529.6 207.5h0M515.5 210.6h0M509.0 203.6h0M489.5 204.9h0M498.1 200.4h0M497.7 195.2h0M534.9 219.3h0M517.6 196.8h0M530.4 214.3h0M485.3 221.3h0M510.0 193.4h0M507.3 203.2h0M522.3 198.9h0M487.1 212.2h0M508.4 212.8h0M490.9 220.8h0M521.0 215.1h0M517.0 215.3h0M484.5 220.1h0M484.0 207.1h0M509.4 206.8h0M514.5 204.0h0M517.0 211.0h0M525.9 202.0h0M526.8 201.9h0M507.1 190.3h0M518.7 220.1h0M496.9 191.9h0M534.6 220.7h0M492.1 193.0h0M505.1 215.1h0M528.9 205.4h0M505.2 193.2h0M501.3 196.9h0M499.8 199.6h0M517.1 193.5h0M510.7 191.3h0M479.2 204.6h0M501.3 189.6h0M514.0 213.0h0M481.9 219.5h0M505.7 209.9h0M497.2 189.4h0M528.5 210.6h0M522.5 221.2h0M497.9 215.5h0M493.1 207.0h0M501.8 205.4h0M490.7 189.3h0M519.1 201.4h0M531.9 216.2h0M480.1 213.8h0M490.8 196.7h0M498.0 185.6h0M502.9 194.3h0M496.0 190.8h0M501.8 213.9h0M521.8 203.1h0M507.5 199.8h0M485.0 200.7h0M492.2 203.6h0M500.7 187.7h0M479.8 214.5h0M527.2 201.5h0M482.3 209.5h0M490.4 207.2h0M527.8 200.2h0M501.6 208.8h0M507.9 219.3h0M502.8 214.6h0M479.1 208.1h0M493.8 185.4h0M524.2 220.5h0M503.1 199.2h0M488.5 209.8h0M523.6 214.8h0M530.4 210.4h0M505.2 218.7h0M505.1 193.4h0M521.9 214.6h0M501.4 210.8h0M492.8 185.3h0M532.2 220.9h0M497.4 192.4h0M530.8 220.4h0M502.5 221.1h0M528.7 221.5h0M489.9 203.6h0M485.0 207.5h0M494.3 183.4h0M499.9 207.4h0M511.5 213.5h0M521.5 198.8h0M536.0 219.8h0M515.5 213.9h0M479.9 216.1h0M501.5 186.7h0M500.7 191.6h0M531.6 212.8h0M529.5 220.9h0M494.2 203.4h0M519.7 213.2h0M533.7 217.1h0M529.1 217.7h0M513.2 198.8h0M526.5 206.6h0M507.3 220.7h0M485.0 213.4h0M517.8 217.0h0M523.3 204.4h0M509.0 192.2h0M479.5 205.7h0M507.5 213.7h0M499.9 207.8h0M512.4 211.9h0M505.0 202.8h0M495.3 195.7h0M493.1 191.4h0M478.7 212.8h0M498.0 189.1h0M523.5 197.5h0M533.3 212.1h0M494.3 206.9h0M495.4 205.0h0M530.6 211.4h0M489.7 208.1h0M500.9 215.0h0M499.5 216.6h0M495.2 207.7h0M479.0 219.8h0M511.4 214.8h0M515.0 203.4h0M490.8 189.1h0M509.2 195.4h0M512.3 190.5h0M491.7 216.7h0M523.3 207.5h0M522.8 196.6h0M494.3 217.0h0M507.2 210.7h0M530.4 203.0h0M534.2 215.2h0M514.2 192.8h0M536.7 220.9h0M502.9 205.8h0M507.7 219.9h0M513.1 203.8h0M515.7 194.0h0M498.0 190.8h0M505.4 221.4h0M499.6 206.0h0M483.3 216.3h0M499.1 210.3h0M488.5 219.9h0M524.5 204.9h0M520.0 216.4h0M491.4 199.2h0M484.6 219.8h0M484.0 208.9h0M513.2 215.3h0M536.5 220.2h0M525.5 199.4h0M528.8 219.8h0M510.3 208.2h0M495.8 205.2h0M478.5 218.6h0M504.4 209.0h0M507.5 185.9h0M502.9 205.8h0M504.7 210.5h0M504.3 201.7h0M504.0 195.9h0M496.8 188.0h0M481.0 209.4h0M528.8 203.3h0M534.3 217.5h0M509.1 202.1h0M518.5 215.4h0M511.5 191.5h0M488.9 197.1h0M500.8 195.1h0M522.4 211.1h0M506.2 219.1h0M491.5 208.6h0M508.4 210.3h0M478.2 208.6h0M486.8 219.9h0M507.5 221.4h0M517.9 194.3h0M531.2 208.2h0M494.1 185.0h0M506.5 211.7h0M487.8 202.6h0M519.4 216.0h0M510.5 220.6h0M495.2 212.0h0M535.0 220.7h0M485.4 220.5h0M530.7 206.4h0M504.3 200.8h0M496.8 214.7h0M522.3 198.7h0M508.2 220.5h0M505.5 182.7h0M510.9 203.5h0M497.3 205.0h0M515.3 193.3h0M528.8 215.4h0M521.7 218.3h0M484.9 205.6h0M482.7 214.5h0M488.4 194.5h0M536.0 218.7h0M489.3 205.4h0M521.1 206.0h0M505.3 216.3h0M494.2 187.2h0M495.1 198.2h0M484.1 207.7h0M510.9 217.0h0M527.9 206.3h0M516.9 211.8h0M482.1 218.3h0M491.0 194.3h0M481.5 218.3h0M491.6 196.7h0M482.9 208.6h0M482.5 220.0h0M534.5 220.1h0M506.9 209.5h0M517.8 199.6h0M508.4 203.7h0M486.4 199.6h0M511.3 214.1h0M493.1 195.6h0M481.6 206.2h0M494.2 185.4h0M504.6 195.2h0M481.5 218.5h0M503.8 195.3h0M528.8 209.9h0M518.2 203.6h0M522.3 201.2h0M489.8 204.1h0M483.9 212.4h0M529.3 206.4h0M514.2 194.0h0M478.2 212.9h0M534.5 221.4h0M479.3 206.7h0M487.1 198.5h0M502.4 221.1h0M491.3 214.0h0M514.0 196.6h0M526.0 202.0h0M498.6 221.2h0M514.3 200.5h0M517.8 198.4h0M520.9 202.4h0M531.0 211.9h0M491.7 202.5h0M528.2 210.2h0M515.0 200.4h0M482.0 210.6h0M483.4 215.3h0M524.4 199.1h0M489.7 203.3h0M482.9 206.2h0M494.6 212.8h0M494.5 184.4h0M491.9 204.2h0M497.8 195.1h0M528.9 219.5h0M519.6 221.4h0M532.1 216.9h0M521.2 217.1h0M489.7 205.6h0M495.5 211.4h0M509.8 202.4h0M536.6 221.3h0M533.4 214.3h0M497.3 192.0h0M511.3 188.9h0M502.6 189.9h0M501.4 213.1h0M519.5 212.7h0M526.6 208.8h0M534.1 217.1h0M484.6 205.3h0M478.6 214.5h0M523.7 205.8h0M480.1 218.6h0M535.2 218.4h0M500.3 180.4h0M530.7 214.8h0M515.0 201.9h0M496.6 198.3h0M514.2 198.2h0M481.7 205.8h0M514.7 216.2h0M529.0 213.4h0M530.3 212.5h0M489.9 201.5h0M532.9 219.2h0M502.8 218.2h0M495.8 195.2h0M523.6 198.8h0M510.8 208.2h0M522.8 213.3h0M494.0 189.4h0M491.4 205.4h0M536.7 220.4h0M487.4 209.1h0M517.2 199.4h0M500.5 215.1h0M520.8 199.7h0M510.4 191.6h0M527.1 219.8h0M500.6 208.1h0M486.0 219.6h0M505.1 188.7h0M524.7 208.1h0M482.0 209.4h0M490.8 213.4h0M490.6 199.0h0M507.3 210.3h0M503.4 216.4h0M497.2 201.2h0M479.0 221.1h0M523.4 205.1h0M497.9 198.4h0M525.0 209.0h0M497.7 210.9h0M511.0 203.8h0M534.4 217.5h0M521.6 219.2h0M534.1 218.2h0M480.6 217.5h0M526.0 213.4h0M536.9 220.9h0M508.3 192.0h0M479.3 215.3h0M521.6 219.4h0M485.5 216.9h0M526.8 217.4h0M504.2 199.5h0M510.8 200.6h0M506.2 183.7h0M510.5 217.6h0M526.8 216.0h0M488.4 216.0h0M508.6 202.0h0M536.4 220.4h0M524.6 205.8h0M523.2 203.6h0M509.7 221.0h0M516.2 218.1h0M495.8 210.8h0M478.9 206.4h0M519.5 212.0h0M529.6 215.2h0M532.2 209.7h0M481.4 206.1h0M497.4 193.6h0M511.4 193.0h0M506.8 203.4h0M501.6 186.1h0M500.0 193.0h0M525.3 212.3h0M492.5 191.6h0M486.2 207.3h0M523.3 201.0h0M507.1 184.8h0M513.4 196.9h0M511.6 216.6h0M532.2 221.2h0M486.3 217.5h0M513.1 203.3h0M532.8 212.6h0M527.7 220.8h0M512.4 218.7h0M517.1 220.7h0M513.6 218.4h0M504.2 197.7h0M488.5 197.9h0M483.4 213.8h0M484.9 218.4h0M498.0 215.9h0M508.7 199.4h0M518.7 212.9h0M517.6 209.0h0M535.5 220.1h0M478.6 211.4h0M496.9 181.9h0M525.5 213.9h0M491.9 218.7h0M489.3 193.5h0M496.5 209.7h0M519.1 212.6h0M509.7 212.7h0M509.2 197.4h0M532.0 212.4h0M491.7 201.8h0M495.2 192.8h0M526.4 218.3h0M503.3 189.2h0M506.7 198.0h0M495.7 183.7h0M483.8 214.2h0M515.9 212.0h0M515.7 214.2h0M498.8 211.5h0M532.1 220.5h0M534.6 217.9h0M511.5 205.6h0M487.2 202.1h0M486.4 218.2h0M500.8 184.6h0M492.7 192.7h0M508.1 190.0h0M531.6 208.0h0M480.7 204.9h0M501.6 216.8h0M480.6 219.3h0M485.0 204.2h0M484.5 207.3h0M503.1 205.9h0M522.0 209.8h0M502.0 201.8h0M503.2 207.1h0M526.5 215.1h0M503.8 199.5h0M525.7 210.5h0M513.0 194.5h0M481.1 205.2h0M515.8 202.3h0M530.7 213.8h0M483.3 217.3h0M481.2 220.3h0M532.3 216.7h0M494.9 184.5h0M508.8 213.7h0M524.8 211.2h0M529.8 211.1h0M518.3 195.0h0M511.4 209.5h0M480.7 212.7h0M527.7 213.5h0M535.5 220.5h0M496.4 217.7h0M503.5 203.2h0M497.1 218.8h0M501.0 200.3h0M489.1 210.4h0M499.3 188.6h0M526.9 204.2h0M491.4 205.2h0M532.1 213.4h0M527.5 210.9h0M502.7 188.1h0M524.6 211.2h0M490.8 199.0h0M532.2 218.2h0M508.7 192.1h0M513.9 219.8h0M493.1 205.7h0M482.0 213.0h0M508.7 195.9h0M481.8 221.4h0M491.8 211.7h0M493.3 203.1h0M492.2 202.5h0M481.2 211.4h0M530.6 209.0h0M518.3 198.3h0M519.7 202.2h0M496.0 209.8h0M509.9 216.7h0M504.4 204.0h0M481.5 206.4h0M503.7 197.4h0M497.9 211.5h0M486.4 207.9h0M524.3 199.3h0M509.4 220.1h0M493.7 199.7h0M526.2 213.1h0M492.4 220.9h0M513.0 195.0h0M536.2 221.2h0M517.4 214.2h0M526.2 212.8h0M532.0 219.1h0M526.6 207.1h0M480.3 210.9h0M482.3 202.8h0M525.0 203.4h0M516.7 194.2h0M528.8 208.3h0M494.9 191.8h0M488.2 201.7h0M524.8 208.5h0M532.6 212.5h0M485.2 207.5h0M488.7 206.5h0M508.6 202.7h0M500.4 181.6h0M504.0 202.7h0M487.7 196.3h0M527.4 217.9h0M497.6 194.2h0M528.3 202.5h0M513.3 192.8h0M499.7 214.5h0M494.4 218.8h0M536.6 220.6h0M491.5 205.7h0M499.2 202.1h0M536.7 220.8h0M486.5 202.0h0M508.8 208.3h0M513.4 196.3h0M512.3 195.0h0M516.8 209.7h0M490.9 201.7h0M487.8 205.3h0M491.7 187.4h0M498.6 180.0h0M511.5 214.2h0M486.0 202.4h0M521.7 205.5h0M517.1 197.7h0M532.0 213.2h0M525.8 199.2h0M512.7 213.9h0M495.3 201.3h0M478.2 216.7h0M505.4 212.8h0M525.1 209.5h0M518.6 210.0h0M508.1 188.4h0M509.9 194.8h0M520.5 198.4h0M478.5 205.5h0M528.6 213.3h0M485.6 206.4h0M489.6 220.9h0M507.6 209.6h0M498.3 186.5h0M502.8 193.3h0M516.1 203.8h0M489.0 201.8h0M535.2 220.4h0M484.1 214.8h0M522.4 215.4h0M534.1 216.1h0M500.9 193.5h0M525.9 205.8h0M501.4 184.1h0M527.0 213.4h0M516.4 214.6h0M499.0 215.6h0M481.6 215.9h0M480.6 216.3h0M526.8 220.8h0M512.4 219.0h0M486.4 208.2h0M486.8 208.7h0M493.6 187.4h0M499.2 185.0h0M514.5 206.6h0M500.5 201.9h0M493.1 196.0h0M499.5 194.5h0M535.2 220.8h0M481.2 219.1h0M482.0 220.1h0M495.6 206.1h0M518.2 215.6h0M505.8 186.6h0M509.2 204.4h0M508.0 198.6h0M487.9 208.1h0M530.7 215.0h0M527.7 204.1h0M521.1 218.4h0M502.7 219.1h0M535.3 218.2h0M493.4 190.7h0M481.5 213.7h0M478.5 214.8h0M524.6 221.0h0M496.5 213.8h0M496.6 185.8h0M505.5 196.9h0M491.2 188.9h0M480.3 214.7h0M486.4 216.7h0M512.2 206.2h0M496.3 206.3h0M534.5 221.5h0M487.5 202.1h0M479.7 215.7h0M486.1 214.1h0M520.0 219.2h0M516.7 198.6h0M490.9 190.5h0M486.4 216.3h0M480.7 214.7h0M520.0 217.7h0M532.7 215.1h0M512.8 207.8h0M492.2 206.7h0M503.2 204.7h0M491.5 218.6h0M493.0 195.9h0M508.2 204.3h0M518.9 210.7h0M518.3 214.0h0M534.5 219.5h0M492.0 195.0h0M482.6 201.8h0M515.8 211.3h0M515.1 217.0h0M480.7 210.8h0M490.3 200.6h0M498.9 217.0h0M498.9 182.1h0M532.6 210.8h0M511.4 213.3h0M500.3 187.3h0M483.3 212.0h0M506.3 193.7h0M523.7 212.4h0M533.6 212.1h0M505.8 207.8h0M524.1 210.3h0M508.6 221.2h0M509.0 197.6h0M495.1 199.1h0M482.1 204.6h0M492.1 201.6h0M514.2 196.9h0M510.8 211.4h0M532.1 220.1h0M495.1 218.8h0M535.3 217.2h0M478.4 210.0h0M515.7 209.5h0M525.5 211.3h0M478.2 211.0h0M506.6 198.9h0M507.3 214.5h0M493.8 209.5h0M520.3 217.4h0M511.1 218.5h0M504.8 208.4h0M491.3 215.3h0M514.8 214.3h0M481.4 218.8h0M511.7 190.9h0M481.0 205.0h0M479.8 206.5h0M518.5 202.2h0M523.2 220.2h0M478.9 204.7h0M481.8 207.6h0M496.3 187.8h0M479.2 211.9h0M482.7 205.3h0M484.6 205.4h0M537.1 221.4h0M478.1 210.6h0M495.7 188.4h0M515.2 211.0h0M497.7 208.9h0M521.7 208.2h0M502.2 198.6h0M483.9 214.7h0M495.3 218.8h0M478.4 218.7h0M496.0 187.6h0M486.7 211.2h0M503.0 200.9h0M478.5 206.4h0M534.4 217.9h0M489.2 192.7h0M480.5 215.0h0M490.8 195.6h0M510.5 211.7h0M521.4 202.2h0M497.0 204.6h0M509.2 213.5h0M491.4 193.4h0M530.6 207.5h0M486.1 220.8h0M535.9 219.8h0M528.0 216.5h0M511.2 199.9h0M522.2 205.7h0M479.8 216.8h0M533.0 220.9h0M526.6 211.5h0M508.3 199.0h0M491.3 211.6h0M524.1 217.8h0M494.2 206.3h0M534.4 218.4h0M478.5 213.1h0M489.1 218.2h0M482.8 210.5h0M485.1 208.2h0M515.5 216.7h0M530.6 220.3h0M524.3 209.9h0M529.0 207.8h0M519.1 210.4h0M527.8 203.3h0M519.8 214.9h0M488.8 200.3h0M537.0 221.2h0M491.3 200.1h0M522.8 214.9h0M502.3 194.7h0M526.2 209.8h0M517.7 217.7h0M535.9 221.0h0M499.3 201.0h0M531.3 220.4h0M494.7 200.5h0M497.5 200.1h0M519.1 219.1h0M509.2 188.4h0M525.3 208.1h0M478.0 216.5h0M521.1 200.1h0M517.9 220.9h0M497.2 187.5h0M502.0 199.8h0M513.0 208.1h0M537.1 221.4h0M524.1 206.8h0M499.5 196.1h0M485.4 205.4h0M507.2 200.1h0M509.5 201.1h0M518.6 221.3h0M509.0 211.2h0M533.0 212.4h0M533.7 214.9h0M489.1 200.8h0M483.7 214.8h0M533.8 217.0h0M497.2 201.4h0M488.3 207.7h0M521.3 206.4h0M510.0 189.8h0M534.2 220.2h0M522.2 207.0h0M481.2 204.2h0M487.1 196.5h0M534.4 221.1h0M523.4 214.7h0M530.2 205.9h0M533.4 220.1h0M486.1 211.8h0M527.7 206.3h0M530.9 210.5h0M502.9 187.8h0M479.4 217.3h0M508.3 187.7h0M521.1 216.0h0M527.8 212.3h0M479.4 212.7h0M521.6 217.6h0M516.5 217.7h0M480.7 204.3h0M478.1 206.2h0M519.6 213.8h0M500.8 192.4h0M520.8 221.5h0M484.2 209.8h0M516.6 221.1h0M494.4 190.6h0M529.7 211.7h0M522.5 216.6h0M506.0 188.8h0M498.3 188.8h0M484.9 216.5h0M503.0 215.3h0M495.2 201.9h0M478.5 218.2h0M505.3 210.4h0M505.2 189.5h0M504.0 190.9h0M524.3 211.8h0M505.0 221.1h0M482.3 203.4h0M479.7 218.6h0M518.7 198.8h0M520.6 211.1h0M519.3 207.2h0M515.4 200.5h0M508.2 193.4h0M491.1 201.0h0M518.4 203.7h0M511.3 208.0h0M487.8 199.0h0M492.4 214.5h0M482.2 215.5h0M494.0 212.2h0M499.6 201.9h0M488.0 204.1h0M519.7 218.8h0M515.3 217.6h0M523.7 206.1h0M530.6 217.6h0M490.1 207.8h0M499.1 197.3h0M505.8 209.5h0M512.9 216.4h0M532.9 216.1h0M513.7 195.9h0M495.7 191.6h0M516.1 196.4h0M515.9 199.3h0M487.1 217.5h0M483.4 208.6h0M536.8 221.5h0M507.2 198.8h0M492.7 212.3h0M505.8 193.4h0M505.5 205.3h0M496.8 186.7h0M511.1 205.0h0M529.8 205.6h0M508.8 199.5h0M494.1 184.7h0M506.0 193.7h0M520.4 201.4h0M517.9 199.9h0M504.2 197.3h0M534.5 218.6h0M529.2 204.2h0M531.2 206.4h0M524.3 215.2h0M508.8 194.9h0M521.3 212.6h0M526.6 208.1h0M506.6 187.6h0M519.8 203.3h0M536.0 220.6h0M518.5 217.0h0M525.2 217.5h0M516.8 193.9h0M502.9 198.4h0M533.6 212.7h0M512.7 215.6h0M486.9 210.7h0M501.7 191.5h0M499.2 217.7h0M484.2 202.4h0M499.4 204.8h0M494.3 203.3h0M483.5 211.0h0M528.8 203.8h0M515.3 208.5h0M480.7 203.9h0M529.1 206.3h0M514.1 194.5h0M535.1 217.8h0M478.3 205.7h0M479.6 214.0h0M508.3 193.9h0M520.5 205.9h0M480.9 218.1h0M492.3 207.5h0M532.5 209.4h0M480.3 220.7h0M522.0 204.9h0M530.8 208.4h0M529.6 216.9h0M527.7 215.1h0M513.7 199.1h0M480.7 213.5h0M499.7 201.9h0M498.4 199.3h0M485.5 201.4h0M486.1 214.7h0M507.1 202.1h0M488.6 219.9h0M533.5 218.4h0M499.9 195.4h0M501.9 198.0h0M521.7 218.1h0M517.2 194.9h0M491.6 191.5h0M513.1 215.2h0M519.7 200.9h0M503.1 185.1h0M517.8 200.3h0M486.3 209.1h0M526.3 214.1h0M483.4 214.1h0M503.3 204.0h0M517.4 207.4h0M530.5 209.1h0M485.2 209.6h0M495.1 213.2h0M483.5 209.5h0M501.3 209.5h0M504.7 207.3h0M527.7 218.2h0M488.9 202.5h0M506.8 208.2h0M508.5 206.3h0M515.6 209.1h0M479.4 210.5h0M506.5 215.9h0M492.8 210.7h0M487.6 215.2h0M516.9 208.7h0M524.3 213.3h0M493.7 184.5h0M516.7 195.0h0M478.6 205.6h0M489.1 215.5h0M510.5 216.2h0M499.7 209.7h0M509.4 197.9h0M494.7 209.2h0M485.8 219.2h0M512.6 213.5h0M501.1 191.1h0M484.3 200.5h0M531.0 210.7h0M522.7 217.4h0M531.7 219.4h0M493.5 185.1h0M520.9 208.4h0M514.6 203.0h0M490.8 212.0h0M508.0 221.2h0M491.6 197.8h0M534.7 217.9h0M506.6 202.6h0M529.1 220.8h0M521.0 212.5h0M493.9 219.2h0M527.1 220.3h0M485.4 219.0h0M519.7 204.6h0M496.0 212.9h0M485.4 220.1h0M525.4 217.7h0M533.8 216.3h0M528.6 221.4h0M499.8 192.3h0M499.3 192.7h0M494.7 195.5h0M517.8 197.2h0M520.3 211.3h0M513.0 216.2h0M525.0 220.9h0M485.2 212.7h0M502.9 218.2h0M515.1 193.6h0M483.4 210.2h0M490.6 213.1h0M523.8 220.3h0M490.9 220.4h0M522.9 209.1h0M508.2 193.8h0M512.3 196.8h0M506.8 186.6h0M502.0 188.6h0M492.8 210.7h0M509.7 189.4h0M502.7 181.7h0M515.0 201.1h0M507.0 184.8h0M526.6 211.0h0M486.8 214.9h0M532.1 217.4h0M493.5 208.9h0M531.8 210.1h0M517.6 218.4h0M530.6 214.8h0M498.2 200.7h0M510.2 193.0h0M520.9 196.9h0M535.2 220.0h0M503.9 210.2h0M532.7 214.6h0M489.6 193.8h0M517.3 217.3h0M490.5 206.1h0M532.0 209.1h0M515.7 202.8h0M485.2 209.6h0M498.0 191.1h0M513.4 194.3h0M485.9 200.5h0M492.0 216.0h0M482.2 219.7h0M522.7 219.9h0M519.9 213.4h0M500.7 204.3h0M489.3 210.7h0M526.0 206.7h0M536.5 220.3h0M484.0 210.6h0M514.9 200.2h0M510.4 217.7h0M535.0 219.5h0M485.7 200.8h0M486.0 204.4h0M503.1 202.3h0M494.2 201.3h0M533.7 214.7h0M490.9 198.6h0M517.9 194.2h0M504.5 212.9h0M523.4 208.4h0M536.3 221.1h0M522.3 204.7h0M479.8 206.1h0M495.8 211.2h0M513.2 207.2h0M510.0 206.2h0M485.3 204.2h0M519.2 207.7h0M495.7 181.1h0M531.5 216.9h0M531.4 213.1h0M507.2 217.3h0M531.8 218.7h0M533.8 215.9h0M505.4 194.7h0M528.4 218.0h0M528.3 206.1h0M507.4 194.6h0M505.4 189.2h0M523.9 217.8h0M504.9 184.3h0M490.7 209.3h0M531.1 221.0h0M478.9 212.3h0M514.3 194.3h0M504.0 187.6h0M520.0 208.2h0M490.7 205.7h0M513.4 214.9h0M525.0 211.9h0M501.4 197.3h0M515.5 208.5h0M525.1 221.5h0M535.5 218.8h0M536.9 221.4h0M531.4 206.5h0M511.3 214.1h0M519.2 198.0h0M490.7 201.9h0M525.2 217.5h0M478.7 211.4h0M492.5 217.3h0M512.8 219.3h0M510.7 196.0h0M488.5 200.3h0M514.1 220.0h0M500.0 216.5h0M505.5 204.8h0M489.6 205.3h0M515.3 195.8h0M496.2 216.6h0M500.3 213.1h0M483.5 219.5h0M533.6 213.0h0M513.9 193.9h0M531.5 215.6h0M513.2 197.6h0M523.1 215.4h0M505.5 204.6h0M499.6 187.2h0M515.0 213.3h0M514.6 203.9h0M518.7 200.0h0M503.8 220.6h0M490.7 190.8h0M502.6 217.6h0M532.6 210.7h0M515.7 213.7h0M516.4 193.9h0M518.8 209.9h0M481.3 218.1h0M534.4 221.4h0M531.3 208.5h0M486.4 216.5h0M519.1 215.7h0M535.5 220.7h0M493.6 193.9h0M517.8 213.7h0M484.8 216.5h0M505.8 185.3h0M512.9 195.8h0M533.3 211.9h0M512.8 208.3h0M530.6 203.5h0M494.7 208.6h0M495.6 193.7h0M481.0 214.9h0M531.4 206.4h0M485.1 212.4h0M534.1 215.5h0M479.0 212.1h0M493.9 202.9h0M499.7 200.7h0M523.9 197.4h0M502.9 212.9h0M482.1 205.3h0M483.9 211.4h0M512.0 215.9h0M495.3 186.8h0M534.0 220.2h0M530.7 217.5h0M526.2 206.5h0M503.1 192.5h0M509.0 189.3h0M512.7 220.8h0M502.7 196.9h0M530.0 208.5h0M489.8 220.6h0M525.7 215.3h0M509.4 197.4h0M522.7 211.0h0M535.0 220.9h0M510.7 209.2h0M479.4 217.0h0M488.1 209.2h0M492.0 197.7h0M537.0 221.4h0M533.2 216.0h0M478.1 212.5h0M510.8 197.4h0M529.9 219.1h0M486.9 215.3h0M491.4 200.2h0M519.8 197.4h0M491.1 201.8h0M505.5 204.9h0M500.8 217.5h0M513.3 199.8h0M491.2 212.5h0M520.2 197.7h0M482.5 206.3h0M479.3 214.5h0M533.0 220.6h0M513.1 219.2h0M533.7 214.9h0M493.0 212.3h0M496.9 194.2h0M529.9 214.2h0M532.4 209.3h0M481.0 214.1h0M496.9 183.3h0M534.5 215.0h0M530.6 209.9h0M529.7 208.8h0M520.7 206.4h0M536.1 220.3h0M492.0 208.9h0M513.3 195.5h0M522.0 218.6h0M501.7 198.7h0M514.3 208.0h0M511.8 207.7h0M481.7 203.6h0M479.9 208.7h0M525.7 218.7h0M496.1 209.0h0M494.6 195.8h0M503.4 203.6h0M488.7 200.8h0M492.2 207.1h0M534.7 216.3h0M535.2 220.9h0M536.2 221.2h0M514.3 217.0h0M488.8 206.5h0M488.9 201.9h0M527.9 201.3h0M517.4 216.9h0M522.8 209.9h0M524.8 204.2h0M510.3 209.8h0M507.4 199.6h0M526.0 197.9h0M507.2 193.1h0M515.4 221.1h0M506.8 198.2h0M536.2 220.8h0M522.1 209.0h0M483.0 202.0h0M533.0 221.0h0M484.4 207.0h0M495.1 211.3h0M527.0 218.4h0M489.8 203.6h0M485.1 200.4h0M533.5 214.6h0M485.2 212.8h0M485.3 201.6h0M534.2 220.2h0M500.6 201.2h0M532.0 221.3h0M516.7 198.1h0M524.1 211.0h0M483.5 216.9h0M499.8 186.4h0M523.6 215.6h0M491.6 190.9h0M496.6 219.2h0M507.6 191.1h0M498.9 203.1h0M527.5 211.7h0M493.2 212.3h0M499.4 218.6h0M519.1 197.2h0M485.3 201.3h0M514.4 214.3h0M486.6 206.0h0M510.9 217.5h0M525.1 216.3h0M530.0 215.7h0M508.1 211.6h0M513.5 197.8h0M486.2 210.1h0M498.9 200.6h0M508.1 219.7h0M516.3 208.5h0M524.4 208.7h0M492.1 205.1h0M501.9 220.1h0M528.7 204.2h0M487.8 196.4h0M529.4 210.9h0M504.3 215.1h0M489.0 211.6h0M504.6 193.0h0M490.0 219.3h0M485.1 200.4h0M492.1 215.1h0M490.1 218.0h0M512.8 203.8h0M529.9 219.3h0M514.2 219.0h0M480.1 211.5h0M530.4 204.8h0M478.3 221.4h0M485.5 203.5h0M483.4 218.3h0M529.2 219.3h0M481.8 203.1h0M515.5 210.8h0M492.4 191.1h0M495.6 199.9h0M527.7 212.0h0M515.2 199.7h0M508.3 217.8h0M478.1 216.9h0M492.2 220.4h0M505.1 202.4h0M515.9 216.6h0M489.6 212.4h0M497.5 217.9h0M536.2 220.0h0M524.9 213.3h0M487.3 205.9h0M492.7 189.2h0M486.3 213.8h0M500.1 215.6h0M479.1 207.2h0M533.0 221.1h0M514.1 205.2h0M520.7 220.1h0M536.3 220.8h0M531.1 219.4h0M496.0 218.4h0M499.0 204.6h0M505.0 185.2h0M491.1 218.5h0M520.8 219.7h0M491.6 206.6h0M501.0 188.3h0M533.3 211.8h0M500.7 186.8h0M508.4 192.5h0M533.7 213.2h0M479.1 209.6h0M505.2 198.4h0M509.6 194.6h0M526.7 205.5h0M495.1 221.2h0M484.0 218.3h0M500.7 212.4h0M481.6 214.8h0M536.6 220.3h0M529.2 211.9h0M502.0 212.1h0M504.0 209.4h0M523.6 211.8h0M494.3 206.6h0M483.6 204.9h0M500.6 196.6h0M524.4 205.0h0M491.8 208.0h0M496.4 184.6h0M478.6 205.2h0M535.7 220.5h0M511.9 202.6h0M487.6 218.2h0M509.7 198.6h0M494.7 210.1h0M502.1 217.0h0M506.7 192.3h0M495.7 213.6h0M478.1 207.0h0M516.0 219.7h0M527.6 199.5h0M530.3 217.4h0M525.3 197.8h0M506.2 216.6h0M535.6 220.3h0M525.2 200.2h0M481.1 216.4h0M492.6 194.1h0M507.4 193.3h0M497.8 197.8h0M486.5 221.3h0M482.2 211.6h0M487.3 220.6h0M512.9 213.4h0M504.0 201.1h0M518.2 216.6h0M528.7 204.8h0M503.0 187.7h0M528.2 219.2h0M499.6 209.3h0M520.9 204.2h0M480.9 217.1h0M506.6 220.3h0M494.6 187.9h0M522.4 210.2h0M480.6 206.5h0M491.4 204.3h0M479.0 209.9h0M515.3 193.9h0M513.6 196.5h0M482.2 207.3h0M488.8 194.0h0M480.2 217.0h0M519.8 205.7h0M481.7 220.3h0M481.7 215.6h0M480.7 221.1h0M481.7 207.4h0M486.1 204.4h0M506.1 195.2h0M478.9 206.9h0M517.7 216.5h0M497.4 201.5h0M534.6 220.0h0M483.8 218.7h0M485.9 211.9h0M531.0 204.4h0M499.9 184.6h0M523.0 219.2h0M500.3 219.1h0M506.7 192.9h0M490.0 217.2h0M533.9 218.9h0M480.4 210.1h0M480.5 216.5h0M531.2 217.8h0M502.5 203.4h0M536.2 219.8h0M526.9 217.3h0M510.5 214.6h0M504.8 184.6h0M499.3 196.4h0M521.0 207.0h0M480.1 212.8h0M515.8 220.1h0M504.8 183.4h0M533.2 215.3h0M498.1 183.0h0M481.7 211.8h0M515.7 212.8h0M523.1 198.9h0M521.7 208.1h0M492.2 216.1h0M496.0 187.5h0M499.4 209.5h0M516.7 211.8h0M487.4 205.2h0M520.3 205.9h0M507.0 189.7h0M523.9 213.6h0M522.4 196.3h0M533.3 221.2h0M509.7 213.9h0M491.1 196.9h0M516.9 212.7h0M519.6 202.2h0M483.7 220.0h0M521.0 197.2h0M498.3 214.9h0M520.1 213.8h0M484.5 218.2h0M526.8 200.3h0M496.3 182.5h0M528.5 207.1h0M517.3 208.0h0M489.6 208.2h0M498.9 193.6h0M499.4 184.3h0M510.8 215.4h0M485.2 214.4h0M489.8 195.7h0M520.3 209.3h0M491.5 208.4h0M495.9 216.7h0M523.5 197.9h0M516.9 221.1h0M513.0 201.4h0M522.8 218.6h0M503.9 190.2h0M487.4 209.2h0M493.7 213.5h0M512.2 218.4h0M501.3 218.2h0M492.2 214.1h0M501.4 212.7h0M507.9 195.4h0M526.9 215.5h0M530.1 202.3h0M535.2 218.4h0M509.9 193.3h0M497.3 221.3h0M505.7 215.8h0M507.7 197.5h0M494.6 182.3h0M490.5 196.5h0M480.6 210.0h0M479.3 210.7h0M481.7 205.1h0M535.4 219.2h0M492.4 208.7h0M513.3 216.3h0M520.5 207.4h0M530.2 210.9h0M478.7 211.5h0M500.2 198.9h0M533.4 217.1h0M497.1 182.7h0M508.1 204.4h0M532.9 217.6h0M493.4 214.7h0M534.9 216.6h0M527.0 203.3h0M524.5 213.8h0M482.3 215.0h0M494.1 202.1h0M509.0 207.2h0M490.5 208.8h0M494.8 206.1h0M511.6 201.2h0M499.9 206.7h0M479.4 208.3h0M525.1 220.9h0M493.1 187.9h0M506.2 209.8h0M521.8 215.9h0M529.8 201.6h0M509.4 186.9h0M481.6 206.9h0M518.7 204.6h0M536.8 221.2h0M482.7 209.7h0M526.3 201.5h0M533.0 219.1h0M503.6 213.2h0M516.7 216.7h0M526.9 218.3h0M521.9 204.4h0M516.1 193.8h0M533.9 221.5h0M483.8 199.6h0M484.3 198.2h0M485.7 196.1h0M485.6 198.3h0M484.4 197.9h0M482.7 197.0h0M481.5 193.1h0M478.1 204.1h0M478.1 204.2h0M479.0 194.2h0M482.7 199.8h0M480.6 199.7h0M496.9 179.8h0M531.1 204.1h0M514.6 188.8h0M508.5 181.1h0M505.0 182.2h0M509.6 184.1h0M489.9 190.0h0M530.0 200.5h0M530.2 199.9h0M503.5 170.1h0M537.2 206.7h0M494.4 168.7h0M535.9 206.8h0M525.8 194.5h0M497.2 176.3h0M527.5 198.9h0M499.2 178.9h0M517.3 191.8h0M528.0 192.3h0M540.5 207.8h0M533.2 200.2h0M530.3 199.6h0M536.0 209.5h0M490.9 180.3h0M500.3 177.9h0M507.3 180.8h0M539.2 218.2h0M486.6 193.9h0M498.7 174.6h0M523.2 192.9h0M521.3 193.3h0M491.7 184.8h0M494.9 173.8h0M486.9 196.8h0M528.3 196.6h0M512.0 189.6h0M535.0 212.8h0M522.6 191.6h0M513.8 185.2h0M538.9 202.0h0M519.6 193.1h0M492.9 175.2h0M522.5 189.1h0M506.3 181.5h0M537.5 201.6h0M535.7 217.2h0M521.1 193.6h0M505.9 179.6h0M497.2 178.6h0M540.1 216.6h0M509.8 187.0h0M493.5 176.4h0M519.8 191.6h0M529.5 195.6h0M541.2 209.1h0M526.2 194.5h0M534.6 201.3h0M493.2 179.8h0M535.4 214.6h0M515.8 190.7h0M503.2 179.8h0M529.4 195.6h0M489.7 187.0h0M524.5 195.9h0M498.4 170.9h0M537.2 207.1h0M500.8 168.0h0M510.0 177.8h0M541.4 219.8h0M524.5 196.3h0M530.1 196.3h0M499.9 174.6h0M530.1 201.1h0M538.4 204.1h0M513.3 189.4h0M501.1 179.4h0M510.1 185.1h0M487.8 190.4h0M520.5 194.1h0M498.2 175.6h0M531.0 200.4h0M499.9 174.1h0M521.1 190.4h0M533.4 211.2h0M528.1 196.3h0M534.5 212.6h0M532.9 201.7h0M520.6 194.1h0M499.6 172.8h0M495.6 177.3h0M536.6 219.4h0M490.6 187.0h0M498.8 165.9h0M496.1 173.6h0M506.7 172.2h0M522.0 191.8h0M496.1 176.3h0M512.9 190.5h0M506.9 183.1h0M504.0 176.7h0M502.8 174.5h0M520.5 191.0h0M522.4 193.5h0M491.1 182.0h0M491.8 182.0h0M491.0 185.5h0M505.0 175.4h0M520.9 193.4h0M495.1 175.7h0M489.5 189.7h0M494.2 181.0h0M523.5 191.4h0M532.8 209.0h0M522.7 190.0h0M490.5 188.9h0M516.2 191.8h0M502.4 175.6h0M529.8 195.3h0M542.2 219.8h0M494.7 177.3h0M525.9 196.0h0M513.5 186.9h0M518.6 193.3h0M515.5 184.4h0M492.3 176.9h0M511.3 188.8h0M523.7 194.0h0M535.2 204.6h0M493.4 177.2h0M504.9 174.5h0M522.0 190.6h0M516.3 191.4h0M528.3 199.6h0M488.4 191.9h0M504.8 181.8h0M539.9 203.1h0M535.4 213.6h0M489.7 190.5h0M498.7 175.8h0M502.0 174.0h0M540.1 210.6h0M501.5 177.3h0M528.4 196.1h0M511.1 187.5h0M491.0 188.1h0M531.6 202.9h0M494.1 182.8h0M516.9 191.4h0M517.9 193.6h0M539.3 206.6h0M530.2 200.8h0M534.2 213.2h0M542.0 211.8h0M518.1 191.1h0M519.2 193.3h0M503.5 174.0h0M497.6 178.5h0M532.9 205.5h0M496.9 175.4h0M522.6 194.7h0M530.9 201.6h0M520.2 188.1h0M541.1 221.1h0M537.6 215.8h0M532.8 202.0h0M488.4 187.5h0M533.2 208.9h0M510.7 183.8h0M520.0 194.1h0M486.5 196.9h0M487.8 187.3h0M490.4 187.9h0M496.3 166.3h0M526.7 195.9h0M493.7 178.0h0M519.6 189.0h0M508.4 180.6h0M488.8 183.6h0M527.9 198.8h0M505.1 175.2h0M535.6 210.9h0M505.3 174.1h0M512.7 188.8h0M531.2 200.9h0M534.2 204.2h0M518.5 187.1h0M542.9 210.9h0M523.7 195.6h0M545.7 211.5h0M531.9 205.4h0M534.8 217.6h0M543.3 215.2h0M540.5 200.7h0M540.0 215.0h0M534.2 211.7h0M535.9 209.1h0M545.2 197.4h0M535.7 201.7h0M535.6 215.1h0M545.0 220.5h0M544.4 203.8h0M541.4 204.0h0M544.9 201.3h0M539.5 220.9h0M538.2 207.9h0M531.3 198.6h0M538.1 217.6h0M535.4 218.0h0M539.6 208.3h0M541.0 198.7h0M542.8 215.0h0M537.1 196.1h0M540.8 212.0h0M529.8 200.2h0M538.5 197.3h0M534.5 206.5h0M484.0 151.0h0M498.0 148.7h0M497.7 154.8h0M512.3 169.9h0M539.8 191.1h0M550.3 202.4h0M654.2 190.4h0M662.1 183.4h0M479.0 186.2h0M481.9 194.1h0M484.6 188.0h0M496.0 161.2h0M499.0 169.1h0M506.5 171.8h0M510.9 177.5h0M517.0 182.4h0M520.5 189.2h0M524.9 188.0h0M528.4 195.2h0M538.9 191.4h0M542.4 195.2h0M541.6 202.0h0M536.3 209.2h0M541.6 215.3h0M534.5 218.7h0" stroke="#f0321e" stroke-width="3.5" stroke-linecap="round" fill="none"/>
<path d="M435.5 221.3h0M438.3 220.0h0M425.1 217.6h0M437.7 221.2h0M436.9 214.6h0M430.3 220.3h0M434.2 220.5h0M441.5 216.4h0M438.5 220.3h0M428.7 218.1h0M442.0 217.4h0M434.7 213.0h0M438.4 216.7h0M441.1 218.7h0M433.1 218.3h0M440.1 219.8h0M427.4 214.8h0M435.7 213.0h0M438.5 217.0h0M423.4 212.7h0M438.9 220.0h0M438.4 218.6h0M441.0 218.7h0M432.6 219.8h0M436.1 219.2h0M441.2 220.9h0M438.1 216.2h0M433.4 218.1h0M438.7 219.1h0M438.8 221.1h0M433.9 217.9h0M436.4 220.7h0M433.6 218.6h0M435.3 221.0h0M424.9 221.0h0M438.8 221.3h0M423.2 214.3h0M423.1 220.1h0M426.2 220.1h0M441.5 219.4h0M435.2 221.0h0M440.0 220.5h0M425.9 217.0h0M430.3 220.8h0M425.1 220.1h0M438.0 218.2h0M433.9 217.3h0M424.0 220.6h0M437.3 219.1h0M435.0 216.4h0M439.8 214.6h0M431.9 217.8h0M439.2 220.9h0M439.5 220.1h0M439.2 221.3h0M430.7 214.3h0M441.3 212.1h0M437.9 215.4h0M432.1 221.5h0M436.0 218.6h0M431.7 221.0h0M427.0 214.1h0M433.8 219.9h0M431.6 217.1h0M430.4 220.4h0M423.1 220.9h0M432.1 220.9h0M423.3 219.6h0M430.2 214.1h0M427.4 216.9h0M433.6 220.2h0M441.7 221.4h0M424.8 221.0h0M439.4 219.3h0M423.4 220.1h0M438.1 142.7h0M438.1 149.5h0M440.7 161.2h0M417.9 183.5h0M426.7 188.4h0M429.3 190.3h0M418.2 195.6h0M418.2 201.7h0M407.4 209.2h0M405.0 216.8h0M414.4 221.3h0M440.7 187.3h0M437.2 191.4h0M436.3 196.4h0M439.4 198.2h0M434.1 200.1h0M439.8 202.8h0M433.1 198.6h0M442.5 126.1h0M420.7 59.7h0M412.6 220.6h0M421.4 218.3h0M440.7 203.2h0M439.8 205.8h0M425.8 211.5h0M422.3 213.7h0M420.5 216.8h0M428.4 208.5h0" stroke="#2a2ae6" stroke-width="3.5" stroke-linecap="round" fill="none"/>
<line x1="442.5" y1="36.4" x2="442.5" y2="234.6" stroke="#555" stroke-width="0.6" stroke-dasharray="3 2.6"/>
<line x1="477.5" y1="36.4" x2="477.5" y2="234.6" stroke="#555" stroke-width="0.6" stroke-dasharray="3 2.6"/>
<line x1="385.2" y1="221.7" x2="685" y2="221.7" stroke="#555" stroke-width="0.6" stroke-dasharray="3 2.6"/>
<circle cx="424.4" cy="48.6" r="2.3" fill="#000"/>
<circle cx="477.1" cy="223.3" r="2.3" fill="#000"/>
<circle cx="502.9" cy="161.8" r="2.3" fill="#000"/>
<circle cx="502.9" cy="221.3" r="2.3" fill="#000"/>
<line x1="502.9" y1="161.8" x2="506.8" y2="158" stroke="#000" stroke-width="0.5"/>
<text x="423.7" y="45" font-size="7.7" fill="#111">MSRB2</text>
<text x="402.7" y="57.4" font-size="7.7" fill="#111">MSRB1</text>
<text x="499.2" y="156.4" font-size="7.7" fill="#111">SMPD1</text>
<text x="502.9" y="217.2" font-size="7.7" fill="#111">EPHX1</text>
<text x="449" y="233" font-size="7.7" fill="#111">SLC23A3</text>
<text x="381.3" y="229.9" font-size="9.5" text-anchor="end" fill="#4d4d4d">0</text>
<text x="381.3" y="211" font-size="9.5" text-anchor="end" fill="#4d4d4d">5</text>
<text x="381.3" y="192.1" font-size="9.5" text-anchor="end" fill="#4d4d4d">10</text>
<text x="381.3" y="173.2" font-size="9.5" text-anchor="end" fill="#4d4d4d">15</text>
<text x="381.3" y="154.3" font-size="9.5" text-anchor="end" fill="#4d4d4d">20</text>
<text x="381.3" y="135.4" font-size="9.5" text-anchor="end" fill="#4d4d4d">25</text>
<text x="381.3" y="116.5" font-size="9.5" text-anchor="end" fill="#4d4d4d">30</text>
<text x="381.3" y="97.6" font-size="9.5" text-anchor="end" fill="#4d4d4d">35</text>
<text x="381.3" y="78.7" font-size="9.5" text-anchor="end" fill="#4d4d4d">40</text>
<text x="381.3" y="59.8" font-size="9.5" text-anchor="end" fill="#4d4d4d">45</text>
<text x="398.6" y="247.2" font-size="9.5" text-anchor="middle" fill="#4d4d4d">-7</text>
<text x="416.1" y="247.2" font-size="9.5" text-anchor="middle" fill="#4d4d4d">-5</text>
<text x="433.7" y="247.2" font-size="9.5" text-anchor="middle" fill="#4d4d4d">-3</text>
<text x="451.2" y="247.2" font-size="9.5" text-anchor="middle" fill="#4d4d4d">-1</text>
<text x="468.8" y="247.2" font-size="9.5" text-anchor="middle" fill="#4d4d4d">1</text>
<text x="486.3" y="247.2" font-size="9.5" text-anchor="middle" fill="#4d4d4d">3</text>
<text x="503.9" y="247.2" font-size="9.5" text-anchor="middle" fill="#4d4d4d">5</text>
<text x="521.4" y="247.2" font-size="9.5" text-anchor="middle" fill="#4d4d4d">7</text>
<text x="538.9" y="247.2" font-size="9.5" text-anchor="middle" fill="#4d4d4d">9</text>
<text x="556.5" y="247.2" font-size="9.5" text-anchor="middle" fill="#4d4d4d">11</text>
<text x="574" y="247.2" font-size="9.5" text-anchor="middle" fill="#4d4d4d">13</text>
<text x="591.5" y="247.2" font-size="9.5" text-anchor="middle" fill="#4d4d4d">15</text>
<text x="609.1" y="247.2" font-size="9.5" text-anchor="middle" fill="#4d4d4d">17</text>
<text x="626.6" y="247.2" font-size="9.5" text-anchor="middle" fill="#4d4d4d">19</text>
<text x="644.2" y="247.2" font-size="9.5" text-anchor="middle" fill="#4d4d4d">21</text>
<text x="661.7" y="247.2" font-size="9.5" text-anchor="middle" fill="#4d4d4d">23</text>
<text x="534.5" y="258" font-size="11" text-anchor="middle" font-weight="bold" fill="#111">log2FoldChange</text>
<text x="367.4" y="135.5" font-size="11" text-anchor="middle" font-weight="bold" fill="#111" transform="rotate(-90 367.4 135.5)">-log10(pvalue)</text>
<circle cx="416.6" cy="276.8" r="1.9" fill="#2a2ae6"/>
<circle cx="505.6" cy="276.8" r="1.9" fill="#bdbdbd"/>
<circle cx="585.9" cy="276.8" r="1.9" fill="#f0321e"/>
<text x="422.8" y="280.6" font-size="11" fill="#222">down-regulated</text>
<text x="511.5" y="280.6" font-size="11" fill="#222">not significant</text>
<text x="591.4" y="280.6" font-size="11" fill="#222">up-regulated</text>
<text x="19" y="309.4" font-size="12.5" fill="#000" stroke="#000" stroke-width="0.2">C</text>
<rect x="46.00" y="325.30" width="17.60" height="12.60" fill="#c5555a"/>
<rect x="63.60" y="325.30" width="17.60" height="12.60" fill="#d7959a"/>
<rect x="81.20" y="325.30" width="17.60" height="12.60" fill="#d6979b"/>
<rect x="98.80" y="325.30" width="17.60" height="12.60" fill="#ffffff"/>
<rect x="116.40" y="325.30" width="17.60" height="12.60" fill="#e8c4c7"/>
<rect x="134.00" y="325.30" width="17.60" height="12.60" fill="#8fbde6"/>
<rect x="151.60" y="325.30" width="17.60" height="12.60" fill="#eaf2fa"/>
<rect x="169.20" y="325.30" width="17.60" height="12.60" fill="#dceaf6"/>
<rect x="186.80" y="325.30" width="17.60" height="12.60" fill="#c0daf0"/>
<rect x="204.40" y="325.30" width="17.60" height="12.60" fill="#cfe3f3"/>
<rect x="222.00" y="325.30" width="17.60" height="12.60" fill="#a8cdec"/>
<rect x="239.60" y="325.30" width="17.60" height="12.60" fill="#c0dbf1"/>
<rect x="46.00" y="337.90" width="17.60" height="12.60" fill="#c24a4f"/>
<rect x="63.60" y="337.90" width="17.60" height="12.60" fill="#d58b8f"/>
<rect x="81.20" y="337.90" width="17.60" height="12.60" fill="#d48e92"/>
<rect x="98.80" y="337.90" width="17.60" height="12.60" fill="#d5e6f4"/>
<rect x="116.40" y="337.90" width="17.60" height="12.60" fill="#ffffff"/>
<rect x="134.00" y="337.90" width="17.60" height="12.60" fill="#a7cceb"/>
<rect x="151.60" y="337.90" width="17.60" height="12.60" fill="#cbe1f2"/>
<rect x="169.20" y="337.90" width="17.60" height="12.60" fill="#e5f0f9"/>
<rect x="186.80" y="337.90" width="17.60" height="12.60" fill="#d0e4f4"/>
<rect x="204.40" y="337.90" width="17.60" height="12.60" fill="#deebf6"/>
<rect x="222.00" y="337.90" width="17.60" height="12.60" fill="#bcd8f0"/>
<rect x="239.60" y="337.90" width="17.60" height="12.60" fill="#cfe2f3"/>
<rect x="46.00" y="350.50" width="17.60" height="12.60" fill="#c24a4f"/>
<rect x="63.60" y="350.50" width="17.60" height="12.60" fill="#dfadb0"/>
<rect x="81.20" y="350.50" width="17.60" height="12.60" fill="#d28589"/>
<rect x="98.80" y="350.50" width="17.60" height="12.60" fill="#ebf3fa"/>
<rect x="116.40" y="350.50" width="17.60" height="12.60" fill="#f2e2e3"/>
<rect x="134.00" y="350.50" width="17.60" height="12.60" fill="#a0c8ea"/>
<rect x="151.60" y="350.50" width="17.60" height="12.60" fill="#d6e7f5"/>
<rect x="169.20" y="350.50" width="17.60" height="12.60" fill="#e0edf8"/>
<rect x="186.80" y="350.50" width="17.60" height="12.60" fill="#c7def2"/>
<rect x="204.40" y="350.50" width="17.60" height="12.60" fill="#d6e7f5"/>
<rect x="222.00" y="350.50" width="17.60" height="12.60" fill="#b4d3ee"/>
<rect x="239.60" y="350.50" width="17.60" height="12.60" fill="#c2dbf1"/>
<rect x="46.00" y="363.10" width="17.60" height="12.60" fill="#b8282c"/>
<rect x="63.60" y="363.10" width="17.60" height="12.60" fill="#e8c6c9"/>
<rect x="81.20" y="363.10" width="17.60" height="12.60" fill="#daa2a6"/>
<rect x="98.80" y="363.10" width="17.60" height="12.60" fill="#e8f1f9"/>
<rect x="116.40" y="363.10" width="17.60" height="12.60" fill="#ffffff"/>
<rect x="134.00" y="363.10" width="17.60" height="12.60" fill="#bad7ef"/>
<rect x="151.60" y="363.10" width="17.60" height="12.60" fill="#d3e6f4"/>
<rect x="169.20" y="363.10" width="17.60" height="12.60" fill="#e0eef8"/>
<rect x="186.80" y="363.10" width="17.60" height="12.60" fill="#c4dcf0"/>
<rect x="204.40" y="363.10" width="17.60" height="12.60" fill="#d5e6f5"/>
<rect x="222.00" y="363.10" width="17.60" height="12.60" fill="#cde1f3"/>
<rect x="239.60" y="363.10" width="17.60" height="12.60" fill="#d9e9f6"/>
<rect x="46.00" y="375.70" width="17.60" height="12.60" fill="#bc3438"/>
<rect x="63.60" y="375.70" width="17.60" height="12.60" fill="#d89a9e"/>
<rect x="81.20" y="375.70" width="17.60" height="12.60" fill="#dba7aa"/>
<rect x="98.80" y="375.70" width="17.60" height="12.60" fill="#d0e3f2"/>
<rect x="116.40" y="375.70" width="17.60" height="12.60" fill="#d6e7f4"/>
<rect x="134.00" y="375.70" width="17.60" height="12.60" fill="#cde1f2"/>
<rect x="151.60" y="375.70" width="17.60" height="12.60" fill="#d7e8f5"/>
<rect x="169.20" y="375.70" width="17.60" height="12.60" fill="#d7e8f5"/>
<rect x="186.80" y="375.70" width="17.60" height="12.60" fill="#d7e8f5"/>
<rect x="204.40" y="375.70" width="17.60" height="12.60" fill="#d5e6f5"/>
<rect x="222.00" y="375.70" width="17.60" height="12.60" fill="#d3e5f4"/>
<rect x="239.60" y="375.70" width="17.60" height="12.60" fill="#d7e8f5"/>
<rect x="46.00" y="388.30" width="17.60" height="12.60" fill="#bd3539"/>
<rect x="63.60" y="388.30" width="17.60" height="12.60" fill="#d48c90"/>
<rect x="81.20" y="388.30" width="17.60" height="12.60" fill="#e2bdc0"/>
<rect x="98.80" y="388.30" width="17.60" height="12.60" fill="#d3e5f4"/>
<rect x="116.40" y="388.30" width="17.60" height="12.60" fill="#d8e9f6"/>
<rect x="134.00" y="388.30" width="17.60" height="12.60" fill="#d0e3f3"/>
<rect x="151.60" y="388.30" width="17.60" height="12.60" fill="#d7e8f5"/>
<rect x="169.20" y="388.30" width="17.60" height="12.60" fill="#d9e9f6"/>
<rect x="186.80" y="388.30" width="17.60" height="12.60" fill="#dae9f6"/>
<rect x="204.40" y="388.30" width="17.60" height="12.60" fill="#d9e9f6"/>
<rect x="222.00" y="388.30" width="17.60" height="12.60" fill="#d5e6f5"/>
<rect x="239.60" y="388.30" width="17.60" height="12.60" fill="#d9e9f6"/>
<rect x="46.00" y="400.90" width="17.60" height="12.60" fill="#ba3035"/>
<rect x="63.60" y="400.90" width="17.60" height="12.60" fill="#d48a8e"/>
<rect x="81.20" y="400.90" width="17.60" height="12.60" fill="#e2bcbf"/>
<rect x="98.80" y="400.90" width="17.60" height="12.60" fill="#d3e5f4"/>
<rect x="116.40" y="400.90" width="17.60" height="12.60" fill="#d6e7f5"/>
<rect x="134.00" y="400.90" width="17.60" height="12.60" fill="#cfe2f3"/>
<rect x="151.60" y="400.90" width="17.60" height="12.60" fill="#d5e7f5"/>
<rect x="169.20" y="400.90" width="17.60" height="12.60" fill="#dae9f6"/>
<rect x="186.80" y="400.90" width="17.60" height="12.60" fill="#d9e9f6"/>
<rect x="204.40" y="400.90" width="17.60" height="12.60" fill="#d9e9f6"/>
<rect x="222.00" y="400.90" width="17.60" height="12.60" fill="#d1e4f4"/>
<rect x="239.60" y="400.90" width="17.60" height="12.60" fill="#d7e8f5"/>
<rect x="46.00" y="413.50" width="17.60" height="12.60" fill="#ba3035"/>
<rect x="63.60" y="413.50" width="17.60" height="12.60" fill="#d48a8e"/>
<rect x="81.20" y="413.50" width="17.60" height="12.60" fill="#e2bcbf"/>
<rect x="98.80" y="413.50" width="17.60" height="12.60" fill="#d3e5f4"/>
<rect x="116.40" y="413.50" width="17.60" height="12.60" fill="#d6e7f5"/>
<rect x="134.00" y="413.50" width="17.60" height="12.60" fill="#cfe2f3"/>
<rect x="151.60" y="413.50" width="17.60" height="12.60" fill="#d3e5f4"/>
<rect x="169.20" y="413.50" width="17.60" height="12.60" fill="#d8e8f5"/>
<rect x="186.80" y="413.50" width="17.60" height="12.60" fill="#d7e8f5"/>
<rect x="204.40" y="413.50" width="17.60" height="12.60" fill="#d8e8f5"/>
<rect x="222.00" y="413.50" width="17.60" height="12.60" fill="#d1e4f4"/>
<rect x="239.60" y="413.50" width="17.60" height="12.60" fill="#d5e6f5"/>
<rect x="46.00" y="426.10" width="17.60" height="12.60" fill="#b9292d"/>
<rect x="63.60" y="426.10" width="17.60" height="12.60" fill="#d89da0"/>
<rect x="81.20" y="426.10" width="17.60" height="12.60" fill="#e1b3b7"/>
<rect x="98.80" y="426.10" width="17.60" height="12.60" fill="#d3e5f4"/>
<rect x="116.40" y="426.10" width="17.60" height="12.60" fill="#f2f6fa"/>
<rect x="134.00" y="426.10" width="17.60" height="12.60" fill="#bbd7ef"/>
<rect x="151.60" y="426.10" width="17.60" height="12.60" fill="#d5e7f5"/>
<rect x="169.20" y="426.10" width="17.60" height="12.60" fill="#ebf2fa"/>
<rect x="186.80" y="426.10" width="17.60" height="12.60" fill="#d6e7f5"/>
<rect x="204.40" y="426.10" width="17.60" height="12.60" fill="#d8e8f5"/>
<rect x="222.00" y="426.10" width="17.60" height="12.60" fill="#c3dcf1"/>
<rect x="239.60" y="426.10" width="17.60" height="12.60" fill="#dbeaf6"/>
<rect x="46.00" y="438.70" width="17.60" height="12.60" fill="#b92d31"/>
<rect x="63.60" y="438.70" width="17.60" height="12.60" fill="#d6959a"/>
<rect x="81.20" y="438.70" width="17.60" height="12.60" fill="#e2b6ba"/>
<rect x="98.80" y="438.70" width="17.60" height="12.60" fill="#e3eff9"/>
<rect x="116.40" y="438.70" width="17.60" height="12.60" fill="#f4f8fb"/>
<rect x="134.00" y="438.70" width="17.60" height="12.60" fill="#b8d6ef"/>
<rect x="151.60" y="438.70" width="17.60" height="12.60" fill="#d6e7f5"/>
<rect x="169.20" y="438.70" width="17.60" height="12.60" fill="#d8e8f5"/>
<rect x="186.80" y="438.70" width="17.60" height="12.60" fill="#d3e5f4"/>
<rect x="204.40" y="438.70" width="17.60" height="12.60" fill="#e1edf7"/>
<rect x="222.00" y="438.70" width="17.60" height="12.60" fill="#c6def1"/>
<rect x="239.60" y="438.70" width="17.60" height="12.60" fill="#c6ddf1"/>
<rect x="46.00" y="451.30" width="17.60" height="12.60" fill="#c3474c"/>
<rect x="63.60" y="451.30" width="17.60" height="12.60" fill="#c95a5f"/>
<rect x="81.20" y="451.30" width="17.60" height="12.60" fill="#f2e3e4"/>
<rect x="98.80" y="451.30" width="17.60" height="12.60" fill="#e1edf7"/>
<rect x="116.40" y="451.30" width="17.60" height="12.60" fill="#f5e8e8"/>
<rect x="134.00" y="451.30" width="17.60" height="12.60" fill="#a2c8ea"/>
<rect x="151.60" y="451.30" width="17.60" height="12.60" fill="#e4eff9"/>
<rect x="169.20" y="451.30" width="17.60" height="12.60" fill="#f4f8fc"/>
<rect x="186.80" y="451.30" width="17.60" height="12.60" fill="#d5e6f5"/>
<rect x="204.40" y="451.30" width="17.60" height="12.60" fill="#e3eff9"/>
<rect x="222.00" y="451.30" width="17.60" height="12.60" fill="#aed0ed"/>
<rect x="239.60" y="451.30" width="17.60" height="12.60" fill="#bbd8ef"/>
<rect x="46.00" y="463.90" width="17.60" height="12.60" fill="#c7585c"/>
<rect x="63.60" y="463.90" width="17.60" height="12.60" fill="#c4565a"/>
<rect x="81.20" y="463.90" width="17.60" height="12.60" fill="#d8a0a4"/>
<rect x="98.80" y="463.90" width="17.60" height="12.60" fill="#d3e5f4"/>
<rect x="116.40" y="463.90" width="17.60" height="12.60" fill="#d9e9f6"/>
<rect x="134.00" y="463.90" width="17.60" height="12.60" fill="#b9d6ef"/>
<rect x="151.60" y="463.90" width="17.60" height="12.60" fill="#e0edf8"/>
<rect x="169.20" y="463.90" width="17.60" height="12.60" fill="#eef4fa"/>
<rect x="186.80" y="463.90" width="17.60" height="12.60" fill="#c3dcf1"/>
<rect x="204.40" y="463.90" width="17.60" height="12.60" fill="#d2e5f4"/>
<rect x="222.00" y="463.90" width="17.60" height="12.60" fill="#c8def2"/>
<rect x="239.60" y="463.90" width="17.60" height="12.60" fill="#d9e9f6"/>
<rect x="46.00" y="476.50" width="17.60" height="12.60" fill="#8fbce6"/>
<rect x="63.60" y="476.50" width="17.60" height="12.60" fill="#98c2e8"/>
<rect x="81.20" y="476.50" width="17.60" height="12.60" fill="#98c3e9"/>
<rect x="98.80" y="476.50" width="17.60" height="12.60" fill="#deafb3"/>
<rect x="116.40" y="476.50" width="17.60" height="12.60" fill="#cd7276"/>
<rect x="134.00" y="476.50" width="17.60" height="12.60" fill="#f1f6fb"/>
<rect x="151.60" y="476.50" width="17.60" height="12.60" fill="#f2e1e2"/>
<rect x="169.20" y="476.50" width="17.60" height="12.60" fill="#d0868a"/>
<rect x="186.80" y="476.50" width="17.60" height="12.60" fill="#efd9db"/>
<rect x="204.40" y="476.50" width="17.60" height="12.60" fill="#fbf8f9"/>
<rect x="222.00" y="476.50" width="17.60" height="12.60" fill="#c2dbf0"/>
<rect x="239.60" y="476.50" width="17.60" height="12.60" fill="#eef4fa"/>
<rect x="46.00" y="489.10" width="17.60" height="12.60" fill="#afd1ed"/>
<rect x="63.60" y="489.10" width="17.60" height="12.60" fill="#a6cbeb"/>
<rect x="81.20" y="489.10" width="17.60" height="12.60" fill="#9bc4e9"/>
<rect x="98.80" y="489.10" width="17.60" height="12.60" fill="#d39094"/>
<rect x="116.40" y="489.10" width="17.60" height="12.60" fill="#c24a4f"/>
<rect x="134.00" y="489.10" width="17.60" height="12.60" fill="#cae0f2"/>
<rect x="151.60" y="489.10" width="17.60" height="12.60" fill="#f1dcdd"/>
<rect x="169.20" y="489.10" width="17.60" height="12.60" fill="#ecd0d2"/>
<rect x="186.80" y="489.10" width="17.60" height="12.60" fill="#f1dcdd"/>
<rect x="204.40" y="489.10" width="17.60" height="12.60" fill="#eef4fa"/>
<rect x="222.00" y="489.10" width="17.60" height="12.60" fill="#cde2f3"/>
<rect x="239.60" y="489.10" width="17.60" height="12.60" fill="#e4eff9"/>
<rect x="46.00" y="501.70" width="17.60" height="12.60" fill="#a4caeb"/>
<rect x="63.60" y="501.70" width="17.60" height="12.60" fill="#a5caeb"/>
<rect x="81.20" y="501.70" width="17.60" height="12.60" fill="#a3c9eb"/>
<rect x="98.80" y="501.70" width="17.60" height="12.60" fill="#d3888c"/>
<rect x="116.40" y="501.70" width="17.60" height="12.60" fill="#c24d52"/>
<rect x="134.00" y="501.70" width="17.60" height="12.60" fill="#d6e7f5"/>
<rect x="151.60" y="501.70" width="17.60" height="12.60" fill="#e6bcc0"/>
<rect x="169.20" y="501.70" width="17.60" height="12.60" fill="#f1dfe0"/>
<rect x="186.80" y="501.70" width="17.60" height="12.60" fill="#fdfafa"/>
<rect x="204.40" y="501.70" width="17.60" height="12.60" fill="#eef4fa"/>
<rect x="222.00" y="501.70" width="17.60" height="12.60" fill="#d8e8f5"/>
<rect x="239.60" y="501.70" width="17.60" height="12.60" fill="#d8e8f5"/>
<rect x="46.00" y="514.30" width="17.60" height="12.60" fill="#b1d2ee"/>
<rect x="63.60" y="514.30" width="17.60" height="12.60" fill="#b2d3ee"/>
<rect x="81.20" y="514.30" width="17.60" height="12.60" fill="#afd1ed"/>
<rect x="98.80" y="514.30" width="17.60" height="12.60" fill="#cd7175"/>
<rect x="116.40" y="514.30" width="17.60" height="12.60" fill="#c0454a"/>
<rect x="134.00" y="514.30" width="17.60" height="12.60" fill="#d6e7f5"/>
<rect x="151.60" y="514.30" width="17.60" height="12.60" fill="#e6bcc0"/>
<rect x="169.20" y="514.30" width="17.60" height="12.60" fill="#faf8f7"/>
<rect x="186.80" y="514.30" width="17.60" height="12.60" fill="#e6f0f9"/>
<rect x="204.40" y="514.30" width="17.60" height="12.60" fill="#e2eef8"/>
<rect x="222.00" y="514.30" width="17.60" height="12.60" fill="#d8e8f5"/>
<rect x="239.60" y="514.30" width="17.60" height="12.60" fill="#d6e7f5"/>
<rect x="46.00" y="526.90" width="17.60" height="12.60" fill="#b1d2ee"/>
<rect x="63.60" y="526.90" width="17.60" height="12.60" fill="#b5d4ef"/>
<rect x="81.20" y="526.90" width="17.60" height="12.60" fill="#add0ed"/>
<rect x="98.80" y="526.90" width="17.60" height="12.60" fill="#cb6a6e"/>
<rect x="116.40" y="526.90" width="17.60" height="12.60" fill="#c1494e"/>
<rect x="134.00" y="526.90" width="17.60" height="12.60" fill="#e4eff9"/>
<rect x="151.60" y="526.90" width="17.60" height="12.60" fill="#e6bcc0"/>
<rect x="169.20" y="526.90" width="17.60" height="12.60" fill="#faf6f5"/>
<rect x="186.80" y="526.90" width="17.60" height="12.60" fill="#eaf2fa"/>
<rect x="204.40" y="526.90" width="17.60" height="12.60" fill="#dfecf7"/>
<rect x="222.00" y="526.90" width="17.60" height="12.60" fill="#d1e4f4"/>
<rect x="239.60" y="526.90" width="17.60" height="12.60" fill="#d5e6f5"/>
<rect x="46.00" y="539.50" width="17.60" height="12.60" fill="#9fc7ea"/>
<rect x="63.60" y="539.50" width="17.60" height="12.60" fill="#9bc4e9"/>
<rect x="81.20" y="539.50" width="17.60" height="12.60" fill="#92bee7"/>
<rect x="98.80" y="539.50" width="17.60" height="12.60" fill="#cfe3f3"/>
<rect x="116.40" y="539.50" width="17.60" height="12.60" fill="#d8e9f6"/>
<rect x="134.00" y="539.50" width="17.60" height="12.60" fill="#eff5fb"/>
<rect x="151.60" y="539.50" width="17.60" height="12.60" fill="#f9fbfd"/>
<rect x="169.20" y="539.50" width="17.60" height="12.60" fill="#e3b7bb"/>
<rect x="186.80" y="539.50" width="17.60" height="12.60" fill="#e6bfc2"/>
<rect x="204.40" y="539.50" width="17.60" height="12.60" fill="#e6bfc2"/>
<rect x="222.00" y="539.50" width="17.60" height="12.60" fill="#e2b2b5"/>
<rect x="239.60" y="539.50" width="17.60" height="12.60" fill="#c85b5f"/>
<rect x="46.00" y="552.10" width="17.60" height="12.60" fill="#8fbce6"/>
<rect x="63.60" y="552.10" width="17.60" height="12.60" fill="#92bee7"/>
<rect x="81.20" y="552.10" width="17.60" height="12.60" fill="#93bfe7"/>
<rect x="98.80" y="552.10" width="17.60" height="12.60" fill="#ecd3d5"/>
<rect x="116.40" y="552.10" width="17.60" height="12.60" fill="#d48a8e"/>
<rect x="134.00" y="552.10" width="17.60" height="12.60" fill="#b3d3ee"/>
<rect x="151.60" y="552.10" width="17.60" height="12.60" fill="#dfedf8"/>
<rect x="169.20" y="552.10" width="17.60" height="12.60" fill="#f6ebeb"/>
<rect x="186.80" y="552.10" width="17.60" height="12.60" fill="#d58f93"/>
<rect x="204.40" y="552.10" width="17.60" height="12.60" fill="#dea7aa"/>
<rect x="222.00" y="552.10" width="17.60" height="12.60" fill="#f8f3f3"/>
<rect x="239.60" y="552.10" width="17.60" height="12.60" fill="#eac8ca"/>
<rect x="46.00" y="564.70" width="17.60" height="12.60" fill="#8fbce6"/>
<rect x="63.60" y="564.70" width="17.60" height="12.60" fill="#95c0e8"/>
<rect x="81.20" y="564.70" width="17.60" height="12.60" fill="#93bfe7"/>
<rect x="98.80" y="564.70" width="17.60" height="12.60" fill="#f0e4e5"/>
<rect x="116.40" y="564.70" width="17.60" height="12.60" fill="#d89da0"/>
<rect x="134.00" y="564.70" width="17.60" height="12.60" fill="#b8d6ef"/>
<rect x="151.60" y="564.70" width="17.60" height="12.60" fill="#d8e9f6"/>
<rect x="169.20" y="564.70" width="17.60" height="12.60" fill="#f1e0e1"/>
<rect x="186.80" y="564.70" width="17.60" height="12.60" fill="#d4878b"/>
<rect x="204.40" y="564.70" width="17.60" height="12.60" fill="#da9da0"/>
<rect x="222.00" y="564.70" width="17.60" height="12.60" fill="#f8f4f4"/>
<rect x="239.60" y="564.70" width="17.60" height="12.60" fill="#eac8ca"/>
<path d="M46.00 325.30V577.30M63.60 325.30V577.30M81.20 325.30V577.30M98.80 325.30V577.30M116.40 325.30V577.30M134.00 325.30V577.30M151.60 325.30V577.30M169.20 325.30V577.30M186.80 325.30V577.30M204.40 325.30V577.30M222.00 325.30V577.30M239.60 325.30V577.30M257.20 325.30V577.30M46.00 325.30H257.20M46.00 337.90H257.20M46.00 350.50H257.20M46.00 363.10H257.20M46.00 375.70H257.20M46.00 388.30H257.20M46.00 400.90H257.20M46.00 413.50H257.20M46.00 426.10H257.20M46.00 438.70H257.20M46.00 451.30H257.20M46.00 463.90H257.20M46.00 476.50H257.20M46.00 489.10H257.20M46.00 501.70H257.20M46.00 514.30H257.20M46.00 526.90H257.20M46.00 539.50H257.20M46.00 552.10H257.20M46.00 564.70H257.20M46.00 577.30H257.20" stroke="#a0a0a0" stroke-width="0.8" fill="none"/>
<text x="259.7" y="334.4" font-size="7.6" fill="#1a1a1a">D2HGDH</text>
<text x="259.7" y="346.9" font-size="7.6" fill="#1a1a1a">HIBCH</text>
<text x="259.7" y="359.6" font-size="7.6" fill="#1a1a1a">ECHS1</text>
<text x="259.7" y="372.2" font-size="7.6" font-style="italic" fill="#1a1a1a">C35A5.3</text>
<text x="259.7" y="384.8" font-size="7.6" font-style="italic" fill="#1a1a1a">F15E6.4</text>
<text x="259.7" y="397.4" font-size="7.6" fill="#1a1a1a">MSRB1</text>
<text x="259.7" y="409.9" font-size="7.6" fill="#1a1a1a">MSRA</text>
<text x="259.7" y="422.6" font-size="7.6" fill="#1a1a1a">MSRB2</text>
<text x="259.7" y="435.1" font-size="7.6" font-style="italic" fill="#1a1a1a">T15B7.1</text>
<text x="259.7" y="447.8" font-size="7.6" fill="#1a1a1a">EPHX1</text>
<text x="259.7" y="460.4" font-size="7.6" fill="#1a1a1a">SERAC1</text>
<text x="259.7" y="473" font-size="7.6" fill="#1a1a1a">SLC23A3</text>
<text x="259.7" y="485.6" font-size="7.6" font-style="italic" fill="#1a1a1a">msp-49</text>
<text x="259.7" y="498.1" font-size="7.6" font-style="italic" fill="#1a1a1a">asp-14</text>
<text x="259.7" y="510.8" font-size="7.6" font-style="italic" fill="#1a1a1a">msp-50</text>
<text x="259.7" y="523.4" font-size="7.6" font-style="italic" fill="#1a1a1a">msd-4</text>
<text x="259.7" y="536" font-size="7.6" font-style="italic" fill="#1a1a1a">msp-3</text>
<text x="259.7" y="548.5" font-size="7.6" fill="#1a1a1a">SMPD1</text>
<text x="259.7" y="561.1" font-size="7.6" font-style="italic" fill="#1a1a1a">col-81</text>
<text x="259.7" y="573.8" font-size="7.6" font-style="italic" fill="#1a1a1a">col-139</text>
<rect x="51.6" y="320.4" width="42.0" height="1.5" fill="#555"/>
<text x="72.4" y="318.4" font-size="7.9" text-anchor="middle" fill="#333">Wild-type</text>
<rect x="104.4" y="320.4" width="42.0" height="1.5" fill="#555"/>
<text x="125.2" y="318.4" font-size="7.9" text-anchor="middle" fill="#333">W1044X</text>
<rect x="157.2" y="320.4" width="42.0" height="1.5" fill="#555"/>
<text x="178" y="318.4" font-size="7.9" text-anchor="middle" fill="#333">S1444R</text>
<rect x="210.0" y="320.4" width="42.0" height="1.5" fill="#555"/>
<text x="230.8" y="318.4" font-size="7.9" text-anchor="middle" font-style="italic" fill="#333">Δegl-1</text>
<defs><linearGradient id="hmg" x1="0" y1="0" x2="0" y2="1"><stop offset="0" stop-color="#b4262c"/><stop offset="0.25" stop-color="#d07378"/><stop offset="0.5" stop-color="#ffffff"/><stop offset="0.75" stop-color="#a3c7ea"/><stop offset="1" stop-color="#3c7ad3"/></linearGradient></defs>
<rect x="300.0" y="386.7" width="8.8" height="127.5" fill="url(#hmg)"/>
<text x="312.2" y="405.7" font-size="7.6" fill="#333">2</text>
<text x="312.2" y="430" font-size="7.6" fill="#333">1</text>
<text x="312.2" y="453.9" font-size="7.6" fill="#333">0</text>
<text x="311.5" y="477.9" font-size="7.6" fill="#333">-1</text>
<text x="311.5" y="501.8" font-size="7.6" fill="#333">-2</text>
<path d="M38.2 331.6L46.0 331.6M41.5 344.2L46.0 344.2M41.5 356.8L46.0 356.8M41.5 344.2L41.5 356.8M38.2 350.5L41.5 350.5M38.2 331.6L38.2 350.5M33.6 341.1L38.2 341.1M39.2 369.4L46.0 369.4M43.3 382.0L46.0 382.0M44.8 394.6L46.0 394.6M45.4 407.2L46.0 407.2M45.4 419.8L46.0 419.8M45.4 407.2L45.4 419.8M44.8 413.5L45.4 413.5M44.8 394.6L44.8 413.5M43.3 404.1L44.8 404.1M43.3 382.0L43.3 404.1M41.0 393.0L43.3 393.0M42.3 432.4L46.0 432.4M42.3 445.0L46.0 445.0M42.3 432.4L42.3 445.0M41.0 438.7L42.3 438.7M41.0 393.0L41.0 438.7M39.2 415.9L41.0 415.9M39.2 369.4L39.2 415.9M34.2 392.6L39.2 392.6M37.0 457.6L46.0 457.6M37.0 470.2L46.0 470.2M37.0 457.6L37.0 470.2M34.2 463.9L37.0 463.9M34.2 392.6L34.2 463.9M33.6 428.3L34.2 428.3M33.6 341.1L33.6 428.3M1.4 384.7L33.6 384.7M32.3 482.8L46.0 482.8M39.5 495.4L46.0 495.4M41.6 508.0L46.0 508.0M44.7 520.6L46.0 520.6M44.7 533.2L46.0 533.2M44.7 520.6L44.7 533.2M41.6 526.9L44.7 526.9M41.6 508.0L41.6 526.9M39.5 517.5L41.6 517.5M39.5 495.4L39.5 517.5M32.3 506.4L39.5 506.4M32.3 482.8L32.3 506.4M12.3 494.6L32.3 494.6M25.9 545.8L46.0 545.8M43.6 558.4L46.0 558.4M43.6 571.0L46.0 571.0M43.6 558.4L43.6 571.0M25.9 564.7L43.6 564.7M25.9 545.8L25.9 564.7M12.3 555.2L25.9 555.2M12.3 494.6L12.3 555.2M1.4 524.9L12.3 524.9M1.4 384.7L1.4 524.9" stroke="#444" stroke-width="0.8" fill="none"/>
<text x="351.6" y="309.4" font-size="12.5" fill="#000" stroke="#000" stroke-width="0.2">D</text>
<rect x="471.5" y="348.7" width="77.7" height="206.7" fill="#fff"/>
<line x1="483.2" y1="348.7" x2="483.2" y2="555.4" stroke="#f4f4f4" stroke-width="0.6"/>
<line x1="502.5" y1="348.7" x2="502.5" y2="555.4" stroke="#f4f4f4" stroke-width="0.6"/>
<line x1="521.7" y1="348.7" x2="521.7" y2="555.4" stroke="#f4f4f4" stroke-width="0.6"/>
<line x1="541" y1="348.7" x2="541" y2="555.4" stroke="#f4f4f4" stroke-width="0.6"/>
<line x1="473.6" y1="348.7" x2="473.6" y2="555.4" stroke="#ebebeb" stroke-width="0.9"/>
<line x1="492.9" y1="348.7" x2="492.9" y2="555.4" stroke="#ebebeb" stroke-width="0.9"/>
<line x1="512.1" y1="348.7" x2="512.1" y2="555.4" stroke="#ebebeb" stroke-width="0.9"/>
<line x1="531.4" y1="348.7" x2="531.4" y2="555.4" stroke="#ebebeb" stroke-width="0.9"/>
<line x1="471.5" y1="356.9" x2="549.2" y2="356.9" stroke="#ebebeb" stroke-width="0.9"/>
<line x1="471.5" y1="370.5" x2="549.2" y2="370.5" stroke="#ebebeb" stroke-width="0.9"/>
<line x1="471.5" y1="384.1" x2="549.2" y2="384.1" stroke="#ebebeb" stroke-width="0.9"/>
<line x1="471.5" y1="397.7" x2="549.2" y2="397.7" stroke="#ebebeb" stroke-width="0.9"/>
<line x1="471.5" y1="411.3" x2="549.2" y2="411.3" stroke="#ebebeb" stroke-width="0.9"/>
<line x1="471.5" y1="424.9" x2="549.2" y2="424.9" stroke="#ebebeb" stroke-width="0.9"/>
<line x1="471.5" y1="438.5" x2="549.2" y2="438.5" stroke="#ebebeb" stroke-width="0.9"/>
<line x1="471.5" y1="452.1" x2="549.2" y2="452.1" stroke="#ebebeb" stroke-width="0.9"/>
<line x1="471.5" y1="465.7" x2="549.2" y2="465.7" stroke="#ebebeb" stroke-width="0.9"/>
<line x1="471.5" y1="479.3" x2="549.2" y2="479.3" stroke="#ebebeb" stroke-width="0.9"/>
<line x1="471.5" y1="492.9" x2="549.2" y2="492.9" stroke="#ebebeb" stroke-width="0.9"/>
<line x1="471.5" y1="506.5" x2="549.2" y2="506.5" stroke="#ebebeb" stroke-width="0.9"/>
<line x1="471.5" y1="520.1" x2="549.2" y2="520.1" stroke="#ebebeb" stroke-width="0.9"/>
<line x1="471.5" y1="533.7" x2="549.2" y2="533.7" stroke="#ebebeb" stroke-width="0.9"/>
<line x1="471.5" y1="547.3" x2="549.2" y2="547.3" stroke="#ebebeb" stroke-width="0.9"/>
<rect x="553.3" y="348.7" width="76.7" height="206.7" fill="#fff"/>
<line x1="565" y1="348.7" x2="565" y2="555.4" stroke="#f4f4f4" stroke-width="0.6"/>
<line x1="584.3" y1="348.7" x2="584.3" y2="555.4" stroke="#f4f4f4" stroke-width="0.6"/>
<line x1="603.5" y1="348.7" x2="603.5" y2="555.4" stroke="#f4f4f4" stroke-width="0.6"/>
<line x1="622.8" y1="348.7" x2="622.8" y2="555.4" stroke="#f4f4f4" stroke-width="0.6"/>
<line x1="555.4" y1="348.7" x2="555.4" y2="555.4" stroke="#ebebeb" stroke-width="0.9"/>
<line x1="574.6" y1="348.7" x2="574.6" y2="555.4" stroke="#ebebeb" stroke-width="0.9"/>
<line x1="593.9" y1="348.7" x2="593.9" y2="555.4" stroke="#ebebeb" stroke-width="0.9"/>
<line x1="613.1" y1="348.7" x2="613.1" y2="555.4" stroke="#ebebeb" stroke-width="0.9"/>
<line x1="553.3" y1="356.9" x2="630" y2="356.9" stroke="#ebebeb" stroke-width="0.9"/>
<line x1="553.3" y1="370.5" x2="630" y2="370.5" stroke="#ebebeb" stroke-width="0.9"/>
<line x1="553.3" y1="384.1" x2="630" y2="384.1" stroke="#ebebeb" stroke-width="0.9"/>
<line x1="553.3" y1="397.7" x2="630" y2="397.7" stroke="#ebebeb" stroke-width="0.9"/>
<line x1="553.3" y1="411.3" x2="630" y2="411.3" stroke="#ebebeb" stroke-width="0.9"/>
<line x1="553.3" y1="424.9" x2="630" y2="424.9" stroke="#ebebeb" stroke-width="0.9"/>
<line x1="553.3" y1="438.5" x2="630" y2="438.5" stroke="#ebebeb" stroke-width="0.9"/>
<line x1="553.3" y1="452.1" x2="630" y2="452.1" stroke="#ebebeb" stroke-width="0.9"/>
<line x1="553.3" y1="465.7" x2="630" y2="465.7" stroke="#ebebeb" stroke-width="0.9"/>
<line x1="553.3" y1="479.3" x2="630" y2="479.3" stroke="#ebebeb" stroke-width="0.9"/>
<line x1="553.3" y1="492.9" x2="630" y2="492.9" stroke="#ebebeb" stroke-width="0.9"/>
<line x1="553.3" y1="506.5" x2="630" y2="506.5" stroke="#ebebeb" stroke-width="0.9"/>
<line x1="553.3" y1="520.1" x2="630" y2="520.1" stroke="#ebebeb" stroke-width="0.9"/>
<line x1="553.3" y1="533.7" x2="630" y2="533.7" stroke="#ebebeb" stroke-width="0.9"/>
<line x1="553.3" y1="547.3" x2="630" y2="547.3" stroke="#ebebeb" stroke-width="0.9"/>
<circle cx="516.9" cy="397.7" r="5.1" fill="#4a80c2" stroke="#333" stroke-width="0.6"/>
<circle cx="506.6" cy="424.9" r="6.0" fill="#4b7cbf" stroke="#333" stroke-width="0.6"/>
<circle cx="505.4" cy="438.5" r="6.0" fill="#5373b2" stroke="#333" stroke-width="0.6"/>
<circle cx="496.8" cy="465.7" r="5.6" fill="#7d6097" stroke="#333" stroke-width="0.6"/>
<circle cx="496.8" cy="479.3" r="5.6" fill="#7d6097" stroke="#333" stroke-width="0.6"/>
<circle cx="627.0" cy="356.9" r="3.4" fill="#e05a5f" stroke="#333" stroke-width="0.6"/>
<circle cx="602.9" cy="370.5" r="3.5" fill="#df5a5f" stroke="#333" stroke-width="0.6"/>
<circle cx="602.9" cy="384.1" r="3.5" fill="#df5a5f" stroke="#333" stroke-width="0.6"/>
<circle cx="595.1" cy="411.3" r="3.0" fill="#dc5a60" stroke="#333" stroke-width="0.6"/>
<circle cx="585.3" cy="452.1" r="2.7" fill="#b05870" stroke="#333" stroke-width="0.6"/>
<circle cx="571.2" cy="492.9" r="3.0" fill="#df5a5f" stroke="#333" stroke-width="0.6"/>
<circle cx="568.5" cy="506.5" r="3.0" fill="#df5a5f" stroke="#333" stroke-width="0.6"/>
<circle cx="559.3" cy="520.1" r="2.4" fill="#e05a5f" stroke="#333" stroke-width="0.6"/>
<circle cx="558.5" cy="533.7" r="2.4" fill="#e05a5f" stroke="#333" stroke-width="0.6"/>
<circle cx="556.3" cy="547.3" r="2.1" fill="#e05a5f" stroke="#333" stroke-width="0.6"/>
<rect x="471.5" y="348.7" width="77.7" height="206.7" fill="none" stroke="#8c8c8c" stroke-width="0.9"/>
<rect x="471.5" y="337.3" width="77.7" height="11.4" fill="#d9d9d9" stroke="#8c8c8c" stroke-width="0.7"/>
<text x="510.4" y="345.2" font-size="5.9" text-anchor="middle" fill="#1a1a1a">activated</text>
<line x1="473.6" y1="555.4" x2="473.6" y2="557.6" stroke="#333" stroke-width="0.6"/>
<text x="473.6" y="564.4" font-size="6.4" text-anchor="middle" fill="#4d4d4d">1</text>
<line x1="492.9" y1="555.4" x2="492.9" y2="557.6" stroke="#333" stroke-width="0.6"/>
<text x="492.9" y="564.4" font-size="6.4" text-anchor="middle" fill="#4d4d4d">2</text>
<line x1="512.1" y1="555.4" x2="512.1" y2="557.6" stroke="#333" stroke-width="0.6"/>
<text x="512.1" y="564.4" font-size="6.4" text-anchor="middle" fill="#4d4d4d">3</text>
<line x1="531.4" y1="555.4" x2="531.4" y2="557.6" stroke="#333" stroke-width="0.6"/>
<text x="531.4" y="564.4" font-size="6.4" text-anchor="middle" fill="#4d4d4d">4</text>
<rect x="553.3" y="348.7" width="76.7" height="206.7" fill="none" stroke="#8c8c8c" stroke-width="0.9"/>
<rect x="553.3" y="337.3" width="76.7" height="11.4" fill="#d9d9d9" stroke="#8c8c8c" stroke-width="0.7"/>
<text x="591.6" y="345.2" font-size="5.9" text-anchor="middle" fill="#1a1a1a">suppressed</text>
<line x1="555.4" y1="555.4" x2="555.4" y2="557.6" stroke="#333" stroke-width="0.6"/>
<text x="555.4" y="564.4" font-size="6.4" text-anchor="middle" fill="#4d4d4d">1</text>
<line x1="574.6" y1="555.4" x2="574.6" y2="557.6" stroke="#333" stroke-width="0.6"/>
<text x="574.6" y="564.4" font-size="6.4" text-anchor="middle" fill="#4d4d4d">2</text>
<line x1="593.9" y1="555.4" x2="593.9" y2="557.6" stroke="#333" stroke-width="0.6"/>
<text x="593.9" y="564.4" font-size="6.4" text-anchor="middle" fill="#4d4d4d">3</text>
<line x1="613.1" y1="555.4" x2="613.1" y2="557.6" stroke="#333" stroke-width="0.6"/>
<text x="613.1" y="564.4" font-size="6.4" text-anchor="middle" fill="#4d4d4d">4</text>
<text x="550.8" y="574.4" font-size="8.0" text-anchor="middle" fill="#1a1a1a">GeneRatio</text>
<text x="468.2" y="351" font-size="8.1" text-anchor="end" fill="#1e1e1e">positive regulation of</text>
<text x="468.2" y="359.8" font-size="8.1" text-anchor="end" fill="#1e1e1e">cellular component</text>
<text x="468.2" y="368.6" font-size="8.1" text-anchor="end" fill="#1e1e1e">organization</text>
<line x1="469.3" y1="356.9" x2="471.5" y2="356.9" stroke="#333" stroke-width="0.6"/>
<text x="468.2" y="373.4" font-size="8.1" text-anchor="end" fill="#1e1e1e">nematode larval development</text>
<line x1="469.3" y1="370.5" x2="471.5" y2="370.5" stroke="#333" stroke-width="0.6"/>
<text x="468.2" y="387" font-size="8.1" text-anchor="end" fill="#1e1e1e">larval development</text>
<line x1="469.3" y1="384.1" x2="471.5" y2="384.1" stroke="#333" stroke-width="0.6"/>
<text x="468.2" y="400.6" font-size="8.1" text-anchor="end" fill="#1e1e1e">phosphorylation</text>
<line x1="469.3" y1="397.7" x2="471.5" y2="397.7" stroke="#333" stroke-width="0.6"/>
<text x="468.2" y="414.2" font-size="8.1" text-anchor="end" fill="#1e1e1e">muscle structure development</text>
<line x1="469.3" y1="411.3" x2="471.5" y2="411.3" stroke="#333" stroke-width="0.6"/>
<text x="468.2" y="427.8" font-size="8.1" text-anchor="end" fill="#1e1e1e">protein modification process</text>
<line x1="469.3" y1="424.9" x2="471.5" y2="424.9" stroke="#333" stroke-width="0.6"/>
<text x="468.2" y="441.4" font-size="8.1" text-anchor="end" fill="#1e1e1e">macromolecule modification</text>
<line x1="469.3" y1="438.5" x2="471.5" y2="438.5" stroke="#333" stroke-width="0.6"/>
<text x="468.2" y="455" font-size="8.1" text-anchor="end" fill="#1e1e1e">animal organ morphogenesis</text>
<line x1="469.3" y1="452.1" x2="471.5" y2="452.1" stroke="#333" stroke-width="0.6"/>
<text x="468.2" y="468.6" font-size="8.1" text-anchor="end" fill="#1e1e1e">phosphorus metabolic process</text>
<line x1="469.3" y1="465.7" x2="471.5" y2="465.7" stroke="#333" stroke-width="0.6"/>
<text x="468.2" y="477.8" font-size="8.1" text-anchor="end" fill="#1e1e1e">phosphate-containing</text>
<text x="468.2" y="486.6" font-size="8.1" text-anchor="end" fill="#1e1e1e">compound metabolic process</text>
<line x1="469.3" y1="479.3" x2="471.5" y2="479.3" stroke="#333" stroke-width="0.6"/>
<text x="468.2" y="495.8" font-size="8.1" text-anchor="end" fill="#1e1e1e">organelle assembly</text>
<line x1="469.3" y1="492.9" x2="471.5" y2="492.9" stroke="#333" stroke-width="0.6"/>
<text x="468.2" y="505" font-size="8.1" text-anchor="end" fill="#1e1e1e">non-membrane-bounded</text>
<text x="468.2" y="513.8" font-size="8.1" text-anchor="end" fill="#1e1e1e">organelle assembly</text>
<line x1="469.3" y1="506.5" x2="471.5" y2="506.5" stroke="#333" stroke-width="0.6"/>
<text x="468.2" y="518.6" font-size="8.1" text-anchor="end" fill="#1e1e1e">ribosomal large subunit</text>
<text x="468.2" y="527.4" font-size="8.1" text-anchor="end" fill="#1e1e1e">biogenesis</text>
<line x1="469.3" y1="520.1" x2="471.5" y2="520.1" stroke="#333" stroke-width="0.6"/>
<text x="468.2" y="532.2" font-size="8.1" text-anchor="end" fill="#1e1e1e">protein-containing complex</text>
<text x="468.2" y="541" font-size="8.1" text-anchor="end" fill="#1e1e1e">assembly</text>
<line x1="469.3" y1="533.7" x2="471.5" y2="533.7" stroke="#333" stroke-width="0.6"/>
<text x="468.2" y="545.8" font-size="8.1" text-anchor="end" fill="#1e1e1e">ribosomal small subunit</text>
<text x="468.2" y="554.6" font-size="8.1" text-anchor="end" fill="#1e1e1e">biogenesis</text>
<line x1="469.3" y1="547.3" x2="471.5" y2="547.3" stroke="#333" stroke-width="0.6"/>
<text x="641.8" y="371.8" font-size="7.4" fill="#1a1a1a">p.adjust</text>
<defs><linearGradient id="dpg" x1="0" y1="0" x2="0" y2="1"><stop offset="0" stop-color="#e0595e"/><stop offset="0.5" stop-color="#9a5f86"/><stop offset="1" stop-color="#4a80c2"/></linearGradient></defs>
<rect x="641.8" y="376.0" width="11.5" height="58.7" fill="url(#dpg)"/>
<line x1="641.8" y1="392.4" x2="644" y2="392.4" stroke="#fff" stroke-width="0.6"/>
<line x1="651.1" y1="392.4" x2="653.3" y2="392.4" stroke="#fff" stroke-width="0.6"/>
<text x="656.7" y="394.4" font-size="5.8" fill="#333">0.01</text>
<line x1="641.8" y1="408.1" x2="644" y2="408.1" stroke="#fff" stroke-width="0.6"/>
<line x1="651.1" y1="408.1" x2="653.3" y2="408.1" stroke="#fff" stroke-width="0.6"/>
<text x="656.7" y="410.1" font-size="5.8" fill="#333">0.02</text>
<line x1="641.8" y1="423.9" x2="644" y2="423.9" stroke="#fff" stroke-width="0.6"/>
<line x1="651.1" y1="423.9" x2="653.3" y2="423.9" stroke="#fff" stroke-width="0.6"/>
<text x="656.7" y="425.9" font-size="5.8" fill="#333">0.03</text>
<text x="641.8" y="455.8" font-size="7.4" fill="#1a1a1a">Count</text>
<circle cx="649.2" cy="466.1" r="3.9" fill="none" stroke="#333" stroke-width="0.6"/>
<text x="660.8" y="468.1" font-size="5.8" fill="#333">100</text>
<circle cx="649.2" cy="478.2" r="4.5" fill="none" stroke="#333" stroke-width="0.6"/>
<text x="660.8" y="480.2" font-size="5.8" fill="#333">200</text>
<circle cx="649.2" cy="490.0" r="5.2" fill="none" stroke="#333" stroke-width="0.6"/>
<text x="660.8" y="492" font-size="5.8" fill="#333">300</text>
<circle cx="649.2" cy="502.7" r="5.8" fill="none" stroke="#333" stroke-width="0.6"/>
<text x="660.8" y="504.7" font-size="5.8" fill="#333">400</text>
<circle cx="649.2" cy="516.7" r="6.3" fill="none" stroke="#333" stroke-width="0.6"/>
<text x="660.8" y="518.7" font-size="5.8" fill="#333">500</text>
<circle cx="649.2" cy="531.6" r="6.8" fill="none" stroke="#333" stroke-width="0.6"/>
<text x="660.8" y="533.6" font-size="5.8" fill="#333">600</text>
<text x="19.4" y="618" font-size="12.5" fill="#000" stroke="#000" stroke-width="0.2">E</text>
<line x1="123.6" y1="634.2" x2="53.3" y2="709.3" stroke="#9c9c9c" stroke-width="0.7"/>
<line x1="53.3" y1="709.3" x2="54.2" y2="705.8" stroke="#9c9c9c" stroke-width="0.6"/>
<line x1="53.3" y1="709.3" x2="56.8" y2="708.1" stroke="#9c9c9c" stroke-width="0.6"/>
<line x1="123.6" y1="634.2" x2="195" y2="786.6" stroke="#949494" stroke-width="0.6" stroke-dasharray="1.6 1.4"/>
<line x1="195" y1="786.6" x2="192.1" y2="784.5" stroke="#949494" stroke-width="0.6"/>
<line x1="195" y1="786.6" x2="195.2" y2="783" stroke="#949494" stroke-width="0.6"/>
<line x1="269.8" y1="634.2" x2="269.8" y2="708.1" stroke="#9c9c9c" stroke-width="0.7"/>
<line x1="269.8" y1="708.1" x2="268.1" y2="704.9" stroke="#9c9c9c" stroke-width="0.6"/>
<line x1="269.8" y1="708.1" x2="271.5" y2="704.9" stroke="#9c9c9c" stroke-width="0.6"/>
<line x1="50.4" y1="712.4" x2="50.4" y2="786.2" stroke="#9c9c9c" stroke-width="0.7"/>
<line x1="50.4" y1="786.2" x2="48.7" y2="783" stroke="#9c9c9c" stroke-width="0.6"/>
<line x1="50.4" y1="786.2" x2="52.1" y2="783" stroke="#9c9c9c" stroke-width="0.6"/>
<line x1="50.4" y1="712.4" x2="15.1" y2="864.3" stroke="#9c9c9c" stroke-width="0.7"/>
<line x1="15.1" y1="864.3" x2="14.1" y2="860.8" stroke="#9c9c9c" stroke-width="0.6"/>
<line x1="15.1" y1="864.3" x2="17.5" y2="861.6" stroke="#9c9c9c" stroke-width="0.6"/>
<line x1="50.4" y1="712.4" x2="85.8" y2="864.3" stroke="#9c9c9c" stroke-width="0.7"/>
<line x1="85.8" y1="864.3" x2="83.4" y2="861.6" stroke="#9c9c9c" stroke-width="0.6"/>
<line x1="85.8" y1="864.3" x2="86.8" y2="860.8" stroke="#9c9c9c" stroke-width="0.6"/>
<line x1="50.4" y1="790.5" x2="15.9" y2="864.6" stroke="#949494" stroke-width="0.6" stroke-dasharray="1.6 1.4"/>
<line x1="15.9" y1="864.6" x2="15.7" y2="861" stroke="#949494" stroke-width="0.6"/>
<line x1="15.9" y1="864.6" x2="18.8" y2="862.5" stroke="#949494" stroke-width="0.6"/>
<line x1="50.4" y1="790.5" x2="85" y2="864.6" stroke="#949494" stroke-width="0.6" stroke-dasharray="1.6 1.4"/>
<line x1="85" y1="864.6" x2="82.1" y2="862.5" stroke="#949494" stroke-width="0.6"/>
<line x1="85" y1="864.6" x2="85.2" y2="861" stroke="#949494" stroke-width="0.6"/>
<line x1="269.8" y1="712.4" x2="199.7" y2="787.4" stroke="#9c9c9c" stroke-width="0.7"/>
<line x1="199.7" y1="787.4" x2="200.6" y2="783.9" stroke="#9c9c9c" stroke-width="0.6"/>
<line x1="199.7" y1="787.4" x2="203.2" y2="786.2" stroke="#9c9c9c" stroke-width="0.6"/>
<line x1="269.8" y1="712.4" x2="269.8" y2="786.2" stroke="#9c9c9c" stroke-width="0.7"/>
<line x1="269.8" y1="786.2" x2="268.1" y2="783" stroke="#9c9c9c" stroke-width="0.6"/>
<line x1="269.8" y1="786.2" x2="271.5" y2="783" stroke="#9c9c9c" stroke-width="0.6"/>
<line x1="196.8" y1="790.5" x2="231.5" y2="864.6" stroke="#9c9c9c" stroke-width="0.7"/>
<line x1="231.5" y1="864.6" x2="228.6" y2="862.5" stroke="#9c9c9c" stroke-width="0.6"/>
<line x1="231.5" y1="864.6" x2="231.7" y2="861" stroke="#9c9c9c" stroke-width="0.6"/>
<line x1="269.8" y1="790.5" x2="235.1" y2="864.6" stroke="#9c9c9c" stroke-width="0.7"/>
<line x1="235.1" y1="864.6" x2="234.9" y2="861" stroke="#9c9c9c" stroke-width="0.6"/>
<line x1="235.1" y1="864.6" x2="238" y2="862.5" stroke="#9c9c9c" stroke-width="0.6"/>
<circle cx="123.6" cy="634.2" r="4.1" fill="#808080"/>
<circle cx="269.8" cy="634.2" r="4.1" fill="#808080"/>
<circle cx="50.4" cy="712.4" r="4.1" fill="#808080"/>
<circle cx="269.8" cy="712.4" r="4.1" fill="#808080"/>
<circle cx="50.4" cy="790.5" r="4.1" fill="#808080"/>
<circle cx="196.8" cy="790.5" r="4.1" fill="#808080"/>
<circle cx="269.8" cy="790.5" r="4.1" fill="#808080"/>
<circle cx="14.1" cy="868.5" r="4.1" fill="#4a80c2"/>
<circle cx="86.8" cy="868.5" r="4.1" fill="#b55a78"/>
<circle cx="233.3" cy="868.5" r="4.1" fill="#e0575c"/>
<text x="67" y="630.6" font-size="7.45" fill="#1a1a1a">cellular component biogenesis</text>
<text x="128.4" y="643.3" font-size="7.45" fill="#1a1a1a">cellular component organization or biogenesis</text>
<text x="41" y="715.5" font-size="7.45" fill="#1a1a1a">ribonucleoprotein complex biogenesis</text>
<text x="161.3" y="715.6" font-size="7.45" fill="#1a1a1a">cellular component organization</text>
<text x="22.8" y="787.7" font-size="7.45" fill="#1a1a1a">ribosome biogenesis</text>
<text x="97.3" y="794.4" font-size="7.45" fill="#1a1a1a">cellular component assembly</text>
<text x="198.5" y="787.6" font-size="7.45" fill="#1a1a1a">organelle organization</text>
<text x="3.7" y="877.6" font-size="7.45" fill="#1a1a1a">ribosomal large subunit biogenesis</text>
<text x="90.6" y="866.4" font-size="7.45" fill="#1a1a1a">ribosomal small subunit biogenesis</text>
<text x="207.2" y="877.5" font-size="7.45" fill="#1a1a1a">organelle assembly</text>
<text x="286.6" y="704.1" font-size="7.4" fill="#1a1a1a">p.adjust</text>
<rect x="286.6" y="708.1" width="11.5" height="58.4" fill="url(#dpg)"/>
<line x1="286.6" y1="724.4" x2="288.8" y2="724.4" stroke="#fff" stroke-width="0.6"/>
<line x1="295.9" y1="724.4" x2="298.1" y2="724.4" stroke="#fff" stroke-width="0.6"/>
<text x="301.9" y="726.5" font-size="5.95" fill="#333">1e-06</text>
<line x1="286.6" y1="741.3" x2="288.8" y2="741.3" stroke="#fff" stroke-width="0.6"/>
<line x1="295.9" y1="741.3" x2="298.1" y2="741.3" stroke="#fff" stroke-width="0.6"/>
<text x="301.9" y="743.4" font-size="5.95" fill="#333">2e-06</text>
<line x1="286.6" y1="758.1" x2="288.8" y2="758.1" stroke="#fff" stroke-width="0.6"/>
<line x1="295.9" y1="758.1" x2="298.1" y2="758.1" stroke="#fff" stroke-width="0.6"/>
<text x="301.9" y="760.2" font-size="5.95" fill="#333">3e-06</text>
<text x="286.6" y="778" font-size="7.4" fill="#1a1a1a">relationship</text>
<line x1="287.5" y1="788.1" x2="296.9" y2="788.1" stroke="#a0a0a0" stroke-width="0.7"/>
<line x1="296.9" y1="788.1" x2="294" y2="786.4" stroke="#a0a0a0" stroke-width="0.6"/>
<line x1="296.9" y1="788.1" x2="294" y2="789.8" stroke="#a0a0a0" stroke-width="0.6"/>
<text x="301.9" y="790.1" font-size="5.7" fill="#333">isa</text>
<line x1="287.5" y1="799.7" x2="296.9" y2="799.7" stroke="#a0a0a0" stroke-width="0.6" stroke-dasharray="1.6 1.4"/>
<line x1="296.9" y1="799.7" x2="294" y2="798" stroke="#a0a0a0" stroke-width="0.6"/>
<line x1="296.9" y1="799.7" x2="294" y2="801.4" stroke="#a0a0a0" stroke-width="0.6"/>
<text x="301.5" y="801.7" font-size="5.7" fill="#333">part of</text>
</svg></body></html>
